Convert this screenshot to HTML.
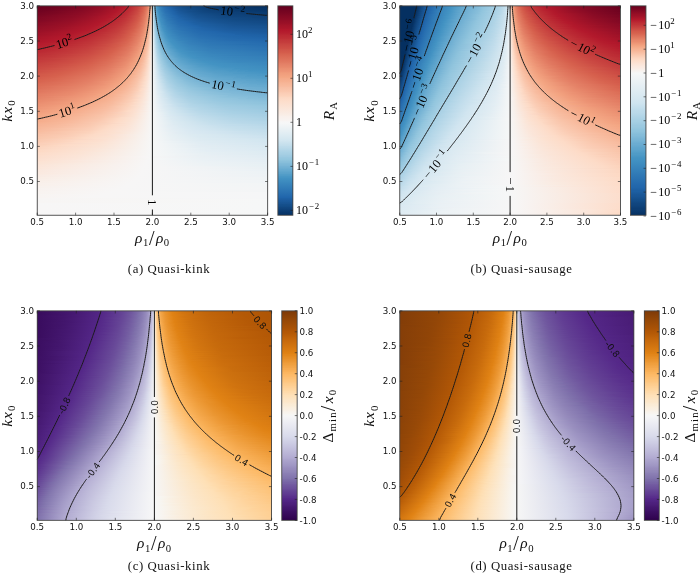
<!DOCTYPE html>
<html lang="en"><head><meta charset="utf-8"><title>Figure</title>
<style>
html,body{margin:0;padding:0;background:#fff}
body{width:700px;height:573px;position:relative;overflow:hidden}
.h{position:absolute}.h i{display:block;height:1px}
.cb{position:absolute}
svg{position:absolute;left:0;top:0;will-change:transform}
.s{font-family:"DejaVu Sans","Liberation Sans",sans-serif;fill:#111}
.m{font-family:"Liberation Serif","DejaVu Serif",serif;fill:#000}
.mi{font-family:"Liberation Serif","DejaVu Serif",serif;font-style:italic;fill:#111;letter-spacing:1.2px}
.c{font-family:"Liberation Serif","DejaVu Serif",serif;fill:#111}
</style></head><body>
<div class="h" style="left:37px;top:6px;width:231px;height:209px"><i style="background:linear-gradient(90deg,#67001f 0px,#700320 21.5px,#810823 47.5px,#930e26 65.5px,#a81529 80.5px,#b1182b 85.5px,#b61f2e 89.5px,#c94741 102.5px,#d55d4c 106.5px,#db6b55 108.5px,#e37e64 110.5px,#f09c7b 112.5px,#f6b191 113.5px,#fbceb7 114.5px,#f3f5f6 115.5px,#acd2e5 116.5px,#81bad8 117.5px,#62a7ce 118.5px,#4c99c6 119.5px,#408fc1 120.5px,#3681ba 122.5px,#246aae 128.5px,#175290 140.5px,#0f437b 156.5px,#08366a 187.5px,#053061 231px)"></i><i style="background:linear-gradient(90deg,#6a011f 0px,#700320 17.5px,#840924 48.5px,#960f27 66.5px,#a81529 79.5px,#b1182b 84.5px,#b61f2e 88.5px,#ba2832 92.5px,#c6413e 100.5px,#d6604d 106.5px,#df765e 109.5px,#e48066 110.5px,#f19e7d 112.5px,#f6b394 113.5px,#fbd0b9 114.5px,#f3f5f6 115.5px,#aed3e6 116.5px,#84bcd9 117.5px,#65a9cf 118.5px,#4f9bc7 119.5px,#4291c2 120.5px,#3783bb 122.5px,#2a71b2 126.5px,#2065ab 131.5px,#185493 140.5px,#144e8a 145.5px,#0f437b 159.5px,#09386d 185.5px,#073467 216.5px,#063264 217.5px,#063264 231px)"></i><i style="background:linear-gradient(90deg,#6a011f 0px,#760521 24.5px,#870a24 49.5px,#9c1127 69.5px,#ae172a 81.5px,#b3192c 83.5px,#b82531 90.5px,#c94741 101.5px,#d35a4a 105.5px,#e17860 109.5px,#e58368 110.5px,#f2a17f 112.5px,#f6b394 113.5px,#fbd0b9 114.5px,#f3f5f6 115.5px,#aed3e6 116.5px,#84bcd9 117.5px,#68abd0 118.5px,#529dc8 119.5px,#4393c3 120.5px,#3480b9 123.5px,#246aae 129.5px,#2065ab 132.5px,#1a5899 138.5px,#144e8a 147.5px,#0e4179 166.5px,#09386d 192.5px,#073467 229.5px,#063264 231px)"></i><i style="background:linear-gradient(90deg,#6d0220 0px,#730421 15.5px,#8a0b25 50.5px,#991027 65.5px,#ae172a 80.5px,#b3192c 82.5px,#b82531 89.5px,#c6413e 99.5px,#d7634f 106.5px,#dd7059 108.5px,#eb9172 111.5px,#f2a17f 112.5px,#f7b596 113.5px,#fcd3bc 114.5px,#f3f5f6 115.5px,#b1d5e7 116.5px,#87beda 117.5px,#6bacd1 118.5px,#569fc9 119.5px,#4695c4 120.5px,#3e8cbf 121.5px,#327cb7 124.5px,#2a71b2 127.5px,#2065ab 133.5px,#195696 141.5px,#124984 154.5px,#0f437b 165.5px,#0a3b70 190.5px,#073467 231px)"></i><i style="background:linear-gradient(90deg,#700320 0px,#730421 11.5px,#870a24 44.5px,#991027 63.5px,#b1182b 80.5px,#be3036 93.5px,#c94741 100.5px,#d6604d 105.5px,#db6b55 107.5px,#e27b62 109.5px,#ec9374 111.5px,#f3a481 112.5px,#f7b799 113.5px,#fcd5bf 114.5px,#f3f5f6 115.5px,#b3d6e8 116.5px,#8ac0db 117.5px,#6bacd1 118.5px,#4695c4 120.5px,#337eb8 124.5px,#2b73b3 127.5px,#1f63a8 135.5px,#1b5a9c 139.5px,#185493 144.5px,#0f437b 169.5px,#0c3d73 189.5px,#0c3d73 197.5px,#0a3b70 198.5px,#08366a 231px)"></i><i style="background:linear-gradient(90deg,#700320 0px,#8a0b25 45.5px,#9c1127 64.5px,#b1182b 79.5px,#bd2d35 91.5px,#cc4c44 101.5px,#d6604d 105.5px,#dc6e57 107.5px,#e37e64 109.5px,#ee9677 111.5px,#f4a683 112.5px,#f7b799 113.5px,#fcd5bf 114.5px,#f3f5f6 115.5px,#b6d7e8 116.5px,#8dc2dc 117.5px,#6eaed2 118.5px,#59a1ca 119.5px,#4997c5 120.5px,#408fc1 121.5px,#3480b9 124.5px,#2a71b2 128.5px,#1f63a8 136.5px,#1a5899 142.5px,#144e8a 153.5px,#10457e 168.5px,#0d3f76 187.5px,#0d3f76 195.5px,#0c3d73 196.5px,#0c3d73 205.5px,#0a3b70 206.5px,#09386d 231px)"></i><i style="background:linear-gradient(90deg,#730421 0px,#7c0722 20.5px,#8d0c25 46.5px,#9c1127 62.5px,#b1182b 78.5px,#bd2d35 90.5px,#c94741 99.5px,#da6853 106.5px,#e48066 109.5px,#ee9677 111.5px,#f4a683 112.5px,#f7b99c 113.5px,#fcd7c2 114.5px,#f3f5f6 115.5px,#b6d7e8 116.5px,#90c4dd 117.5px,#71b0d3 118.5px,#5ca3cb 119.5px,#4c99c6 120.5px,#4291c2 121.5px,#3c8abe 122.5px,#2b73b3 128.5px,#1f63a8 137.5px,#1c5c9f 140.5px,#175290 150.5px,#114781 167.5px,#0e4179 185.5px,#0d3f76 203.5px,#0c3d73 204.5px,#0a3b70 231px)"></i><i style="background:linear-gradient(90deg,#760521 0px,#7c0722 16.5px,#900d26 47.5px,#a51429 68.5px,#b1182b 76.5px,#bb2a34 88.5px,#cc4c44 100.5px,#d6604d 104.5px,#dd7059 107.5px,#e98b6e 110.5px,#ef9979 111.5px,#f5a886 112.5px,#f8bb9e 113.5px,#fcd7c2 114.5px,#f3f5f6 115.5px,#b8d8e9 116.5px,#93c6de 117.5px,#75b2d4 118.5px,#5fa5cd 119.5px,#4f9bc7 120.5px,#4393c3 121.5px,#3e8cbf 122.5px,#2c75b4 128.5px,#2267ac 135.5px,#1b5a9c 143.5px,#134c87 162.5px,#0e4179 192.5px,#0a3b70 231px)"></i><i style="background:linear-gradient(90deg,#760521 0px,#8d0c25 41.5px,#9f1228 61.5px,#b1182b 75.5px,#bb2a34 87.5px,#c53e3d 95.5px,#ce4f45 100.5px,#d55d4c 103.5px,#de735c 107.5px,#e58368 109.5px,#f09c7b 111.5px,#f5aa89 112.5px,#f8bb9e 113.5px,#fdd9c4 114.5px,#f3f5f6 115.5px,#bbdaea 116.5px,#93c6de 117.5px,#78b4d5 118.5px,#62a7ce 119.5px,#4695c4 121.5px,#3f8ec0 122.5px,#327cb7 126.5px,#2267ac 136.5px,#1d5fa2 141.5px,#15508d 158.5px,#0f437b 190.5px,#0c3d73 231px)"></i><i style="background:linear-gradient(90deg,#790622 0px,#900d26 42.5px,#9f1228 59.5px,#b1182b 73.5px,#b82531 83.5px,#bf3338 90.5px,#d05548 101.5px,#dc6e57 106.5px,#e6866a 109.5px,#f09c7b 111.5px,#f5aa89 112.5px,#f8bda1 113.5px,#fddbc7 114.5px,#f3f5f6 115.5px,#bddbea 116.5px,#96c7df 117.5px,#7bb6d6 118.5px,#65a9cf 119.5px,#569fc9 120.5px,#408fc1 122.5px,#3681ba 125.5px,#2c75b4 129.5px,#2065ab 139.5px,#1e61a5 141.5px,#175290 157.5px,#10457e 188.5px,#0d3f76 231px)"></i><i style="background:linear-gradient(90deg,#7c0722 0px,#8d0c25 35.5px,#960f27 47.5px,#b1182b 72.5px,#bf3338 89.5px,#d35a4a 102.5px,#e37e64 108.5px,#eb9172 110.5px,#f19e7d 111.5px,#f5ac8b 112.5px,#f8bfa4 113.5px,#fddbc7 114.5px,#f3f5f6 115.5px,#c0dceb 116.5px,#98c8e0 117.5px,#68abd0 119.5px,#4997c5 121.5px,#3a87bd 124.5px,#2e77b5 129.5px,#2065ab 140.5px,#1d5fa2 144.5px,#175290 160.5px,#10457e 195.5px,#0e4179 231px)"></i><i style="background:linear-gradient(90deg,#7f0823 0px,#8d0c25 32.5px,#991027 48.5px,#b3192c 73.5px,#bb2a34 84.5px,#c43b3c 92.5px,#d05548 100.5px,#d7634f 103.5px,#e17860 107.5px,#e8896c 109.5px,#f2a17f 111.5px,#f6af8e 112.5px,#f8bfa4 113.5px,#fddcc9 114.5px,#f5f6f7 115.5px,#c0dceb 116.5px,#9bc9e0 117.5px,#7eb8d7 118.5px,#59a1ca 120.5px,#4393c3 122.5px,#3b88be 124.5px,#2f79b5 129.5px,#266caf 135.5px,#2267ac 140.5px,#1f63a8 142.5px,#185493 159.5px,#124984 185.5px,#10457e 214.5px,#0f437b 215.5px,#0f437b 229.5px,#0e4179 231px)"></i><i style="background:linear-gradient(90deg,#7f0823 0px,#900d26 33.5px,#9c1127 49.5px,#b1182b 69.5px,#bf3338 87.5px,#c84440 94.5px,#d35a4a 101.5px,#da6853 104.5px,#e27b62 107.5px,#e98b6e 109.5px,#f3a481 111.5px,#f6b191 112.5px,#f9c2a7 113.5px,#fddcc9 114.5px,#f5f6f7 115.5px,#c2ddec 116.5px,#9dcbe1 117.5px,#81bad8 118.5px,#6bacd1 119.5px,#5ca3cb 120.5px,#4695c4 122.5px,#408fc1 123.5px,#327cb7 128.5px,#2267ac 140.5px,#195696 159.5px,#134c87 184.5px,#0f437b 231px)"></i><i style="background:linear-gradient(90deg,#810823 0px,#900d26 30.5px,#9f1228 50.5px,#b1182b 67.5px,#ba2832 80.5px,#c2383a 89.5px,#d05548 99.5px,#d86551 103.5px,#df765e 106.5px,#e58368 108.5px,#f3a481 111.5px,#f6b191 112.5px,#f9c4a9 113.5px,#fdddcb 114.5px,#f5f6f7 115.5px,#c5dfec 116.5px,#a0cce2 117.5px,#84bcd9 118.5px,#6eaed2 119.5px,#5fa5cd 120.5px,#4695c4 122.5px,#408fc1 123.5px,#2f79b5 130.5px,#266caf 137.5px,#2065ab 144.5px,#1e61a5 147.5px,#185493 166.5px,#124984 199.5px,#10457e 231px)"></i><i style="background:linear-gradient(90deg,#840924 0px,#840924 5.5px,#960f27 36.5px,#b3192c 68.5px,#c2383a 88.5px,#c84440 93.5px,#d35a4a 100.5px,#d7634f 102.5px,#e37e64 107.5px,#ea8e70 109.5px,#f4a683 111.5px,#f6b394 112.5px,#f9c4a9 113.5px,#fcdecd 114.5px,#f5f6f7 115.5px,#c5dfec 116.5px,#a0cce2 117.5px,#71b0d3 119.5px,#62a7ce 120.5px,#4997c5 122.5px,#4291c2 123.5px,#307ab6 130.5px,#2369ad 141.5px,#195696 165.5px,#134c87 197.5px,#114781 231px)"></i><i style="background:linear-gradient(90deg,#840924 0px,#960f27 33.5px,#b1182b 64.5px,#bd2d35 81.5px,#c2383a 87.5px,#ce4f45 96.5px,#d6604d 101.5px,#dc6e57 104.5px,#e48066 107.5px,#eb9172 109.5px,#f5a886 111.5px,#f7b596 112.5px,#f9c6ac 113.5px,#fcdecd 114.5px,#f5f6f7 115.5px,#c7e0ed 116.5px,#a2cde3 117.5px,#75b2d4 119.5px,#65a9cf 120.5px,#4393c3 123.5px,#337eb8 129.5px,#246aae 141.5px,#2267ac 146.5px,#1a5899 164.5px,#144e8a 195.5px,#124984 231px)"></i><i style="background:linear-gradient(90deg,#870a24 0px,#991027 34.5px,#b1182b 62.5px,#bf3338 83.5px,#c6413e 90.5px,#d35a4a 99.5px,#e27b62 106.5px,#ec9374 109.5px,#f5a886 111.5px,#f7b596 112.5px,#fac8af 113.5px,#fcdfcf 114.5px,#f5f6f7 115.5px,#cae1ee 116.5px,#a5cee3 117.5px,#78b4d5 119.5px,#59a1ca 121.5px,#408fc1 124.5px,#3480b9 129.5px,#276eb0 139.5px,#2065ab 150.5px,#1d5fa2 156.5px,#175290 185.5px,#124984 231px)"></i><i style="background:linear-gradient(90deg,#8a0b25 0px,#991027 31.5px,#b1182b 60.5px,#bf3338 82.5px,#c53e3d 88.5px,#d6604d 100.5px,#e58368 107.5px,#f19e7d 110.5px,#f7b799 112.5px,#fac8af 113.5px,#fcdfcf 114.5px,#f5f6f7 115.5px,#a7d0e4 117.5px,#8dc2dc 118.5px,#5ca3cb 121.5px,#4291c2 124.5px,#3681ba 129.5px,#2c75b4 135.5px,#266caf 142.5px,#2065ab 152.5px,#1d5fa2 159.5px,#175290 191.5px,#134c87 231px)"></i><i style="background:linear-gradient(90deg,#8a0b25 0px,#9c1127 32.5px,#b3192c 61.5px,#c2383a 84.5px,#d25849 97.5px,#db6b55 102.5px,#e6866a 107.5px,#f2a17f 110.5px,#f7b99c 112.5px,#facab1 113.5px,#fce0d0 114.5px,#f5f6f7 115.5px,#cce2ef 116.5px,#a9d1e5 117.5px,#90c4dd 118.5px,#6bacd1 120.5px,#4393c3 124.5px,#3885bc 128.5px,#2870b1 140.5px,#2065ab 154.5px,#1e61a5 158.5px,#175290 198.5px,#144e8a 231px)"></i><i style="background:linear-gradient(90deg,#8d0c25 0px,#9c1127 29.5px,#b3192c 59.5px,#c2383a 83.5px,#c94741 90.5px,#d55d4c 98.5px,#dd7059 103.5px,#e48066 106.5px,#f3a481 110.5px,#f5ac8b 111.5px,#f7b99c 112.5px,#facab1 113.5px,#fce0d0 114.5px,#f5f6f7 115.5px,#a9d1e5 117.5px,#7eb8d7 119.5px,#6eaed2 120.5px,#4695c4 124.5px,#3681ba 130.5px,#276eb0 143.5px,#2065ab 157.5px,#1d5fa2 165.5px,#185493 196.5px,#15508d 231px)"></i><i style="background:linear-gradient(90deg,#900d26 0px,#9c1127 26.5px,#b3192c 56.5px,#c13639 80.5px,#c94741 89.5px,#d6604d 98.5px,#dc6e57 102.5px,#e58368 106.5px,#eb9172 108.5px,#f3a481 110.5px,#f8bb9e 112.5px,#fbccb4 113.5px,#fce2d2 114.5px,#f5f6f7 115.5px,#acd2e5 117.5px,#81bad8 119.5px,#71b0d3 120.5px,#4f9bc7 123.5px,#4393c3 125.5px,#3783bb 130.5px,#2a71b2 141.5px,#2065ab 160.5px,#1e61a5 164.5px,#195696 195.5px,#175290 229.5px,#15508d 231px)"></i><i style="background:linear-gradient(90deg,#930e26 0px,#991027 17.5px,#b3192c 54.5px,#bf3338 77.5px,#c53e3d 84.5px,#d55d4c 97.5px,#dd7059 102.5px,#e98b6e 107.5px,#f4a683 110.5px,#f8bda1 112.5px,#fbceb7 113.5px,#fce2d2 114.5px,#f5f6f7 115.5px,#aed3e6 117.5px,#84bcd9 119.5px,#75b2d4 120.5px,#5ca3cb 122.5px,#4393c3 125.5px,#3885bc 130.5px,#2b73b3 141.5px,#2065ab 163.5px,#1e61a5 168.5px,#1a5899 193.5px,#175290 231px)"></i><i style="background:linear-gradient(90deg,#930e26 0px,#9f1228 24.5px,#b3192c 52.5px,#bb2a34 69.5px,#c43b3c 81.5px,#ce4f45 91.5px,#d6604d 97.5px,#dc6e57 101.5px,#e48066 105.5px,#f19e7d 109.5px,#f5a886 110.5px,#f6b191 111.5px,#f8bda1 112.5px,#fbceb7 113.5px,#fbe3d4 114.5px,#f5f6f7 115.5px,#b1d5e7 117.5px,#87beda 119.5px,#78b4d5 120.5px,#5fa5cd 122.5px,#4695c4 125.5px,#3b88be 129.5px,#2e77b5 139.5px,#2267ac 159.5px,#1b5a9c 191.5px,#185493 231px)"></i><i style="background:linear-gradient(90deg,#960f27 0px,#9c1127 15.5px,#b3192c 50.5px,#ba2832 65.5px,#c43b3c 80.5px,#cc4c44 89.5px,#d6604d 96.5px,#e17860 103.5px,#ee9677 108.5px,#f5a886 110.5px,#f8bfa4 112.5px,#fbd0b9 113.5px,#fbe3d4 114.5px,#f5f6f7 115.5px,#b3d6e8 117.5px,#9bc9e0 118.5px,#6bacd1 121.5px,#4f9bc7 124.5px,#4393c3 126.5px,#3c8abe 129.5px,#337eb8 135.5px,#2c75b4 142.5px,#2267ac 162.5px,#1c5c9f 189.5px,#195696 231px)"></i><i style="background:linear-gradient(90deg,#991027 0px,#9c1127 11.5px,#b1182b 44.5px,#b41c2d 51.5px,#bd2d35 68.5px,#c6413e 82.5px,#d6604d 96.5px,#df765e 102.5px,#eb9172 107.5px,#f2a17f 109.5px,#f5aa89 110.5px,#f9c2a7 112.5px,#fbe4d6 114.5px,#f5f6f7 115.5px,#b3d6e8 117.5px,#9dcbe1 118.5px,#7bb6d6 120.5px,#6eaed2 121.5px,#529dc8 124.5px,#4695c4 126.5px,#3a87bd 131.5px,#2b73b3 145.5px,#2267ac 165.5px,#1c5c9f 196.5px,#1a5899 231px)"></i><i style="background:linear-gradient(90deg,#991027 0px,#b1182b 41.5px,#b61f2e 52.5px,#be3036 69.5px,#c6413e 81.5px,#d6604d 95.5px,#da6853 98.5px,#e48066 104.5px,#f3a481 109.5px,#f7b596 111.5px,#f9c2a7 112.5px,#fbe4d6 114.5px,#f5f6f7 115.5px,#b6d7e8 117.5px,#a0cce2 118.5px,#7eb8d7 120.5px,#569fc9 124.5px,#4393c3 127.5px,#408fc1 128.5px,#337eb8 137.5px,#266caf 157.5px,#2065ab 179.5px,#1e61a5 186.5px,#1a5899 231px)"></i><i style="background:linear-gradient(90deg,#9c1127 0px,#b1182b 38.5px,#b72230 53.5px,#c53e3d 78.5px,#cc4c44 86.5px,#d6604d 94.5px,#dc6e57 99.5px,#e37e64 103.5px,#ea8e70 106.5px,#f4a683 109.5px,#f7b799 111.5px,#f9c4a9 112.5px,#fbe5d8 114.5px,#f5f6f7 115.5px,#b8d8e9 117.5px,#a2cde3 118.5px,#81bad8 120.5px,#68abd0 122.5px,#4695c4 127.5px,#3e8cbf 130.5px,#307ab6 141.5px,#266caf 160.5px,#2267ac 178.5px,#1e61a5 193.5px,#1b5a9c 231px)"></i><i style="background:linear-gradient(90deg,#9f1228 0px,#b1182b 35.5px,#b82531 54.5px,#bf3338 68.5px,#c94741 82.5px,#cf5246 88.5px,#d6604d 93.5px,#e27b62 102.5px,#ee9677 107.5px,#f4a683 109.5px,#f6af8e 110.5px,#f9c6ac 112.5px,#fbe5d8 114.5px,#f5f6f7 115.5px,#bbdaea 117.5px,#a5cee3 118.5px,#84bcd9 120.5px,#6bacd1 122.5px,#62a7ce 123.5px,#4393c3 128.5px,#3f8ec0 130.5px,#3480b9 138.5px,#2e77b5 146.5px,#266caf 163.5px,#2065ab 190.5px,#1e61a5 200.5px,#1c5c9f 231px)"></i><i style="background:linear-gradient(90deg,#9f1228 0px,#b1182b 32.5px,#ba2832 55.5px,#c84440 79.5px,#d6604d 93.5px,#e37e64 102.5px,#ef9979 107.5px,#f5a886 109.5px,#f7b99c 111.5px,#f9c6ac 112.5px,#fcd7c2 113.5px,#f5f6f7 115.5px,#bbdaea 117.5px,#a5cee3 118.5px,#87beda 120.5px,#6eaed2 122.5px,#569fc9 125.5px,#4291c2 129.5px,#327cb7 142.5px,#276eb0 162.5px,#2065ab 197.5px,#1f63a8 198.5px,#1d5fa2 231px)"></i><i style="background:linear-gradient(90deg,#a21328 0px,#b1182b 29.5px,#bb2a34 56.5px,#c13639 67.5px,#cc4c44 83.5px,#d6604d 92.5px,#dd7059 98.5px,#e58368 103.5px,#ec9374 106.5px,#f3a481 108.5px,#f8bb9e 111.5px,#fac8af 112.5px,#fbe6da 114.5px,#f5f6f7 115.5px,#bddbea 117.5px,#a7d0e4 118.5px,#7bb6d6 121.5px,#5fa5cd 124.5px,#4393c3 129.5px,#3a87bd 135.5px,#337eb8 142.5px,#2a71b2 158.5px,#2369ad 181.5px,#2065ab 204.5px,#1f63a8 205.5px,#1e61a5 231px)"></i><i style="background:linear-gradient(90deg,#a51429 0px,#b3192c 30.5px,#ba2832 50.5px,#c43b3c 70.5px,#cf5246 85.5px,#d6604d 91.5px,#e48066 102.5px,#f3a481 108.5px,#f6b394 110.5px,#facab1 112.5px,#fdd9c4 113.5px,#f5f6f7 115.5px,#c0dceb 117.5px,#a9d1e5 118.5px,#7eb8d7 121.5px,#62a7ce 124.5px,#4f9bc7 127.5px,#408fc1 131.5px,#327cb7 145.5px,#2a71b2 161.5px,#2369ad 186.5px,#1e61a5 231px)"></i><i style="background:linear-gradient(90deg,#a81529 0px,#b3192c 27.5px,#ba2832 48.5px,#c6413e 73.5px,#cf5246 84.5px,#d86551 93.5px,#e58368 102.5px,#f4a683 108.5px,#f8bda1 111.5px,#facab1 112.5px,#fddbc7 113.5px,#fae7dc 114.5px,#f5f6f7 115.5px,#dae9f2 116.5px,#acd2e5 118.5px,#9bc9e0 119.5px,#81bad8 121.5px,#65a9cf 124.5px,#4c99c6 128.5px,#4291c2 131.5px,#3480b9 143.5px,#2b73b3 160.5px,#2369ad 192.5px,#1f63a8 231px)"></i><i style="background:linear-gradient(90deg,#a81529 0px,#b3192c 23.5px,#bb2a34 49.5px,#c53e3d 69.5px,#ce4f45 81.5px,#d7634f 91.5px,#e48066 101.5px,#ec9374 105.5px,#f2a17f 107.5px,#f6af8e 109.5px,#f8bfa4 111.5px,#fddcc9 113.5px,#fae7dc 114.5px,#f6f7f7 115.5px,#c2ddec 117.5px,#aed3e6 118.5px,#9dcbe1 119.5px,#84bcd9 121.5px,#68abd0 124.5px,#4f9bc7 128.5px,#4393c3 131.5px,#3783bb 141.5px,#2b73b3 163.5px,#2369ad 199.5px,#2065ab 231px)"></i><i style="background:linear-gradient(90deg,#ab162a 0px,#b3192c 20.5px,#bd2d35 50.5px,#c84440 72.5px,#d6604d 89.5px,#e27b62 99.5px,#e98b6e 103.5px,#f5a886 108.5px,#f7b799 110.5px,#f9c2a7 111.5px,#fddcc9 113.5px,#f6f7f7 115.5px,#dbeaf2 116.5px,#aed3e6 118.5px,#7bb6d6 122.5px,#71b0d3 123.5px,#529dc8 128.5px,#4393c3 132.5px,#3681ba 144.5px,#2e77b5 159.5px,#266caf 189.5px,#2267ac 231px)"></i><i style="background:linear-gradient(90deg,#ae172a 0px,#b3192c 16.5px,#be3036 51.5px,#c6413e 68.5px,#d05548 82.5px,#d6604d 88.5px,#dc6e57 94.5px,#e8896c 102.5px,#f3a481 107.5px,#f6b191 109.5px,#f9c2a7 111.5px,#fdddcb 113.5px,#fae8de 114.5px,#f6f7f7 115.5px,#b1d5e7 118.5px,#7eb8d7 122.5px,#5fa5cd 126.5px,#4f9bc7 129.5px,#4393c3 133.5px,#3885bc 142.5px,#2e77b5 162.5px,#266caf 195.5px,#2267ac 231px)"></i><i style="background:linear-gradient(90deg,#ae172a 0px,#b41c2d 18.5px,#bf3338 52.5px,#c94741 71.5px,#d05548 81.5px,#da6853 91.5px,#e6866a 101.5px,#ec9374 104.5px,#f4a683 107.5px,#f6b394 109.5px,#f9c4a9 111.5px,#fdddcb 113.5px,#f6f7f7 115.5px,#ddebf2 116.5px,#b3d6e8 118.5px,#8ac0db 121.5px,#78b4d5 123.5px,#5ca3cb 127.5px,#4393c3 133.5px,#337eb8 152.5px,#2c75b4 169.5px,#2369ad 231px)"></i><i style="background:linear-gradient(90deg,#b1182b 0px,#b41c2d 14.5px,#c13639 53.5px,#cc4c44 74.5px,#da6853 90.5px,#e48066 99.5px,#f2a17f 106.5px,#f5ac8b 108.5px,#f8bb9e 110.5px,#fbd0b9 112.5px,#fae9df 114.5px,#f6f7f7 115.5px,#b6d7e8 118.5px,#a5cee3 119.5px,#8dc2dc 121.5px,#71b0d3 124.5px,#5fa5cd 127.5px,#4393c3 134.5px,#3681ba 149.5px,#2e77b5 168.5px,#246aae 231px)"></i><i style="background:linear-gradient(90deg,#b3192c 0px,#ba2832 31.5px,#c2383a 54.5px,#c94741 68.5px,#d86551 88.5px,#e6866a 100.5px,#f5a886 107.5px,#f7b596 109.5px,#f9c6ac 111.5px,#fcdecd 113.5px,#f6f7f7 115.5px,#b6d7e8 118.5px,#a7d0e4 119.5px,#75b2d4 124.5px,#5ca3cb 128.5px,#4393c3 135.5px,#3681ba 151.5px,#2e77b5 172.5px,#266caf 231px)"></i><i style="background:linear-gradient(90deg,#b41c2d 0px,#b61f2e 12.5px,#c43b3c 55.5px,#d25849 79.5px,#dd7059 92.5px,#e8896c 100.5px,#f19e7d 105.5px,#f5aa89 107.5px,#f7b799 109.5px,#fac8af 111.5px,#fcdfcf 113.5px,#f6f7f7 115.5px,#b8d8e9 118.5px,#a9d1e5 119.5px,#78b4d5 124.5px,#569fc9 130.5px,#4393c3 136.5px,#3681ba 153.5px,#2f79b5 171.5px,#2870b1 206.5px,#276eb0 231px)"></i><i style="background:linear-gradient(90deg,#b41c2d 0px,#bb2a34 29.5px,#c2383a 49.5px,#cb4942 67.5px,#d6604d 83.5px,#dc6e57 90.5px,#e58368 98.5px,#ee9677 103.5px,#f4a683 106.5px,#f6b191 108.5px,#f8bfa4 110.5px,#fcdfcf 113.5px,#f6f7f7 115.5px,#e0ecf3 116.5px,#acd2e5 119.5px,#81bad8 123.5px,#59a1ca 130.5px,#4393c3 137.5px,#3a87bd 148.5px,#307ab6 170.5px,#276eb0 231px)"></i><i style="background:linear-gradient(90deg,#b61f2e 0px,#b82531 15.5px,#c43b3c 50.5px,#ce4f45 70.5px,#d55d4c 80.5px,#dc6e57 89.5px,#ec9374 102.5px,#f5ac8b 107.5px,#f7b99c 109.5px,#facab1 111.5px,#faeae1 114.5px,#f6f7f7 115.5px,#bddbea 118.5px,#aed3e6 119.5px,#84bcd9 123.5px,#6eaed2 126.5px,#5ca3cb 130.5px,#4393c3 138.5px,#3a87bd 150.5px,#327cb7 169.5px,#2870b1 231px)"></i><i style="background:linear-gradient(90deg,#b72230 0px,#ba2832 17.5px,#c43b3c 48.5px,#d35a4a 77.5px,#e17860 93.5px,#ee9677 102.5px,#f6af8e 107.5px,#f8bb9e 109.5px,#fbccb4 111.5px,#fce2d2 113.5px,#f6f7f7 115.5px,#bddbea 118.5px,#aed3e6 119.5px,#98c8e0 121.5px,#78b4d5 125.5px,#62a7ce 129.5px,#529dc8 133.5px,#4393c3 139.5px,#3a87bd 152.5px,#327cb7 173.5px,#2a71b2 231px)"></i><i style="background:linear-gradient(90deg,#b72230 0px,#c53e3d 49.5px,#cc4c44 64.5px,#d6604d 79.5px,#df765e 91.5px,#ec9374 101.5px,#f5aa89 106.5px,#f9c4a9 110.5px,#fce2d2 113.5px,#f6f7f7 115.5px,#c0dceb 118.5px,#b1d5e7 119.5px,#9bc9e0 121.5px,#81bad8 124.5px,#6eaed2 127.5px,#59a1ca 132.5px,#4393c3 140.5px,#3a87bd 154.5px,#327cb7 177.5px,#2b73b3 231px)"></i><i style="background:linear-gradient(90deg,#b82531 0px,#bd2d35 20.5px,#c6413e 50.5px,#ce4f45 65.5px,#d6604d 78.5px,#de735c 89.5px,#ea8e70 99.5px,#f19e7d 103.5px,#f6b191 107.5px,#f8bda1 109.5px,#fbceb7 111.5px,#fddbc7 112.5px,#f9ebe3 114.5px,#f6f7f7 115.5px,#e3edf3 116.5px,#b3d6e8 119.5px,#9dcbe1 121.5px,#84bcd9 124.5px,#71b0d3 127.5px,#5fa5cd 131.5px,#4695c4 140.5px,#3c8abe 151.5px,#3480b9 171.5px,#2b73b3 231px)"></i><i style="background:linear-gradient(90deg,#ba2832 0px,#bd2d35 16.5px,#c84440 51.5px,#d6604d 76.5px,#de735c 88.5px,#e48066 94.5px,#ec9374 100.5px,#f2a17f 103.5px,#f6b394 107.5px,#f8bfa4 109.5px,#fbd0b9 111.5px,#fbe3d4 113.5px,#f6f7f7 115.5px,#e3edf3 116.5px,#a9d1e5 120.5px,#87beda 124.5px,#65a9cf 130.5px,#4695c4 141.5px,#3c8abe 153.5px,#3681ba 170.5px,#2c75b4 231px)"></i><i style="background:linear-gradient(90deg,#ba2832 0px,#c13639 28.5px,#c94741 52.5px,#d6604d 75.5px,#e27b62 91.5px,#ef9979 101.5px,#f6af8e 106.5px,#fac8af 110.5px,#fddcc9 112.5px,#f6f7f7 115.5px,#b6d7e8 119.5px,#90c4dd 123.5px,#71b0d3 128.5px,#4f9bc7 138.5px,#4393c3 144.5px,#3681ba 174.5px,#2e77b5 231px)"></i><i style="background:linear-gradient(90deg,#bb2a34 0px,#c43b3c 34.5px,#cb4942 53.5px,#d6604d 74.5px,#e27b62 90.5px,#ec9374 99.5px,#f3a481 103.5px,#f6b191 106.5px,#f9c2a7 109.5px,#fcd3bc 111.5px,#fbe4d6 113.5px,#f6f7f7 115.5px,#e4eef4 116.5px,#acd2e5 120.5px,#84bcd9 125.5px,#6bacd1 130.5px,#4997c5 142.5px,#3f8ec0 152.5px,#3783bb 173.5px,#2f79b5 231px)"></i><i style="background:linear-gradient(90deg,#bd2d35 0px,#c43b3c 31.5px,#cc4c44 54.5px,#d6604d 72.5px,#e17860 88.5px,#ef9979 100.5px,#f4a683 103.5px,#f7b799 107.5px,#f9c4a9 109.5px,#fcd5bf 111.5px,#fbe5d8 113.5px,#f6f7f7 115.5px,#d7e8f1 117.5px,#aed3e6 120.5px,#81bad8 126.5px,#62a7ce 133.5px,#4695c4 145.5px,#3f8ec0 154.5px,#3783bb 177.5px,#307ab6 231px)"></i><i style="background:linear-gradient(90deg,#be3036 0px,#bf3338 12.5px,#ce4f45 55.5px,#d6604d 71.5px,#de735c 84.5px,#e58368 92.5px,#f09c7b 100.5px,#f6af8e 105.5px,#fbccb4 110.5px,#fbe5d8 113.5px,#f6f7f7 115.5px,#e6eff4 116.5px,#b1d5e7 120.5px,#90c4dd 124.5px,#7eb8d7 127.5px,#62a7ce 134.5px,#4c99c6 143.5px,#4291c2 151.5px,#3a87bd 171.5px,#307ab6 231px)"></i><i style="background:linear-gradient(90deg,#be3036 0px,#c53e3d 29.5px,#cc4c44 49.5px,#d6604d 69.5px,#de735c 83.5px,#e48066 90.5px,#ef9979 99.5px,#f5a886 103.5px,#f7b596 106.5px,#f9c6ac 109.5px,#fbe5d8 113.5px,#f6f7f7 115.5px,#bddbea 119.5px,#a9d1e5 121.5px,#93c6de 124.5px,#6eaed2 131.5px,#529dc8 141.5px,#4393c3 151.5px,#3c8abe 166.5px,#3681ba 194.5px,#327cb7 231px)"></i><i style="background:linear-gradient(90deg,#bf3338 0px,#c2383a 15.5px,#ce4f45 50.5px,#d7634f 70.5px,#e48066 89.5px,#f19e7d 100.5px,#f4a683 102.5px,#f8bb9e 107.5px,#fac8af 109.5px,#fcdfcf 112.5px,#f6f7f7 115.5px,#c0dceb 119.5px,#a2cde3 122.5px,#7eb8d7 128.5px,#5ca3cb 138.5px,#4f9bc7 144.5px,#4393c3 153.5px,#3b88be 174.5px,#337eb8 231px)"></i><i style="background:linear-gradient(90deg,#c13639 0px,#c43b3c 17.5px,#cf5246 51.5px,#da6853 73.5px,#e8896c 92.5px,#f2a17f 100.5px,#f6b394 105.5px,#fbd0b9 110.5px,#fbe6da 113.5px,#f6f7f7 115.5px,#dae9f2 117.5px,#d1e5f0 118.5px,#b6d7e8 120.5px,#9dcbe1 123.5px,#78b4d5 130.5px,#5fa5cd 138.5px,#529dc8 144.5px,#4393c3 155.5px,#408fc1 161.5px,#3885bc 191.5px,#3480b9 231px)"></i><i style="background:linear-gradient(90deg,#c13639 0px,#cf5246 49.5px,#d86551 69.5px,#df765e 81.5px,#e8896c 91.5px,#f4a683 101.5px,#f7b99c 106.5px,#facab1 109.5px,#fddbc7 111.5px,#fae7dc 113.5px,#f6f7f7 115.5px,#e7f0f4 116.5px,#aed3e6 121.5px,#8dc2dc 126.5px,#7bb6d6 130.5px,#59a1ca 142.5px,#4393c3 157.5px,#3b88be 183.5px,#3480b9 231px)"></i><i style="background:linear-gradient(90deg,#c2383a 0px,#c6413e 20.5px,#d05548 50.5px,#db6b55 72.5px,#e6866a 89.5px,#f2a17f 99.5px,#f5aa89 102.5px,#f8bfa4 107.5px,#fce0d0 112.5px,#f6f7f7 115.5px,#c5dfec 119.5px,#b1d5e7 121.5px,#9bc9e0 124.5px,#8ac0db 127.5px,#6bacd1 135.5px,#569fc9 145.5px,#4291c2 163.5px,#3b88be 188.5px,#3681ba 231px)"></i><i style="background:linear-gradient(90deg,#c43b3c 0px,#c6413e 16.5px,#d25849 51.5px,#da6853 68.5px,#e6866a 88.5px,#eb9172 93.5px,#f4a683 100.5px,#f7b799 105.5px,#fcd5bf 110.5px,#fce2d2 112.5px,#f6f7f7 115.5px,#c7e0ed 119.5px,#b3d6e8 121.5px,#9dcbe1 124.5px,#78b4d5 132.5px,#5ca3cb 143.5px,#4997c5 156.5px,#4291c2 166.5px,#3a87bd 202.5px,#3783bb 231px)"></i><i style="background:linear-gradient(90deg,#c43b3c 0px,#cb4942 28.5px,#d35a4a 52.5px,#dc6e57 71.5px,#e27b62 81.5px,#ea8e70 91.5px,#f2a17f 98.5px,#f6b191 103.5px,#f8bda1 106.5px,#fbceb7 109.5px,#fce2d2 112.5px,#f6f7f7 115.5px,#bddbea 120.5px,#a0cce2 124.5px,#7eb8d7 131.5px,#62a7ce 141.5px,#4f9bc7 153.5px,#4393c3 166.5px,#3b88be 201.5px,#3885bc 231px)"></i><i style="background:linear-gradient(90deg,#c53e3d 0px,#ce4f45 34.5px,#d55d4c 53.5px,#de735c 74.5px,#ea8e70 90.5px,#f4a683 99.5px,#f6b394 103.5px,#f9c4a9 107.5px,#fcd7c2 110.5px,#fae8de 113.5px,#f6f7f7 115.5px,#c0dceb 120.5px,#a7d0e4 123.5px,#84bcd9 130.5px,#6bacd1 138.5px,#5fa5cd 144.5px,#4f9bc7 155.5px,#4393c3 169.5px,#3c8abe 199.5px,#3a87bd 231px)"></i><i style="background:linear-gradient(90deg,#c6413e 0px,#ce4f45 31.5px,#d6604d 54.5px,#dd7059 70.5px,#e98b6e 88.5px,#f4a683 98.5px,#f6b191 102.5px,#fbd0b9 109.5px,#fbe3d4 112.5px,#f6f7f7 115.5px,#b8d8e9 121.5px,#a9d1e5 123.5px,#87beda 130.5px,#65a9cf 142.5px,#569fc9 152.5px,#4393c3 173.5px,#3a87bd 231px)"></i><i style="background:linear-gradient(90deg,#c84440 0px,#c94741 12.5px,#d55d4c 48.5px,#de735c 71.5px,#e98b6e 87.5px,#f4a683 98.5px,#f7b99c 104.5px,#f9c2a7 106.5px,#fdd9c4 110.5px,#fae9df 113.5px,#f6f7f7 115.5px,#e0ecf3 117.5px,#bbdaea 121.5px,#9bc9e0 126.5px,#8dc2dc 129.5px,#6eaed2 139.5px,#5fa5cd 147.5px,#4f9bc7 160.5px,#4393c3 176.5px,#3b88be 231px)"></i><i style="background:linear-gradient(90deg,#c84440 0px,#cf5246 29.5px,#d6604d 49.5px,#dd7059 67.5px,#e6866a 83.5px,#ec9374 90.5px,#f5aa89 99.5px,#f7b799 103.5px,#fac8af 107.5px,#fbe4d6 112.5px,#f6f7f7 115.5px,#e0ecf3 117.5px,#d1e5f0 119.5px,#c5dfec 120.5px,#a7d0e4 124.5px,#84bcd9 132.5px,#68abd0 143.5px,#4f9bc7 163.5px,#4393c3 181.5px,#3c8abe 231px)"></i><i style="background:linear-gradient(90deg,#c94741 0px,#cc4c44 15.5px,#d7634f 50.5px,#df765e 70.5px,#ec9374 89.5px,#f4a683 96.5px,#f7b596 102.5px,#fbceb7 108.5px,#fcdfcf 111.5px,#f6f7f7 115.5px,#bddbea 121.5px,#a9d1e5 124.5px,#8ac0db 131.5px,#7bb6d6 136.5px,#6bacd1 143.5px,#529dc8 162.5px,#4393c3 185.5px,#3e8cbf 231px)"></i><i style="background:linear-gradient(90deg,#cb4942 0px,#ce4f45 17.5px,#d86551 51.5px,#e27b62 73.5px,#e98b6e 84.5px,#f09c7b 92.5px,#f5a886 97.5px,#f8bda1 104.5px,#fbd0b9 108.5px,#fbe5d8 112.5px,#f6f7f7 115.5px,#e1edf3 117.5px,#b1d5e7 123.5px,#98c8e0 128.5px,#7bb6d6 137.5px,#68abd0 146.5px,#59a1ca 158.5px,#4695c4 184.5px,#3e8cbf 231px)"></i><i style="background:linear-gradient(90deg,#cb4942 0px,#d86551 49.5px,#e17860 69.5px,#ef9979 90.5px,#f6af8e 99.5px,#f8bb9e 103.5px,#fbccb4 107.5px,#fbe6da 112.5px,#f6f7f7 115.5px,#dae9f2 118.5px,#b3d6e8 123.5px,#9bc9e0 128.5px,#7bb6d6 138.5px,#6eaed2 144.5px,#62a7ce 152.5px,#4c99c6 177.5px,#4695c4 196.5px,#4393c3 197.5px,#3f8ec0 231px)"></i><i style="background:linear-gradient(90deg,#cc4c44 0px,#d05548 20.5px,#da6853 50.5px,#e37e64 72.5px,#ef9979 89.5px,#f4a683 94.5px,#f7b99c 102.5px,#fcd3bc 108.5px,#fbe6da 112.5px,#f6f7f7 115.5px,#cce2ef 120.5px,#aed3e6 124.5px,#a5cee3 126.5px,#96c7df 130.5px,#75b2d4 142.5px,#5fa5cd 157.5px,#4f9bc7 176.5px,#4997c5 194.5px,#4695c4 195.5px,#4695c4 202.5px,#4393c3 203.5px,#408fc1 231px)"></i><i style="background:linear-gradient(90deg,#ce4f45 0px,#d55d4c 31.5px,#db6b55 51.5px,#e27b62 68.5px,#ef9979 88.5px,#f5ac8b 97.5px,#f9c2a7 104.5px,#fbceb7 107.5px,#fcdecd 110.5px,#f9ebe3 113.5px,#f6f7f7 115.5px,#bddbea 122.5px,#a2cde3 127.5px,#8ac0db 134.5px,#71b0d3 145.5px,#62a7ce 157.5px,#529dc8 175.5px,#4f9bc7 186.5px,#4997c5 193.5px,#4997c5 200.5px,#4695c4 201.5px,#4695c4 210.5px,#4393c3 211.5px,#4291c2 231px)"></i><i style="background:linear-gradient(90deg,#ce4f45 0px,#d6604d 32.5px,#dc6e57 52.5px,#e48066 71.5px,#ef9979 87.5px,#f4a683 93.5px,#f6b191 98.5px,#f8bfa4 103.5px,#fbd0b9 107.5px,#fbe3d4 111.5px,#f6f7f7 115.5px,#b8d8e9 123.5px,#a5cee3 127.5px,#87beda 136.5px,#78b4d5 143.5px,#65a9cf 156.5px,#569fc9 174.5px,#4f9bc7 191.5px,#4c99c6 192.5px,#4c99c6 199.5px,#4997c5 200.5px,#4997c5 207.5px,#4695c4 208.5px,#4393c3 231px)"></i><i style="background:linear-gradient(90deg,#cf5246 0px,#d6604d 29.5px,#dd7059 53.5px,#e6866a 74.5px,#f19e7d 89.5px,#f8bda1 102.5px,#fcdfcf 110.5px,#f6f7f7 115.5px,#ddebf2 118.5px,#bbdaea 123.5px,#a2cde3 128.5px,#7eb8d7 141.5px,#6bacd1 153.5px,#569fc9 178.5px,#4393c3 231px)"></i><i style="background:linear-gradient(90deg,#d05548 0px,#d6604d 26.5px,#de735c 54.5px,#e58368 70.5px,#f19e7d 88.5px,#f6af8e 96.5px,#f9c6ac 104.5px,#fbe4d6 111.5px,#f6f7f7 115.5px,#c2ddec 122.5px,#a5cee3 128.5px,#87beda 138.5px,#71b0d3 150.5px,#62a7ce 164.5px,#5fa5cd 172.5px,#59a1ca 177.5px,#529dc8 195.5px,#4f9bc7 196.5px,#4695c4 231px)"></i><i style="background:linear-gradient(90deg,#d25849 0px,#d6604d 22.5px,#dd7059 48.5px,#e6866a 71.5px,#f19e7d 87.5px,#f4a683 91.5px,#f7b596 98.5px,#f9c4a9 103.5px,#fce0d0 110.5px,#f6f7f7 115.5px,#deebf2 118.5px,#b8d8e9 124.5px,#a0cce2 130.5px,#87beda 139.5px,#71b0d3 152.5px,#62a7ce 168.5px,#569fc9 188.5px,#4997c5 231px)"></i><i style="background:linear-gradient(90deg,#d25849 0px,#d6604d 19.5px,#de735c 49.5px,#e58368 67.5px,#f19e7d 86.5px,#f4a683 90.5px,#f9c2a7 102.5px,#fbd0b9 106.5px,#fbe5d8 111.5px,#f6f7f7 115.5px,#c0dceb 123.5px,#acd2e5 127.5px,#8ac0db 139.5px,#78b4d5 149.5px,#68abd0 163.5px,#59a1ca 186.5px,#529dc8 209.5px,#4f9bc7 210.5px,#4f9bc7 219.5px,#4c99c6 220.5px,#4c99c6 231px)"></i><i style="background:linear-gradient(90deg,#d35a4a 0px,#d6604d 15.5px,#df765e 50.5px,#e8896c 70.5px,#f19e7d 85.5px,#f4a683 89.5px,#f8bda1 100.5px,#facab1 104.5px,#fddcc9 108.5px,#fbe5d8 111.5px,#f6f7f7 115.5px,#e0ecf3 118.5px,#c2ddec 123.5px,#a7d0e4 129.5px,#8ac0db 140.5px,#78b4d5 151.5px,#6bacd1 162.5px,#5fa5cd 179.5px,#59a1ca 198.5px,#569fc9 199.5px,#569fc9 207.5px,#529dc8 208.5px,#4f9bc7 229.5px,#4c99c6 231px)"></i><i style="background:linear-gradient(90deg,#d55d4c 0px,#d7634f 17.5px,#e17860 51.5px,#ea8e70 73.5px,#f3a481 87.5px,#f7b99c 98.5px,#fac8af 103.5px,#fddcc9 108.5px,#fae9df 112.5px,#f6f7f7 115.5px,#cae1ee 122.5px,#acd2e5 128.5px,#93c6de 137.5px,#78b4d5 153.5px,#62a7ce 178.5px,#5ca3cb 196.5px,#59a1ca 197.5px,#4f9bc7 231px)"></i><i style="background:linear-gradient(90deg,#d55d4c 0px,#dc6e57 33.5px,#e27b62 52.5px,#e98b6e 69.5px,#f3a481 86.5px,#f5aa89 90.5px,#f9c6ac 102.5px,#fdd9c4 107.5px,#fbe6da 111.5px,#f6f7f7 115.5px,#e1edf3 118.5px,#c0dceb 124.5px,#a7d0e4 130.5px,#93c6de 138.5px,#7eb8d7 150.5px,#65a9cf 177.5px,#5fa5cd 195.5px,#5ca3cb 196.5px,#5ca3cb 203.5px,#59a1ca 204.5px,#529dc8 231px)"></i><i style="background:linear-gradient(90deg,#d6604d 0px,#da6853 20.5px,#e27b62 50.5px,#eb9172 72.5px,#f2a17f 83.5px,#f5aa89 89.5px,#f9c2a7 100.5px,#fdddcb 108.5px,#faeae1 112.5px,#f6f7f7 115.5px,#c7e0ed 123.5px,#a9d1e5 130.5px,#96c7df 138.5px,#7eb8d7 152.5px,#71b0d3 164.5px,#62a7ce 187.5px,#569fc9 231px)"></i><i style="background:linear-gradient(90deg,#d7634f 0px,#da6853 16.5px,#e37e64 51.5px,#ea8e70 68.5px,#f2a17f 82.5px,#f6b191 92.5px,#f9c6ac 101.5px,#fce0d0 109.5px,#f6f7f7 115.5px,#ddebf2 119.5px,#aed3e6 129.5px,#96c7df 139.5px,#8dc2dc 145.5px,#87beda 147.5px,#75b2d4 163.5px,#68abd0 180.5px,#62a7ce 199.5px,#5fa5cd 200.5px,#5fa5cd 208.5px,#5ca3cb 209.5px,#5ca3cb 218.5px,#59a1ca 219.5px,#59a1ca 231px)"></i><i style="background:linear-gradient(90deg,#d7634f 0px,#dd7059 28.5px,#e48066 52.5px,#f2a17f 81.5px,#f6b191 91.5px,#f9c2a7 99.5px,#fce2d2 109.5px,#f6f7f7 115.5px,#c5dfec 124.5px,#a7d0e4 132.5px,#96c7df 140.5px,#84bcd9 151.5px,#78b4d5 162.5px,#6bacd1 179.5px,#59a1ca 231px)"></i><i style="background:linear-gradient(90deg,#d86551 0px,#df765e 34.5px,#e58368 53.5px,#ef9979 74.5px,#f4a683 83.5px,#f6af8e 89.5px,#f9c6ac 100.5px,#fddbc7 106.5px,#fbe5d8 110.5px,#f6f7f7 115.5px,#deebf2 119.5px,#bddbea 126.5px,#acd2e5 131.5px,#98c8e0 140.5px,#84bcd9 153.5px,#6eaed2 178.5px,#68abd0 196.5px,#65a9cf 197.5px,#65a9cf 204.5px,#62a7ce 205.5px,#5ca3cb 231px)"></i><i style="background:linear-gradient(90deg,#da6853 0px,#dd7059 21.5px,#e48066 47.5px,#e98b6e 60.5px,#f4a683 82.5px,#f7b799 93.5px,#f9c2a7 98.5px,#fbe3d4 109.5px,#f6f7f7 115.5px,#e4eef4 118.5px,#b1d5e7 130.5px,#a0cce2 137.5px,#8ac0db 150.5px,#78b4d5 168.5px,#78b4d5 172.5px,#6eaed2 182.5px,#68abd0 202.5px,#65a9cf 203.5px,#65a9cf 211.5px,#62a7ce 212.5px,#5fa5cd 231px)"></i><i style="background:linear-gradient(90deg,#db6b55 0px,#dd7059 17.5px,#e58368 48.5px,#ec9374 66.5px,#f3a481 79.5px,#f7b596 91.5px,#f9c6ac 99.5px,#fce0d0 108.5px,#f6f7f7 115.5px,#e0ecf3 119.5px,#b6d7e8 129.5px,#a0cce2 138.5px,#8ac0db 152.5px,#7eb8d7 164.5px,#6eaed2 187.5px,#68abd0 209.5px,#65a9cf 210.5px,#65a9cf 219.5px,#62a7ce 220.5px,#62a7ce 231px)"></i><i style="background:linear-gradient(90deg,#db6b55 0px,#e17860 29.5px,#e6866a 49.5px,#ee9677 67.5px,#f5aa89 83.5px,#f6b394 89.5px,#facab1 100.5px,#fddbc7 105.5px,#fbe4d6 109.5px,#f6f7f7 115.5px,#d8e9f1 121.5px,#b8d8e9 129.5px,#a0cce2 139.5px,#8ac0db 154.5px,#75b2d4 180.5px,#6bacd1 207.5px,#68abd0 208.5px,#65a9cf 229.5px,#62a7ce 231px)"></i><i style="background:linear-gradient(90deg,#dc6e57 0px,#e58368 43.5px,#f09c7b 70.5px,#f5aa89 82.5px,#f8bb9e 93.5px,#f9c6ac 98.5px,#fce2d2 108.5px,#f6f7f7 115.5px,#ddebf2 120.5px,#b3d6e8 131.5px,#a0cce2 140.5px,#90c4dd 151.5px,#84bcd9 162.5px,#78b4d5 179.5px,#71b0d3 197.5px,#6eaed2 198.5px,#6eaed2 205.5px,#6bacd1 206.5px,#65a9cf 231px)"></i><i style="background:linear-gradient(90deg,#dd7059 0px,#de735c 11.5px,#e6866a 44.5px,#ef9979 66.5px,#f5a886 79.5px,#f7b99c 91.5px,#facab1 99.5px,#fae7dc 110.5px,#f6f7f7 115.5px,#dae9f2 121.5px,#b8d8e9 130.5px,#a7d0e4 137.5px,#90c4dd 153.5px,#78b4d5 183.5px,#68abd0 231px)"></i><i style="background:linear-gradient(90deg,#dd7059 0px,#e48066 33.5px,#ea8e70 52.5px,#f19e7d 69.5px,#f6af8e 83.5px,#f7b99c 90.5px,#fbd0b9 101.5px,#fddbc7 104.5px,#fbe5d8 109.5px,#f6f7f7 115.5px,#deebf2 120.5px,#bddbea 129.5px,#a7d0e4 138.5px,#96c7df 150.5px,#7bb6d6 182.5px,#71b0d3 210.5px,#6eaed2 211.5px,#6bacd1 231px)"></i><i style="background:linear-gradient(90deg,#de735c 0px,#e27b62 20.5px,#ea8e70 50.5px,#f4a683 74.5px,#f7b799 88.5px,#facab1 98.5px,#fddbc7 104.5px,#fae8de 110.5px,#f6f7f7 115.5px,#dbeaf2 121.5px,#c0dceb 129.5px,#a9d1e5 138.5px,#96c7df 152.5px,#84bcd9 171.5px,#7bb6d6 192.5px,#78b4d5 193.5px,#71b0d3 218.5px,#6eaed2 219.5px,#6eaed2 231px)"></i><i style="background:linear-gradient(90deg,#df765e 0px,#e58368 31.5px,#eb9172 51.5px,#f4a683 72.5px,#f6b394 84.5px,#f8bda1 91.5px,#fbd0b9 100.5px,#fddbc7 103.5px,#fcdfcf 106.5px,#f6f7f7 115.5px,#e0ecf3 120.5px,#b8d8e9 132.5px,#a5cee3 142.5px,#96c7df 154.5px,#84bcd9 175.5px,#7eb8d7 191.5px,#7bb6d6 192.5px,#6eaed2 231px)"></i><i style="background:linear-gradient(90deg,#df765e 0px,#e98b6e 41.5px,#f4a683 71.5px,#f8bda1 90.5px,#fcd5bf 101.5px,#f9ebe3 111.5px,#f6f7f7 115.5px,#ddebf2 121.5px,#d2e6f0 125.5px,#c0dceb 130.5px,#a9d1e5 140.5px,#9bc9e0 151.5px,#81bad8 184.5px,#71b0d3 231px)"></i><i style="background:linear-gradient(90deg,#e17860 0px,#e8896c 34.5px,#ee9677 53.5px,#f5a886 72.5px,#f7b799 85.5px,#f9c6ac 94.5px,#fbe3d4 107.5px,#f6f7f7 115.5px,#e1edf3 120.5px,#d1e5f0 126.5px,#c5dfec 129.5px,#b1d5e7 137.5px,#9bc9e0 153.5px,#81bad8 189.5px,#75b2d4 231px)"></i><i style="background:linear-gradient(90deg,#e27b62 0px,#e98b6e 35.5px,#f4a683 68.5px,#f7b596 82.5px,#f9c4a9 92.5px,#fcdfcf 105.5px,#f6f7f7 115.5px,#deebf2 121.5px,#cae1ee 128.5px,#b1d5e7 138.5px,#a0cce2 150.5px,#8dc2dc 172.5px,#84bcd9 193.5px,#81bad8 194.5px,#7bb6d6 219.5px,#78b4d5 220.5px,#78b4d5 231px)"></i><i style="background:linear-gradient(90deg,#e37e64 0px,#e98b6e 32.5px,#f19e7d 58.5px,#f3a481 61.5px,#f5aa89 71.5px,#f9c2a7 90.5px,#fbe4d6 107.5px,#f6f7f7 115.5px,#e3edf3 120.5px,#bbdaea 134.5px,#acd2e5 142.5px,#a0cce2 152.5px,#87beda 186.5px,#78b4d5 231px)"></i><i style="background:linear-gradient(90deg,#e37e64 0px,#e98b6e 29.5px,#ef9979 49.5px,#f4a683 64.5px,#f6b191 76.5px,#facab1 94.5px,#fddbc7 101.5px,#fce0d0 105.5px,#f6f7f7 115.5px,#dae9f2 123.5px,#b8d8e9 136.5px,#a5cee3 149.5px,#96c7df 166.5px,#8ac0db 190.5px,#87beda 191.5px,#7bb6d6 231px)"></i><i style="background:linear-gradient(90deg,#e48066 0px,#ee9677 43.5px,#f5ac8b 70.5px,#f7b99c 82.5px,#fac8af 92.5px,#fddbc7 101.5px,#fbe5d8 107.5px,#f6f7f7 115.5px,#d8e9f1 124.5px,#b8d8e9 137.5px,#a5cee3 151.5px,#8ac0db 190.5px,#7eb8d7 231px)"></i><i style="background:linear-gradient(90deg,#e58368 0px,#e6866a 11.5px,#ef9979 44.5px,#f4a683 60.5px,#f6b191 73.5px,#f9c6ac 90.5px,#fbe4d6 106.5px,#f6f7f7 115.5px,#deebf2 122.5px,#b8d8e9 138.5px,#a5cee3 153.5px,#8dc2dc 188.5px,#87beda 210.5px,#84bcd9 211.5px,#84bcd9 220.5px,#81bad8 221.5px,#81bad8 231px)"></i><i style="background:linear-gradient(90deg,#e58368 0px,#f09c7b 45.5px,#f6af8e 69.5px,#f8bda1 83.5px,#fbccb4 93.5px,#fbe6da 107.5px,#f6f7f7 115.5px,#dae9f2 124.5px,#d1e5f0 129.5px,#c2ddec 134.5px,#a9d1e5 150.5px,#96c7df 176.5px,#8dc2dc 200.5px,#8ac0db 201.5px,#8ac0db 208.5px,#87beda 209.5px,#84bcd9 229.5px,#81bad8 231px)"></i><i style="background:linear-gradient(90deg,#e6866a 0px,#ea8e70 20.5px,#f2a17f 50.5px,#f6b191 70.5px,#f8bda1 82.5px,#fbccb4 92.5px,#fddbc7 99.5px,#fae8de 108.5px,#f6f7f7 115.5px,#e0ecf3 122.5px,#c0dceb 136.5px,#a7d0e4 154.5px,#96c7df 180.5px,#84bcd9 231px)"></i><i style="background:linear-gradient(90deg,#e8896c 0px,#ea8e70 16.5px,#f3a481 51.5px,#f7b596 73.5px,#f9c2a7 84.5px,#fcd5bf 96.5px,#faeae1 109.5px,#f6f7f7 115.5px,#deebf2 123.5px,#c0dceb 137.5px,#acd2e5 151.5px,#98c8e0 179.5px,#87beda 231px)"></i><i style="background:linear-gradient(90deg,#e8896c 0px,#f19e7d 41.5px,#f6b394 69.5px,#f9c2a7 83.5px,#fbd0b9 93.5px,#fbe3d4 104.5px,#f6f7f7 115.5px,#e1edf3 122.5px,#c0dceb 138.5px,#acd2e5 153.5px,#98c8e0 183.5px,#8ac0db 231px)"></i><i style="background:linear-gradient(90deg,#e98b6e 0px,#f3a481 46.5px,#f7b799 72.5px,#fbceb7 91.5px,#fddbc7 97.5px,#fce2d2 103.5px,#f6f7f7 115.5px,#e4eef4 121.5px,#c7e0ed 135.5px,#b8d8e9 144.5px,#acd2e5 155.5px,#a0cce2 172.5px,#96c7df 194.5px,#8dc2dc 231px)"></i><i style="background:linear-gradient(90deg,#ea8e70 0px,#ee9677 21.5px,#f4a683 47.5px,#f8bb9e 75.5px,#fcd7c2 95.5px,#fae8de 107.5px,#f6f7f7 115.5px,#e3edf3 122.5px,#c7e0ed 136.5px,#acd2e5 157.5px,#9bc9e0 186.5px,#8dc2dc 231px)"></i><i style="background:linear-gradient(90deg,#eb9172 0px,#ee9677 17.5px,#f3a481 40.5px,#f7b99c 71.5px,#f9c6ac 83.5px,#fcd5bf 93.5px,#fae7dc 106.5px,#f6f7f7 115.5px,#ddebf2 125.5px,#d1e5f0 133.5px,#c7e0ed 137.5px,#b1d5e7 154.5px,#9dcbe1 185.5px,#90c4dd 231px)"></i><i style="background:linear-gradient(90deg,#eb9172 0px,#f4a683 41.5px,#f8bb9e 72.5px,#fcd3bc 91.5px,#fddbc7 95.5px,#fbe5d8 104.5px,#f6f7f7 115.5px,#dae9f2 127.5px,#c2ddec 141.5px,#b3d6e8 153.5px,#a0cce2 184.5px,#93c6de 231px)"></i><i style="background:linear-gradient(90deg,#ec9374 0px,#f4a683 39.5px,#f7b99c 68.5px,#fcd3bc 90.5px,#fbe3d4 102.5px,#f6f7f7 115.5px,#deebf2 125.5px,#c2ddec 142.5px,#b3d6e8 155.5px,#a0cce2 188.5px,#96c7df 231px)"></i><i style="background:linear-gradient(90deg,#ee9677 0px,#f4a683 36.5px,#f8bda1 71.5px,#fcd7c2 92.5px,#fae7dc 105.5px,#f6f7f7 115.5px,#dbeaf2 127.5px,#b8d8e9 152.5px,#a5cee3 181.5px,#96c7df 231px)"></i><i style="background:linear-gradient(90deg,#ee9677 0px,#f4a683 33.5px,#f8bb9e 67.5px,#fac8af 80.5px,#fdddcb 96.5px,#fbe5d8 103.5px,#f6f7f7 115.5px,#e0ecf3 125.5px,#c5dfec 143.5px,#b1d5e7 163.5px,#a2cde3 192.5px,#98c8e0 231px)"></i><i style="background:linear-gradient(90deg,#ef9979 0px,#f5a886 34.5px,#f8bfa4 70.5px,#fbceb7 84.5px,#fddcc9 94.5px,#fae8de 105.5px,#f6f7f7 115.5px,#d8e9f1 130.5px,#bddbea 151.5px,#b3d6e8 162.5px,#a5cee3 190.5px,#9bc9e0 231px)"></i><i style="background:linear-gradient(90deg,#f09c7b 0px,#f5a886 31.5px,#f8bda1 66.5px,#fbceb7 83.5px,#fddbc7 91.5px,#fcdfcf 97.5px,#f6f7f7 115.5px,#e3edf3 124.5px,#d5e7f1 133.5px,#b8d8e9 158.5px,#a5cee3 195.5px,#9dcbe1 231px)"></i><i style="background:linear-gradient(90deg,#f09c7b 0px,#f5a886 28.5px,#f8bda1 64.5px,#fbccb4 80.5px,#fddbc7 90.5px,#fcdecd 95.5px,#f9ebe3 107.5px,#f6f7f7 115.5px,#e7f0f4 122.5px,#d5e7f1 134.5px,#c0dceb 152.5px,#b6d7e8 164.5px,#a9d1e5 187.5px,#9dcbe1 231px)"></i><i style="background:linear-gradient(90deg,#f19e7d 0px,#f5ac8b 34.5px,#f8bfa4 65.5px,#fce2d2 98.5px,#f6f7f7 115.5px,#d8e9f1 132.5px,#c2ddec 151.5px,#b8d8e9 163.5px,#a9d1e5 192.5px,#a0cce2 231px)"></i><i style="background:linear-gradient(90deg,#f2a17f 0px,#f5aa89 26.5px,#f8bfa4 63.5px,#fac8af 73.5px,#fcdfcf 95.5px,#f6f7f7 115.5px,#d8e9f1 133.5px,#bbdaea 162.5px,#a9d1e5 197.5px,#a2cde3 231px)"></i><i style="background:linear-gradient(90deg,#f3a481 0px,#f6af8e 32.5px,#f9c2a7 64.5px,#fcd3bc 82.5px,#fbe4d6 99.5px,#f6f7f7 115.5px,#dbeaf2 131.5px,#bddbea 161.5px,#aed3e6 189.5px,#a5cee3 231px)"></i><i style="background:linear-gradient(90deg,#f3a481 0px,#f7b596 42.5px,#fac8af 70.5px,#fce2d2 96.5px,#f6f7f7 115.5px,#dae9f2 133.5px,#c2ddec 157.5px,#b1d5e7 187.5px,#a5cee3 231px)"></i><i style="background:linear-gradient(90deg,#f4a683 0px,#f6b191 30.5px,#f9c4a9 63.5px,#fce0d0 94.5px,#f6f7f7 115.5px,#deebf2 130.5px,#c0dceb 163.5px,#b1d5e7 192.5px,#a7d0e4 231px)"></i><i style="background:linear-gradient(90deg,#f5a886 0px,#f6b191 27.5px,#f9c6ac 64.5px,#fcd5bf 80.5px,#fddbc7 84.5px,#fbe4d6 97.5px,#f6f7f7 115.5px,#ddebf2 132.5px,#c2ddec 162.5px,#b1d5e7 197.5px,#a9d1e5 231px)"></i><i style="background:linear-gradient(90deg,#f5a886 0px,#f7b596 33.5px,#f9c6ac 62.5px,#fddbc7 83.5px,#fbe6da 99.5px,#f6f7f7 115.5px,#dbeaf2 134.5px,#c5dfec 161.5px,#b6d7e8 189.5px,#acd2e5 231px)"></i><i style="background:linear-gradient(90deg,#f5aa89 0px,#f7b596 30.5px,#fac8af 63.5px,#fddbc7 82.5px,#fce2d2 93.5px,#f6f7f7 115.5px,#deebf2 132.5px,#c7e0ed 160.5px,#b8d8e9 187.5px,#acd2e5 231px)"></i><i style="background:linear-gradient(90deg,#f5ac8b 0px,#f7b799 31.5px,#fac8af 61.5px,#fddbc7 81.5px,#fbe4d6 95.5px,#f6f7f7 115.5px,#dbeaf2 136.5px,#c5dfec 166.5px,#b6d7e8 199.5px,#aed3e6 231px)"></i><i style="background:linear-gradient(90deg,#f5ac8b 0px,#f7b799 28.5px,#fac8af 59.5px,#fddbc7 80.5px,#fbe3d4 93.5px,#f6f7f7 115.5px,#ddebf2 135.5px,#c5dfec 169.5px,#b8d8e9 197.5px,#b1d5e7 231px)"></i><i style="background:linear-gradient(90deg,#f6af8e 0px,#f8bb9e 34.5px,#fbd0b9 68.5px,#fddbc7 78.5px,#fbe5d8 95.5px,#f6f7f7 115.5px,#ddebf2 136.5px,#c5dfec 172.5px,#b8d8e9 203.5px,#b3d6e8 231px)"></i><i style="background:linear-gradient(90deg,#f6b191 0px,#f7b799 21.5px,#f9c6ac 51.5px,#fce0d0 88.5px,#f6f7f7 115.5px,#ddebf2 137.5px,#c7e0ed 171.5px,#bddbea 193.5px,#b3d6e8 231px)"></i><i style="background:linear-gradient(90deg,#f6b394 0px,#f7b799 17.5px,#fac8af 52.5px,#fcd5bf 70.5px,#fddbc7 75.5px,#fbe4d6 92.5px,#f6f7f7 115.5px,#deebf2 136.5px,#c7e0ed 174.5px,#b6d7e8 231px)"></i><i style="background:linear-gradient(90deg,#f6b394 0px,#f8bda1 29.5px,#facab1 53.5px,#fddbc7 74.5px,#fce0d0 86.5px,#f6f7f7 115.5px,#e3edf3 132.5px,#d7e8f1 148.5px,#c2ddec 190.5px,#b8d8e9 231px)"></i><i style="background:linear-gradient(90deg,#f7b596 0px,#f7b99c 15.5px,#facab1 51.5px,#fddbc7 72.5px,#fbe5d8 92.5px,#f6f7f7 115.5px,#e4eef4 131.5px,#d8e9f1 147.5px,#c5dfec 188.5px,#bbdaea 231px)"></i><i style="background:linear-gradient(90deg,#f7b799 0px,#f8bda1 22.5px,#fbccb4 52.5px,#fddbc7 71.5px,#fbe5d8 91.5px,#f6f7f7 115.5px,#e6eff4 130.5px,#dae9f2 146.5px,#c7e0ed 186.5px,#bbdaea 231px)"></i><i style="background:linear-gradient(90deg,#f7b799 0px,#fbceb7 53.5px,#fddbc7 69.5px,#fbe6da 92.5px,#f6f7f7 115.5px,#e1edf3 136.5px,#d5e7f1 157.5px,#c5dfec 198.5px,#bddbea 231px)"></i><i style="background:linear-gradient(90deg,#f7b99c 0px,#f9c4a9 30.5px,#fbd0b9 54.5px,#fddbc7 67.5px,#fbe6da 91.5px,#f6f7f7 115.5px,#e3edf3 135.5px,#d5e7f1 159.5px,#c5dfec 203.5px,#c0dceb 231px)"></i><i style="background:linear-gradient(90deg,#f8bb9e 0px,#f8bfa4 16.5px,#fbd0b9 52.5px,#fddbc7 65.5px,#fae7dc 92.5px,#f6f7f7 115.5px,#e6eff4 132.5px,#dae9f2 151.5px,#c7e0ed 201.5px,#c2ddec 231px)"></i><i style="background:linear-gradient(90deg,#f8bb9e 0px,#fcd3bc 53.5px,#fdd9c4 60.5px,#fae8de 93.5px,#f6f7f7 115.5px,#e7f0f4 131.5px,#dae9f2 153.5px,#c2ddec 231px)"></i><i style="background:linear-gradient(90deg,#f8bda1 0px,#fbd0b9 47.5px,#fddbc7 62.5px,#fbe3d4 82.5px,#f6f7f7 115.5px,#e3edf3 138.5px,#dae9f2 155.5px,#cae1ee 204.5px,#c5dfec 231px)"></i><i style="background:linear-gradient(90deg,#f8bfa4 0px,#f9c6ac 21.5px,#fcd5bf 52.5px,#fddbc7 59.5px,#fbe4d6 83.5px,#f6f7f7 115.5px,#e3edf3 139.5px,#dae9f2 157.5px,#cae1ee 211.5px,#c7e0ed 231px)"></i><i style="background:linear-gradient(90deg,#f9c2a7 0px,#facab1 28.5px,#fddbc7 57.5px,#fcdecd 69.5px,#f6f7f7 115.5px,#e7f0f4 133.5px,#ddebf2 152.5px,#c7e0ed 231px)"></i><i style="background:linear-gradient(90deg,#f9c2a7 0px,#fbceb7 34.5px,#fddbc7 55.5px,#fcdfcf 70.5px,#f6f7f7 115.5px,#e7f0f4 134.5px,#ddebf2 154.5px,#cae1ee 231px)"></i><i style="background:linear-gradient(90deg,#f9c4a9 0px,#fbceb7 31.5px,#fddbc7 53.5px,#fce2d2 74.5px,#f6f7f7 115.5px,#e7f0f4 135.5px,#dbeaf2 160.5px,#cce2ef 231px)"></i><i style="background:linear-gradient(90deg,#f9c6ac 0px,#facab1 17.5px,#fddbc7 50.5px,#fbe3d4 75.5px,#f6f7f7 115.5px,#e7f0f4 136.5px,#dbeaf2 163.5px,#cce2ef 231px)"></i><i style="background:linear-gradient(90deg,#f9c6ac 0px,#fcd3bc 34.5px,#fddbc7 48.5px,#fbe4d6 76.5px,#f6f7f7 115.5px,#e7f0f4 137.5px,#ddebf2 161.5px,#cfe4ef 231px)"></i><i style="background:linear-gradient(90deg,#fac8af 0px,#fce0d0 66.5px,#f6f7f7 115.5px,#e9f0f4 135.5px,#dbeaf2 168.5px,#d1e5f0 231px)"></i><i style="background:linear-gradient(90deg,#facab1 0px,#fbccb4 11.5px,#fddbc7 42.5px,#fce0d0 64.5px,#f6f7f7 115.5px,#e9f0f4 136.5px,#deebf2 161.5px,#d2e6f0 231px)"></i><i style="background:linear-gradient(90deg,#facab1 0px,#fcd7c2 34.5px,#fddbc7 39.5px,#fce0d0 62.5px,#f6f7f7 115.5px,#e0ecf3 159.5px,#d2e6f0 231px)"></i><i style="background:linear-gradient(90deg,#fbccb4 0px,#fcd3bc 20.5px,#fddbc7 36.5px,#fce2d2 63.5px,#f6f7f7 115.5px,#e6eff4 145.5px,#ddebf2 172.5px,#d4e6f1 231px)"></i><i style="background:linear-gradient(90deg,#fbceb7 0px,#fbe4d6 68.5px,#f6f7f7 115.5px,#e0ecf3 164.5px,#d5e7f1 231px)"></i><i style="background:linear-gradient(90deg,#fbd0b9 0px,#fbd0b9 6.5px,#fddbc7 30.5px,#fce2d2 59.5px,#f6f7f7 115.5px,#e0ecf3 167.5px,#d5e7f1 231px)"></i><i style="background:linear-gradient(90deg,#fbd0b9 0px,#fddbc7 26.5px,#fbe4d6 64.5px,#f6f7f7 115.5px,#e3edf3 159.5px,#d7e8f1 231px)"></i><i style="background:linear-gradient(90deg,#fcd3bc 0px,#fbe4d6 62.5px,#f6f7f7 115.5px,#e3edf3 162.5px,#d7e8f1 231px)"></i><i style="background:linear-gradient(90deg,#fcd5bf 0px,#fbe4d6 60.5px,#f6f7f7 115.5px,#e4eef4 159.5px,#d8e9f1 231px)"></i><i style="background:linear-gradient(90deg,#fcd5bf 0px,#fae7dc 69.5px,#f6f7f7 115.5px,#e1edf3 174.5px,#dae9f2 231px)"></i><i style="background:linear-gradient(90deg,#fcd7c2 0px,#fbe3d4 51.5px,#f6f7f7 115.5px,#e4eef4 164.5px,#dae9f2 231px)"></i><i style="background:linear-gradient(90deg,#fdd9c4 0px,#fbe4d6 53.5px,#f6f7f7 115.5px,#e4eef4 167.5px,#dbeaf2 231px)"></i><i style="background:linear-gradient(90deg,#fdd9c4 0px,#fbe6da 59.5px,#f6f7f7 115.5px,#e4eef4 170.5px,#ddebf2 231px)"></i><i style="background:linear-gradient(90deg,#fddbc7 0px,#fbe3d4 43.5px,#f6f7f7 115.5px,#e7f0f4 160.5px,#ddebf2 231px)"></i><i style="background:linear-gradient(90deg,#fddcc9 0px,#fbe4d6 45.5px,#f6f7f7 115.5px,#e6eff4 170.5px,#deebf2 231px)"></i><i style="background:linear-gradient(90deg,#fddcc9 0px,#fbe5d8 47.5px,#f6f7f7 115.5px,#e6eff4 173.5px,#deebf2 231px)"></i><i style="background:linear-gradient(90deg,#fdddcb 0px,#fbe6da 49.5px,#f6f7f7 115.5px,#e9f0f4 161.5px,#e0ecf3 231px)"></i><i style="background:linear-gradient(90deg,#fcdecd 0px,#fbe5d8 41.5px,#f7f6f6 110.5px,#e9f0f4 164.5px,#e0ecf3 231px)"></i><i style="background:linear-gradient(90deg,#fcdecd 0px,#fbe5d8 38.5px,#f7f6f6 110.5px,#e9f0f4 167.5px,#e1edf3 231px)"></i><i style="background:linear-gradient(90deg,#fcdfcf 0px,#fbe6da 40.5px,#f6f7f7 115.5px,#eaf1f5 162.5px,#e3edf3 231px)"></i><i style="background:linear-gradient(90deg,#fce0d0 0px,#fbe6da 37.5px,#f6f7f7 115.5px,#eaf1f5 165.5px,#e3edf3 231px)"></i><i style="background:linear-gradient(90deg,#fce0d0 0px,#f7f6f6 109.5px,#eaf1f5 168.5px,#e4eef4 231px)"></i><i style="background:linear-gradient(90deg,#fce2d2 0px,#fae8de 42.5px,#f7f6f6 109.5px,#ecf2f5 162.5px,#e4eef4 231px)"></i><i style="background:linear-gradient(90deg,#fbe3d4 0px,#fbe5d8 20.5px,#f7f6f6 109.5px,#ecf2f5 165.5px,#e6eff4 231px)"></i><i style="background:linear-gradient(90deg,#fbe3d4 0px,#f7f6f6 108.5px,#ecf2f5 169.5px,#e6eff4 231px)"></i><i style="background:linear-gradient(90deg,#fbe4d6 0px,#f7f6f6 108.5px,#ecf2f5 172.5px,#e7f0f4 231px)"></i><i style="background:linear-gradient(90deg,#fbe5d8 0px,#f7f6f6 108.5px,#ecf2f5 176.5px,#e7f0f4 231px)"></i><i style="background:linear-gradient(90deg,#fbe5d8 0px,#f7f6f6 107.5px,#e7f0f4 231px)"></i><i style="background:linear-gradient(90deg,#fbe6da 0px,#f7f6f6 107.5px,#e9f0f4 231px)"></i><i style="background:linear-gradient(90deg,#fbe6da 0px,#f7f6f6 106.5px,#e9f0f4 231px)"></i><i style="background:linear-gradient(90deg,#fae7dc 0px,#f7f6f6 106.5px,#eaf1f5 231px)"></i><i style="background:linear-gradient(90deg,#fae8de 0px,#f7f6f6 105.5px,#eaf1f5 231px)"></i><i style="background:linear-gradient(90deg,#fae8de 0px,#f7f6f6 105.5px,#ecf2f5 231px)"></i><i style="background:linear-gradient(90deg,#fae9df 0px,#f7f6f6 104.5px,#ecf2f5 231px)"></i><i style="background:linear-gradient(90deg,#fae9df 0px,#f7f6f6 103.5px,#ecf2f5 231px)"></i><i style="background:linear-gradient(90deg,#faeae1 0px,#f7f6f6 103.5px,#edf2f5 231px)"></i><i style="background:linear-gradient(90deg,#f9ebe3 0px,#f7f6f6 102.5px,#edf2f5 231px)"></i><i style="background:linear-gradient(90deg,#f9ebe3 0px,#f7f6f6 101.5px,#edf2f5 231px)"></i><i style="background:linear-gradient(90deg,#f9ede5 0px,#f7f6f6 100.5px,#eff3f5 231px)"></i><i style="background:linear-gradient(90deg,#f9ede5 0px,#f7f6f6 99.5px,#eff3f5 231px)"></i><i style="background:linear-gradient(90deg,#f9eee7 0px,#f7f6f6 98.5px,#eff3f5 231px)"></i><i style="background:linear-gradient(90deg,#f9eee7 0px,#f7f6f6 97.5px,#f0f4f6 231px)"></i><i style="background:linear-gradient(90deg,#f9efe9 0px,#f7f6f6 96.5px,#f0f4f6 231px)"></i><i style="background:linear-gradient(90deg,#f9efe9 0px,#f7f6f6 94.5px,#f0f4f6 231px)"></i><i style="background:linear-gradient(90deg,#f9f0eb 0px,#f7f6f6 93.5px,#f2f5f6 231px)"></i><i style="background:linear-gradient(90deg,#f9f0eb 0px,#f7f6f6 91.5px,#f2f5f6 231px)"></i><i style="background:linear-gradient(90deg,#f9f0eb 0px,#f7f6f6 90.5px,#f2f5f6 231px)"></i><i style="background:linear-gradient(90deg,#f8f1ed 0px,#f7f6f6 88.5px,#f2f5f6 231px)"></i><i style="background:linear-gradient(90deg,#f8f1ed 0px,#f7f6f6 86.5px,#f3f5f6 231px)"></i><i style="background:linear-gradient(90deg,#f8f2ef 0px,#f7f6f6 84.5px,#f3f5f6 231px)"></i><i style="background:linear-gradient(90deg,#f8f2ef 0px,#f7f6f6 81.5px,#f3f5f6 231px)"></i><i style="background:linear-gradient(90deg,#f8f2ef 0px,#f7f6f6 78.5px,#f3f5f6 231px)"></i><i style="background:linear-gradient(90deg,#f8f3f0 0px,#f7f6f6 75.5px,#f3f5f6 231px)"></i><i style="background:linear-gradient(90deg,#f8f3f0 0px,#f7f6f6 72.5px,#f5f6f7 231px)"></i><i style="background:linear-gradient(90deg,#f8f3f0 0px,#f7f6f6 68.5px,#f5f6f7 231px)"></i><i style="background:linear-gradient(90deg,#f8f4f2 0px,#f7f6f6 64.5px,#f5f6f7 231px)"></i><i style="background:linear-gradient(90deg,#f8f4f2 0px,#f7f6f6 60.5px,#f5f6f7 231px)"></i><i style="background:linear-gradient(90deg,#f8f4f2 0px,#f7f6f6 55.5px,#f5f6f7 231px)"></i><i style="background:linear-gradient(90deg,#f8f4f2 0px,#f7f6f6 49.5px,#f5f6f7 231px)"></i><i style="background:linear-gradient(90deg,#f7f5f4 0px,#f5f6f7 231px)"></i><i style="background:linear-gradient(90deg,#f7f5f4 0px,#f6f7f7 231px)"></i><i style="background:linear-gradient(90deg,#f7f5f4 0px,#f6f7f7 231px)"></i><i style="background:linear-gradient(90deg,#f7f5f4 0px,#f6f7f7 231px)"></i><i style="background:linear-gradient(90deg,#f7f5f4 0px,#f6f7f7 231px)"></i><i style="background:linear-gradient(90deg,#f7f6f6 0px,#f6f7f7 231px)"></i><i style="background:linear-gradient(90deg,#f7f6f6 0px,#f6f7f7 231px)"></i><i style="background:linear-gradient(90deg,#f7f6f6 0px,#f6f7f7 231px)"></i><i style="background:linear-gradient(90deg,#f7f6f6 0px,#f6f7f7 231px)"></i><i style="background:linear-gradient(90deg,#f7f6f6 0px,#f6f7f7 231px)"></i><i style="background:linear-gradient(90deg,#f7f6f6 0px,#f6f7f7 231px)"></i><i style="background:linear-gradient(90deg,#f7f6f6 0px,#f6f7f7 231px)"></i><i style="background:linear-gradient(90deg,#f7f6f6 0px,#f6f7f7 231px)"></i><i style="background:linear-gradient(90deg,#f7f6f6 0px,#f6f7f7 231px)"></i><i style="background:linear-gradient(90deg,#f7f6f6 0px,#f6f7f7 231px)"></i><i style="background:linear-gradient(90deg,#f7f6f6 0px,#f6f7f7 231px)"></i><i style="background:linear-gradient(90deg,#f7f6f6 0px,#f6f7f7 231px)"></i></div>
<div class="cb" style="left:277.9px;top:5.8px;width:15.0px;height:209.4px;background:linear-gradient(180deg,#67001f 0px,#67001f 1.5px,#6d0220 3.5px,#730421 4.5px,#7c0722 8px,#810823 9px,#8d0c25 13.5px,#930e26 14.5px,#9c1127 17.9px,#a21328 18.9px,#ab162a 22.4px,#b1182b 23.4px,#b3192c 24.9px,#b72230 27.9px,#ba2832 28.9px,#be3036 32.4px,#c13639 33.4px,#c53e3d 36.9px,#c84440 37.9px,#ce4f45 42.4px,#d05548 43.4px,#d55d4c 46.9px,#d7634f 47.9px,#e27b62 56.8px,#e48066 57.8px,#e8896c 61.3px,#ea8e70 62.3px,#ee9677 65.8px,#f09c7b 66.8px,#f4a683 71.3px,#f5aa89 72.3px,#f6b191 75.8px,#f7b596 76.8px,#f8bb9e 80.3px,#f8bfa4 81.3px,#fac8af 85.8px,#fbccb4 86.8px,#fcd3bc 90.2px,#fcd7c2 91.2px,#fddbc7 93.2px,#f9eee7 109.2px,#f9f0eb 110.2px,#f8f4f2 114.7px,#f7f6f6 115.7px,#f6f7f7 117.2px,#d2e6f0 134.6px,#c5dfec 138.6px,#c5dfec 139.1px,#bddbea 140.6px,#bddbea 141.1px,#a9d1e5 146.6px,#a9d1e5 147.1px,#a5cee3 148.1px,#a5cee3 148.6px,#a0cce2 149.6px,#a0cce2 150.1px,#98c8e0 151.6px,#93c6de 153.6px,#87beda 156.1px,#87beda 156.6px,#81bad8 157.5px,#81bad8 158px,#7bb6d6 159px,#7bb6d6 159.5px,#71b0d3 161px,#71b0d3 161.5px,#65a9cf 164px,#65a9cf 164.5px,#59a1ca 167px,#59a1ca 167.5px,#529dc8 168.5px,#529dc8 169px,#4997c5 170.5px,#4997c5 171px,#4393c3 172px,#246aae 189.5px,#2065ab 191.5px,#1e61a5 192.4px,#1e61a5 192.9px,#1c5c9f 193.9px,#1a5899 195.9px,#185493 196.9px,#185493 197.4px,#15508d 198.4px,#134c87 200.4px,#10457e 201.9px,#10457e 202.4px,#09386d 206.4px,#073467 208.4px,#053061 209.4px)"></div>
<div class="h" style="left:400px;top:6px;width:220px;height:209px"><i style="background:linear-gradient(90deg,#053061 0px,#053061 16.5px,#2065ab 29.5px,#327cb7 38.5px,#4393c3 51.5px,#569fc9 57.5px,#75b2d4 70.5px,#87beda 80.5px,#90c4dd 83.5px,#a0cce2 92.5px,#b6d7e8 101.5px,#c7e0ed 105.5px,#dbeaf2 108.5px,#e7f0f4 109.5px,#fbe5d8 110.5px,#f9c4a9 111.5px,#f5ac8b 112.5px,#f09c7b 113.5px,#e58368 115.5px,#d86551 119.5px,#cb4942 125.5px,#bb2a34 136.5px,#b1182b 147.5px,#8d0c25 173.5px,#730421 202.5px,#67001f 220px)"></i><i style="background:linear-gradient(90deg,#053061 0px,#053061 16.5px,#1a5899 25.5px,#2065ab 29.5px,#3783bb 41.5px,#4393c3 50.5px,#68abd0 64.5px,#84bcd9 78.5px,#8dc2dc 81.5px,#a2cde3 93.5px,#b3d6e8 100.5px,#c7e0ed 105.5px,#dbeaf2 108.5px,#e7f0f4 109.5px,#fbe6da 110.5px,#f9c4a9 111.5px,#f6af8e 112.5px,#f19e7d 113.5px,#e6866a 115.5px,#dc6e57 118.5px,#d55d4c 121.5px,#ce4f45 124.5px,#c13639 132.5px,#b72230 141.5px,#b1182b 148.5px,#900d26 172.5px,#730421 204.5px,#6a011f 220px)"></i><i style="background:linear-gradient(90deg,#053061 0px,#053061 16.5px,#08366a 17.5px,#1e61a5 27.5px,#2267ac 29.5px,#3480b9 39.5px,#4393c3 50.5px,#569fc9 56.5px,#75b2d4 69.5px,#87beda 79.5px,#90c4dd 82.5px,#acd2e5 97.5px,#bbdaea 102.5px,#cfe4ef 106.5px,#dbeaf2 108.5px,#e7f0f4 109.5px,#fbe6da 110.5px,#f9c6ac 111.5px,#f6b191 112.5px,#f2a17f 113.5px,#e8896c 115.5px,#df765e 117.5px,#d6604d 121.5px,#cf5246 124.5px,#bf3338 134.5px,#b1182b 149.5px,#930e26 171.5px,#6a011f 220px)"></i><i style="background:linear-gradient(90deg,#053061 0px,#053061 15.5px,#063264 16.5px,#124984 21.5px,#2065ab 28.5px,#327cb7 37.5px,#4393c3 49.5px,#68abd0 63.5px,#8ac0db 80.5px,#93c6de 83.5px,#a0cce2 91.5px,#b8d8e9 101.5px,#cae1ee 105.5px,#dbeaf2 108.5px,#e9f0f4 109.5px,#fae7dc 110.5px,#f9c6ac 111.5px,#f6b191 112.5px,#f2a17f 113.5px,#e8896c 115.5px,#e17860 117.5px,#d6604d 121.5px,#ce4f45 125.5px,#be3036 136.5px,#b1182b 150.5px,#9c1127 165.5px,#810823 191.5px,#6d0220 220px)"></i><i style="background:linear-gradient(90deg,#053061 0px,#053061 15.5px,#063264 16.5px,#114781 20.5px,#185493 23.5px,#2065ab 28.5px,#3681ba 39.5px,#4393c3 49.5px,#569fc9 55.5px,#75b2d4 68.5px,#87beda 78.5px,#90c4dd 81.5px,#a5cee3 93.5px,#b6d7e8 100.5px,#cae1ee 105.5px,#ddebf2 108.5px,#e9f0f4 109.5px,#fae7dc 110.5px,#fac8af 111.5px,#f6b394 112.5px,#f3a481 113.5px,#e98b6e 115.5px,#de735c 118.5px,#d55d4c 122.5px,#d05548 124.5px,#c84440 129.5px,#be3036 137.5px,#b72230 144.5px,#b1182b 152.5px,#960f27 172.5px,#840924 190.5px,#700320 220px)"></i><i style="background:linear-gradient(90deg,#053061 0px,#053061 15.5px,#1c5c9f 25.5px,#2267ac 28.5px,#337eb8 37.5px,#4695c4 50.5px,#5ca3cb 57.5px,#78b4d5 69.5px,#8ac0db 79.5px,#93c6de 82.5px,#b1d5e7 98.5px,#bddbea 102.5px,#d5e7f1 107.5px,#e9f0f4 109.5px,#fae7dc 110.5px,#facab1 111.5px,#f6b394 112.5px,#f4a683 113.5px,#ef9979 114.5px,#e27b62 117.5px,#d6604d 122.5px,#ce4f45 126.5px,#bd2d35 139.5px,#b1182b 153.5px,#991027 171.5px,#840924 192.5px,#700320 220px)"></i><i style="background:linear-gradient(90deg,#053061 0px,#053061 15.5px,#10457e 19.5px,#2065ab 27.5px,#3885bc 40.5px,#4393c3 48.5px,#75b2d4 67.5px,#87beda 77.5px,#90c4dd 80.5px,#a2cde3 91.5px,#bbdaea 101.5px,#d7e8f1 107.5px,#ddebf2 108.5px,#e9f0f4 109.5px,#fae8de 110.5px,#facab1 111.5px,#f7b596 112.5px,#f4a683 113.5px,#ea8e70 115.5px,#e37e64 117.5px,#d86551 121.5px,#d05548 125.5px,#bd2d35 140.5px,#b1182b 154.5px,#9c1127 170.5px,#870a24 191.5px,#730421 220px)"></i><i style="background:linear-gradient(90deg,#053061 0px,#053061 14.5px,#063264 15.5px,#124984 20.5px,#2065ab 27.5px,#3681ba 38.5px,#4393c3 48.5px,#5ca3cb 56.5px,#78b4d5 68.5px,#8ac0db 78.5px,#93c6de 81.5px,#a7d0e4 93.5px,#b8d8e9 100.5px,#c7e0ed 104.5px,#d7e8f1 107.5px,#eaf1f5 109.5px,#fae8de 110.5px,#fbccb4 111.5px,#f7b799 112.5px,#f5a886 113.5px,#eb9172 115.5px,#e17860 118.5px,#d35a4a 124.5px,#c84440 131.5px,#bf3338 138.5px,#b1182b 155.5px,#870a24 193.5px,#730421 220px)"></i><i style="background:linear-gradient(90deg,#053061 0px,#053061 14.5px,#063264 15.5px,#114781 19.5px,#1a5899 23.5px,#2267ac 27.5px,#2e77b5 33.5px,#4393c3 47.5px,#75b2d4 66.5px,#96c7df 82.5px,#a2cde3 90.5px,#b6d7e8 99.5px,#c0dceb 102.5px,#d7e8f1 107.5px,#eaf1f5 109.5px,#fae9df 110.5px,#fbccb4 111.5px,#f7b799 112.5px,#f5aa89 113.5px,#f19e7d 114.5px,#e48066 117.5px,#d6604d 123.5px,#c43b3c 135.5px,#ba2832 145.5px,#b3192c 155.5px,#8a0b25 192.5px,#760521 220px)"></i><i style="background:linear-gradient(90deg,#053061 0px,#053061 14.5px,#2065ab 26.5px,#2c75b4 32.5px,#4393c3 47.5px,#65a9cf 59.5px,#93c6de 80.5px,#a5cee3 91.5px,#c5dfec 103.5px,#deebf2 108.5px,#eaf1f5 109.5px,#fae9df 110.5px,#fbceb7 111.5px,#f7b99c 112.5px,#f5aa89 113.5px,#f19e7d 114.5px,#e27b62 118.5px,#d35a4a 125.5px,#bf3338 140.5px,#b1182b 158.5px,#8a0b25 194.5px,#790622 220px)"></i><i style="background:linear-gradient(90deg,#053061 0px,#053061 14.5px,#10457e 18.5px,#1d5fa2 24.5px,#2369ad 27.5px,#2f79b5 33.5px,#4393c3 46.5px,#6bacd1 61.5px,#96c7df 81.5px,#a9d1e5 93.5px,#c5dfec 103.5px,#deebf2 108.5px,#eaf1f5 109.5px,#fae9df 110.5px,#fbd0b9 111.5px,#f8bb9e 112.5px,#f5ac8b 113.5px,#f2a17f 114.5px,#e98b6e 116.5px,#e37e64 118.5px,#d6604d 124.5px,#d05548 127.5px,#c2383a 138.5px,#b3192c 157.5px,#8d0c25 193.5px,#790622 220px)"></i><i style="background:linear-gradient(90deg,#053061 0px,#053061 13.5px,#063264 14.5px,#0c3d73 16.5px,#2267ac 26.5px,#2e77b5 32.5px,#4393c3 46.5px,#65a9cf 58.5px,#93c6de 79.5px,#aed3e6 95.5px,#c2ddec 102.5px,#d8e9f1 107.5px,#ecf2f5 109.5px,#faeae1 110.5px,#fbd0b9 111.5px,#f8bb9e 112.5px,#f6af8e 113.5px,#ee9677 115.5px,#e6866a 117.5px,#d86551 123.5px,#d35a4a 126.5px,#c2383a 139.5px,#b1182b 161.5px,#8d0c25 195.5px,#7c0722 220px)"></i><i style="background:linear-gradient(90deg,#053061 0px,#053061 13.5px,#063264 14.5px,#0f437b 17.5px,#1e61a5 24.5px,#2267ac 26.5px,#307ab6 33.5px,#4695c4 47.5px,#6bacd1 60.5px,#87beda 74.5px,#90c4dd 77.5px,#a7d0e4 91.5px,#c7e0ed 103.5px,#e0ecf3 108.5px,#ecf2f5 109.5px,#faeae1 110.5px,#fcd3bc 111.5px,#f8bda1 112.5px,#f6af8e 113.5px,#f3a481 114.5px,#e48066 118.5px,#d6604d 125.5px,#c53e3d 137.5px,#bd2d35 146.5px,#b3192c 160.5px,#900d26 194.5px,#7f0823 220px)"></i><i style="background:linear-gradient(90deg,#053061 0px,#053061 13.5px,#144e8a 19.5px,#2065ab 25.5px,#2f79b5 32.5px,#4393c3 45.5px,#569fc9 51.5px,#78b4d5 65.5px,#8ac0db 75.5px,#93c6de 78.5px,#acd2e5 93.5px,#c7e0ed 103.5px,#e0ecf3 108.5px,#ecf2f5 109.5px,#faeae1 110.5px,#fcd3bc 111.5px,#f8bda1 112.5px,#f4a683 114.5px,#eb9172 116.5px,#e58368 118.5px,#dc6e57 122.5px,#d35a4a 127.5px,#cb4942 133.5px,#bf3338 144.5px,#b1182b 164.5px,#9c1127 183.5px,#7f0823 220px)"></i><i style="background:linear-gradient(90deg,#053061 0px,#053061 13.5px,#0e4179 16.5px,#1f63a8 24.5px,#327cb7 33.5px,#4393c3 45.5px,#5fa5cd 54.5px,#75b2d4 63.5px,#81bad8 70.5px,#90c4dd 76.5px,#b1d5e7 95.5px,#cce2ef 104.5px,#dae9f2 107.5px,#ecf2f5 109.5px,#f9ebe3 110.5px,#fcd5bf 111.5px,#f8bfa4 112.5px,#f6b191 113.5px,#f4a683 114.5px,#e98b6e 117.5px,#e37e64 119.5px,#d6604d 126.5px,#c53e3d 139.5px,#ba2832 152.5px,#b3192c 163.5px,#930e26 195.5px,#810823 220px)"></i><i style="background:linear-gradient(90deg,#053061 0px,#053061 12.5px,#08366a 14.5px,#134c87 18.5px,#1c5c9f 22.5px,#2267ac 25.5px,#307ab6 32.5px,#4393c3 44.5px,#78b4d5 64.5px,#93c6de 77.5px,#a9d1e5 91.5px,#c5dfec 102.5px,#dae9f2 107.5px,#ecf2f5 109.5px,#f9ebe3 110.5px,#fcd7c2 111.5px,#f9c2a7 112.5px,#f6b394 113.5px,#f5a886 114.5px,#e6866a 118.5px,#df765e 121.5px,#d6604d 127.5px,#d05548 130.5px,#c84440 137.5px,#bf3338 146.5px,#b1182b 167.5px,#9c1127 187.5px,#840924 216.5px,#840924 220px)"></i><i style="background:linear-gradient(90deg,#053061 0px,#053061 12.5px,#063264 13.5px,#0f437b 16.5px,#2065ab 24.5px,#276eb0 27.5px,#4393c3 44.5px,#6bacd1 58.5px,#90c4dd 75.5px,#acd2e5 92.5px,#cae1ee 103.5px,#dbeaf2 107.5px,#e1edf3 108.5px,#edf2f5 109.5px,#f9ebe3 110.5px,#fcd7c2 111.5px,#f9c2a7 112.5px,#f5aa89 114.5px,#f2a17f 115.5px,#ea8e70 117.5px,#de735c 122.5px,#d6604d 127.5px,#cc4c44 134.5px,#bf3338 147.5px,#b3192c 166.5px,#b1182b 171.5px,#ab162a 174.5px,#960f27 196.5px,#840924 220px)"></i><i style="background:linear-gradient(90deg,#053061 0px,#053061 12.5px,#124984 17.5px,#1f63a8 23.5px,#266caf 26.5px,#4393c3 43.5px,#65a9cf 55.5px,#93c6de 76.5px,#b1d5e7 94.5px,#c0dceb 100.5px,#d2e6f0 105.5px,#e1edf3 108.5px,#edf2f5 109.5px,#f9ede5 110.5px,#fdd9c4 111.5px,#f9c4a9 112.5px,#f7b596 113.5px,#f2a17f 115.5px,#e37e64 120.5px,#da6853 125.5px,#d6604d 128.5px,#cb4942 136.5px,#c2383a 145.5px,#b3192c 168.5px,#9f1228 188.5px,#870a24 220px)"></i><i style="background:linear-gradient(90deg,#053061 0px,#053061 12.5px,#0e4179 15.5px,#1f63a8 23.5px,#2267ac 24.5px,#2870b1 27.5px,#4393c3 43.5px,#5ca3cb 51.5px,#75b2d4 61.5px,#90c4dd 74.5px,#acd2e5 91.5px,#c7e0ed 102.5px,#dbeaf2 107.5px,#edf2f5 109.5px,#f9ede5 110.5px,#fdd9c4 111.5px,#f9c6ac 112.5px,#f7b799 113.5px,#f3a481 115.5px,#e98b6e 118.5px,#e27b62 121.5px,#d55d4c 129.5px,#c2383a 146.5px,#b1182b 172.5px,#991027 197.5px,#8a0b25 220px)"></i><i style="background:linear-gradient(90deg,#053061 0px,#053061 11.5px,#063264 12.5px,#114781 16.5px,#2065ab 23.5px,#276eb0 26.5px,#3a87bd 36.5px,#4393c3 43.5px,#6eaed2 58.5px,#93c6de 75.5px,#aed3e6 92.5px,#c5dfec 101.5px,#d7e8f1 106.5px,#e3edf3 108.5px,#edf2f5 109.5px,#f9ede5 110.5px,#fddbc7 111.5px,#f9c6ac 112.5px,#f6af8e 114.5px,#f09c7b 116.5px,#e17860 122.5px,#d6604d 129.5px,#cf5246 134.5px,#c2383a 147.5px,#b1182b 174.5px,#8a0b25 220px)"></i><i style="background:linear-gradient(90deg,#053061 0px,#053061 11.5px,#063264 12.5px,#0f437b 15.5px,#1b5a9c 20.5px,#2065ab 23.5px,#266caf 25.5px,#4393c3 42.5px,#75b2d4 60.5px,#90c4dd 73.5px,#b3d6e8 94.5px,#c2ddec 100.5px,#d4e6f1 105.5px,#e3edf3 108.5px,#edf2f5 109.5px,#f9ede5 110.5px,#fddbc7 111.5px,#fac8af 112.5px,#f7b99c 113.5px,#f4a683 115.5px,#e8896c 119.5px,#e37e64 121.5px,#dc6e57 125.5px,#d6604d 130.5px,#ce4f45 136.5px,#c6413e 143.5px,#bb2a34 158.5px,#b3192c 173.5px,#9c1127 198.5px,#8d0c25 220px)"></i><i style="background:linear-gradient(90deg,#053061 0px,#053061 11.5px,#124984 16.5px,#1f63a8 22.5px,#2267ac 23.5px,#2870b1 26.5px,#3b88be 36.5px,#4393c3 42.5px,#6eaed2 57.5px,#93c6de 74.5px,#a7d0e4 87.5px,#bbdaea 97.5px,#d8e9f1 106.5px,#edf2f5 109.5px,#f9eee7 110.5px,#fddcc9 111.5px,#fac8af 112.5px,#f8bb9e 113.5px,#f5a886 115.5px,#eb9172 118.5px,#e27b62 122.5px,#d6604d 130.5px,#c53e3d 146.5px,#b3192c 175.5px,#991027 204.5px,#900d26 220px)"></i><i style="background:linear-gradient(90deg,#053061 0px,#053061 11.5px,#15508d 17.5px,#1e61a5 21.5px,#276eb0 25.5px,#4393c3 41.5px,#75b2d4 59.5px,#90c4dd 72.5px,#b1d5e7 92.5px,#c7e0ed 101.5px,#d8e9f1 106.5px,#ddebf2 107.5px,#eff3f5 109.5px,#f9eee7 110.5px,#fddcc9 111.5px,#f8bb9e 113.5px,#f2a17f 116.5px,#e37e64 122.5px,#dc6e57 126.5px,#d6604d 131.5px,#cc4c44 139.5px,#c53e3d 147.5px,#bb2a34 161.5px,#b3192c 177.5px,#900d26 220px)"></i><i style="background:linear-gradient(90deg,#053061 0px,#053061 10.5px,#063264 11.5px,#114781 15.5px,#2065ab 22.5px,#2a71b2 26.5px,#4393c3 41.5px,#6eaed2 56.5px,#93c6de 73.5px,#b6d7e8 94.5px,#d5e7f1 105.5px,#e4eef4 108.5px,#eff3f5 109.5px,#f9eee7 110.5px,#fdddcb 111.5px,#f8bda1 113.5px,#f5aa89 115.5px,#f3a481 116.5px,#ec9374 118.5px,#e58368 121.5px,#de735c 125.5px,#d6604d 132.5px,#d05548 136.5px,#c53e3d 148.5px,#b3192c 179.5px,#930e26 220px)"></i><i style="background:linear-gradient(90deg,#053061 0px,#053061 10.5px,#063264 11.5px,#144e8a 16.5px,#1f63a8 21.5px,#2870b1 25.5px,#4291c2 40.5px,#529dc8 45.5px,#529dc8 46.5px,#75b2d4 58.5px,#90c4dd 71.5px,#bbdaea 96.5px,#dae9f2 106.5px,#e4eef4 108.5px,#eff3f5 109.5px,#f9efe9 110.5px,#fcdecd 111.5px,#fbccb4 112.5px,#f7b596 114.5px,#f3a481 116.5px,#e48066 122.5px,#d6604d 132.5px,#cf5246 138.5px,#c43b3c 151.5px,#b3192c 181.5px,#9f1228 204.5px,#960f27 220px)"></i><i style="background:linear-gradient(90deg,#053061 0px,#053061 10.5px,#10457e 14.5px,#1f63a8 21.5px,#276eb0 24.5px,#4393c3 40.5px,#6eaed2 55.5px,#93c6de 72.5px,#b3d6e8 92.5px,#cae1ee 101.5px,#dae9f2 106.5px,#eff3f5 109.5px,#f9efe9 110.5px,#fcdecd 111.5px,#f8bfa4 113.5px,#f7b596 114.5px,#f4a683 116.5px,#e37e64 123.5px,#d6604d 133.5px,#cf5246 139.5px,#c53e3d 151.5px,#be3036 161.5px,#b3192c 183.5px,#960f27 220px)"></i><i style="background:linear-gradient(90deg,#053061 0px,#053061 10.5px,#15508d 16.5px,#2065ab 21.5px,#2a71b2 25.5px,#4393c3 40.5px,#75b2d4 57.5px,#90c4dd 70.5px,#b8d8e9 94.5px,#d7e8f1 105.5px,#e0ecf3 107.5px,#eff3f5 109.5px,#f9efe9 110.5px,#fcdfcf 111.5px,#fbceb7 112.5px,#f9c2a7 113.5px,#f6af8e 115.5px,#f2a17f 117.5px,#e8896c 121.5px,#e17860 125.5px,#d6604d 134.5px,#cc4c44 143.5px,#bf3338 160.5px,#b3192c 185.5px,#991027 220px)"></i><i style="background:linear-gradient(90deg,#053061 0px,#053061 9.5px,#063264 10.5px,#1d5fa2 19.5px,#2065ab 21.5px,#2870b1 24.5px,#4393c3 39.5px,#6eaed2 54.5px,#93c6de 71.5px,#bddbea 96.5px,#d7e8f1 105.5px,#e0ecf3 107.5px,#eff3f5 109.5px,#f9efe9 110.5px,#fcdfcf 111.5px,#f9c4a9 113.5px,#f5a886 116.5px,#e6866a 122.5px,#de735c 127.5px,#d7634f 133.5px,#c6413e 151.5px,#bb2a34 169.5px,#b1182b 190.5px,#991027 220px)"></i><i style="background:linear-gradient(90deg,#053061 0px,#053061 9.5px,#063264 10.5px,#144e8a 15.5px,#1f63a8 20.5px,#2267ac 21.5px,#2b73b3 25.5px,#4393c3 39.5px,#75b2d4 56.5px,#90c4dd 69.5px,#b6d7e8 92.5px,#dbeaf2 106.5px,#e6eff4 108.5px,#f0f4f6 109.5px,#f9efe9 110.5px,#fce0d0 111.5px,#f9c4a9 113.5px,#f6b191 115.5px,#f3a481 117.5px,#ee9677 119.5px,#e58368 123.5px,#d6604d 135.5px,#cc4c44 145.5px,#bf3338 163.5px,#b3192c 189.5px,#9c1127 220px)"></i><i style="background:linear-gradient(90deg,#053061 0px,#053061 9.5px,#185493 16.5px,#2065ab 20.5px,#2a71b2 24.5px,#3b88be 33.5px,#4291c2 38.5px,#6eaed2 53.5px,#93c6de 70.5px,#b8d8e9 93.5px,#dbeaf2 106.5px,#f0f4f6 109.5px,#f9f0eb 110.5px,#fce0d0 111.5px,#fcd3bc 112.5px,#f8bb9e 114.5px,#f19e7d 118.5px,#e37e64 125.5px,#d6604d 136.5px,#cc4c44 146.5px,#c2383a 160.5px,#b72230 181.5px,#b1182b 194.5px,#9f1228 220px)"></i><i style="background:linear-gradient(90deg,#053061 0px,#053061 9.5px,#134c87 14.5px,#2065ab 20.5px,#2c75b4 25.5px,#4393c3 38.5px,#65a9cf 49.5px,#7eb8d7 59.5px,#90c4dd 68.5px,#bddbea 95.5px,#d8e9f1 105.5px,#e1edf3 107.5px,#f0f4f6 109.5px,#f9f0eb 110.5px,#fce2d2 111.5px,#f9c6ac 113.5px,#f4a683 117.5px,#e58368 124.5px,#da6853 133.5px,#cb4942 149.5px,#ba2832 177.5px,#b3192c 193.5px,#9f1228 220px)"></i><i style="background:linear-gradient(90deg,#053061 0px,#053061 9.5px,#175290 15.5px,#1f63a8 19.5px,#2267ac 20.5px,#2b73b3 24.5px,#3c8abe 33.5px,#4393c3 38.5px,#4f9bc7 41.5px,#6eaed2 52.5px,#93c6de 69.5px,#b8d8e9 92.5px,#ddebf2 106.5px,#f0f4f6 109.5px,#f9f0eb 110.5px,#fce2d2 111.5px,#fac8af 113.5px,#f7b596 115.5px,#f5a886 117.5px,#f09c7b 119.5px,#e8896c 123.5px,#d86551 135.5px,#cf5246 145.5px,#bb2a34 176.5px,#b3192c 195.5px,#a21328 220px)"></i><i style="background:linear-gradient(90deg,#053061 0px,#053061 8.5px,#063264 9.5px,#124984 13.5px,#1f63a8 19.5px,#2a71b2 23.5px,#4393c3 37.5px,#75b2d4 54.5px,#90c4dd 67.5px,#bbdaea 93.5px,#ddebf2 106.5px,#f0f4f6 109.5px,#f9f0eb 110.5px,#fbe3d4 111.5px,#facab1 113.5px,#f8bfa4 114.5px,#f3a481 118.5px,#ec9374 121.5px,#de735c 130.5px,#d7634f 137.5px,#cf5246 146.5px,#c13639 167.5px,#b3192c 198.5px,#a51429 220px)"></i><i style="background:linear-gradient(90deg,#053061 0px,#053061 8.5px,#15508d 14.5px,#2065ab 19.5px,#2c75b4 24.5px,#4393c3 37.5px,#6eaed2 51.5px,#90c4dd 66.5px,#c0dceb 95.5px,#dae9f2 105.5px,#f0f4f6 109.5px,#f9f0eb 110.5px,#fbe3d4 111.5px,#facab1 113.5px,#f8bfa4 114.5px,#f5aa89 117.5px,#e8896c 124.5px,#db6b55 134.5px,#ce4f45 149.5px,#be3036 174.5px,#b3192c 200.5px,#a51429 220px)"></i><i style="background:linear-gradient(90deg,#053061 0px,#053061 8.5px,#134c87 13.5px,#1f63a8 18.5px,#2267ac 19.5px,#2b73b3 23.5px,#4291c2 36.5px,#75b2d4 53.5px,#93c6de 67.5px,#b8d8e9 91.5px,#deebf2 106.5px,#f0f4f6 109.5px,#f8f1ed 110.5px,#fbe4d6 111.5px,#f9c2a7 114.5px,#f5ac8b 117.5px,#f2a17f 119.5px,#e6866a 125.5px,#da6853 136.5px,#ce4f45 150.5px,#bf3338 173.5px,#b3192c 202.5px,#a81529 220px)"></i><i style="background:linear-gradient(90deg,#053061 0px,#053061 8.5px,#0f437b 11.5px,#1f63a8 18.5px,#2267ac 19.5px,#2e77b5 24.5px,#4393c3 36.5px,#78b4d5 54.5px,#90c4dd 65.5px,#bddbea 93.5px,#deebf2 106.5px,#f2f5f6 109.5px,#f8f1ed 110.5px,#fbe4d6 111.5px,#fddbc7 112.5px,#fbccb4 113.5px,#f8bb9e 115.5px,#f5a886 118.5px,#e98b6e 124.5px,#df765e 131.5px,#d55d4c 143.5px,#c43b3c 167.5px,#b61f2e 197.5px,#b1182b 208.5px,#ab162a 220px)"></i><i style="background:linear-gradient(90deg,#053061 0px,#053061 7.5px,#063264 8.5px,#124984 12.5px,#2065ab 18.5px,#2c75b4 23.5px,#4393c3 36.5px,#4997c5 37.5px,#62a7ce 45.5px,#62a7ce 46.5px,#7eb8d7 56.5px,#93c6de 66.5px,#c2ddec 95.5px,#dbeaf2 105.5px,#e3edf3 107.5px,#f2f5f6 109.5px,#f8f1ed 110.5px,#fbe4d6 111.5px,#fddbc7 112.5px,#f9c4a9 114.5px,#f6af8e 117.5px,#f2a17f 120.5px,#ea8e70 124.5px,#dd7059 134.5px,#d6604d 142.5px,#c53e3d 166.5px,#b41c2d 203.5px,#b1182b 214.5px,#ab162a 220px)"></i><i style="background:linear-gradient(90deg,#053061 0px,#053061 7.5px,#15508d 13.5px,#2065ab 18.5px,#2b73b3 22.5px,#4393c3 35.5px,#78b4d5 53.5px,#90c4dd 64.5px,#bbdaea 91.5px,#dbeaf2 105.5px,#f2f5f6 109.5px,#f8f1ed 110.5px,#fbe5d8 111.5px,#fddcc9 112.5px,#f9c6ac 114.5px,#f5aa89 118.5px,#f09c7b 121.5px,#e98b6e 125.5px,#dc6e57 136.5px,#d6604d 143.5px,#cc4c44 156.5px,#c2383a 173.5px,#b3192c 209.5px,#ae172a 220px)"></i><i style="background:linear-gradient(90deg,#053061 0px,#053061 7.5px,#114781 11.5px,#1f63a8 17.5px,#2267ac 18.5px,#2e77b5 23.5px,#4393c3 35.5px,#5fa5cd 43.5px,#5fa5cd 44.5px,#87beda 59.5px,#c0dceb 93.5px,#e0ecf3 106.5px,#f2f5f6 109.5px,#f8f1ed 110.5px,#fbe5d8 111.5px,#fbd0b9 113.5px,#f7b799 116.5px,#f5ac8b 118.5px,#ef9979 122.5px,#e17860 132.5px,#d55d4c 146.5px,#c43b3c 172.5px,#b61f2e 204.5px,#b1182b 220px)"></i><i style="background:linear-gradient(90deg,#053061 0px,#053061 7.5px,#0f437b 10.5px,#2065ab 17.5px,#2c75b4 22.5px,#4291c2 34.5px,#6bacd1 47.5px,#8ac0db 60.5px,#c2ddec 94.5px,#e0ecf3 106.5px,#f2f5f6 109.5px,#f8f2ef 110.5px,#fbe6da 111.5px,#fac8af 114.5px,#f6b394 117.5px,#f09c7b 122.5px,#e98b6e 126.5px,#df765e 134.5px,#d55d4c 147.5px,#c53e3d 171.5px,#b72230 203.5px,#b1182b 220px)"></i><i style="background:linear-gradient(90deg,#053061 0px,#053061 6.5px,#063264 7.5px,#185493 13.5px,#2065ab 17.5px,#2b73b3 21.5px,#4393c3 34.5px,#71b0d3 49.5px,#87beda 58.5px,#cae1ee 97.5px,#d1e5f0 99.5px,#ddebf2 105.5px,#f2f5f6 109.5px,#f8f2ef 110.5px,#fbe6da 111.5px,#fcd3bc 113.5px,#f9c2a7 115.5px,#f6af8e 118.5px,#f2a17f 121.5px,#eb9172 125.5px,#de735c 136.5px,#d55d4c 148.5px,#c6413e 170.5px,#b72230 205.5px,#b3192c 220px)"></i><i style="background:linear-gradient(90deg,#053061 0px,#053061 6.5px,#1d5fa2 15.5px,#2267ac 17.5px,#3480b9 25.5px,#4393c3 34.5px,#4997c5 35.5px,#68abd0 45.5px,#8ac0db 59.5px,#c2ddec 93.5px,#d8e9f1 103.5px,#e1edf3 106.5px,#f2f5f6 109.5px,#f8f2ef 110.5px,#fae7dc 111.5px,#facab1 114.5px,#f7b596 117.5px,#f19e7d 122.5px,#e27b62 133.5px,#d6604d 148.5px,#c6413e 172.5px,#b82531 204.5px,#b41c2d 220px)"></i><i style="background:linear-gradient(90deg,#053061 0px,#053061 6.5px,#175290 12.5px,#2267ac 17.5px,#337eb8 24.5px,#408fc1 32.5px,#71b0d3 48.5px,#87beda 57.5px,#c5dfec 94.5px,#e1edf3 106.5px,#f2f5f6 109.5px,#f8f2ef 110.5px,#fcdecd 112.5px,#f9c4a9 115.5px,#f5ac8b 119.5px,#eb9172 126.5px,#e17860 135.5px,#d6604d 149.5px,#c84440 171.5px,#be3036 192.5px,#b41c2d 220px)"></i><i style="background:linear-gradient(90deg,#053061 0px,#053061 6.5px,#0f437b 9.5px,#1a5899 13.5px,#2065ab 16.5px,#3681ba 25.5px,#4393c3 33.5px,#68abd0 44.5px,#68abd0 45.5px,#84bcd9 55.5px,#96c7df 64.5px,#c0dceb 91.5px,#dbeaf2 104.5px,#e6eff4 107.5px,#f2f5f6 109.5px,#f8f2ef 110.5px,#fae7dc 111.5px,#fcdfcf 112.5px,#f9c6ac 115.5px,#f6b394 118.5px,#f4a683 121.5px,#ee9677 125.5px,#e17860 136.5px,#d6604d 150.5px,#c94741 170.5px,#ba2832 205.5px,#b61f2e 220px)"></i><i style="background:linear-gradient(90deg,#053061 0px,#063264 6.5px,#185493 12.5px,#2267ac 16.5px,#3480b9 24.5px,#4291c2 32.5px,#71b0d3 47.5px,#87beda 56.5px,#c2ddec 92.5px,#d7e8f1 102.5px,#e3edf3 106.5px,#f2f5f6 109.5px,#f8f2ef 110.5px,#fcdfcf 112.5px,#f9c6ac 115.5px,#f7b99c 117.5px,#f3a481 122.5px,#eb9172 127.5px,#e48066 133.5px,#d6604d 151.5px,#cb4942 169.5px,#b61f2e 220px)"></i><i style="background:linear-gradient(90deg,#053061 0px,#053061 5.5px,#195696 12.5px,#2267ac 16.5px,#337eb8 23.5px,#4393c3 32.5px,#65a9cf 42.5px,#65a9cf 43.5px,#84bcd9 54.5px,#93c6de 61.5px,#c7e0ed 94.5px,#dae9f2 103.5px,#e3edf3 106.5px,#f3f5f6 109.5px,#f8f2ef 110.5px,#fce0d0 112.5px,#fac8af 115.5px,#f6b191 119.5px,#f2a17f 123.5px,#e37e64 135.5px,#d6604d 153.5px,#cb4942 171.5px,#c13639 192.5px,#b72230 220px)"></i><i style="background:linear-gradient(90deg,#053061 0px,#053061 5.5px,#114781 9.5px,#2065ab 15.5px,#3681ba 24.5px,#4393c3 32.5px,#4997c5 33.5px,#71b0d3 46.5px,#90c4dd 59.5px,#c2ddec 91.5px,#ddebf2 104.5px,#e3edf3 106.5px,#f3f5f6 109.5px,#f8f3f0 110.5px,#fce0d0 112.5px,#fddbc7 113.5px,#fbd0b9 114.5px,#f9c2a7 116.5px,#f5aa89 121.5px,#f09c7b 125.5px,#e27b62 137.5px,#d6604d 154.5px,#cc4c44 170.5px,#be3036 201.5px,#b82531 220px)"></i><i style="background:linear-gradient(90deg,#053061 0px,#053061 5.5px,#0f437b 8.5px,#1a5899 12.5px,#2065ab 15.5px,#3480b9 23.5px,#408fc1 30.5px,#62a7ce 40.5px,#62a7ce 41.5px,#78b4d5 48.5px,#8dc2dc 57.5px,#c5dfec 92.5px,#ddebf2 104.5px,#e7f0f4 107.5px,#f3f5f6 109.5px,#f8f3f0 110.5px,#fae9df 111.5px,#fddbc7 113.5px,#facab1 115.5px,#f8bda1 117.5px,#f5a886 122.5px,#f2a17f 124.5px,#e6866a 133.5px,#dd7059 144.5px,#d55d4c 157.5px,#c6413e 183.5px,#b82531 220px)"></i><i style="background:linear-gradient(90deg,#053061 0px,#063264 5.5px,#15508d 10.5px,#1f63a8 14.5px,#2267ac 15.5px,#337eb8 22.5px,#4393c3 31.5px,#4c99c6 33.5px,#71b0d3 45.5px,#90c4dd 58.5px,#bbdaea 86.5px,#d7e8f1 101.5px,#e4eef4 106.5px,#f3f5f6 109.5px,#f8f3f0 110.5px,#fce2d2 112.5px,#fcd3bc 114.5px,#f7b99c 118.5px,#f5ac8b 121.5px,#f19e7d 125.5px,#e58368 135.5px,#dd7059 145.5px,#d6604d 157.5px,#cf5246 168.5px,#c2383a 195.5px,#ba2832 220px)"></i><i style="background:linear-gradient(90deg,#053061 0px,#053061 4.5px,#195696 11.5px,#2369ad 15.5px,#327cb7 21.5px,#4291c2 30.5px,#78b4d5 47.5px,#8dc2dc 56.5px,#b8d8e9 84.5px,#d5e7f1 100.5px,#e4eef4 106.5px,#f3f5f6 109.5px,#f8f3f0 110.5px,#fddcc9 113.5px,#f8bfa4 117.5px,#f3a481 124.5px,#ea8e70 131.5px,#dd7059 146.5px,#d6604d 158.5px,#c84440 184.5px,#bd2d35 212.5px,#bb2a34 220px)"></i><i style="background:linear-gradient(90deg,#053061 0px,#053061 4.5px,#144e8a 9.5px,#2065ab 14.5px,#3480b9 22.5px,#4393c3 30.5px,#6eaed2 43.5px,#90c4dd 57.5px,#bbdaea 85.5px,#dae9f2 102.5px,#e4eef4 106.5px,#f3f5f6 109.5px,#f8f3f0 110.5px,#fbe3d4 112.5px,#fdddcb 113.5px,#f9c2a7 117.5px,#f4a683 124.5px,#e8896c 134.5px,#dc6e57 149.5px,#d6604d 159.5px,#c84440 186.5px,#bb2a34 220px)"></i><i style="background:linear-gradient(90deg,#053061 0px,#053061 4.5px,#124984 8.5px,#1f63a8 13.5px,#2267ac 14.5px,#337eb8 21.5px,#4393c3 30.5px,#4997c5 31.5px,#78b4d5 46.5px,#8dc2dc 55.5px,#b8d8e9 83.5px,#d8e9f1 101.5px,#e9f0f4 107.5px,#f3f5f6 109.5px,#f8f3f0 110.5px,#faeae1 111.5px,#fcdecd 113.5px,#fac8af 116.5px,#f6b191 121.5px,#f3a481 125.5px,#e6866a 136.5px,#dc6e57 150.5px,#d55d4c 163.5px,#c94741 185.5px,#bd2d35 220px)"></i><i style="background:linear-gradient(90deg,#053061 0px,#063264 4.5px,#10457e 7.5px,#1f63a8 13.5px,#2267ac 14.5px,#327cb7 20.5px,#4393c3 29.5px,#6eaed2 42.5px,#6eaed2 43.5px,#8ac0db 53.5px,#d7e8f1 100.5px,#e9f0f4 107.5px,#f3f5f6 109.5px,#f8f3f0 110.5px,#fbe4d6 112.5px,#fcdecd 113.5px,#f9c4a9 117.5px,#f5a886 124.5px,#eb9172 132.5px,#e37e64 141.5px,#d6604d 162.5px,#c53e3d 197.5px,#be3036 220px)"></i><i style="background:linear-gradient(90deg,#053061 0px,#063264 4.5px,#0a3b70 5.5px,#175290 9.5px,#2065ab 13.5px,#3480b9 21.5px,#4393c3 29.5px,#4c99c6 31.5px,#78b4d5 45.5px,#8dc2dc 54.5px,#bddbea 85.5px,#dbeaf2 102.5px,#e6eff4 106.5px,#f3f5f6 109.5px,#f8f3f0 110.5px,#fdd9c4 114.5px,#f9c6ac 117.5px,#f7b799 120.5px,#f3a481 126.5px,#ea8e70 134.5px,#df765e 147.5px,#d6604d 164.5px,#c94741 189.5px,#be3036 220px)"></i><i style="background:linear-gradient(90deg,#053061 0px,#053061 3.5px,#144e8a 8.5px,#2065ab 13.5px,#337eb8 20.5px,#4291c2 28.5px,#6bacd1 40.5px,#6bacd1 41.5px,#8ac0db 52.5px,#9dcbe1 62.5px,#bbdaea 83.5px,#dbeaf2 102.5px,#e6eff4 106.5px,#f3f5f6 109.5px,#f8f3f0 110.5px,#fcdfcf 113.5px,#fbccb4 116.5px,#f7b596 121.5px,#f4a683 126.5px,#e98b6e 136.5px,#de735c 150.5px,#d55d4c 168.5px,#cb4942 188.5px,#bf3338 220px)"></i><i style="background:linear-gradient(90deg,#053061 0px,#053061 3.5px,#124984 7.5px,#1d5fa2 11.5px,#2267ac 13.5px,#327cb7 19.5px,#4393c3 28.5px,#4f9bc7 31.5px,#78b4d5 44.5px,#8dc2dc 53.5px,#dae9f2 101.5px,#eaf1f5 107.5px,#f3f5f6 109.5px,#f8f4f2 110.5px,#fbe6da 112.5px,#fddbc7 114.5px,#fac8af 117.5px,#f5ac8b 124.5px,#ee9677 132.5px,#e27b62 146.5px,#d6604d 167.5px,#c84440 197.5px,#c13639 220px)"></i><i style="background:linear-gradient(90deg,#053061 0px,#063264 3.5px,#10457e 6.5px,#2065ab 12.5px,#3480b9 20.5px,#4393c3 28.5px,#68abd0 38.5px,#68abd0 39.5px,#81bad8 47.5px,#93c6de 55.5px,#d7e8f1 99.5px,#deebf2 103.5px,#f3f5f6 109.5px,#f8f4f2 110.5px,#fbe6da 112.5px,#fbceb7 116.5px,#f8bb9e 120.5px,#f5a886 126.5px,#eb9172 135.5px,#e27b62 147.5px,#d6604d 169.5px,#cc4c44 189.5px,#c13639 220px)"></i><i style="background:linear-gradient(90deg,#053061 0px,#063264 3.5px,#0e4179 5.5px,#1c5c9f 10.5px,#2065ab 12.5px,#3a87bd 22.5px,#4393c3 27.5px,#78b4d5 43.5px,#8dc2dc 52.5px,#ddebf2 102.5px,#e7f0f4 106.5px,#f5f6f7 109.5px,#f8f4f2 110.5px,#fbe6da 112.5px,#fddcc9 114.5px,#facab1 117.5px,#f7b99c 121.5px,#f5ac8b 125.5px,#eb9172 136.5px,#e27b62 148.5px,#d6604d 171.5px,#cc4c44 191.5px,#c2383a 220px)"></i><i style="background:linear-gradient(90deg,#053061 0px,#053061 2.5px,#073467 3.5px,#144e8a 7.5px,#2267ac 12.5px,#3885bc 21.5px,#4393c3 27.5px,#4c99c6 29.5px,#81bad8 46.5px,#93c6de 54.5px,#dbeaf2 101.5px,#e7f0f4 106.5px,#f5f6f7 109.5px,#f8f4f2 110.5px,#f9ede5 111.5px,#fdddcb 114.5px,#f9c2a7 119.5px,#f5a886 127.5px,#ef9979 133.5px,#e17860 151.5px,#d6604d 172.5px,#c84440 204.5px,#c43b3c 220px)"></i><i style="background:linear-gradient(90deg,#053061 0px,#053061 2.5px,#15508d 7.5px,#2369ad 12.5px,#3b88be 22.5px,#4291c2 26.5px,#59a1ca 32.5px,#78b4d5 42.5px,#90c4dd 52.5px,#d8e9f1 99.5px,#e0ecf3 103.5px,#f5f6f7 109.5px,#f8f4f2 110.5px,#fae7dc 112.5px,#fcd3bc 116.5px,#f8bb9e 121.5px,#f5ac8b 126.5px,#ee9677 135.5px,#e58368 145.5px,#d7634f 171.5px,#ce4f45 192.5px,#c43b3c 220px)"></i><i style="background:linear-gradient(90deg,#053061 0px,#053061 2.5px,#134c87 6.5px,#2065ab 11.5px,#3a87bd 21.5px,#4393c3 26.5px,#4f9bc7 29.5px,#81bad8 45.5px,#93c6de 53.5px,#deebf2 102.5px,#ecf2f5 107.5px,#f5f6f7 109.5px,#f8f4f2 110.5px,#fcdecd 114.5px,#fbceb7 117.5px,#f7b99c 122.5px,#f4a683 130.5px,#ec9374 137.5px,#dd7059 160.5px,#d6604d 176.5px,#c94741 205.5px,#c53e3d 220px)"></i><i style="background:linear-gradient(90deg,#053061 0px,#063264 2.5px,#114781 5.5px,#2267ac 11.5px,#3885bc 20.5px,#4393c3 26.5px,#5ca3cb 32.5px,#78b4d5 41.5px,#90c4dd 51.5px,#ddebf2 101.5px,#e3edf3 104.5px,#f5f6f7 109.5px,#f8f4f2 110.5px,#fbe3d4 113.5px,#fddbc7 115.5px,#f9c2a7 120.5px,#f5ac8b 127.5px,#f19e7d 133.5px,#e48066 149.5px,#da6853 169.5px,#c53e3d 220px)"></i><i style="background:linear-gradient(90deg,#053061 0px,#053061 1.5px,#073467 2.5px,#185493 7.5px,#2267ac 11.5px,#3783bb 19.5px,#4291c2 25.5px,#529dc8 29.5px,#8dc2dc 49.5px,#acd2e5 67.5px,#dbeaf2 100.5px,#e6eff4 105.5px,#f5f6f7 109.5px,#f8f4f2 110.5px,#fae8de 112.5px,#fddcc9 115.5px,#fbd0b9 117.5px,#f8bfa4 121.5px,#f6b394 125.5px,#f09c7b 135.5px,#e8896c 145.5px,#db6b55 168.5px,#d6604d 180.5px,#c6413e 220px)"></i><i style="background:linear-gradient(90deg,#053061 0px,#053061 1.5px,#15508d 6.5px,#2065ab 10.5px,#3a87bd 20.5px,#4695c4 26.5px,#5fa5cd 32.5px,#90c4dd 50.5px,#e1edf3 103.5px,#f5f6f7 109.5px,#f8f4f2 110.5px,#fbe4d6 113.5px,#fcd7c2 116.5px,#f8bda1 122.5px,#f4a683 131.5px,#ef9979 137.5px,#df765e 160.5px,#d6604d 182.5px,#ce4f45 201.5px,#c84440 220px)"></i><i style="background:linear-gradient(90deg,#053061 0px,#053061 1.5px,#175290 6.5px,#2065ab 10.5px,#327cb7 16.5px,#4695c4 25.5px,#81bad8 43.5px,#96c7df 52.5px,#e0ecf3 102.5px,#f5f6f7 109.5px,#f8f4f2 110.5px,#fae9df 112.5px,#fdddcb 115.5px,#fcd3bc 117.5px,#f9c2a7 121.5px,#f6b394 126.5px,#f2a17f 134.5px,#e6866a 149.5px,#d7634f 180.5px,#c84440 220px)"></i><i style="background:linear-gradient(90deg,#053061 0px,#063264 1.5px,#144e8a 5.5px,#2267ac 10.5px,#3783bb 18.5px,#4393c3 24.5px,#4f9bc7 27.5px,#75b2d4 38.5px,#75b2d4 39.5px,#90c4dd 49.5px,#d1e5f0 90.5px,#deebf2 101.5px,#f5f6f7 109.5px,#f8f4f2 110.5px,#fbe5d8 113.5px,#fddbc7 116.5px,#f8bfa4 122.5px,#f19e7d 136.5px,#e48066 154.5px,#da6853 176.5px,#c94741 220px)"></i><i style="background:linear-gradient(90deg,#053061 0px,#073467 1.5px,#1b5a9c 7.5px,#2369ad 10.5px,#3681ba 17.5px,#4393c3 24.5px,#4997c5 25.5px,#81bad8 42.5px,#96c7df 51.5px,#e3edf3 103.5px,#f5f6f7 109.5px,#f8f4f2 110.5px,#fce2d2 114.5px,#fddbc7 116.5px,#fac8af 120.5px,#f6b394 127.5px,#f19e7d 137.5px,#ea8e70 146.5px,#db6b55 175.5px,#d35a4a 194.5px,#cb4942 220px)"></i><i style="background:linear-gradient(90deg,#053061 0px,#053061 0.5px,#195696 6.5px,#2065ab 9.5px,#327cb7 15.5px,#4291c2 23.5px,#529dc8 27.5px,#71b0d3 36.5px,#71b0d3 37.5px,#93c6de 49.5px,#d1e5f0 89.5px,#e1edf3 102.5px,#f5f6f7 109.5px,#f8f4f2 110.5px,#fcdecd 115.5px,#fddcc9 116.5px,#f9c6ac 121.5px,#f7b799 126.5px,#f4a683 134.5px,#f19e7d 138.5px,#ea8e70 147.5px,#dc6e57 174.5px,#d6604d 190.5px,#cb4942 220px)"></i><i style="background:linear-gradient(90deg,#053061 0px,#053061 0.5px,#175290 5.5px,#2267ac 9.5px,#3e8cbf 20.5px,#4695c4 24.5px,#5ca3cb 29.5px,#81bad8 41.5px,#96c7df 50.5px,#cfe4ef 87.5px,#e0ecf3 101.5px,#f5f6f7 109.5px,#f7f5f4 110.5px,#faeae1 112.5px,#fddcc9 116.5px,#f9c4a9 122.5px,#f3a481 136.5px,#e98b6e 150.5px,#df765e 168.5px,#d6604d 192.5px,#cc4c44 220px)"></i><i style="background:linear-gradient(90deg,#063264 0px,#063264 0.5px,#185493 5.5px,#2369ad 9.5px,#3681ba 16.5px,#4393c3 23.5px,#569fc9 27.5px,#87beda 43.5px,#93c6de 48.5px,#d1e5f0 88.5px,#deebf2 100.5px,#f5f6f7 109.5px,#f7f5f4 110.5px,#fbe3d4 114.5px,#f9c2a7 123.5px,#f5aa89 133.5px,#f3a481 137.5px,#ec9374 146.5px,#e17860 167.5px,#d6604d 194.5px,#ce4f45 220px)"></i><i style="background:linear-gradient(90deg,#073467 0px,#073467 0.5px,#124984 3.5px,#2065ab 8.5px,#327cb7 14.5px,#4393c3 22.5px,#5fa5cd 29.5px,#81bad8 40.5px,#96c7df 49.5px,#b6d7e8 69.5px,#e4eef4 103.5px,#f5f6f7 109.5px,#f7f5f4 110.5px,#fae7dc 113.5px,#fddbc7 117.5px,#facab1 121.5px,#f8bda1 125.5px,#f5a886 135.5px,#f2a17f 139.5px,#e27b62 166.5px,#d6604d 196.5px,#ce4f45 220px)"></i><i style="background:linear-gradient(90deg,#08366a 0px,#08366a 0.5px,#1c5c9f 6.5px,#2267ac 8.5px,#3783bb 16.5px,#4393c3 22.5px,#4997c5 23.5px,#8ac0db 43.5px,#a9d1e5 60.5px,#c7e0ed 82.5px,#d1e5f0 87.5px,#e3edf3 102.5px,#f5f6f7 109.5px,#f7f5f4 110.5px,#f9ebe3 112.5px,#fce0d0 115.5px,#f9c2a7 124.5px,#f6b394 130.5px,#f2a17f 140.5px,#e6866a 158.5px,#df765e 173.5px,#d6604d 198.5px,#cf5246 220px)"></i><i style="background:linear-gradient(90deg,#09386d 0px,#09386d 0.5px,#1a5899 5.5px,#2267ac 8.5px,#3681ba 15.5px,#4695c4 22.5px,#62a7ce 29.5px,#81bad8 39.5px,#98c8e0 49.5px,#cfe4ef 85.5px,#e1edf3 101.5px,#f5f6f7 109.5px,#f7f5f4 110.5px,#fae8de 113.5px,#fddcc9 117.5px,#f9c6ac 123.5px,#f8bda1 126.5px,#f4a683 138.5px,#ea8e70 153.5px,#e17860 172.5px,#d6604d 201.5px,#d05548 220px)"></i><i style="background:linear-gradient(90deg,#09386d 0px,#09386d 0.5px,#1b5a9c 5.5px,#2065ab 7.5px,#2369ad 8.5px,#327cb7 13.5px,#4393c3 21.5px,#4c99c6 23.5px,#8ac0db 42.5px,#a9d1e5 59.5px,#e6eff4 103.5px,#f5f6f7 109.5px,#f7f5f4 110.5px,#fae8de 113.5px,#fddcc9 117.5px,#facab1 122.5px,#f8bfa4 126.5px,#f4a683 139.5px,#e6866a 161.5px,#e27b62 171.5px,#d6604d 203.5px,#d05548 220px)"></i><i style="background:linear-gradient(90deg,#0a3b70 0px,#0a3b70 0.5px,#195696 4.5px,#1e61a5 6.5px,#246aae 8.5px,#3a87bd 16.5px,#4393c3 21.5px,#65a9cf 29.5px,#81bad8 38.5px,#81bad8 39.5px,#90c4dd 44.5px,#acd2e5 60.5px,#d2e6f0 87.5px,#dae9f2 95.5px,#e6eff4 103.5px,#f5f6f7 109.5px,#f7f5f4 110.5px,#f9ede5 112.5px,#fcdfcf 116.5px,#fddbc7 118.5px,#fac8af 123.5px,#f6b394 132.5px,#f4a683 140.5px,#e98b6e 158.5px,#e37e64 170.5px,#d86551 198.5px,#d25849 220px)"></i><i style="background:linear-gradient(90deg,#0c3d73 0px,#0c3d73 0.5px,#175290 3.5px,#2267ac 7.5px,#3681ba 14.5px,#4291c2 20.5px,#4f9bc7 23.5px,#5ca3cb 26.5px,#8ac0db 41.5px,#a2cde3 53.5px,#b6d7e8 66.5px,#d1e5f0 85.5px,#e4eef4 102.5px,#f5f6f7 109.5px,#f7f5f4 110.5px,#f9ede5 112.5px,#fddbc7 118.5px,#f9c4a9 125.5px,#f6b191 134.5px,#f4a683 141.5px,#eb9172 155.5px,#e48066 169.5px,#d7634f 204.5px,#d35a4a 220px)"></i><i style="background:linear-gradient(90deg,#0d3f76 0px,#0d3f76 0.5px,#1d5fa2 5.5px,#2369ad 7.5px,#327cb7 12.5px,#4695c4 21.5px,#569fc9 24.5px,#68abd0 29.5px,#81bad8 37.5px,#81bad8 38.5px,#90c4dd 43.5px,#a9d1e5 57.5px,#cce2ef 81.5px,#e0ecf3 99.5px,#f5f6f7 109.5px,#f7f5f4 110.5px,#fae9df 113.5px,#fddcc9 118.5px,#fac8af 124.5px,#f6af8e 136.5px,#f4a683 142.5px,#e48066 171.5px,#da6853 199.5px,#d35a4a 220px)"></i><i style="background:linear-gradient(90deg,#0e4179 0px,#0e4179 0.5px,#1e61a5 5.5px,#276eb0 8.5px,#4291c2 19.5px,#5fa5cd 26.5px,#8ac0db 40.5px,#acd2e5 58.5px,#d1e5f0 84.5px,#dae9f2 94.5px,#e9f0f4 104.5px,#f5f6f7 109.5px,#f7f5f4 110.5px,#fbe4d6 115.5px,#fddcc9 118.5px,#f9c4a9 126.5px,#f7b596 133.5px,#f4a683 143.5px,#e58368 170.5px,#d86551 205.5px,#d55d4c 220px)"></i><i style="background:linear-gradient(90deg,#0f437b 0px,#0f437b 0.5px,#1c5c9f 4.5px,#2267ac 6.5px,#3885bc 14.5px,#4393c3 19.5px,#59a1ca 24.5px,#7eb8d7 35.5px,#90c4dd 42.5px,#aed3e6 59.5px,#d2e6f0 85.5px,#ddebf2 96.5px,#f5f6f7 109.5px,#f7f5f4 110.5px,#fae7dc 114.5px,#fddbc7 119.5px,#fac8af 125.5px,#f6b394 135.5px,#f5a886 142.5px,#e6866a 169.5px,#d55d4c 220px)"></i><i style="background:linear-gradient(90deg,#10457e 0px,#10457e 0.5px,#1a5899 3.5px,#2369ad 6.5px,#327cb7 11.5px,#4393c3 19.5px,#529dc8 22.5px,#8ac0db 39.5px,#acd2e5 57.5px,#cfe4ef 81.5px,#deebf2 97.5px,#f6f7f7 109.5px,#fbe5d8 115.5px,#fddcc9 119.5px,#fbceb7 123.5px,#f9c2a7 128.5px,#f4a683 145.5px,#ea8e70 163.5px,#e37e64 179.5px,#d6604d 220px)"></i><i style="background:linear-gradient(90deg,#10457e 0px,#10457e 0.5px,#144e8a 1.5px,#2065ab 5.5px,#276eb0 7.5px,#3c8abe 15.5px,#4291c2 18.5px,#5ca3cb 24.5px,#7bb6d6 33.5px,#90c4dd 41.5px,#aed3e6 58.5px,#d2e6f0 84.5px,#dbeaf2 94.5px,#ecf2f5 105.5px,#f6f7f7 109.5px,#fbe3d4 116.5px,#fddbc7 120.5px,#facab1 125.5px,#f7b99c 133.5px,#f4a683 146.5px,#e48066 178.5px,#d7634f 220px)"></i><i style="background:linear-gradient(90deg,#114781 0px,#114781 0.5px,#2267ac 5.5px,#3885bc 13.5px,#4393c3 18.5px,#569fc9 22.5px,#8dc2dc 39.5px,#a9d1e5 54.5px,#cfe4ef 80.5px,#ddebf2 95.5px,#eaf1f5 104.5px,#f6f7f7 109.5px,#fae8de 114.5px,#fbceb7 124.5px,#f7b799 135.5px,#f4a683 147.5px,#e58368 177.5px,#d7634f 220px)"></i><i style="background:linear-gradient(90deg,#124984 0px,#124984 0.5px,#1f63a8 4.5px,#266caf 6.5px,#3480b9 11.5px,#4291c2 17.5px,#5fa5cd 24.5px,#81bad8 34.5px,#81bad8 35.5px,#93c6de 41.5px,#acd2e5 55.5px,#d1e5f0 81.5px,#e0ecf3 97.5px,#f6f7f7 109.5px,#fbe6da 115.5px,#fddcc9 120.5px,#facab1 126.5px,#f7b596 137.5px,#f4a683 148.5px,#e6866a 176.5px,#d86551 220px)"></i><i style="background:linear-gradient(90deg,#134c87 0px,#134c87 0.5px,#1d5fa2 3.5px,#2369ad 5.5px,#2a71b2 7.5px,#4695c4 18.5px,#59a1ca 22.5px,#8dc2dc 38.5px,#b6d7e8 61.5px,#d1e5f0 81.5px,#e3edf3 99.5px,#f6f7f7 109.5px,#fce2d2 117.5px,#fddbc7 121.5px,#fbd0b9 124.5px,#f8bb9e 134.5px,#f5ac8b 144.5px,#ee9677 162.5px,#e8896c 175.5px,#db6b55 212.5px,#da6853 220px)"></i><i style="background:linear-gradient(90deg,#144e8a 0px,#144e8a 0.5px,#2065ab 4.5px,#2e77b5 8.5px,#4393c3 17.5px,#5fa5cd 23.5px,#81bad8 33.5px,#81bad8 34.5px,#93c6de 40.5px,#b8d8e9 62.5px,#d1e5f0 80.5px,#deebf2 95.5px,#f6f7f7 109.5px,#fae9df 114.5px,#fddbc7 121.5px,#fac8af 128.5px,#f5ac8b 145.5px,#ef9979 161.5px,#e98b6e 174.5px,#da6853 220px)"></i><i style="background:linear-gradient(90deg,#15508d 0px,#15508d 0.5px,#2267ac 4.5px,#266caf 5.5px,#3480b9 10.5px,#4291c2 16.5px,#4f9bc7 19.5px,#6bacd1 26.5px,#8dc2dc 37.5px,#b3d6e8 58.5px,#d2e6f0 81.5px,#e0ecf3 96.5px,#f6f7f7 109.5px,#fbe5d8 116.5px,#fddcc9 121.5px,#fbd0b9 125.5px,#f8bfa4 133.5px,#f5ac8b 146.5px,#f19e7d 158.5px,#ea8e70 173.5px,#db6b55 220px)"></i><i style="background:linear-gradient(90deg,#15508d 0px,#15508d 0.5px,#1a5899 1.5px,#2369ad 4.5px,#2a71b2 6.5px,#4695c4 17.5px,#62a7ce 23.5px,#78b4d5 30.5px,#7eb8d7 31.5px,#7eb8d7 32.5px,#93c6de 39.5px,#c0dceb 66.5px,#d1e5f0 79.5px,#e1edf3 97.5px,#f6f7f7 109.5px,#f9ede5 113.5px,#fcd7c2 123.5px,#f8bda1 135.5px,#f5aa89 149.5px,#f09c7b 162.5px,#e48066 190.5px,#dc6e57 220px)"></i><i style="background:linear-gradient(90deg,#175290 0px,#175290 0.5px,#2065ab 3.5px,#2e77b5 7.5px,#4393c3 16.5px,#6bacd1 25.5px,#90c4dd 37.5px,#bbdaea 62.5px,#d2e6f0 80.5px,#e4eef4 99.5px,#f6f7f7 109.5px,#fce2d2 118.5px,#fbd0b9 126.5px,#f8bda1 136.5px,#f6b191 145.5px,#f3a481 157.5px,#ec9374 171.5px,#dc6e57 220px)"></i><i style="background:linear-gradient(90deg,#185493 0px,#185493 0.5px,#2267ac 3.5px,#327cb7 8.5px,#4291c2 15.5px,#65a9cf 23.5px,#93c6de 38.5px,#bddbea 63.5px,#d1e5f0 78.5px,#e0ecf3 95.5px,#f6f7f7 109.5px,#fce0d0 119.5px,#fcd7c2 124.5px,#f9c2a7 134.5px,#f6b191 146.5px,#f3a481 158.5px,#ee9677 170.5px,#e37e64 198.5px,#dd7059 220px)"></i><i style="background:linear-gradient(90deg,#195696 0px,#195696 0.5px,#1f63a8 2.5px,#2267ac 3.5px,#2c75b4 6.5px,#4393c3 15.5px,#529dc8 18.5px,#6eaed2 25.5px,#90c4dd 36.5px,#a2cde3 45.5px,#c2ddec 66.5px,#d1e5f0 77.5px,#e3edf3 97.5px,#f6f7f7 109.5px,#fbe3d4 118.5px,#fddbc7 123.5px,#facab1 130.5px,#f6b191 147.5px,#f4a683 157.5px,#ef9979 169.5px,#e27b62 204.5px,#de735c 220px)"></i><i style="background:linear-gradient(90deg,#1a5899 0px,#1a5899 0.5px,#2065ab 2.5px,#2e77b5 6.5px,#4291c2 14.5px,#65a9cf 22.5px,#93c6de 37.5px,#bbdaea 60.5px,#d1e5f0 77.5px,#e4eef4 98.5px,#f6f7f7 109.5px,#f7f6f6 110.5px,#f9eee7 113.5px,#fce2d2 119.5px,#f9c6ac 133.5px,#f6af8e 150.5px,#f09c7b 168.5px,#e6866a 192.5px,#de735c 220px)"></i><i style="background:linear-gradient(90deg,#1b5a9c 0px,#1b5a9c 0.5px,#1e61a5 1.5px,#246aae 3.5px,#327cb7 7.5px,#4695c4 15.5px,#71b0d3 25.5px,#90c4dd 35.5px,#a9d1e5 48.5px,#bddbea 61.5px,#d1e5f0 76.5px,#e1edf3 95.5px,#f6f7f7 109.5px,#f7f6f6 110.5px,#fbe4d6 118.5px,#fdddcb 122.5px,#f9c4a9 135.5px,#f7b799 144.5px,#f19e7d 167.5px,#e58368 198.5px,#df765e 220px)"></i><i style="background:linear-gradient(90deg,#1c5c9f 0px,#266caf 3.5px,#4393c3 14.5px,#5ca3cb 19.5px,#68abd0 22.5px,#93c6de 36.5px,#a7d0e4 46.5px,#c2ddec 64.5px,#d1e5f0 75.5px,#e3edf3 96.5px,#f6f7f7 109.5px,#f7f6f6 110.5px,#fbe6da 117.5px,#fddbc7 124.5px,#facab1 132.5px,#f7b799 145.5px,#f19e7d 169.5px,#df765e 220px)"></i><i style="background:linear-gradient(90deg,#1c5c9f 0px,#1c5c9f 0.5px,#2369ad 2.5px,#408fc1 12.5px,#4997c5 15.5px,#71b0d3 24.5px,#93c6de 35.5px,#b3d6e8 53.5px,#c7e0ed 67.5px,#e4eef4 97.5px,#f6f7f7 109.5px,#f7f6f6 110.5px,#fae8de 116.5px,#fcdecd 122.5px,#fac8af 134.5px,#f7b799 146.5px,#f2a17f 168.5px,#e98b6e 192.5px,#e17860 220px)"></i><i style="background:linear-gradient(90deg,#1d5fa2 0px,#1d5fa2 0.5px,#2065ab 1.5px,#246aae 2.5px,#3480b9 7.5px,#4393c3 13.5px,#529dc8 16.5px,#6bacd1 22.5px,#93c6de 35.5px,#b6d7e8 54.5px,#cce2ef 70.5px,#e1edf3 94.5px,#f6f7f7 109.5px,#f7f6f6 110.5px,#fae7dc 117.5px,#fbceb7 131.5px,#f8bda1 142.5px,#f6af8e 155.5px,#f3a481 167.5px,#ec9374 184.5px,#e27b62 220px)"></i><i style="background:linear-gradient(90deg,#1e61a5 0px,#266caf 2.5px,#4291c2 12.5px,#59a1ca 17.5px,#75b2d4 24.5px,#93c6de 34.5px,#c2ddec 62.5px,#d2e6f0 75.5px,#e3edf3 95.5px,#f6f7f7 109.5px,#fbe4d6 119.5px,#fddbc7 126.5px,#fbccb4 133.5px,#f8bda1 143.5px,#f5aa89 161.5px,#f3a481 171.5px,#ec9374 186.5px,#e27b62 220px)"></i><i style="background:linear-gradient(90deg,#1f63a8 0px,#307ab6 5.5px,#4291c2 12.5px,#5fa5cd 18.5px,#6bacd1 21.5px,#93c6de 34.5px,#a9d1e5 45.5px,#c7e0ed 65.5px,#e4eef4 96.5px,#f6f7f7 109.5px,#fbe3d4 120.5px,#facab1 135.5px,#f6af8e 158.5px,#ec9374 188.5px,#e37e64 220px)"></i><i style="background:linear-gradient(90deg,#2065ab 0px,#3480b9 6.5px,#4393c3 12.5px,#65a9cf 19.5px,#93c6de 33.5px,#b1d5e7 49.5px,#cce2ef 68.5px,#e6eff4 97.5px,#f6f7f7 109.5px,#fbe5d8 119.5px,#fddbc7 127.5px,#fbd0b9 132.5px,#f9c2a7 142.5px,#f6b191 157.5px,#f3a481 172.5px,#ee9677 187.5px,#e48066 220px)"></i><i style="background:linear-gradient(90deg,#2267ac 0px,#4291c2 11.5px,#569fc9 15.5px,#6eaed2 21.5px,#93c6de 33.5px,#a5cee3 41.5px,#c2ddec 60.5px,#d4e6f1 75.5px,#e7f0f4 98.5px,#f6f7f7 109.5px,#fbe4d6 120.5px,#fdd9c4 129.5px,#fbceb7 134.5px,#f7b596 154.5px,#f3a481 174.5px,#e48066 220px)"></i><i style="background:linear-gradient(90deg,#2267ac 0px,#307ab6 4.5px,#4695c4 12.5px,#5ca3cb 16.5px,#78b4d5 23.5px,#93c6de 32.5px,#a7d0e4 42.5px,#c7e0ed 63.5px,#d1e5f0 71.5px,#e4eef4 95.5px,#f6f7f7 109.5px,#fae7dc 118.5px,#fddbc7 128.5px,#fbccb4 136.5px,#f6b191 160.5px,#ee9677 191.5px,#e58368 220px)"></i><i style="background:linear-gradient(90deg,#2369ad 0px,#3480b9 5.5px,#4393c3 11.5px,#62a7ce 17.5px,#6eaed2 20.5px,#9dcbe1 36.5px,#b1d5e7 47.5px,#d1e5f0 70.5px,#e3edf3 93.5px,#f6f7f7 109.5px,#fbe6da 119.5px,#fddbc7 129.5px,#fbd0b9 134.5px,#f9c4a9 143.5px,#f6b394 159.5px,#ef9979 190.5px,#e6866a 220px)"></i><i style="background:linear-gradient(90deg,#246aae 0px,#4291c2 10.5px,#68abd0 18.5px,#90c4dd 30.5px,#a2cde3 38.5px,#c2ddec 58.5px,#d1e5f0 70.5px,#e1edf3 91.5px,#f6f7f7 109.5px,#fbe4d6 121.5px,#fbd0b9 135.5px,#f7b596 158.5px,#f3a481 180.5px,#e6866a 220px)"></i><i style="background:linear-gradient(90deg,#266caf 0px,#4393c3 10.5px,#71b0d3 20.5px,#93c6de 31.5px,#a7d0e4 40.5px,#d1e5f0 69.5px,#e3edf3 92.5px,#f6f7f7 109.5px,#fce0d0 124.5px,#fddbc7 130.5px,#facab1 140.5px,#f7b99c 155.5px,#f3a481 181.5px,#e8896c 220px)"></i><i style="background:linear-gradient(90deg,#276eb0 0px,#4291c2 9.5px,#6bacd1 18.5px,#90c4dd 29.5px,#a2cde3 37.5px,#b8d8e9 50.5px,#d1e5f0 68.5px,#e1edf3 90.5px,#f6f7f7 109.5px,#fbe6da 120.5px,#fdd9c4 132.5px,#facab1 141.5px,#f8bda1 152.5px,#f3a481 183.5px,#e98b6e 220px)"></i><i style="background:linear-gradient(90deg,#2870b1 0px,#4695c4 10.5px,#529dc8 12.5px,#71b0d3 19.5px,#a0cce2 35.5px,#b3d6e8 46.5px,#d1e5f0 68.5px,#e4eef4 93.5px,#f6f7f7 109.5px,#fbe4d6 122.5px,#fcd7c2 133.5px,#facab1 142.5px,#f7b799 160.5px,#f3a481 185.5px,#e98b6e 220px)"></i><i style="background:linear-gradient(90deg,#2a71b2 0px,#4393c3 9.5px,#6bacd1 17.5px,#90c4dd 28.5px,#a5cee3 37.5px,#d1e5f0 67.5px,#e1edf3 89.5px,#f6f7f7 109.5px,#fae8de 119.5px,#fddbc7 132.5px,#fbd0b9 138.5px,#f7b99c 159.5px,#f3a481 187.5px,#ea8e70 220px)"></i><i style="background:linear-gradient(90deg,#2a71b2 0px,#4291c2 8.5px,#75b2d4 19.5px,#93c6de 29.5px,#a9d1e5 39.5px,#d1e5f0 66.5px,#e4eef4 92.5px,#f6f7f7 109.5px,#fcdfcf 127.5px,#fddbc7 133.5px,#fbd0b9 139.5px,#f8bda1 156.5px,#f3a481 189.5px,#ea8e70 220px)"></i><i style="background:linear-gradient(90deg,#2b73b3 0px,#4393c3 8.5px,#6eaed2 17.5px,#90c4dd 27.5px,#a7d0e4 37.5px,#c2ddec 54.5px,#d1e5f0 66.5px,#e3edf3 90.5px,#f6f7f7 109.5px,#f9ebe3 117.5px,#fdddcb 130.5px,#f8bfa4 155.5px,#f4a683 188.5px,#eb9172 220px)"></i><i style="background:linear-gradient(90deg,#2c75b4 0px,#4997c5 9.5px,#569fc9 11.5px,#75b2d4 18.5px,#90c4dd 26.5px,#b1d5e7 42.5px,#d1e5f0 65.5px,#deebf2 84.5px,#f6f7f7 109.5px,#fcdfcf 128.5px,#f9c2a7 154.5px,#f4a683 190.5px,#ec9374 220px)"></i><i style="background:linear-gradient(90deg,#2e77b5 0px,#4291c2 7.5px,#6eaed2 16.5px,#7eb8d7 20.5px,#9dcbe1 31.5px,#aed3e6 40.5px,#d1e5f0 64.5px,#e3edf3 89.5px,#f6f7f7 109.5px,#fbe5d8 123.5px,#fddbc7 135.5px,#fcd3bc 140.5px,#f8bda1 160.5px,#f4a683 192.5px,#ec9374 220px)"></i><i style="background:linear-gradient(90deg,#2f79b5 0px,#4393c3 7.5px,#5fa5cd 12.5px,#75b2d4 17.5px,#93c6de 26.5px,#acd2e5 38.5px,#d2e6f0 65.5px,#e6eff4 92.5px,#f6f7f7 109.5px,#fce0d0 128.5px,#fddbc7 136.5px,#fcd3bc 141.5px,#f8bfa4 159.5px,#f5a886 191.5px,#ee9677 220px)"></i><i style="background:linear-gradient(90deg,#307ab6 0px,#4291c2 6.5px,#65a9cf 13.5px,#7eb8d7 19.5px,#93c6de 26.5px,#a9d1e5 36.5px,#d1e5f0 63.5px,#f6f7f7 109.5px,#fbe4d6 125.5px,#fddbc7 136.5px,#f8bda1 163.5px,#f3a481 200.5px,#ef9979 220px)"></i><i style="background:linear-gradient(90deg,#307ab6 0px,#4393c3 6.5px,#6bacd1 14.5px,#8ac0db 22.5px,#98c8e0 27.5px,#b3d6e8 41.5px,#d1e5f0 62.5px,#e7f0f4 93.5px,#f6f7f7 108.5px,#f7f6f6 110.5px,#fce2d2 128.5px,#fddcc9 136.5px,#fcd5bf 141.5px,#f8bfa4 162.5px,#f5a886 195.5px,#ef9979 220px)"></i><i style="background:linear-gradient(90deg,#327cb7 0px,#4393c3 6.5px,#569fc9 9.5px,#7eb8d7 18.5px,#a2cde3 31.5px,#b1d5e7 39.5px,#d1e5f0 61.5px,#e3edf3 87.5px,#f6f7f7 108.5px,#f7f6f6 110.5px,#fbe4d6 126.5px,#fddbc7 138.5px,#f9c2a7 161.5px,#f4a683 201.5px,#f09c7b 220px)"></i><i style="background:linear-gradient(90deg,#337eb8 0px,#4291c2 5.5px,#6bacd1 13.5px,#8ac0db 21.5px,#9bc9e0 27.5px,#aed3e6 37.5px,#d1e5f0 61.5px,#f6f7f7 108.5px,#f7f6f6 110.5px,#fce2d2 129.5px,#fddbc7 139.5px,#f9c4a9 160.5px,#f6af8e 189.5px,#f09c7b 220px)"></i><i style="background:linear-gradient(90deg,#3480b9 0px,#4393c3 5.5px,#71b0d3 14.5px,#93c6de 24.5px,#b3d6e8 39.5px,#d1e5f0 60.5px,#f6f7f7 109.5px,#fbe4d6 127.5px,#fddbc7 140.5px,#f9c6ac 159.5px,#f6af8e 191.5px,#f19e7d 220px)"></i><i style="background:linear-gradient(90deg,#3681ba 0px,#4291c2 4.5px,#78b4d5 15.5px,#93c6de 23.5px,#b1d5e7 37.5px,#d1e5f0 59.5px,#f6f7f7 109.5px,#fbe6da 125.5px,#fddbc7 141.5px,#fcd7c2 143.5px,#fac8af 158.5px,#f7b596 183.5px,#f4a683 208.5px,#f2a17f 220px)"></i><i style="background:linear-gradient(90deg,#3783bb 0px,#4695c4 5.5px,#68abd0 11.5px,#81bad8 17.5px,#93c6de 23.5px,#aed3e6 35.5px,#d1e5f0 59.5px,#f6f7f7 109.5px,#fbe4d6 128.5px,#fddbc7 142.5px,#fcd7c2 144.5px,#facab1 157.5px,#f7b596 185.5px,#f2a17f 220px)"></i><i style="background:linear-gradient(90deg,#3885bc 0px,#4393c3 4.5px,#5ca3cb 8.5px,#6eaed2 12.5px,#93c6de 22.5px,#acd2e5 33.5px,#d1e5f0 58.5px,#f6f7f7 109.5px,#fbe3d4 130.5px,#fddbc7 143.5px,#fcd5bf 147.5px,#f9c4a9 166.5px,#f6b191 194.5px,#f3a481 220px)"></i><i style="background:linear-gradient(90deg,#3885bc 0px,#4695c4 4.5px,#59a1ca 7.5px,#75b2d4 13.5px,#93c6de 22.5px,#b6d7e8 38.5px,#d1e5f0 57.5px,#f6f7f7 109.5px,#fae7dc 125.5px,#fddbc7 144.5px,#fac8af 162.5px,#f6b191 196.5px,#f4a683 220px)"></i><i style="background:linear-gradient(90deg,#3a87bd 0px,#4393c3 3.5px,#6eaed2 11.5px,#93c6de 21.5px,#b3d6e8 36.5px,#d1e5f0 56.5px,#f6f7f7 109.5px,#fbe6da 127.5px,#fddbc7 145.5px,#facab1 161.5px,#f7b596 191.5px,#f4a683 220px)"></i><i style="background:linear-gradient(90deg,#3b88be 0px,#4695c4 3.5px,#75b2d4 12.5px,#93c6de 21.5px,#b1d5e7 34.5px,#d1e5f0 56.5px,#f6f7f7 109.5px,#fae7dc 126.5px,#fddbc7 146.5px,#fac8af 165.5px,#f6b394 197.5px,#f5a886 220px)"></i><i style="background:linear-gradient(90deg,#3c8abe 0px,#4291c2 2.5px,#5fa5cd 7.5px,#7bb6d6 13.5px,#93c6de 20.5px,#b6d7e8 36.5px,#d1e5f0 55.5px,#f6f7f7 109.5px,#fae8de 125.5px,#fddbc7 147.5px,#facab1 164.5px,#f8bb9e 185.5px,#f5a886 220px)"></i><i style="background:linear-gradient(90deg,#3e8cbf 0px,#4393c3 2.5px,#5ca3cb 6.5px,#75b2d4 11.5px,#98c8e0 21.5px,#b3d6e8 34.5px,#d1e5f0 54.5px,#f6f7f7 109.5px,#fae7dc 127.5px,#fddbc7 148.5px,#fbceb7 160.5px,#f8bb9e 187.5px,#f5aa89 220px)"></i><i style="background:linear-gradient(90deg,#3f8ec0 0px,#4695c4 2.5px,#59a1ca 5.5px,#7bb6d6 12.5px,#93c6de 19.5px,#b1d5e7 32.5px,#d2e6f0 55.5px,#f6f7f7 109.5px,#fbe6da 129.5px,#fddbc7 149.5px,#facab1 167.5px,#f7b799 196.5px,#f5ac8b 220px)"></i><i style="background:linear-gradient(90deg,#3f8ec0 0px,#4393c3 1.5px,#65a9cf 7.5px,#81bad8 13.5px,#96c7df 19.5px,#b6d7e8 34.5px,#d1e5f0 53.5px,#f6f7f7 109.5px,#fae7dc 128.5px,#fddbc7 150.5px,#fbceb7 163.5px,#f8bb9e 191.5px,#f5ac8b 220px)"></i><i style="background:linear-gradient(90deg,#408fc1 0px,#408fc1 0.5px,#529dc8 3.5px,#7bb6d6 11.5px,#93c6de 18.5px,#b3d6e8 32.5px,#d1e5f0 52.5px,#f6f7f7 109.5px,#fbe6da 130.5px,#fddbc7 151.5px,#facab1 170.5px,#f6b394 208.5px,#f6af8e 220px)"></i><i style="background:linear-gradient(90deg,#4291c2 0px,#4695c4 1.5px,#65a9cf 6.5px,#81bad8 12.5px,#93c6de 17.5px,#b1d5e7 30.5px,#d1e5f0 51.5px,#f6f7f7 109.5px,#fae7dc 129.5px,#fddbc7 152.5px,#fbceb7 166.5px,#f6af8e 220px)"></i><i style="background:linear-gradient(90deg,#4393c3 0px,#4393c3 0.5px,#71b0d3 8.5px,#93c6de 17.5px,#acd2e5 27.5px,#bbdaea 35.5px,#d4e6f1 54.5px,#f6f7f7 109.5px,#fbe5d8 133.5px,#fddbc7 153.5px,#fcd3bc 162.5px,#f8bfa4 190.5px,#f6b191 220px)"></i><i style="background:linear-gradient(90deg,#4695c4 0px,#4695c4 0.5px,#6eaed2 7.5px,#93c6de 16.5px,#b8d8e9 33.5px,#d1e5f0 50.5px,#f6f7f7 109.5px,#fbe6da 132.5px,#fddbc7 155.5px,#facab1 175.5px,#f6b394 215.5px,#f6b394 220px)"></i><i style="background:linear-gradient(90deg,#4997c5 0px,#4997c5 0.5px,#5ca3cb 3.5px,#7eb8d7 10.5px,#93c6de 16.5px,#aed3e6 27.5px,#d1e5f0 49.5px,#f6f7f7 109.5px,#fae8de 129.5px,#fddbc7 156.5px,#fac8af 180.5px,#f6b394 220px)"></i><i style="background:linear-gradient(90deg,#4c99c6 0px,#4c99c6 0.5px,#78b4d5 8.5px,#93c6de 15.5px,#b3d6e8 29.5px,#d1e5f0 48.5px,#f6f7f7 109.5px,#fbe3d4 139.5px,#fddbc7 157.5px,#f8bfa4 196.5px,#f7b596 220px)"></i><i style="background:linear-gradient(90deg,#4c99c6 0px,#4c99c6 0.5px,#6bacd1 5.5px,#7eb8d7 9.5px,#9bc9e0 17.5px,#b8d8e9 31.5px,#d4e6f1 51.5px,#f6f7f7 109.5px,#fce2d2 142.5px,#fddbc7 159.5px,#fbccb4 177.5px,#f7b596 220px)"></i><i style="background:linear-gradient(90deg,#4f9bc7 0px,#4f9bc7 0.5px,#78b4d5 7.5px,#93c6de 14.5px,#aed3e6 25.5px,#d1e5f0 47.5px,#f7f6f6 111.5px,#faeae1 127.5px,#fce2d2 143.5px,#fddbc7 160.5px,#f9c4a9 193.5px,#f7b799 220px)"></i><i style="background:linear-gradient(90deg,#529dc8 0px,#529dc8 0.5px,#6bacd1 4.5px,#7eb8d7 8.5px,#98c8e0 15.5px,#bbdaea 31.5px,#d1e5f0 46.5px,#edf2f5 90.5px,#f7f6f6 111.5px,#f9ede5 124.5px,#fce2d2 144.5px,#fddbc7 161.5px,#facab1 184.5px,#f7b799 220px)"></i><i style="background:linear-gradient(90deg,#569fc9 0px,#90c4dd 12.5px,#b1d5e7 25.5px,#cfe4ef 43.5px,#d8e9f1 55.5px,#f7f6f6 111.5px,#fbe5d8 138.5px,#fddbc7 163.5px,#f9c6ac 193.5px,#f7b99c 220px)"></i><i style="background:linear-gradient(90deg,#59a1ca 0px,#87beda 9.5px,#96c7df 13.5px,#bddbea 31.5px,#d5e7f1 50.5px,#f7f6f6 111.5px,#f9efe9 121.5px,#fbe4d6 141.5px,#fddbc7 164.5px,#f9c6ac 195.5px,#f8bb9e 220px)"></i><i style="background:linear-gradient(90deg,#5ca3cb 0px,#65a9cf 2.5px,#8dc2dc 10.5px,#b3d6e8 25.5px,#d1e5f0 44.5px,#dbeaf2 58.5px,#f7f6f6 111.5px,#fbe4d6 142.5px,#fddbc7 165.5px,#fbccb4 186.5px,#f8bb9e 220px)"></i><i style="background:linear-gradient(90deg,#5ca3cb 0px,#5ca3cb 0.5px,#75b2d4 4.5px,#87beda 8.5px,#96c7df 12.5px,#b1d5e7 23.5px,#cce2ef 39.5px,#dae9f2 55.5px,#f7f6f6 111.5px,#fbe6da 138.5px,#fddbc7 167.5px,#fbccb4 188.5px,#f8bda1 220px)"></i><i style="background:linear-gradient(90deg,#5fa5cd 0px,#8dc2dc 9.5px,#a9d1e5 19.5px,#cfe4ef 40.5px,#d8e9f1 52.5px,#f7f6f6 111.5px,#f9efe9 122.5px,#fbe3d4 146.5px,#fddbc7 168.5px,#fbceb7 186.5px,#f8bda1 220px)"></i><i style="background:linear-gradient(90deg,#62a7ce 0px,#93c6de 10.5px,#b3d6e8 23.5px,#cae1ee 36.5px,#d7e8f1 49.5px,#f7f6f6 111.5px,#fbe5d8 142.5px,#fddbc7 170.5px,#fbceb7 188.5px,#f8bfa4 220px)"></i><i style="background:linear-gradient(90deg,#65a9cf 0px,#8dc2dc 8.5px,#aed3e6 20.5px,#cce2ef 37.5px,#dbeaf2 55.5px,#f7f6f6 111.5px,#fae7dc 138.5px,#fddbc7 171.5px,#fbd0b9 186.5px,#f8bfa4 220px)"></i><i style="background:linear-gradient(90deg,#68abd0 0px,#93c6de 9.5px,#b6d7e8 23.5px,#d1e5f0 40.5px,#dbeaf2 54.5px,#f7f6f6 111.5px,#f9eee7 125.5px,#fbe3d4 149.5px,#fddbc7 173.5px,#fbd0b9 188.5px,#f9c2a7 220px)"></i><i style="background:linear-gradient(90deg,#6bacd1 0px,#98c8e0 10.5px,#b3d6e8 21.5px,#cfe4ef 37.5px,#dae9f2 51.5px,#f7f6f6 111.5px,#fbe6da 142.5px,#fddbc7 174.5px,#f9c2a7 220px)"></i><i style="background:linear-gradient(90deg,#6eaed2 0px,#71b0d3 1.5px,#7eb8d7 3.5px,#93c6de 8.5px,#b8d8e9 23.5px,#d1e5f0 38.5px,#ddebf2 55.5px,#f7f6f6 111.5px,#fbe6da 143.5px,#fddbc7 176.5px,#fcd5bf 184.5px,#f9c4a9 220px)"></i><i style="background:linear-gradient(90deg,#6eaed2 0px,#98c8e0 9.5px,#b6d7e8 21.5px,#d1e5f0 38.5px,#ddebf2 54.5px,#f7f6f6 111.5px,#fae7dc 141.5px,#fddbc7 178.5px,#fcd7c2 182.5px,#f9c4a9 220px)"></i><i style="background:linear-gradient(90deg,#71b0d3 0px,#90c4dd 6.5px,#b3d6e8 19.5px,#cce2ef 33.5px,#dbeaf2 51.5px,#ecf2f5 81.5px,#f7f6f6 111.5px,#fae8de 139.5px,#fddbc7 179.5px,#f9c6ac 220px)"></i><i style="background:linear-gradient(90deg,#75b2d4 0px,#96c7df 7.5px,#bbdaea 22.5px,#d1e5f0 36.5px,#dbeaf2 50.5px,#eff3f5 87.5px,#f7f6f6 111.5px,#fae9df 137.5px,#fddbc7 181.5px,#f9c6ac 220px)"></i><i style="background:linear-gradient(90deg,#78b4d5 0px,#9bc9e0 8.5px,#c0dceb 24.5px,#d1e5f0 35.5px,#deebf2 54.5px,#f7f6f6 111.5px,#fbe5d8 149.5px,#fddbc7 183.5px,#fbd0b9 199.5px,#fac8af 220px)"></i><i style="background:linear-gradient(90deg,#7bb6d6 0px,#7eb8d7 1.5px,#8ac0db 3.5px,#96c7df 6.5px,#a2cde3 10.5px,#bddbea 22.5px,#d2e6f0 36.5px,#e0ecf3 56.5px,#f7f6f6 111.5px,#fae7dc 144.5px,#fddbc7 184.5px,#fac8af 220px)"></i><i style="background:linear-gradient(90deg,#7eb8d7 0px,#81bad8 1.5px,#90c4dd 4.5px,#9bc9e0 7.5px,#c2ddec 24.5px,#d1e5f0 34.5px,#e0ecf3 55.5px,#f6f7f7 109.5px,#fae8de 142.5px,#fddbc7 186.5px,#fbd0b9 203.5px,#facab1 220px)"></i><i style="background:linear-gradient(90deg,#81bad8 0px,#a0cce2 8.5px,#c0dceb 22.5px,#d1e5f0 33.5px,#e1edf3 57.5px,#f7f6f6 111.5px,#faeae1 137.5px,#fddbc7 187.5px,#facab1 220px)"></i><i style="background:linear-gradient(90deg,#81bad8 0px,#98c8e0 5.5px,#a7d0e4 10.5px,#c5dfec 24.5px,#d1e5f0 32.5px,#e1edf3 56.5px,#f6f7f7 109.5px,#fbe5d8 153.5px,#fddbc7 189.5px,#fbccb4 220px)"></i><i style="background:linear-gradient(90deg,#84bcd9 0px,#9dcbe1 6.5px,#bbdaea 18.5px,#d1e5f0 31.5px,#e3edf3 58.5px,#f6f7f7 109.5px,#fbe5d8 154.5px,#fddbc7 191.5px,#fbccb4 220px)"></i><i style="background:linear-gradient(90deg,#87beda 0px,#a2cde3 7.5px,#b8d8e9 16.5px,#cce2ef 27.5px,#dae9f2 42.5px,#e4eef4 60.5px,#f6f7f7 109.5px,#fae8de 145.5px,#fddbc7 193.5px,#fbceb7 215.5px,#fbceb7 220px)"></i><i style="background:linear-gradient(90deg,#8ac0db 0px,#a9d1e5 9.5px,#c0dceb 19.5px,#d1e5f0 30.5px,#e0ecf3 51.5px,#f7f6f6 112.5px,#fae8de 146.5px,#fddbc7 194.5px,#fbceb7 220px)"></i><i style="background:linear-gradient(90deg,#8dc2dc 0px,#a0cce2 5.5px,#bddbea 17.5px,#cfe4ef 27.5px,#e1edf3 53.5px,#f7f6f6 112.5px,#f9ebe3 137.5px,#fddbc7 196.5px,#fbceb7 220px)"></i><i style="background:linear-gradient(90deg,#90c4dd 0px,#bbdaea 15.5px,#d1e5f0 28.5px,#e7f0f4 64.5px,#f7f6f6 112.5px,#fae7dc 151.5px,#fddbc7 198.5px,#fbd0b9 220px)"></i><i style="background:linear-gradient(90deg,#90c4dd 0px,#b3d6e8 11.5px,#cce2ef 24.5px,#dbeaf2 41.5px,#e6eff4 60.5px,#f7f6f6 112.5px,#fae9df 145.5px,#fddbc7 199.5px,#fbd0b9 220px)"></i><i style="background:linear-gradient(90deg,#93c6de 0px,#a2cde3 4.5px,#c0dceb 16.5px,#cce2ef 23.5px,#dae9f2 38.5px,#e9f0f4 66.5px,#f7f6f6 112.5px,#f9ebe3 139.5px,#fddbc7 201.5px,#fcd3bc 220px)"></i><i style="background:linear-gradient(90deg,#96c7df 0px,#bbdaea 13.5px,#cfe4ef 24.5px,#dae9f2 37.5px,#e7f0f4 62.5px,#f7f6f6 112.5px,#faeae1 143.5px,#fddbc7 203.5px,#fcd3bc 220px)"></i><i style="background:linear-gradient(90deg,#98c8e0 0px,#b6d7e8 10.5px,#cfe4ef 23.5px,#d8e9f1 34.5px,#e7f0f4 61.5px,#f7f6f6 112.5px,#f9ede5 137.5px,#fddbc7 204.5px,#fcd3bc 220px)"></i><i style="background:linear-gradient(90deg,#9bc9e0 0px,#c0dceb 14.5px,#d1e5f0 24.5px,#e6eff4 57.5px,#f7f6f6 112.5px,#fae9df 148.5px,#fcd5bf 220px)"></i><i style="background:linear-gradient(90deg,#9dcbe1 0px,#bddbea 12.5px,#d1e5f0 23.5px,#e9f0f4 63.5px,#f7f6f6 112.5px,#faeae1 145.5px,#fddbc7 208.5px,#fcd5bf 220px)"></i><i style="background:linear-gradient(90deg,#9dcbe1 0px,#bbdaea 10.5px,#d2e6f0 24.5px,#e7f0f4 59.5px,#f7f6f6 112.5px,#f9ebe3 142.5px,#fcd7c2 220px)"></i><i style="background:linear-gradient(90deg,#a0cce2 0px,#c2ddec 13.5px,#d2e6f0 23.5px,#e7f0f4 58.5px,#f7f6f6 112.5px,#fae8de 154.5px,#fcd7c2 220px)"></i><i style="background:linear-gradient(90deg,#a2cde3 0px,#c2ddec 12.5px,#d1e5f0 21.5px,#deebf2 39.5px,#e9f0f4 61.5px,#f7f6f6 112.5px,#faeae1 147.5px,#fcd7c2 220px)"></i><i style="background:linear-gradient(90deg,#a5cee3 0px,#bddbea 9.5px,#d1e5f0 20.5px,#e9f0f4 60.5px,#f7f6f6 112.5px,#fbe6da 164.5px,#fdd9c4 220px)"></i><i style="background:linear-gradient(90deg,#a7d0e4 0px,#b8d8e9 6.5px,#d1e5f0 19.5px,#e7f0f4 56.5px,#f7f6f6 112.5px,#fbe6da 165.5px,#fdd9c4 220px)"></i><i style="background:linear-gradient(90deg,#a9d1e5 0px,#c5dfec 11.5px,#d1e5f0 18.5px,#e7f0f4 55.5px,#f7f6f6 112.5px,#faeae1 149.5px,#fdd9c4 220px)"></i><i style="background:linear-gradient(90deg,#acd2e5 0px,#c2ddec 9.5px,#d2e6f0 19.5px,#e1edf3 41.5px,#ecf2f5 66.5px,#f7f6f6 112.5px,#fae9df 154.5px,#fdd9c4 220px)"></i><i style="background:linear-gradient(90deg,#acd2e5 0px,#c0dceb 7.5px,#d2e6f0 18.5px,#deebf2 35.5px,#edf2f5 70.5px,#f7f6f6 112.5px,#fae8de 159.5px,#fddbc7 220px)"></i><i style="background:linear-gradient(90deg,#aed3e6 0px,#c7e0ed 10.5px,#d4e6f1 19.5px,#deebf2 34.5px,#ecf2f5 65.5px,#f7f6f6 112.5px,#faeae1 151.5px,#fddbc7 220px)"></i><i style="background:linear-gradient(90deg,#b1d5e7 0px,#c7e0ed 9.5px,#d4e6f1 18.5px,#deebf2 33.5px,#ecf2f5 64.5px,#f7f6f6 112.5px,#fae9df 156.5px,#fddbc7 220px)"></i><i style="background:linear-gradient(90deg,#b3d6e8 0px,#d1e5f0 14.5px,#deebf2 32.5px,#eaf1f5 59.5px,#f7f6f6 113.5px,#f9ebe3 148.5px,#fddbc7 220px)"></i><i style="background:linear-gradient(90deg,#b6d7e8 0px,#cce2ef 10.5px,#d5e7f1 18.5px,#ecf2f5 63.5px,#f7f6f6 113.5px,#faeae1 153.5px,#fddcc9 220px)"></i><i style="background:linear-gradient(90deg,#b6d7e8 0px,#cae1ee 8.5px,#d7e8f1 19.5px,#ecf2f5 62.5px,#f7f6f6 113.5px,#f9ede5 145.5px,#fddcc9 220px)"></i><i style="background:linear-gradient(90deg,#b8d8e9 0px,#cae1ee 7.5px,#d7e8f1 18.5px,#eaf1f5 57.5px,#f7f6f6 113.5px,#f9eee7 141.5px,#fddcc9 220px)"></i><i style="background:linear-gradient(90deg,#bbdaea 0px,#d2e6f0 12.5px,#e1edf3 34.5px,#eaf1f5 56.5px,#f7f6f6 113.5px,#f9ede5 146.5px,#fddcc9 220px)"></i><i style="background:linear-gradient(90deg,#bddbea 0px,#d2e6f0 11.5px,#ddebf2 25.5px,#ecf2f5 60.5px,#f6f7f7 109.5px,#fddcc9 220px)"></i><i style="background:linear-gradient(90deg,#c0dceb 0px,#d1e5f0 9.5px,#ddebf2 24.5px,#eaf1f5 55.5px,#f6f7f7 109.5px,#faeae1 156.5px,#fdddcb 220px)"></i><i style="background:linear-gradient(90deg,#c2ddec 0px,#d4e6f1 11.5px,#e4eef4 38.5px,#f0f4f6 75.5px,#f6f7f7 109.5px,#fdddcb 220px)"></i><i style="background:linear-gradient(90deg,#c2ddec 0px,#d4e6f1 10.5px,#e4eef4 37.5px,#f6f7f7 109.5px,#fdddcb 220px)"></i><i style="background:linear-gradient(90deg,#c5dfec 0px,#d4e6f1 9.5px,#e4eef4 36.5px,#f0f4f6 74.5px,#f6f7f7 109.5px,#fdddcb 220px)"></i><i style="background:linear-gradient(90deg,#c7e0ed 0px,#d4e6f1 8.5px,#e3edf3 32.5px,#edf2f5 62.5px,#f6f7f7 109.5px,#fdddcb 220px)"></i><i style="background:linear-gradient(90deg,#cae1ee 0px,#d1e5f0 4.5px,#dbeaf2 17.5px,#e6eff4 38.5px,#f6f7f7 109.5px,#fdddcb 220px)"></i><i style="background:linear-gradient(90deg,#cae1ee 0px,#d1e5f0 3.5px,#d5e7f1 8.5px,#e3edf3 30.5px,#f0f4f6 73.5px,#f6f7f7 109.5px,#fdddcb 220px)"></i><i style="background:linear-gradient(90deg,#cce2ef 0px,#d5e7f1 7.5px,#e3edf3 29.5px,#eff3f5 66.5px,#f6f7f7 109.5px,#fcdecd 220px)"></i><i style="background:linear-gradient(90deg,#cfe4ef 0px,#deebf2 19.5px,#e9f0f4 44.5px,#f6f7f7 109.5px,#fcdecd 220px)"></i><i style="background:linear-gradient(90deg,#cfe4ef 0px,#dbeaf2 13.5px,#e7f0f4 39.5px,#f6f7f7 109.5px,#fcdecd 220px)"></i><i style="background:linear-gradient(90deg,#d1e5f0 0px,#deebf2 17.5px,#e7f0f4 38.5px,#f6f7f7 109.5px,#fcdecd 220px)"></i><i style="background:linear-gradient(90deg,#d2e6f0 0px,#deebf2 16.5px,#e7f0f4 37.5px,#f6f7f7 109.5px,#fcdecd 220px)"></i><i style="background:linear-gradient(90deg,#d2e6f0 0px,#deebf2 15.5px,#e9f0f4 41.5px,#f6f7f7 109.5px,#fcdecd 220px)"></i><i style="background:linear-gradient(90deg,#d4e6f1 0px,#deebf2 14.5px,#e9f0f4 40.5px,#f6f7f7 109.5px,#fcdecd 220px)"></i><i style="background:linear-gradient(90deg,#d5e7f1 0px,#e1edf3 19.5px,#ecf2f5 50.5px,#f7f6f6 114.5px,#fcdecd 220px)"></i><i style="background:linear-gradient(90deg,#d5e7f1 0px,#e1edf3 18.5px,#eaf1f5 44.5px,#f7f6f6 114.5px,#fcdecd 220px)"></i><i style="background:linear-gradient(90deg,#d7e8f1 0px,#e1edf3 17.5px,#eaf1f5 43.5px,#f7f6f6 114.5px,#fcdecd 220px)"></i><i style="background:linear-gradient(90deg,#d7e8f1 0px,#e1edf3 16.5px,#e9f0f4 37.5px,#f7f6f6 114.5px,#fdddcb 220px)"></i><i style="background:linear-gradient(90deg,#d8e9f1 0px,#eaf1f5 42.5px,#f7f6f6 114.5px,#fdddcb 220px)"></i><i style="background:linear-gradient(90deg,#dae9f2 0px,#eaf1f5 41.5px,#f7f6f6 114.5px,#fdddcb 220px)"></i><i style="background:linear-gradient(90deg,#dae9f2 0px,#eaf1f5 40.5px,#f7f6f6 114.5px,#fdddcb 220px)"></i><i style="background:linear-gradient(90deg,#dae9f2 0px,#e9f0f4 34.5px,#f7f6f6 114.5px,#fdddcb 220px)"></i><i style="background:linear-gradient(90deg,#dbeaf2 0px,#edf2f5 51.5px,#f7f6f6 114.5px,#fdddcb 220px)"></i><i style="background:linear-gradient(90deg,#dbeaf2 0px,#ecf2f5 44.5px,#f7f6f6 114.5px,#fbe5d8 191.5px,#fddcc9 220px)"></i><i style="background:linear-gradient(90deg,#ddebf2 0px,#edf2f5 50.5px,#f7f6f6 114.5px,#fbe5d8 191.5px,#fddcc9 220px)"></i><i style="background:linear-gradient(90deg,#ddebf2 0px,#ecf2f5 43.5px,#f7f6f6 114.5px,#fae7dc 182.5px,#fddcc9 220px)"></i><i style="background:linear-gradient(90deg,#deebf2 0px,#ecf2f5 42.5px,#f7f6f6 114.5px,#fbe6da 186.5px,#fddbc7 220px)"></i><i style="background:linear-gradient(90deg,#deebf2 0px,#eaf1f5 35.5px,#f7f6f6 114.5px,#fae8de 177.5px,#fddbc7 220px)"></i><i style="background:linear-gradient(90deg,#deebf2 0px,#eaf1f5 34.5px,#f7f6f6 114.5px,#fae7dc 181.5px,#fddbc7 220px)"></i></div>
<div class="cb" style="left:630.5px;top:5.8px;width:15.5px;height:209.4px;background:linear-gradient(180deg,#6a011f 0px,#6a011f 0.5px,#9c1127 9px,#9c1127 9.5px,#b3192c 13.5px,#be3036 17.5px,#be3036 17.9px,#d55d4c 25.9px,#d6604d 26.9px,#e98b6e 34.9px,#e98b6e 35.4px,#f3a481 39.9px,#f6b394 43.4px,#f6b394 43.9px,#fcd7c2 52.4px,#fcd7c2 52.8px,#fddbc7 53.8px,#faeae1 60.8px,#faeae1 61.3px,#f6f7f7 67.3px,#cfe4ef 97.2px,#bbdaea 105.2px,#bbdaea 106.2px,#a7d0e4 114.2px,#a7d0e4 115.2px,#9bc9e0 119.7px,#9bc9e0 120.7px,#90c4dd 124.1px,#90c4dd 125.1px,#84bcd9 128.6px,#84bcd9 129.6px,#78b4d5 133.1px,#78b4d5 134.1px,#6bacd1 137.6px,#6bacd1 138.6px,#5fa5cd 142.1px,#5fa5cd 143.1px,#4f9bc7 147.6px,#4f9bc7 148.6px,#4393c3 152.1px,#4393c3 153.1px,#2267ac 180px,#2267ac 181px,#1d5fa2 184.5px,#1d5fa2 185.5px,#195696 189px,#195696 190px,#144e8a 193.4px,#144e8a 194.4px,#10457e 197.9px,#10457e 198.9px,#0c3d73 202.4px,#0c3d73 203.4px,#053061 209.4px)"></div>
<div class="h" style="left:37px;top:311px;width:235px;height:209px"><i style="background:linear-gradient(90deg,#380b5c 0px,#451871 37.5px,#532687 64.5px,#634094 83.5px,#6d529c 92.5px,#7e70ab 102.5px,#968bbc 109.5px,#afa8d0 113.5px,#c3c0dd 115.5px,#d7d8ea 116.5px,#f8f4ee 117.5px,#fedaa9 118.5px,#fdc885 119.5px,#fcb761 121.5px,#f1a242 124.5px,#ea9530 127.5px,#e08214 134.5px,#cb6e0d 153.5px,#be630a 174.5px,#b45906 204.5px,#ac5406 235px)"></i><i style="background:linear-gradient(90deg,#380b5c 0px,#44176f 33.5px,#532687 64.5px,#664697 86.5px,#6f559e 93.5px,#7d6da9 101.5px,#9287b9 108.5px,#a79fca 112.5px,#b9b3d6 114.5px,#c5c2de 115.5px,#d8daeb 116.5px,#f8f4ee 117.5px,#fedbac 118.5px,#fdca88 119.5px,#fdbf72 120.5px,#f8ae55 122.5px,#f1a242 124.5px,#ea9530 127.5px,#e08214 135.5px,#d0730f 147.5px,#c0640a 171.5px,#b45906 205.5px,#ae5506 235px)"></i><i style="background:linear-gradient(90deg,#380b5c 0px,#44176f 33.5px,#522584 61.5px,#5a318d 73.5px,#644395 84.5px,#70589f 94.5px,#7b6aa8 100.5px,#887cb2 105.5px,#9b92c1 110.5px,#b1aad1 113.5px,#c5c2de 115.5px,#d8daeb 116.5px,#f8f4ee 117.5px,#fedbac 118.5px,#fdca88 119.5px,#fdbf72 120.5px,#fcb761 121.5px,#f4a84c 123.5px,#e9932d 128.5px,#e08214 135.5px,#d47610 144.5px,#c2660b 168.5px,#b65a07 199.5px,#ae5506 235px)"></i><i style="background:linear-gradient(90deg,#380b5c 0px,#42156c 29.5px,#532687 63.5px,#644395 84.5px,#7967a6 99.5px,#7d6da9 100.5px,#887cb2 105.5px,#988dbe 109.5px,#b1aad1 113.5px,#c6c4df 115.5px,#d9dbeb 116.5px,#f8f4ee 117.5px,#feddaf 118.5px,#fdcc8c 119.5px,#fdc175 120.5px,#f9b158 122.5px,#f2a446 124.5px,#e9932d 128.5px,#e08214 135.5px,#cd700e 152.5px,#c0640a 172.5px,#b45906 206.5px,#ae5506 235px)"></i><i style="background:linear-gradient(90deg,#390c5e 0px,#41146a 25.5px,#532687 63.5px,#634094 82.5px,#6d529c 91.5px,#8073ac 102.5px,#988dbe 109.5px,#a9a1cb 112.5px,#bab5d7 114.5px,#c6c4df 115.5px,#d9dbeb 116.5px,#f8f4ee 117.5px,#feddaf 118.5px,#fdcc8c 119.5px,#fdc175 120.5px,#f9b158 122.5px,#f2a446 124.5px,#eb9733 127.5px,#e08214 135.5px,#ce720f 151.5px,#c2660b 169.5px,#b45906 207.5px,#ae5506 235px)"></i><i style="background:linear-gradient(90deg,#390c5e 0px,#44176f 32.5px,#522584 60.5px,#5a318d 72.5px,#664697 85.5px,#6f559e 92.5px,#7e70ab 101.5px,#9489bb 108.5px,#a39bc7 111.5px,#b3acd2 113.5px,#c6c4df 115.5px,#d9dbeb 116.5px,#f8f4ee 117.5px,#fedeb3 118.5px,#fdcc8c 119.5px,#fdba68 121.5px,#f6aa4f 123.5px,#f0a03f 125.5px,#e8912a 129.5px,#e08214 136.5px,#d47610 145.5px,#c2660b 170.5px,#b45906 208.5px,#ae5506 235px)"></i><i style="background:linear-gradient(90deg,#390c5e 0px,#42156c 28.5px,#532687 62.5px,#644395 83.5px,#70589f 93.5px,#7d6da9 100.5px,#8073ac 101.5px,#8a7eb3 105.5px,#9990bf 109.5px,#aba3cd 112.5px,#bcb7d8 114.5px,#c8c6e0 115.5px,#dadcec 116.5px,#f8f4ee 117.5px,#fedeb3 118.5px,#fecd8f 119.5px,#fdc278 120.5px,#fab35b 122.5px,#f3a649 124.5px,#ea9530 128.5px,#e08214 136.5px,#d27510 147.5px,#c4680b 167.5px,#b45906 209.5px,#ae5506 235px)"></i><i style="background:linear-gradient(90deg,#390c5e 0px,#41146a 24.5px,#532687 62.5px,#684998 86.5px,#7b6aa8 99.5px,#7e70ab 100.5px,#8a7eb3 105.5px,#9990bf 109.5px,#a59dc8 111.5px,#bcb7d8 114.5px,#c8c6e0 115.5px,#dadcec 116.5px,#f8f4ee 117.5px,#fedeb3 118.5px,#fecd8f 119.5px,#fdc278 120.5px,#fab35b 122.5px,#f3a649 124.5px,#ed9936 127.5px,#e68d23 131.5px,#e08214 136.5px,#cb6e0d 156.5px,#c2660b 171.5px,#b65a07 203.5px,#ae5506 235px)"></i><i style="background:linear-gradient(90deg,#390c5e 0px,#3f1268 20.5px,#522584 59.5px,#5a318d 71.5px,#664697 84.5px,#6f559e 91.5px,#8275ad 102.5px,#968bbc 108.5px,#a59dc8 111.5px,#bdb9d9 114.5px,#c9c8e1 115.5px,#dcddec 116.5px,#f8f4ee 117.5px,#fee0b6 118.5px,#fecf92 119.5px,#fdc47b 120.5px,#fdbc6b 121.5px,#f7ac52 123.5px,#ef9e3c 126.5px,#e9932d 129.5px,#e08214 136.5px,#d0730f 150.5px,#c4680b 168.5px,#b75c07 198.5px,#ae5506 235px)"></i><i style="background:linear-gradient(90deg,#390c5e 0px,#44176f 31.5px,#532687 61.5px,#644395 82.5px,#6f559e 91.5px,#8073ac 101.5px,#887cb2 104.5px,#9b92c1 109.5px,#ada6ce 112.5px,#bdb9d9 114.5px,#c9c8e1 115.5px,#dcddec 116.5px,#f8f4ee 117.5px,#fee0b6 118.5px,#fecf92 119.5px,#fdc47b 120.5px,#fbb55e 122.5px,#f4a84c 124.5px,#eb9733 128.5px,#e08214 137.5px,#cb6e0d 157.5px,#c2660b 172.5px,#b45906 211.5px,#ae5506 235px)"></i><i style="background:linear-gradient(90deg,#390c5e 0px,#42156c 27.5px,#532687 61.5px,#684998 85.5px,#70589f 92.5px,#7e70ab 100.5px,#8c80b5 105.5px,#9b92c1 109.5px,#a79fca 111.5px,#bfbbda 114.5px,#cbc9e2 115.5px,#dddfed 116.5px,#f8f5f1 117.5px,#fee1b9 118.5px,#fed095 119.5px,#fdc47b 120.5px,#fbb55e 122.5px,#f4a84c 124.5px,#eb9733 128.5px,#e08214 137.5px,#d0730f 151.5px,#c4680b 169.5px,#b45906 212.5px,#b05606 235px)"></i><i style="background:linear-gradient(90deg,#390c5e 0px,#451871 34.5px,#522584 58.5px,#582e8c 68.5px,#664697 83.5px,#745ea2 94.5px,#7d6da9 99.5px,#8073ac 100.5px,#867ab0 103.5px,#988dbe 108.5px,#a79fca 111.5px,#bfbbda 114.5px,#cbc9e2 115.5px,#dddfed 116.5px,#f8f5f1 117.5px,#fee1b9 118.5px,#fed095 119.5px,#fdc57f 120.5px,#fcb761 122.5px,#f2a446 125.5px,#ee9b39 127.5px,#e68d23 132.5px,#e08214 137.5px,#d0730f 151.5px,#c0640a 177.5px,#b45906 213.5px,#b05606 235px)"></i><i style="background:linear-gradient(90deg,#390c5e 0px,#44176f 30.5px,#532687 60.5px,#664697 83.5px,#6f559e 90.5px,#8477af 102.5px,#9d94c2 109.5px,#afa8d0 112.5px,#cbc9e2 115.5px,#dddfed 116.5px,#f8f5f1 117.5px,#fde2bb 118.5px,#fed095 119.5px,#fdc57f 120.5px,#fcb761 122.5px,#f6aa4f 124.5px,#ed9936 128.5px,#e58a20 133.5px,#e08214 138.5px,#cd700e 156.5px,#c2660b 174.5px,#b45906 214.5px,#b05606 235px)"></i><i style="background:linear-gradient(90deg,#390c5e 0px,#42156c 26.5px,#532687 60.5px,#644395 81.5px,#70589f 91.5px,#8275ad 101.5px,#9d94c2 109.5px,#a9a1cb 111.5px,#c0bddb 114.5px,#cccbe3 115.5px,#dee0ed 116.5px,#f8f5f1 117.5px,#fde2bb 118.5px,#fed299 119.5px,#fdc782 120.5px,#fdbf72 121.5px,#f9b158 123.5px,#ed9936 128.5px,#e9932d 130.5px,#e08214 138.5px,#d0730f 152.5px,#c4680b 171.5px,#b65a07 208.5px,#b05606 235px)"></i><i style="background:linear-gradient(90deg,#390c5e 0px,#42156c 26.5px,#522584 57.5px,#582e8c 67.5px,#634094 79.5px,#725ba1 92.5px,#8073ac 100.5px,#9287b9 106.5px,#a9a1cb 111.5px,#c0bddb 114.5px,#cccbe3 115.5px,#dee0ed 116.5px,#f8f5f1 117.5px,#fde2bb 118.5px,#fed299 119.5px,#fdc782 120.5px,#fdb965 122.5px,#f3a649 125.5px,#ef9e3c 127.5px,#e8912a 131.5px,#e08214 138.5px,#cd700e 157.5px,#c2660b 175.5px,#b65a07 209.5px,#b05606 235px)"></i><i style="background:linear-gradient(90deg,#390c5e 0px,#41146a 22.5px,#532687 59.5px,#5c348e 71.5px,#664697 82.5px,#745ea2 93.5px,#7e70ab 99.5px,#968bbc 107.5px,#aba3cd 111.5px,#c2bedc 114.5px,#cecde4 115.5px,#dfe1ee 116.5px,#f8f5f1 117.5px,#fde3be 118.5px,#fed39c 119.5px,#fdbf72 121.5px,#fdb965 122.5px,#f7ac52 124.5px,#eb9733 129.5px,#e18417 137.5px,#d0730f 153.5px,#c2660b 176.5px,#b05606 235px)"></i><i style="background:linear-gradient(90deg,#390c5e 0px,#44176f 29.5px,#532687 59.5px,#644395 80.5px,#7967a6 96.5px,#7d6da9 97.5px,#8c80b5 104.5px,#9f96c4 109.5px,#b9b3d6 113.5px,#c2bedc 114.5px,#cecde4 115.5px,#dfe1ee 116.5px,#f8f5f1 117.5px,#fde3be 118.5px,#fed39c 119.5px,#fdc885 120.5px,#fdc175 121.5px,#fab35b 123.5px,#f4a84c 125.5px,#ea9530 130.5px,#e08214 139.5px,#cd700e 158.5px,#c4680b 173.5px,#b95e08 199.5px,#b05606 235px)"></i><i style="background:linear-gradient(90deg,#390c5e 0px,#42156c 25.5px,#522584 56.5px,#582e8c 66.5px,#684998 83.5px,#70589f 90.5px,#8477af 101.5px,#9b92c1 108.5px,#b3acd2 112.5px,#c3c0dd 114.5px,#dfe1ee 116.5px,#f8f5f1 117.5px,#fde4c0 118.5px,#fed59f 119.5px,#fdc885 120.5px,#fdba68 122.5px,#f4a84c 125.5px,#f0a03f 127.5px,#e9932d 131.5px,#e08214 139.5px,#d0730f 154.5px,#c2660b 177.5px,#b05606 235px)"></i><i style="background:linear-gradient(90deg,#390c5e 0px,#471a74 35.5px,#532687 58.5px,#5c348e 70.5px,#664697 81.5px,#725ba1 91.5px,#8073ac 99.5px,#988dbe 107.5px,#ada6ce 111.5px,#c3c0dd 114.5px,#cfcfe5 115.5px,#e1e2ee 116.5px,#f8f5f1 117.5px,#fde4c0 118.5px,#fed59f 119.5px,#fdca88 120.5px,#fdba68 122.5px,#f8ae55 124.5px,#ed9936 129.5px,#e18417 138.5px,#cd700e 159.5px,#c4680b 174.5px,#b65a07 213.5px,#b25706 235px)"></i><i style="background:linear-gradient(90deg,#390c5e 0px,#44176f 28.5px,#532687 58.5px,#644395 79.5px,#7661a4 93.5px,#8073ac 99.5px,#8e82b6 104.5px,#a198c5 109.5px,#bcb7d8 113.5px,#d1d1e6 115.5px,#e1e2ee 116.5px,#f8f5f1 117.5px,#fde4c0 118.5px,#fed59f 119.5px,#fdca88 120.5px,#fdc278 121.5px,#fcb761 123.5px,#f6aa4f 125.5px,#eb9733 130.5px,#e3881d 136.5px,#e08214 140.5px,#d0730f 155.5px,#c4680b 175.5px,#b45906 220.5px,#b25706 235px)"></i><i style="background:linear-gradient(90deg,#390c5e 0px,#451871 31.5px,#522584 55.5px,#5a318d 67.5px,#684998 82.5px,#7b6aa8 96.5px,#7e70ab 97.5px,#867ab0 101.5px,#9d94c2 108.5px,#bcb7d8 113.5px,#c5c2de 114.5px,#d1d1e6 115.5px,#e2e3ef 116.5px,#f8f5f1 117.5px,#fde5c3 118.5px,#fed7a2 119.5px,#fdc278 121.5px,#fcb761 123.5px,#f3a649 126.5px,#ea9530 131.5px,#e08214 140.5px,#d47610 151.5px,#c2660b 179.5px,#b25706 235px)"></i><i style="background:linear-gradient(90deg,#390c5e 0px,#451871 31.5px,#532687 57.5px,#664697 80.5px,#725ba1 90.5px,#8073ac 98.5px,#8c80b5 103.5px,#9990bf 107.5px,#afa8d0 111.5px,#c5c2de 114.5px,#d1d1e6 115.5px,#e2e3ef 116.5px,#f8f5f1 117.5px,#fde5c3 118.5px,#fed7a2 119.5px,#fdcc8c 120.5px,#fdc47b 121.5px,#fcb761 123.5px,#f9b158 124.5px,#ee9b39 129.5px,#e18417 139.5px,#d0730f 156.5px,#c4680b 176.5px,#b25706 235px)"></i><i style="background:linear-gradient(90deg,#390c5e 0px,#471a74 34.5px,#532687 57.5px,#6a4c9a 83.5px,#745ea2 91.5px,#8275ad 99.5px,#9085b8 104.5px,#9f96c4 108.5px,#b6b0d4 112.5px,#c6c4df 114.5px,#e2e3ef 116.5px,#f8f5f1 117.5px,#fce5c5 118.5px,#fed8a6 119.5px,#fecd8f 120.5px,#fdc47b 121.5px,#fdbd6e 122.5px,#f7ac52 125.5px,#f0a03f 128.5px,#e8912a 133.5px,#e08214 141.5px,#d47610 152.5px,#c4680b 177.5px,#b25706 235px)"></i><i style="background:linear-gradient(90deg,#390c5e 0px,#44176f 27.5px,#522584 54.5px,#5a318d 66.5px,#684998 81.5px,#7661a4 92.5px,#8073ac 98.5px,#9489bb 105.5px,#9f96c4 108.5px,#bdb9d9 113.5px,#c6c4df 114.5px,#d2d3e7 115.5px,#e3e4ef 116.5px,#f8f5f1 117.5px,#fce5c5 118.5px,#fed8a6 119.5px,#fecd8f 120.5px,#fdb965 123.5px,#fab35b 124.5px,#f2a446 127.5px,#eb9733 131.5px,#e08214 141.5px,#d0730f 157.5px,#c6690c 174.5px,#b25706 235px)"></i><i style="background:linear-gradient(90deg,#390c5e 0px,#451871 30.5px,#532687 56.5px,#664697 79.5px,#70589f 88.5px,#8073ac 97.5px,#887cb2 101.5px,#988dbe 106.5px,#a59dc8 109.5px,#bfbbda 113.5px,#d4d4e8 115.5px,#e3e4ef 116.5px,#f8f5f1 117.5px,#fce5c5 118.5px,#fecd8f 120.5px,#fdb965 123.5px,#ef9e3c 129.5px,#e18417 140.5px,#d47610 153.5px,#c4680b 178.5px,#b25706 235px)"></i><i style="background:linear-gradient(90deg,#390c5e 0px,#471a74 33.5px,#532687 56.5px,#6a4c9a 82.5px,#725ba1 89.5px,#867ab0 100.5px,#a198c5 108.5px,#aba3cd 110.5px,#c8c6e0 114.5px,#e3e4ef 116.5px,#f7f6f3 117.5px,#fce6c8 118.5px,#fedaa9 119.5px,#fecf92 120.5px,#fdbf72 122.5px,#f8ae55 125.5px,#f1a242 128.5px,#e9932d 133.5px,#e08214 142.5px,#d0730f 158.5px,#c4680b 179.5px,#b25706 235px)"></i><i style="background:linear-gradient(90deg,#390c5e 0px,#44176f 26.5px,#552889 58.5px,#684998 80.5px,#7661a4 91.5px,#8477af 99.5px,#a198c5 108.5px,#b9b3d6 112.5px,#c9c8e1 114.5px,#e4e5f0 116.5px,#f7f6f3 117.5px,#fce6c8 118.5px,#fecf92 120.5px,#fdba68 123.5px,#fbb55e 124.5px,#ed9936 131.5px,#e78f27 135.5px,#e08214 142.5px,#d47610 154.5px,#c6690c 176.5px,#bb5f08 202.5px,#b45906 235px)"></i><i style="background:linear-gradient(90deg,#3b0e61 0px,#451871 29.5px,#532687 55.5px,#664697 78.5px,#7764a5 92.5px,#9085b8 103.5px,#a79fca 109.5px,#b9b3d6 112.5px,#c9c8e1 114.5px,#d5d6e9 115.5px,#f7f6f3 117.5px,#fce7ca 118.5px,#fedbac 119.5px,#fdc782 121.5px,#fdc175 122.5px,#f9b158 125.5px,#f0a03f 129.5px,#eb9733 132.5px,#e18417 141.5px,#d0730f 159.5px,#c6690c 177.5px,#bb5f08 203.5px,#b45906 235px)"></i><i style="background:linear-gradient(90deg,#3b0e61 0px,#42156c 22.5px,#532687 55.5px,#6a4c9a 81.5px,#725ba1 88.5px,#887cb2 100.5px,#a39bc7 108.5px,#bab5d7 112.5px,#cbc9e2 114.5px,#e4e5f0 116.5px,#f7f6f3 117.5px,#fce7ca 118.5px,#fed095 120.5px,#fdbc6b 123.5px,#fcb761 124.5px,#f2a446 128.5px,#ea9530 133.5px,#e08214 143.5px,#ce720f 162.5px,#c4680b 181.5px,#b45906 235px)"></i><i style="background:linear-gradient(90deg,#3b0e61 0px,#3e1165 11.5px,#522584 52.5px,#5a318d 64.5px,#684998 79.5px,#745ea2 89.5px,#8073ac 96.5px,#988dbe 105.5px,#a9a1cb 109.5px,#c2bedc 113.5px,#d7d8ea 115.5px,#f7f6f3 117.5px,#fce7ca 118.5px,#feddaf 119.5px,#fdc885 121.5px,#fdc278 122.5px,#fab35b 125.5px,#ee9b39 131.5px,#e8912a 135.5px,#e18417 142.5px,#d27510 158.5px,#c6690c 178.5px,#b45906 235px)"></i><i style="background:linear-gradient(90deg,#3b0e61 0px,#41146a 18.5px,#532687 54.5px,#664697 77.5px,#7661a4 90.5px,#8477af 98.5px,#9287b9 103.5px,#a59dc8 108.5px,#bcb7d8 112.5px,#cccbe3 114.5px,#d8daeb 115.5px,#f7f6f3 117.5px,#fce8cd 118.5px,#feddaf 119.5px,#fed299 120.5px,#fdbd6e 123.5px,#fab35b 125.5px,#f3a649 128.5px,#ed9936 132.5px,#e08214 144.5px,#d47610 156.5px,#c6690c 179.5px,#b45906 235px)"></i><i style="background:linear-gradient(90deg,#3b0e61 0px,#42156c 21.5px,#552889 56.5px,#6a4c9a 80.5px,#8073ac 96.5px,#968bbc 104.5px,#a59dc8 108.5px,#c3c0dd 113.5px,#d8daeb 115.5px,#f7f6f3 117.5px,#fce8cd 118.5px,#fed39c 120.5px,#fdca88 121.5px,#fdb965 124.5px,#f6aa4f 127.5px,#eb9733 133.5px,#e08214 144.5px,#d27510 159.5px,#c76b0c 176.5px,#b45906 235px)"></i><i style="background:linear-gradient(90deg,#3b0e61 0px,#44176f 24.5px,#552889 56.5px,#684998 78.5px,#745ea2 88.5px,#8073ac 95.5px,#887cb2 99.5px,#9990bf 105.5px,#aba3cd 109.5px,#c3c0dd 113.5px,#d8daeb 115.5px,#f7f6f3 117.5px,#fbe9cf 118.5px,#fedeb3 119.5px,#fed39c 120.5px,#fdc47b 122.5px,#fbb55e 125.5px,#f2a446 129.5px,#ea9530 134.5px,#e18417 143.5px,#d0730f 162.5px,#c4680b 184.5px,#b45906 235px)"></i><i style="background:linear-gradient(90deg,#3b0e61 0px,#44176f 24.5px,#532687 53.5px,#664697 76.5px,#7661a4 89.5px,#867ab0 98.5px,#9489bb 103.5px,#a79fca 108.5px,#bdb9d9 112.5px,#cecde4 114.5px,#e7e8f1 116.5px,#f7f6f3 117.5px,#fbe9cf 118.5px,#fed59f 120.5px,#fdcc8c 121.5px,#fdba68 124.5px,#f4a84c 128.5px,#ee9b39 132.5px,#e08214 145.5px,#d27510 160.5px,#c6690c 181.5px,#b65a07 235px)"></i><i style="background:linear-gradient(90deg,#3b0e61 0px,#451871 27.5px,#552889 55.5px,#6a4c9a 79.5px,#8073ac 95.5px,#988dbe 104.5px,#ada6ce 109.5px,#c5c2de 113.5px,#d9dbeb 115.5px,#f7f6f3 117.5px,#fbe9cf 118.5px,#fed59f 120.5px,#fdc57f 122.5px,#fcb761 125.5px,#f1a242 130.5px,#ed9936 133.5px,#e18417 144.5px,#d57811 156.5px,#c76b0c 178.5px,#b65a07 235px)"></i><i style="background:linear-gradient(90deg,#3b0e61 0px,#42156c 20.5px,#532687 52.5px,#684998 77.5px,#745ea2 87.5px,#8073ac 94.5px,#8a7eb3 99.5px,#9b92c1 105.5px,#b9b3d6 111.5px,#c6c4df 113.5px,#dadcec 115.5px,#f7f6f3 117.5px,#fbead2 118.5px,#fee1b9 119.5px,#fecd8f 121.5px,#fdc175 123.5px,#fcb761 125.5px,#f3a649 129.5px,#ea9530 135.5px,#e08214 146.5px,#d47610 159.5px,#c76b0c 179.5px,#b65a07 235px)"></i><i style="background:linear-gradient(90deg,#3b0e61 0px,#44176f 23.5px,#532687 52.5px,#664697 75.5px,#7661a4 88.5px,#887cb2 98.5px,#968bbc 103.5px,#a9a1cb 108.5px,#bfbbda 112.5px,#cfcfe5 114.5px,#e8e9f1 116.5px,#f7f6f3 117.5px,#fbead2 118.5px,#fed7a2 120.5px,#fdc782 122.5px,#fdb965 125.5px,#f6aa4f 128.5px,#ef9e3c 132.5px,#e18417 145.5px,#d77a11 155.5px,#c76b0c 180.5px,#b65a07 235px)"></i><i style="background:linear-gradient(90deg,#3b0e61 0px,#451871 26.5px,#552889 54.5px,#6a4c9a 78.5px,#7764a5 89.5px,#8073ac 94.5px,#9990bf 104.5px,#afa8d0 109.5px,#c0bddb 112.5px,#d1d1e6 114.5px,#e8e9f1 116.5px,#f7f6f3 117.5px,#fbead2 118.5px,#fed7a2 120.5px,#fdc278 123.5px,#fdb965 125.5px,#f4a84c 129.5px,#ee9b39 133.5px,#e58a20 141.5px,#e08214 147.5px,#d47610 160.5px,#c6690c 184.5px,#b65a07 235px)"></i><i style="background:linear-gradient(90deg,#3b0e61 0px,#491c76 32.5px,#532687 51.5px,#684998 76.5px,#7d6da9 92.5px,#9489bb 102.5px,#aba3cd 108.5px,#c0bddb 112.5px,#d1d1e6 114.5px,#e9eaf2 116.5px,#f7f6f3 117.5px,#fbebd5 118.5px,#fed8a6 120.5px,#fdc885 122.5px,#fdbd6e 124.5px,#fbb55e 126.5px,#f1a242 131.5px,#eb9733 135.5px,#e08214 147.5px,#d27510 163.5px,#c6690c 185.5px,#b65a07 235px)"></i><i style="background:linear-gradient(90deg,#3b0e61 0px,#44176f 22.5px,#552889 53.5px,#6a4c9a 77.5px,#7661a4 87.5px,#8073ac 93.5px,#988dbe 103.5px,#a79fca 107.5px,#c2bedc 112.5px,#d2d3e7 114.5px,#f7f6f3 117.5px,#fbebd5 118.5px,#fed8a6 120.5px,#fdc47b 123.5px,#fdba68 125.5px,#f0a03f 132.5px,#e18417 146.5px,#d57811 159.5px,#c76b0c 182.5px,#b75c07 235px)"></i><i style="background:linear-gradient(90deg,#3b0e61 0px,#552889 53.5px,#6d529c 80.5px,#887cb2 97.5px,#9f96c4 105.5px,#c2bedc 112.5px,#d2d3e7 114.5px,#f7f6f3 117.5px,#fbebd5 118.5px,#fed095 121.5px,#fdc47b 123.5px,#fcb761 126.5px,#f6aa4f 129.5px,#ee9b39 134.5px,#e68d23 141.5px,#e08214 148.5px,#c76b0c 183.5px,#b75c07 235px)"></i><i style="background:linear-gradient(90deg,#3b0e61 0px,#532687 50.5px,#6b4f9b 78.5px,#8073ac 93.5px,#9990bf 103.5px,#ada6ce 108.5px,#c3c0dd 112.5px,#dddfed 115.5px,#f7f6f3 117.5px,#fde3be 119.5px,#fed299 121.5px,#fdc57f 123.5px,#fab35b 127.5px,#eb9733 136.5px,#e18417 147.5px,#d57811 160.5px,#c96d0d 180.5px,#b75c07 235px)"></i><i style="background:linear-gradient(90deg,#3b0e61 0px,#552889 52.5px,#6a4c9a 76.5px,#7661a4 86.5px,#8073ac 92.5px,#8c80b5 98.5px,#9d94c2 104.5px,#a9a1cb 107.5px,#c3c0dd 112.5px,#d4d4e8 114.5px,#eaebf2 116.5px,#f7f6f3 117.5px,#faecd7 118.5px,#fde4c0 119.5px,#fed299 121.5px,#fdc57f 123.5px,#fdbc6b 125.5px,#f7ac52 129.5px,#f0a03f 133.5px,#e68d23 142.5px,#e08214 149.5px,#c96d0d 181.5px,#b75c07 235px)"></i><i style="background:linear-gradient(90deg,#3b0e61 0px,#532687 49.5px,#684998 74.5px,#7764a5 87.5px,#8a7eb3 97.5px,#988dbe 102.5px,#afa8d0 108.5px,#c5c2de 112.5px,#dee0ed 115.5px,#f7f6f3 117.5px,#faecd7 118.5px,#fde4c0 119.5px,#fed39c 121.5px,#fdc782 123.5px,#fbb55e 127.5px,#ef9e3c 134.5px,#e78f27 141.5px,#e18417 148.5px,#dc7f13 153.5px,#cb6e0d 178.5px,#b75c07 235px)"></i><i style="background:linear-gradient(90deg,#3b0e61 0px,#532687 49.5px,#6b4f9b 77.5px,#8073ac 92.5px,#9b92c1 103.5px,#aba3cd 107.5px,#c5c2de 112.5px,#d5d6e9 114.5px,#f7f6f3 117.5px,#faecd7 118.5px,#fed39c 121.5px,#fdc782 123.5px,#fdbd6e 125.5px,#f6aa4f 130.5px,#eb9733 137.5px,#e08214 150.5px,#c76b0c 186.5px,#b75c07 235px)"></i><i style="background:linear-gradient(90deg,#3c0f63 0px,#42156c 17.5px,#552889 51.5px,#6a4c9a 75.5px,#7661a4 85.5px,#8073ac 91.5px,#8e82b6 98.5px,#9f96c4 104.5px,#bab5d7 110.5px,#c6c4df 112.5px,#dfe1ee 115.5px,#f7f6f3 117.5px,#fde5c3 119.5px,#fecd8f 122.5px,#fdba68 126.5px,#f8ae55 129.5px,#f1a242 133.5px,#e78f27 142.5px,#e18417 149.5px,#d47610 165.5px,#c76b0c 187.5px,#b95e08 235px)"></i><i style="background:linear-gradient(90deg,#3c0f63 0px,#44176f 20.5px,#532687 48.5px,#684998 73.5px,#7764a5 86.5px,#8c80b5 97.5px,#9990bf 102.5px,#b6b0d4 109.5px,#c6c4df 112.5px,#ebecf3 116.5px,#f7f6f3 117.5px,#fde5c3 119.5px,#fed59f 121.5px,#fdc885 123.5px,#fdbf72 125.5px,#f7ac52 130.5px,#ef9e3c 135.5px,#e8912a 141.5px,#e08214 151.5px,#c96d0d 184.5px,#b95e08 235px)"></i><i style="background:linear-gradient(90deg,#3c0f63 0px,#41146a 13.5px,#552889 50.5px,#6a4c9a 74.5px,#745ea2 83.5px,#8073ac 91.5px,#9287b9 99.5px,#a198c5 104.5px,#bcb7d8 110.5px,#c8c6e0 112.5px,#e1e2ee 115.5px,#f7f6f3 117.5px,#faedda 118.5px,#fce5c5 119.5px,#fecf92 122.5px,#fdbc6b 126.5px,#f9b158 129.5px,#f2a446 133.5px,#e68d23 144.5px,#e18417 150.5px,#d57811 164.5px,#c96d0d 185.5px,#b95e08 235px)"></i><i style="background:linear-gradient(90deg,#3c0f63 0px,#42156c 16.5px,#532687 47.5px,#5d3790 61.5px,#6d529c 77.5px,#725ba1 80.5px,#7661a4 84.5px,#8073ac 90.5px,#9085b8 98.5px,#9b92c1 102.5px,#b7b1d5 109.5px,#c8c6e0 112.5px,#e1e2ee 115.5px,#f7f6f3 117.5px,#fce5c5 119.5px,#fed7a2 121.5px,#fdca88 123.5px,#fdc175 125.5px,#fcb761 128.5px,#f6aa4f 131.5px,#f1a242 134.5px,#e8912a 142.5px,#e2861a 149.5px,#de8013 154.5px,#cd700e 179.5px,#b95e08 235px)"></i><i style="background:linear-gradient(90deg,#3c0f63 0px,#44176f 19.5px,#532687 47.5px,#6b4f9b 75.5px,#8073ac 90.5px,#8e82b6 97.5px,#9f96c4 103.5px,#b4aed3 108.5px,#c9c8e1 112.5px,#ededf3 116.5px,#f7f6f3 117.5px,#fce6c8 119.5px,#fed095 122.5px,#fdbd6e 126.5px,#fdba68 127.5px,#f8ae55 130.5px,#ef9e3c 136.5px,#e18417 151.5px,#cb6e0d 183.5px,#b95e08 235px)"></i><i style="background:linear-gradient(90deg,#3c0f63 0px,#552889 49.5px,#6a4c9a 73.5px,#7d6da9 88.5px,#9990bf 101.5px,#bdb9d9 110.5px,#d1d1e6 113.5px,#f7f7f6 117.5px,#faeedc 118.5px,#fce6c8 119.5px,#fed8a6 121.5px,#fdcc8c 123.5px,#fdba68 127.5px,#f3a649 133.5px,#e78f27 144.5px,#e2861a 150.5px,#de8013 155.5px,#cb6e0d 184.5px,#b95e08 235px)"></i><i style="background:linear-gradient(90deg,#3c0f63 0px,#532687 46.5px,#684998 71.5px,#7764a5 84.5px,#8073ac 89.5px,#9287b9 98.5px,#9d94c2 102.5px,#b1aad1 107.5px,#cbc9e2 112.5px,#d9dbeb 114.5px,#f7f7f6 117.5px,#faeedc 118.5px,#fed299 122.5px,#fdbf72 126.5px,#fdb965 128.5px,#f9b158 130.5px,#f1a242 135.5px,#e9932d 142.5px,#e18417 152.5px,#e08214 154.5px,#cb6e0d 185.5px,#bb5f08 235px)"></i><i style="background:linear-gradient(90deg,#3c0f63 0px,#42156c 15.5px,#552889 48.5px,#6a4c9a 72.5px,#7967a6 85.5px,#8e82b6 96.5px,#9b92c1 101.5px,#a9a1cb 105.5px,#bfbbda 110.5px,#d2d3e7 113.5px,#f7f7f6 117.5px,#fce7ca 119.5px,#fedaa9 121.5px,#fecd8f 123.5px,#fdc47b 125.5px,#fdb965 128.5px,#f4a84c 133.5px,#ee9b39 138.5px,#e2861a 151.5px,#e08214 155.5px,#cd700e 182.5px,#bb5f08 235px)"></i><i style="background:linear-gradient(90deg,#3c0f63 0px,#532687 45.5px,#6d529c 75.5px,#8073ac 89.5px,#8a7eb3 94.5px,#9f96c4 102.5px,#c0bddb 110.5px,#dadcec 114.5px,#f7f7f6 117.5px,#fce7ca 119.5px,#fed39c 122.5px,#fdc885 124.5px,#fdc175 126.5px,#fab35b 130.5px,#f3a649 134.5px,#e9932d 143.5px,#e3881d 150.5px,#e08214 155.5px,#cd700e 183.5px,#bb5f08 235px)"></i><i style="background:linear-gradient(90deg,#3c0f63 0px,#532687 45.5px,#6b4f9b 73.5px,#7764a5 83.5px,#9990bf 100.5px,#afa8d0 106.5px,#c0bddb 110.5px,#d4d4e8 113.5px,#f7f7f6 117.5px,#faeedf 118.5px,#fde2bb 120.5px,#fecf92 123.5px,#fdbd6e 127.5px,#fcb761 129.5px,#f0a03f 137.5px,#e2861a 152.5px,#e08214 156.5px,#cd700e 184.5px,#bb5f08 235px)"></i><i style="background:linear-gradient(90deg,#3c0f63 0px,#552889 47.5px,#6a4c9a 71.5px,#745ea2 80.5px,#8073ac 88.5px,#9085b8 96.5px,#9d94c2 101.5px,#c2bedc 110.5px,#dcddec 114.5px,#f7f7f6 117.5px,#faeedf 118.5px,#fce8cd 119.5px,#fed59f 122.5px,#fdca88 124.5px,#fdb965 129.5px,#f9b158 131.5px,#f4a84c 134.5px,#e9932d 144.5px,#e3881d 151.5px,#e08214 157.5px,#d77a11 167.5px,#c96d0d 192.5px,#bb5f08 235px)"></i><i style="background:linear-gradient(90deg,#3c0f63 0px,#532687 44.5px,#6b4f9b 72.5px,#7e70ab 87.5px,#9b92c1 100.5px,#b1aad1 106.5px,#c2bedc 110.5px,#e4e5f0 115.5px,#f7f7f6 117.5px,#fce8cd 119.5px,#fed095 123.5px,#fdc782 125.5px,#fdb965 129.5px,#f3a649 135.5px,#ea9530 143.5px,#e58a20 150.5px,#e08214 157.5px,#c96d0d 193.5px,#bd6109 235px)"></i><i style="background:linear-gradient(90deg,#3c0f63 0px,#552889 46.5px,#6a4c9a 70.5px,#7967a6 83.5px,#8073ac 87.5px,#9489bb 97.5px,#9f96c4 101.5px,#b6b0d4 107.5px,#c3c0dd 110.5px,#dddfed 114.5px,#f7f7f6 117.5px,#fbe9cf 119.5px,#fed7a2 122.5px,#fdcc8c 124.5px,#fdc47b 126.5px,#fcb761 130.5px,#f7ac52 133.5px,#ef9e3c 139.5px,#e68d23 149.5px,#e08214 158.5px,#c96d0d 194.5px,#bd6109 235px)"></i><i style="background:linear-gradient(90deg,#3c0f63 0px,#532687 43.5px,#6d529c 73.5px,#8073ac 87.5px,#9085b8 95.5px,#a39bc7 102.5px,#bab5d7 108.5px,#c9c8e1 111.5px,#f7f7f6 117.5px,#fbe9cf 119.5px,#fed299 123.5px,#fdc175 127.5px,#fcb761 130.5px,#f2a446 137.5px,#ea9530 144.5px,#e58a20 151.5px,#e08214 159.5px,#c96d0d 195.5px,#bd6109 235px)"></i><i style="background:linear-gradient(90deg,#3c0f63 0px,#532687 43.5px,#6b4f9b 71.5px,#8073ac 87.5px,#8c80b5 93.5px,#a198c5 101.5px,#b7b1d5 107.5px,#c5c2de 110.5px,#dee0ed 114.5px,#f7f7f6 117.5px,#f9efe1 118.5px,#fed8a6 122.5px,#fdc57f 126.5px,#fdb965 130.5px,#f2a446 137.5px,#e68d23 150.5px,#e08214 159.5px,#c96d0d 196.5px,#bd6109 235px)"></i><i style="background:linear-gradient(90deg,#3e1165 0px,#3e1165 3.5px,#552889 45.5px,#6d529c 72.5px,#7967a6 82.5px,#8073ac 86.5px,#9489bb 96.5px,#a59dc8 102.5px,#bcb7d8 108.5px,#cbc9e2 111.5px,#dee0ed 114.5px,#f7f7f6 117.5px,#f9efe1 118.5px,#fde5c3 120.5px,#fed39c 123.5px,#fdc278 127.5px,#fdb965 130.5px,#f7ac52 134.5px,#ea9530 145.5px,#e3881d 154.5px,#e08214 160.5px,#db7d12 166.5px,#c96d0d 197.5px,#bd6109 235px)"></i><i style="background:linear-gradient(90deg,#3e1165 0px,#3f1268 6.5px,#532687 42.5px,#6b4f9b 70.5px,#8073ac 86.5px,#9085b8 94.5px,#9f96c4 100.5px,#b9b3d6 107.5px,#c6c4df 110.5px,#d8daeb 113.5px,#f7f7f6 117.5px,#fbead2 119.5px,#fedaa9 122.5px,#fdc782 126.5px,#fcb761 131.5px,#f4a84c 136.5px,#ed9936 143.5px,#e58a20 153.5px,#e08214 161.5px,#ce720f 187.5px,#be630a 235px)"></i><i style="background:linear-gradient(90deg,#3e1165 0px,#42156c 12.5px,#552889 44.5px,#6a4c9a 68.5px,#8275ad 87.5px,#9d94c2 99.5px,#c2bedc 109.5px,#dfe1ee 114.5px,#f7f7f6 117.5px,#fce5c5 120.5px,#fed59f 123.5px,#fdc47b 127.5px,#fdba68 130.5px,#f8ae55 134.5px,#ea9530 146.5px,#e68d23 152.5px,#e08214 161.5px,#ce720f 188.5px,#be630a 235px)"></i><i style="background:linear-gradient(90deg,#3e1165 0px,#532687 41.5px,#6b4f9b 69.5px,#7b6aa8 82.5px,#9b92c1 98.5px,#afa8d0 104.5px,#c8c6e0 110.5px,#d9dbeb 113.5px,#f7f7f6 117.5px,#fce5c5 120.5px,#fedbac 122.5px,#fdc885 126.5px,#fdb965 131.5px,#f6aa4f 136.5px,#ed9936 144.5px,#e58a20 154.5px,#e08214 162.5px,#ce720f 189.5px,#be630a 235px)"></i><i style="background:linear-gradient(90deg,#3e1165 0px,#532687 41.5px,#634094 60.5px,#6f559e 72.5px,#8073ac 85.5px,#9085b8 93.5px,#a59dc8 101.5px,#c3c0dd 109.5px,#e1e2ee 114.5px,#f7f7f6 117.5px,#fbebd5 119.5px,#fed7a2 123.5px,#fdc57f 127.5px,#fdbc6b 130.5px,#f2a446 139.5px,#e68d23 153.5px,#e08214 163.5px,#ce720f 190.5px,#be630a 235px)"></i><i style="background:linear-gradient(90deg,#3e1165 0px,#532687 40.5px,#6d529c 70.5px,#867ab0 88.5px,#988dbe 96.5px,#ada6ce 103.5px,#c9c8e1 110.5px,#f7f7f6 117.5px,#f9f0e4 118.5px,#feddaf 122.5px,#fdca88 126.5px,#fdba68 131.5px,#f8ae55 135.5px,#ed9936 145.5px,#e78f27 152.5px,#e08214 163.5px,#ce720f 191.5px,#be630a 235px)"></i><i style="background:linear-gradient(90deg,#3e1165 0px,#532687 40.5px,#644395 61.5px,#6f559e 71.5px,#8073ac 84.5px,#9489bb 94.5px,#a79fca 101.5px,#c5c2de 109.5px,#d5d6e9 112.5px,#f7f7f6 117.5px,#faecd7 119.5px,#fed8a6 123.5px,#fdc782 127.5px,#fdbd6e 130.5px,#fcb761 133.5px,#f4a84c 138.5px,#e8912a 151.5px,#e08214 164.5px,#ce720f 192.5px,#c0640a 235px)"></i><i style="background:linear-gradient(90deg,#3e1165 0px,#552889 42.5px,#6d529c 69.5px,#8073ac 84.5px,#9990bf 96.5px,#bdb9d9 107.5px,#dcddec 113.5px,#f7f7f6 117.5px,#faecd7 119.5px,#fedeb3 122.5px,#fdcc8c 126.5px,#fdbc6b 131.5px,#f9b158 135.5px,#ed9936 146.5px,#e68d23 155.5px,#e08214 165.5px,#ce720f 193.5px,#c0640a 235px)"></i><i style="background:linear-gradient(90deg,#3e1165 0px,#532687 39.5px,#6b4f9b 67.5px,#7b6aa8 80.5px,#988dbe 95.5px,#bab5d7 106.5px,#d1d1e6 111.5px,#f7f7f6 117.5px,#faecd7 119.5px,#fedaa9 123.5px,#fdc885 127.5px,#fdbf72 130.5px,#fdb965 133.5px,#f7ac52 137.5px,#f0a03f 143.5px,#e78f27 154.5px,#e08214 166.5px,#ce720f 194.5px,#c0640a 235px)"></i><i style="background:linear-gradient(90deg,#3e1165 0px,#552889 41.5px,#6d529c 68.5px,#7e70ab 82.5px,#9b92c1 96.5px,#bfbbda 107.5px,#dddfed 113.5px,#f7f7f6 117.5px,#fde4c0 121.5px,#fecd8f 126.5px,#fdbd6e 131.5px,#fab35b 135.5px,#ee9b39 146.5px,#e8912a 153.5px,#e08214 166.5px,#ce720f 195.5px,#c0640a 235px)"></i><i style="background:linear-gradient(90deg,#3e1165 0px,#532687 38.5px,#6b4f9b 66.5px,#8477af 85.5px,#9990bf 95.5px,#bcb7d8 106.5px,#d2d3e7 111.5px,#f7f7f6 117.5px,#fce8cd 120.5px,#fedbac 123.5px,#fdca88 127.5px,#fdc175 130.5px,#f8ae55 137.5px,#f0a03f 144.5px,#e9932d 152.5px,#e08214 167.5px,#ce720f 196.5px,#c2660b 235px)"></i><i style="background:linear-gradient(90deg,#3e1165 0px,#532687 38.5px,#6a4c9a 64.5px,#7e70ab 81.5px,#9d94c2 96.5px,#c0bddb 107.5px,#cecde4 110.5px,#f7f7f6 117.5px,#faedda 119.5px,#fde5c3 121.5px,#fecf92 126.5px,#fdbf72 131.5px,#fbb55e 135.5px,#ea9530 151.5px,#e08214 168.5px,#ce720f 197.5px,#c2660b 235px)"></i><i style="background:linear-gradient(90deg,#3e1165 0px,#532687 37.5px,#6b4f9b 65.5px,#8275ad 83.5px,#a39bc7 98.5px,#c2bedc 107.5px,#d4d4e8 111.5px,#f7f7f6 117.5px,#fbe9cf 120.5px,#fed39c 125.5px,#fdc885 128.5px,#fdbd6e 132.5px,#f9b158 137.5px,#f0a03f 145.5px,#e8912a 155.5px,#e08214 169.5px,#cd700e 202.5px,#c2660b 235px)"></i><i style="background:linear-gradient(90deg,#3f1268 0px,#471a74 17.5px,#532687 37.5px,#6a4c9a 63.5px,#7d6da9 79.5px,#a198c5 97.5px,#c6c4df 108.5px,#dadcec 112.5px,#f7f7f6 117.5px,#fbe9cf 120.5px,#fed095 126.5px,#fdc175 131.5px,#fcb761 135.5px,#ef9e3c 147.5px,#e9932d 154.5px,#e08214 170.5px,#d27510 192.5px,#c2660b 235px)"></i><i style="background:linear-gradient(90deg,#3f1268 0px,#552889 39.5px,#6b4f9b 64.5px,#8073ac 81.5px,#968bbc 92.5px,#a59dc8 98.5px,#c3c0dd 107.5px,#dfe1ee 113.5px,#f7f7f6 117.5px,#fce5c5 121.5px,#fed59f 125.5px,#fdc782 129.5px,#fab35b 137.5px,#f1a242 145.5px,#ea9530 153.5px,#e08214 170.5px,#d27510 193.5px,#c2660b 235px)"></i><i style="background:linear-gradient(90deg,#3f1268 0px,#532687 36.5px,#634094 55.5px,#725ba1 70.5px,#7d6da9 77.5px,#887cb2 85.5px,#a39bc7 97.5px,#c8c6e0 108.5px,#dcddec 112.5px,#f7f7f6 117.5px,#faeedc 119.5px,#fed299 126.5px,#fdc278 131.5px,#fdb965 135.5px,#ef9e3c 148.5px,#e8912a 157.5px,#e08214 171.5px,#d0730f 198.5px,#c4680b 235px)"></i><i style="background:linear-gradient(90deg,#3f1268 0px,#552889 38.5px,#70589f 68.5px,#8073ac 80.5px,#988dbe 92.5px,#a79fca 98.5px,#c5c2de 107.5px,#f7f7f6 117.5px,#fbead2 120.5px,#fedbac 124.5px,#fdc175 132.5px,#fbb55e 137.5px,#f1a242 146.5px,#e9932d 156.5px,#e08214 172.5px,#d0730f 199.5px,#c4680b 235px)"></i><i style="background:linear-gradient(90deg,#3f1268 0px,#532687 35.5px,#634094 54.5px,#6f559e 66.5px,#8477af 82.5px,#a59dc8 97.5px,#c9c8e1 108.5px,#d8daeb 111.5px,#f7f7f6 117.5px,#fde4c0 122.5px,#fed8a6 125.5px,#fdc47b 131.5px,#fcb761 137.5px,#f7ac52 141.5px,#ea9530 155.5px,#e08214 173.5px,#ce720f 204.5px,#c4680b 235px)"></i><i style="background:linear-gradient(90deg,#3f1268 0px,#552889 37.5px,#70589f 67.5px,#8073ac 79.5px,#a39bc7 96.5px,#c6c4df 107.5px,#d8daeb 111.5px,#f7f7f6 117.5px,#fce7ca 121.5px,#fed59f 126.5px,#fdbd6e 134.5px,#fcb761 137.5px,#f2a446 146.5px,#e8912a 159.5px,#e08214 174.5px,#cb6e0d 214.5px,#c6690c 235px)"></i><i style="background:linear-gradient(90deg,#3f1268 0px,#532687 34.5px,#634094 53.5px,#6f559e 65.5px,#8477af 81.5px,#a79fca 97.5px,#c3c0dd 106.5px,#cfcfe5 109.5px,#f7f7f6 117.5px,#fce7ca 121.5px,#fed299 127.5px,#fdc175 133.5px,#fcb761 138.5px,#f7ac52 142.5px,#e9932d 158.5px,#e08214 175.5px,#d27510 199.5px,#c6690c 235px)"></i><i style="background:linear-gradient(90deg,#3f1268 0px,#532687 34.5px,#70589f 66.5px,#7e70ab 77.5px,#9d94c2 93.5px,#c8c6e0 107.5px,#d9dbeb 111.5px,#f7f7f6 117.5px,#fde5c3 122.5px,#fed7a2 126.5px,#fdc47b 132.5px,#fcb761 138.5px,#f3a649 146.5px,#ed9936 154.5px,#e08214 176.5px,#d27510 200.5px,#c6690c 235px)"></i><i style="background:linear-gradient(90deg,#3f1268 0px,#532687 33.5px,#634094 52.5px,#6f559e 64.5px,#8275ad 79.5px,#9990bf 91.5px,#a9a1cb 97.5px,#c5c2de 106.5px,#d7d8ea 110.5px,#f7f7f6 117.5px,#fce8cd 121.5px,#fed39c 127.5px,#fdc278 133.5px,#fcb761 139.5px,#f1a242 149.5px,#ea9530 158.5px,#e08214 177.5px,#d0730f 205.5px,#c6690c 235px)"></i><i style="background:linear-gradient(90deg,#3f1268 0px,#532687 33.5px,#70589f 65.5px,#7e70ab 75.5px,#8a7eb3 83.5px,#9f96c4 93.5px,#b9b3d6 102.5px,#c6c4df 106.5px,#d7d8ea 110.5px,#f7f7f6 117.5px,#fce5c5 122.5px,#fed8a6 126.5px,#fdc885 131.5px,#fdbf72 135.5px,#fdb965 138.5px,#f3a649 147.5px,#eb9733 157.5px,#e08214 178.5px,#cd700e 215.5px,#c76b0c 235px)"></i><i style="background:linear-gradient(90deg,#41146a 0px,#44176f 8.5px,#532687 32.5px,#634094 51.5px,#6f559e 63.5px,#8275ad 78.5px,#9b92c1 91.5px,#c3c0dd 105.5px,#d8daeb 110.5px,#f7f7f6 117.5px,#faecd7 120.5px,#fed59f 127.5px,#fdcc8c 130.5px,#fdbd6e 136.5px,#fcb761 140.5px,#f2a446 149.5px,#ed9936 156.5px,#e08214 179.5px,#d47610 200.5px,#c76b0c 235px)"></i><i style="background:linear-gradient(90deg,#41146a 0px,#532687 32.5px,#70589f 64.5px,#7e70ab 74.5px,#887cb2 81.5px,#a198c5 93.5px,#c8c6e0 106.5px,#d8daeb 110.5px,#f7f7f6 117.5px,#fbe9cf 121.5px,#fedaa9 126.5px,#fdca88 131.5px,#fdc175 135.5px,#fcb761 140.5px,#f4a84c 147.5px,#ed9936 157.5px,#e08214 180.5px,#d27510 205.5px,#c76b0c 235px)"></i><i style="background:linear-gradient(90deg,#41146a 0px,#532687 31.5px,#634094 50.5px,#6f559e 62.5px,#8275ad 77.5px,#9d94c2 91.5px,#c5c2de 105.5px,#d9dbeb 110.5px,#f7f7f6 117.5px,#fce6c8 122.5px,#fed39c 128.5px,#fdbf72 136.5px,#fcb761 141.5px,#f3a649 149.5px,#ee9b39 156.5px,#e3881d 173.5px,#e08214 181.5px,#c76b0c 235px)"></i><i style="background:linear-gradient(90deg,#41146a 0px,#532687 31.5px,#70589f 63.5px,#7e70ab 73.5px,#887cb2 80.5px,#a39bc7 93.5px,#c9c8e1 106.5px,#d9dbeb 110.5px,#f7f7f6 117.5px,#faedda 120.5px,#fedbac 126.5px,#fdcc8c 131.5px,#fdc278 135.5px,#fcb761 141.5px,#f7ac52 146.5px,#eb9733 160.5px,#e08214 182.5px,#ce720f 216.5px,#c96d0d 235px)"></i><i style="background:linear-gradient(90deg,#41146a 0px,#552889 33.5px,#6a4c9a 56.5px,#8275ad 76.5px,#9f96c4 91.5px,#bab5d7 101.5px,#dadcec 110.5px,#f7f7f6 117.5px,#fde5c3 123.5px,#fdca88 132.5px,#fdc57f 134.5px,#fcb761 142.5px,#f4a84c 149.5px,#ef9e3c 156.5px,#e3881d 175.5px,#e08214 183.5px,#d47610 205.5px,#c96d0d 235px)"></i><i style="background:linear-gradient(90deg,#41146a 0px,#552889 32.5px,#664697 52.5px,#7e70ab 73.5px,#9990bf 88.5px,#aba3cd 95.5px,#cbc9e2 106.5px,#dadcec 110.5px,#f7f7f6 117.5px,#feddaf 126.5px,#fed095 130.5px,#fdc47b 135.5px,#fdb965 141.5px,#f8ae55 146.5px,#ed9936 160.5px,#e08214 184.5px,#c96d0d 235px)"></i><i style="background:linear-gradient(90deg,#41146a 0px,#552889 32.5px,#6a4c9a 55.5px,#8275ad 75.5px,#a198c5 91.5px,#bfbbda 102.5px,#d8daeb 109.5px,#f7f7f6 117.5px,#fce5c5 123.5px,#fdc782 134.5px,#fdb965 142.5px,#f6aa4f 149.5px,#ee9b39 159.5px,#e08214 185.5px,#d0730f 216.5px,#cb6e0d 235px)"></i><i style="background:linear-gradient(90deg,#41146a 0px,#552889 31.5px,#664697 51.5px,#7e70ab 72.5px,#9b92c1 88.5px,#bab5d7 100.5px,#d8daeb 109.5px,#f7f7f6 117.5px,#fce8cd 122.5px,#fdca88 133.5px,#fdbc6b 140.5px,#f9b158 146.5px,#ee9b39 160.5px,#e8912a 169.5px,#e8912a 171.5px,#e08214 186.5px,#cb6e0d 235px)"></i><i style="background:linear-gradient(90deg,#41146a 0px,#552889 31.5px,#684998 52.5px,#8275ad 74.5px,#a198c5 90.5px,#b1aad1 96.5px,#cecde4 106.5px,#d9dbeb 109.5px,#f7f7f6 117.5px,#fce6c8 123.5px,#fed095 131.5px,#fdc782 135.5px,#fdb965 143.5px,#f7ac52 149.5px,#ef9e3c 159.5px,#e8912a 170.5px,#e8912a 172.5px,#e08214 187.5px,#cb6e0d 235px)"></i><i style="background:linear-gradient(90deg,#42156c 0px,#44176f 5.5px,#552889 30.5px,#664697 50.5px,#7e70ab 71.5px,#a79fca 92.5px,#cbc9e2 105.5px,#d7d8ea 108.5px,#f7f7f6 117.5px,#fce6c8 123.5px,#fed39c 130.5px,#fdc57f 136.5px,#fbb55e 145.5px,#ef9e3c 160.5px,#e8912a 171.5px,#e08214 189.5px,#d27510 216.5px,#cd700e 235px)"></i><i style="background:linear-gradient(90deg,#42156c 0px,#552889 30.5px,#684998 51.5px,#8275ad 73.5px,#a39bc7 90.5px,#bab5d7 99.5px,#dadcec 109.5px,#f7f7f6 117.5px,#fde5c3 124.5px,#fed299 131.5px,#fdc885 135.5px,#fdb965 144.5px,#f9b158 148.5px,#f0a03f 159.5px,#e8912a 172.5px,#e08214 190.5px,#cd700e 235px)"></i><i style="background:linear-gradient(90deg,#42156c 0px,#552889 29.5px,#644395 47.5px,#8073ac 71.5px,#a79fca 91.5px,#c9c8e1 104.5px,#d8daeb 108.5px,#f7f7f6 117.5px,#faecd7 121.5px,#fed8a6 129.5px,#fdc57f 137.5px,#fdb965 145.5px,#f7ac52 151.5px,#f0a03f 160.5px,#e8912a 173.5px,#e08214 191.5px,#cd700e 235px)"></i><i style="background:linear-gradient(90deg,#42156c 0px,#552889 29.5px,#6d529c 55.5px,#8477af 73.5px,#a59dc8 90.5px,#bfbbda 100.5px,#d8daeb 108.5px,#f7f7f6 117.5px,#fce5c5 124.5px,#fed39c 131.5px,#fdca88 135.5px,#fab35b 148.5px,#f1a242 159.5px,#e8912a 174.5px,#e08214 192.5px,#ce720f 235px)"></i><i style="background:linear-gradient(90deg,#42156c 0px,#552889 28.5px,#644395 46.5px,#8073ac 70.5px,#9f96c4 87.5px,#bab5d7 98.5px,#d9dbeb 108.5px,#f7f7f6 117.5px,#fbead2 122.5px,#fedaa9 129.5px,#fdc782 137.5px,#fdb965 146.5px,#f9b158 150.5px,#f1a242 160.5px,#e8912a 175.5px,#e2861a 190.5px,#e08214 193.5px,#ce720f 235px)"></i><i style="background:linear-gradient(90deg,#42156c 0px,#552889 28.5px,#70589f 57.5px,#8477af 72.5px,#a59dc8 89.5px,#c0bddb 100.5px,#d7d8ea 107.5px,#f7f7f6 117.5px,#fce8cd 123.5px,#fed095 133.5px,#fdca88 136.5px,#fcb761 147.5px,#f2a446 159.5px,#e8912a 176.5px,#e08214 195.5px,#ce720f 235px)"></i><i style="background:linear-gradient(90deg,#42156c 0px,#552889 27.5px,#6a4c9a 50.5px,#8073ac 69.5px,#aba3cd 91.5px,#bfbbda 99.5px,#dadcec 108.5px,#f7f7f6 117.5px,#fce6c8 124.5px,#fdc782 138.5px,#fab35b 150.5px,#f2a446 160.5px,#e9932d 175.5px,#e08214 196.5px,#d0730f 235px)"></i><i style="background:linear-gradient(90deg,#42156c 0px,#552889 27.5px,#6b4f9b 51.5px,#7e70ab 66.5px,#867ab0 72.5px,#a59dc8 88.5px,#c5c2de 101.5px,#d8daeb 107.5px,#f7f7f6 117.5px,#fbebd5 122.5px,#fee0b6 128.5px,#fdcc8c 136.5px,#fdbc6b 145.5px,#fdbc6b 146.5px,#f9b158 152.5px,#f2a446 161.5px,#e9932d 176.5px,#e08214 197.5px,#d0730f 235px)"></i><i style="background:linear-gradient(90deg,#44176f 0px,#471a74 7.5px,#552889 26.5px,#634094 42.5px,#8275ad 69.5px,#9f96c4 85.5px,#bcb7d8 97.5px,#d8daeb 107.5px,#f7f7f6 117.5px,#fbe9cf 123.5px,#fdc885 138.5px,#fcb761 149.5px,#f3a649 160.5px,#e9932d 177.5px,#e08214 199.5px,#d0730f 235px)"></i><i style="background:linear-gradient(90deg,#44176f 0px,#552889 26.5px,#6b4f9b 50.5px,#7e70ab 65.5px,#867ab0 71.5px,#a79fca 88.5px,#bab5d7 96.5px,#d9dbeb 107.5px,#f7f7f6 117.5px,#faeedc 121.5px,#fedbac 130.5px,#fdcc8c 137.5px,#fbb55e 151.5px,#f3a649 161.5px,#ea9530 176.5px,#e08214 200.5px,#d27510 235px)"></i><i style="background:linear-gradient(90deg,#44176f 0px,#552889 25.5px,#684998 46.5px,#8275ad 68.5px,#9f96c4 84.5px,#bdb9d9 97.5px,#d9dbeb 107.5px,#f7f7f6 117.5px,#faecd7 122.5px,#fee0b6 129.5px,#fedaa9 131.5px,#fdc885 139.5px,#fdba68 148.5px,#f3a649 162.5px,#ea9530 177.5px,#e08214 201.5px,#d27510 235px)"></i><i style="background:linear-gradient(90deg,#44176f 0px,#552889 25.5px,#6f559e 52.5px,#8073ac 66.5px,#a79fca 87.5px,#c3c0dd 99.5px,#d8daeb 106.5px,#f7f7f6 117.5px,#fbead2 123.5px,#fecd8f 137.5px,#fdb965 150.5px,#f4a84c 161.5px,#eb9733 176.5px,#e08214 203.5px,#d27510 235px)"></i><i style="background:linear-gradient(90deg,#44176f 0px,#552889 24.5px,#684998 45.5px,#7e70ab 63.5px,#8477af 68.5px,#9f96c4 83.5px,#c2bedc 98.5px,#d8daeb 106.5px,#f7f7f6 117.5px,#fed7a2 133.5px,#fdc782 141.5px,#fdbf72 146.5px,#fcb761 153.5px,#f4a84c 162.5px,#eb9733 177.5px,#e08214 204.5px,#d47610 235px)"></i><i style="background:linear-gradient(90deg,#44176f 0px,#552889 24.5px,#6a4c9a 46.5px,#8073ac 65.5px,#a79fca 86.5px,#c0bddb 97.5px,#d9dbeb 106.5px,#f7f7f6 117.5px,#fde4c0 127.5px,#fecd8f 138.5px,#fdbc6b 149.5px,#f4a84c 163.5px,#e9932d 183.5px,#e08214 206.5px,#d47610 235px)"></i><i style="background:linear-gradient(90deg,#44176f 0px,#552889 23.5px,#6b4f9b 47.5px,#7e70ab 62.5px,#867ab0 68.5px,#9f96c4 82.5px,#bfbbda 96.5px,#d9dbeb 106.5px,#f7f7f6 117.5px,#fbe9cf 124.5px,#fee0b6 130.5px,#fed299 136.5px,#fdba68 151.5px,#f8ae55 159.5px,#e9932d 184.5px,#e08214 207.5px,#d57811 235px)"></i><i style="background:linear-gradient(90deg,#451871 0px,#552889 23.5px,#6d529c 48.5px,#8275ad 65.5px,#a79fca 85.5px,#c9c8e1 100.5px,#d8daeb 105.5px,#f7f7f6 117.5px,#fde5c3 127.5px,#fecd8f 139.5px,#fdbf72 148.5px,#fdb965 154.5px,#f6aa4f 163.5px,#ea9530 183.5px,#e18417 205.5px,#d57811 235px)"></i><i style="background:linear-gradient(90deg,#451871 0px,#552889 22.5px,#664697 41.5px,#8073ac 63.5px,#9990bf 78.5px,#ada6ce 87.5px,#c8c6e0 99.5px,#d8daeb 105.5px,#f5f5f6 116.5px,#f7f7f6 117.5px,#fce6c8 126.5px,#fed299 137.5px,#fdbc6b 151.5px,#f6aa4f 164.5px,#ea9530 184.5px,#e08214 210.5px,#d57811 235px)"></i><i style="background:linear-gradient(90deg,#451871 0px,#552889 22.5px,#684998 42.5px,#7e70ab 60.5px,#8477af 65.5px,#a79fca 84.5px,#c6c4df 98.5px,#d9dbeb 105.5px,#f5f5f6 116.5px,#f7f7f6 117.5px,#fbead2 124.5px,#fee0b6 131.5px,#fecd8f 140.5px,#fdbc6b 152.5px,#f6aa4f 165.5px,#eb9733 183.5px,#e18417 208.5px,#d77a11 235px)"></i><i style="background:linear-gradient(90deg,#451871 0px,#552889 21.5px,#6a4c9a 43.5px,#8275ad 63.5px,#bcb7d8 93.5px,#d5d6e9 103.5px,#f5f5f6 116.5px,#f7f7f6 117.5px,#faeedc 122.5px,#fed39c 137.5px,#fdc175 149.5px,#f9b158 161.5px,#ed9936 182.5px,#e18417 210.5px,#d77a11 235px)"></i><i style="background:linear-gradient(90deg,#451871 0px,#552889 21.5px,#6b4f9b 44.5px,#7e70ab 60.5px,#a59dc8 82.5px,#cbc9e2 99.5px,#d8daeb 104.5px,#f5f5f6 116.5px,#f7f7f6 117.5px,#fde2bb 130.5px,#fed8a6 135.5px,#fecd8f 142.5px,#fdca88 143.5px,#fdc885 145.5px,#fdbd6e 152.5px,#f9b158 162.5px,#ed9936 183.5px,#e2861a 208.5px,#e2861a 211.5px,#e08214 215.5px,#d97b12 235px)"></i><i style="background:linear-gradient(90deg,#451871 0px,#532687 18.5px,#5d3790 30.5px,#8477af 63.5px,#bcb7d8 92.5px,#d7d8ea 103.5px,#f5f5f6 116.5px,#f7f7f6 117.5px,#fbebd5 124.5px,#fedeb3 133.5px,#fed39c 138.5px,#fdc47b 148.5px,#fdb965 158.5px,#f9b158 163.5px,#ee9b39 182.5px,#e58a20 203.5px,#e58a20 206.5px,#e08214 217.5px,#d97b12 235px)"></i><i style="background:linear-gradient(90deg,#451871 0px,#532687 18.5px,#582e8c 24.5px,#5c348e 26.5px,#664697 38.5px,#8073ac 60.5px,#a198c5 79.5px,#bfbbda 93.5px,#d9dbeb 104.5px,#f5f5f6 116.5px,#f8f4ee 119.5px,#faedda 123.5px,#fedbac 135.5px,#fed8a6 136.5px,#fdc175 151.5px,#f9b158 164.5px,#eb9733 188.5px,#e2861a 211.5px,#e08214 219.5px,#d97b12 235px)"></i><i style="background:linear-gradient(90deg,#471a74 0px,#552889 19.5px,#684998 39.5px,#7e70ab 58.5px,#9085b8 69.5px,#c2bedc 94.5px,#d8daeb 103.5px,#f5f5f6 116.5px,#f7f7f6 117.5px,#fbead2 125.5px,#fee0b6 133.5px,#fed39c 139.5px,#fdc782 147.5px,#fcb761 160.5px,#f0a03f 180.5px,#e8912a 200.5px,#e68d23 203.5px,#e68d23 206.5px,#e08214 220.5px,#db7d12 235px)"></i><i style="background:linear-gradient(90deg,#471a74 0px,#572b8a 21.5px,#5a318d 23.5px,#6a4c9a 40.5px,#8275ad 60.5px,#b1aad1 85.5px,#d8daeb 103.5px,#f5f5f6 116.5px,#f7f6f3 118.5px,#faecd7 124.5px,#feddaf 135.5px,#fedaa9 136.5px,#fdc57f 149.5px,#fcb761 161.5px,#f1a242 179.5px,#f1a242 181.5px,#e9932d 196.5px,#e08214 222.5px,#db7d12 235px)"></i><i style="background:linear-gradient(90deg,#471a74 0px,#502382 13.5px,#552889 17.5px,#5c348e 26.5px,#6b4f9b 41.5px,#8073ac 58.5px,#a9a1cb 81.5px,#d9dbeb 103.5px,#f5f5f6 116.5px,#f7f6f3 118.5px,#faecd7 124.5px,#fee1b9 133.5px,#fecd8f 144.5px,#fecd8f 145.5px,#fdc47b 151.5px,#fcb761 162.5px,#eb9733 192.5px,#e08214 224.5px,#dc7f13 235px)"></i><i style="background:linear-gradient(90deg,#471a74 0px,#572b8a 20.5px,#8477af 60.5px,#b1aad1 84.5px,#c5c2de 94.5px,#d8daeb 102.5px,#f5f5f6 116.5px,#f7f6f3 118.5px,#fce8cd 127.5px,#fee0b6 134.5px,#fedbac 136.5px,#fdc885 148.5px,#fcb761 163.5px,#ef9e3c 186.5px,#eb9733 196.5px,#e9932d 199.5px,#e08214 226.5px,#dc7f13 235px)"></i><i style="background:linear-gradient(90deg,#471a74 0px,#532687 14.5px,#5a318d 23.5px,#8275ad 58.5px,#a59dc8 78.5px,#d8daeb 102.5px,#f5f5f6 116.5px,#f7f6f3 118.5px,#fbebd5 125.5px,#fee0b6 134.5px,#fdc782 150.5px,#fcb761 164.5px,#f0a03f 185.5px,#eb9733 195.5px,#e08214 227.5px,#de8013 235px)"></i><i style="background:linear-gradient(90deg,#491c76 0px,#552889 17.5px,#6b4f9b 39.5px,#8073ac 56.5px,#9287b9 67.5px,#afa8d0 82.5px,#d9dbeb 102.5px,#f5f5f6 116.5px,#f7f6f3 118.5px,#fbead2 126.5px,#fee0b6 135.5px,#feddaf 136.5px,#fdcc8c 147.5px,#fcb761 165.5px,#f1a242 184.5px,#eb9733 199.5px,#e9932d 202.5px,#e18417 225.5px,#de8013 235px)"></i><i style="background:linear-gradient(90deg,#491c76 0px,#502382 11.5px,#532687 13.5px,#5a318d 22.5px,#8477af 58.5px,#b4aed3 84.5px,#d5d6e9 100.5px,#f5f5f6 116.5px,#f7f6f3 118.5px,#f9efe1 122.5px,#fee0b6 135.5px,#fdca88 149.5px,#fcb761 166.5px,#f3a649 181.5px,#f3a649 183.5px,#eb9733 198.5px,#e18417 227.5px,#e08214 235px)"></i><i style="background:linear-gradient(90deg,#491c76 0px,#552889 16.5px,#664697 33.5px,#8275ad 56.5px,#aba3cd 79.5px,#d8daeb 101.5px,#f5f5f6 116.5px,#f7f6f3 118.5px,#faecd7 125.5px,#fee1b9 135.5px,#fed095 145.5px,#fed095 146.5px,#fdc885 151.5px,#fdbf72 159.5px,#fcb761 167.5px,#ee9b39 194.5px,#e58a20 218.5px,#e08214 235px)"></i><i style="background:linear-gradient(90deg,#491c76 0px,#532687 12.5px,#582e8c 19.5px,#684998 34.5px,#8073ac 54.5px,#9287b9 65.5px,#b3acd2 82.5px,#d5d6e9 99.5px,#f5f5f6 116.5px,#f7f6f3 118.5px,#fce7ca 129.5px,#fee0b6 136.5px,#fecd8f 148.5px,#fcb761 168.5px,#f2a446 186.5px,#eb9733 201.5px,#e2861a 227.5px,#e18417 235px)"></i><i style="background:linear-gradient(90deg,#491c76 0px,#552889 15.5px,#6a4c9a 35.5px,#7e70ab 52.5px,#b7b1d5 84.5px,#d8daeb 100.5px,#f5f5f6 116.5px,#f7f6f3 118.5px,#fce6c8 130.5px,#fde2bb 135.5px,#fed39c 144.5px,#fed39c 145.5px,#fdc57f 155.5px,#fcb761 169.5px,#ee9b39 197.5px,#e68d23 218.5px,#e18417 235px)"></i><i style="background:linear-gradient(90deg,#4a1d78 0px,#522584 11.5px,#582e8c 18.5px,#8275ad 54.5px,#988dbe 67.5px,#bcb7d8 86.5px,#d7d8ea 99.5px,#f5f5f6 116.5px,#f7f6f3 118.5px,#faeedc 124.5px,#fee0b6 137.5px,#fed095 147.5px,#fcb761 170.5px,#f4a84c 184.5px,#ed9936 204.5px,#ea9530 207.5px,#e3881d 227.5px,#e2861a 235px)"></i><i style="background:linear-gradient(90deg,#4a1d78 0px,#552889 14.5px,#644395 29.5px,#8073ac 52.5px,#b6b0d4 82.5px,#d9dbeb 100.5px,#f5f5f6 116.5px,#f8f5f1 119.5px,#faedda 125.5px,#fee0b6 137.5px,#fecf92 149.5px,#fdbc6b 166.5px,#f6aa4f 183.5px,#f6aa4f 185.5px,#f0a03f 195.5px,#e8912a 215.5px,#e2861a 235px)"></i><i style="background:linear-gradient(90deg,#4a1d78 0px,#572b8a 15.5px,#664697 30.5px,#7e70ab 50.5px,#bab5d7 84.5px,#d8daeb 99.5px,#f5f5f6 116.5px,#f8f5f1 119.5px,#faecd7 126.5px,#fee0b6 138.5px,#fed39c 146.5px,#fdbc6b 167.5px,#fbb55e 176.5px,#f9b158 178.5px,#f9b158 180.5px,#ef9e3c 199.5px,#e3881d 231.5px,#e3881d 235px)"></i><i style="background:linear-gradient(90deg,#4a1d78 0px,#532687 11.5px,#5a318d 18.5px,#7d6da9 48.5px,#8477af 52.5px,#9990bf 66.5px,#d7d8ea 98.5px,#f5f5f6 116.5px,#f8f5f1 119.5px,#fbebd5 127.5px,#fee0b6 138.5px,#fed095 149.5px,#fdbc6b 168.5px,#f0a03f 198.5px,#e3881d 235px)"></i><i style="background:linear-gradient(90deg,#4a1d78 0px,#572b8a 14.5px,#8275ad 51.5px,#b9b3d6 82.5px,#d9dbeb 99.5px,#f5f5f6 116.5px,#f8f5f1 119.5px,#fbead2 128.5px,#fee0b6 139.5px,#fecf92 151.5px,#fdba68 171.5px,#f7ac52 185.5px,#ee9b39 205.5px,#e78f27 224.5px,#e58a20 235px)"></i><i style="background:linear-gradient(90deg,#4c1f7b 0px,#532687 10.5px,#582e8c 15.5px,#6d529c 34.5px,#8073ac 49.5px,#a59dc8 71.5px,#b1aad1 76.5px,#bdb9d9 84.5px,#d8daeb 98.5px,#f5f5f6 116.5px,#f8f5f1 119.5px,#fce7ca 131.5px,#feddaf 142.5px,#fed39c 148.5px,#fdba68 172.5px,#f0a03f 201.5px,#e58a20 235px)"></i><i style="background:linear-gradient(90deg,#4c1f7b 0px,#572b8a 13.5px,#745ea2 39.5px,#7e70ab 46.5px,#8477af 51.5px,#9b92c1 65.5px,#d5d6e9 96.5px,#f5f5f6 116.5px,#fee0b6 140.5px,#fed299 150.5px,#fdb965 175.5px,#f1a242 200.5px,#e9932d 221.5px,#e68d23 235px)"></i><i style="background:linear-gradient(90deg,#4c1f7b 0px,#532687 9.5px,#582e8c 14.5px,#8275ad 49.5px,#968bbc 61.5px,#b1aad1 75.5px,#d9dbeb 98.5px,#f5f5f6 116.5px,#f8f4ee 120.5px,#faecd7 127.5px,#fedeb3 141.5px,#fedeb3 142.5px,#fed59f 148.5px,#fdbf72 169.5px,#fcb761 180.5px,#f2a446 199.5px,#e68d23 235px)"></i><i style="background:linear-gradient(90deg,#4c1f7b 0px,#552889 10.5px,#6d529c 32.5px,#8073ac 47.5px,#aba3cd 72.5px,#d7d8ea 96.5px,#f5f5f6 116.5px,#f8f3ec 121.5px,#fbe9cf 130.5px,#fee0b6 141.5px,#fed39c 150.5px,#fdbf72 170.5px,#fcb761 181.5px,#f3a649 198.5px,#eb9733 218.5px,#e78f27 235px)"></i><i style="background:linear-gradient(90deg,#4d207d 0px,#532687 8.5px,#582e8c 13.5px,#7e70ab 45.5px,#9d94c2 64.5px,#d2d3e7 93.5px,#f5f5f6 116.5px,#fedeb3 142.5px,#fedeb3 143.5px,#fecf92 155.5px,#fdbf72 171.5px,#fcb761 182.5px,#f2a446 202.5px,#e78f27 235px)"></i><i style="background:linear-gradient(90deg,#4d207d 0px,#552889 9.5px,#7d6da9 43.5px,#bfbbda 82.5px,#d7d8ea 95.5px,#f5f5f6 116.5px,#fee0b6 142.5px,#fed299 153.5px,#fdbd6e 174.5px,#fcb761 182.5px,#fcb761 184.5px,#f3a649 201.5px,#e8912a 235px)"></i><i style="background:linear-gradient(90deg,#4d207d 0px,#532687 7.5px,#5c348e 15.5px,#8275ad 46.5px,#b1aad1 72.5px,#d4d4e8 93.5px,#f5f5f6 116.5px,#fee0b6 142.5px,#fee0b6 143.5px,#fed59f 151.5px,#fdc47b 168.5px,#fdb965 183.5px,#f4a84c 200.5px,#eb9733 224.5px,#e9932d 235px)"></i><i style="background:linear-gradient(90deg,#4d207d 0px,#552889 8.5px,#8073ac 44.5px,#a198c5 64.5px,#d8daeb 95.5px,#f5f5f6 116.5px,#fee0b6 143.5px,#fed39c 153.5px,#fdc47b 169.5px,#fdb965 184.5px,#f6aa4f 199.5px,#e9932d 235px)"></i><i style="background:linear-gradient(90deg,#4f2280 0px,#572b8a 9.5px,#7e70ab 42.5px,#b3acd2 72.5px,#d8daeb 95.5px,#f5f5f6 116.5px,#fee1b9 142.5px,#fdc47b 170.5px,#fcb761 186.5px,#fcb761 188.5px,#f7ac52 198.5px,#ee9b39 221.5px,#ea9530 235px)"></i><i style="background:linear-gradient(90deg,#4f2280 0px,#552889 7.5px,#7d6da9 40.5px,#8477af 44.5px,#988dbe 57.5px,#b3acd2 71.5px,#d9dbeb 95.5px,#f6f6f7 116.5px,#fce8cd 133.5px,#fedeb3 146.5px,#fedaa9 149.5px,#fdc278 173.5px,#fdb965 187.5px,#f8ae55 197.5px,#ea9530 235px)"></i><i style="background:linear-gradient(90deg,#4f2280 0px,#572b8a 8.5px,#8275ad 43.5px,#b3acd2 71.5px,#d8daeb 94.5px,#f6f6f7 116.5px,#fbebd5 130.5px,#fee0b6 145.5px,#fed8a6 151.5px,#fed095 160.5px,#fdca88 165.5px,#fdb965 188.5px,#f9b158 196.5px,#ee9b39 225.5px,#eb9733 235px)"></i><i style="background:linear-gradient(90deg,#502382 0px,#552889 6.5px,#8073ac 41.5px,#b3acd2 70.5px,#d8daeb 94.5px,#f6f6f7 116.5px,#fce6c8 136.5px,#fee0b6 146.5px,#fedbac 149.5px,#fdca88 166.5px,#fbb55e 193.5px,#eb9733 235px)"></i><i style="background:linear-gradient(90deg,#502382 0px,#572b8a 7.5px,#7e70ab 39.5px,#b3acd2 69.5px,#d8daeb 93.5px,#f6f6f7 116.5px,#fbe9cf 133.5px,#fedeb3 148.5px,#fed39c 157.5px,#fdbc6b 185.5px,#fdbc6b 187.5px,#f8ae55 202.5px,#f6aa4f 210.5px,#f3a649 213.5px,#ed9936 235px)"></i><i style="background:linear-gradient(90deg,#502382 0px,#552889 5.5px,#7d6da9 37.5px,#ada6ce 65.5px,#d8daeb 93.5px,#f6f6f7 116.5px,#fce6c8 137.5px,#fee0b6 147.5px,#fed39c 158.5px,#fdbd6e 184.5px,#fcb761 195.5px,#f6aa4f 209.5px,#ee9b39 235px)"></i><i style="background:linear-gradient(90deg,#522584 0px,#572b8a 6.5px,#8275ad 40.5px,#b3acd2 68.5px,#d8daeb 92.5px,#f6f6f7 116.5px,#fed8a6 154.5px,#fdc175 181.5px,#fcb761 197.5px,#f7ac52 208.5px,#ee9b39 235px)"></i><i style="background:linear-gradient(90deg,#522584 0px,#532687 2.5px,#613d93 14.5px,#8073ac 38.5px,#b3acd2 67.5px,#d8daeb 92.5px,#f6f6f7 116.5px,#f7f6f3 119.5px,#fce5c5 139.5px,#fee0b6 148.5px,#fed59f 158.5px,#fdc885 174.5px,#fdc57f 176.5px,#fdc57f 178.5px,#fdbc6b 189.5px,#fdb965 196.5px,#f9b158 204.5px,#ef9e3c 235px)"></i><i style="background:linear-gradient(90deg,#522584 0px,#5f3a91 12.5px,#7e70ab 36.5px,#b3acd2 66.5px,#d8daeb 91.5px,#f6f6f7 116.5px,#f7f6f3 119.5px,#fbead2 133.5px,#fee0b6 149.5px,#fed095 164.5px,#fdbf72 186.5px,#fdbf72 188.5px,#fab35b 203.5px,#ef9e3c 235px)"></i><i style="background:linear-gradient(90deg,#532687 0px,#5d3790 10.5px,#7d6da9 34.5px,#aba3cd 61.5px,#d8daeb 91.5px,#f6f6f7 116.5px,#f7f6f3 119.5px,#fce8cd 136.5px,#feddaf 153.5px,#fed7a2 158.5px,#fdc175 185.5px,#fdc175 187.5px,#fbb55e 202.5px,#f0a03f 235px)"></i><i style="background:linear-gradient(90deg,#532687 0px,#5c348e 8.5px,#8275ad 37.5px,#b3acd2 65.5px,#c9c8e1 80.5px,#d8daeb 91.5px,#f6f6f7 116.5px,#f7f7f6 118.5px,#f9f0e4 125.5px,#fce6c8 139.5px,#fee1b9 149.5px,#fed299 164.5px,#fdc278 184.5px,#fdb965 200.5px,#f8ae55 212.5px,#f1a242 235px)"></i><i style="background:linear-gradient(90deg,#532687 0px,#634094 13.5px,#8073ac 35.5px,#b7b1d5 67.5px,#d8daeb 90.5px,#f6f6f7 116.5px,#f7f7f6 118.5px,#fbead2 134.5px,#fee0b6 151.5px,#fed299 165.5px,#fdc57f 181.5px,#fdb965 202.5px,#f9b158 211.5px,#f1a242 235px)"></i><i style="background:linear-gradient(90deg,#552889 0px,#552889 1.5px,#613d93 11.5px,#7e70ab 33.5px,#b1aad1 62.5px,#d5d6e9 87.5px,#f6f6f7 116.5px,#f7f7f6 118.5px,#fce6c8 140.5px,#fee0b6 152.5px,#fedaa9 157.5px,#fdc782 180.5px,#fdc782 182.5px,#fdc175 189.5px,#fdb965 204.5px,#fbb55e 207.5px,#f2a446 235px)"></i><i style="background:linear-gradient(90deg,#552889 0px,#5f3a91 9.5px,#7d6da9 30.5px,#8477af 36.5px,#aba3cd 58.5px,#c3c0dd 74.5px,#d8daeb 89.5px,#f6f6f7 116.5px,#f7f7f6 118.5px,#fce7ca 139.5px,#fee1b9 151.5px,#fed39c 165.5px,#fdc885 179.5px,#fdc885 181.5px,#fdbc6b 198.5px,#fcb761 208.5px,#f2a446 235px)"></i><i style="background:linear-gradient(90deg,#552889 0px,#6d529c 19.5px,#8275ad 33.5px,#bab5d7 67.5px,#d5d6e9 86.5px,#f6f6f7 116.5px,#f7f7f6 118.5px,#faedda 131.5px,#fee0b6 152.5px,#fed7a2 164.5px,#fed39c 166.5px,#fdc47b 187.5px,#fdc47b 189.5px,#fdba68 202.5px,#fcb761 210.5px,#f3a649 235px)"></i><i style="background:linear-gradient(90deg,#572b8a 0px,#572b8a 1.5px,#8073ac 32.5px,#b6b0d4 63.5px,#d8daeb 88.5px,#f6f6f7 116.5px,#f7f7f6 118.5px,#fbebd5 134.5px,#fee0b6 154.5px,#fed59f 165.5px,#fdc57f 186.5px,#fcb761 210.5px,#f6aa4f 228.5px,#f4a84c 235px)"></i><i style="background:linear-gradient(90deg,#572b8a 0px,#7e70ab 30.5px,#b1aad1 59.5px,#d5d6e9 85.5px,#f6f6f7 116.5px,#f7f7f6 118.5px,#f9f0e4 126.5px,#fde5c3 145.5px,#fee1b9 153.5px,#fed7a2 164.5px,#fdc782 185.5px,#fdb965 210.5px,#f4a84c 235px)"></i><i style="background:linear-gradient(90deg,#572b8a 0px,#7d6da9 27.5px,#bdb9d9 67.5px,#d8daeb 87.5px,#f6f6f7 116.5px,#fce5c5 144.5px,#fee0b6 155.5px,#fed8a6 163.5px,#fdc885 184.5px,#fdc885 186.5px,#fdb965 210.5px,#f6aa4f 235px)"></i><i style="background:linear-gradient(90deg,#582e8c 0px,#5f3a91 6.5px,#8477af 31.5px,#b9b3d6 63.5px,#d5d6e9 84.5px,#f6f6f7 116.5px,#fde5c3 146.5px,#fee0b6 156.5px,#fed39c 170.5px,#fdc57f 190.5px,#fdb965 214.5px,#f9b158 224.5px,#f7ac52 235px)"></i><i style="background:linear-gradient(90deg,#582e8c 0px,#7764a5 23.5px,#8073ac 28.5px,#b4aed3 59.5px,#d8daeb 86.5px,#f6f6f7 116.5px,#fce8cd 140.5px,#fee0b6 157.5px,#feddaf 159.5px,#fdc782 189.5px,#fdb965 216.5px,#f7ac52 235px)"></i><i style="background:linear-gradient(90deg,#5a318d 0px,#5a318d 1.5px,#7e70ab 27.5px,#b1aad1 56.5px,#d7d8ea 84.5px,#f6f6f7 116.5px,#fbe9cf 139.5px,#fee0b6 157.5px,#fdcc8c 183.5px,#fdb965 215.5px,#f8ae55 235px)"></i><i style="background:linear-gradient(90deg,#5a318d 0px,#6b4f9b 13.5px,#7d6da9 24.5px,#bab5d7 62.5px,#d8daeb 85.5px,#f6f6f7 116.5px,#fbebd5 136.5px,#fee0b6 158.5px,#fecd8f 182.5px,#fdc278 202.5px,#fdbf72 205.5px,#f8ae55 235px)"></i><i style="background:linear-gradient(90deg,#5c348e 0px,#5c348e 1.5px,#8477af 28.5px,#b7b1d5 59.5px,#d7d8ea 83.5px,#f6f6f7 116.5px,#fce7ca 143.5px,#fee0b6 159.5px,#fdca88 188.5px,#fcb761 222.5px,#f9b158 235px)"></i><i style="background:linear-gradient(90deg,#5c348e 0px,#664697 8.5px,#8073ac 25.5px,#b4aed3 56.5px,#d8daeb 84.5px,#f6f6f7 116.5px,#fce5c5 147.5px,#fee0b6 160.5px,#fecf92 182.5px,#fecf92 184.5px,#fdc57f 197.5px,#fdb965 223.5px,#f9b158 235px)"></i><i style="background:linear-gradient(90deg,#5c348e 0px,#745ea2 17.5px,#7e70ab 23.5px,#b1aad1 53.5px,#d7d8ea 82.5px,#f6f6f7 116.5px,#fce7ca 144.5px,#fee0b6 160.5px,#fecf92 183.5px,#fdbc6b 216.5px,#fdbc6b 219.5px,#fbb55e 229.5px,#fab35b 235px)"></i><i style="background:linear-gradient(90deg,#5d3790 0px,#5f3a91 2.5px,#867ab0 27.5px,#b9b3d6 58.5px,#d8daeb 83.5px,#f6f6f7 116.5px,#fbe9cf 141.5px,#fee0b6 161.5px,#fed39c 177.5px,#fed095 184.5px,#fdca88 192.5px,#fdba68 221.5px,#fbb55e 235px)"></i><i style="background:linear-gradient(90deg,#5d3790 0px,#8477af 25.5px,#b6b0d4 55.5px,#d7d8ea 81.5px,#f6f6f7 116.5px,#fce7ca 145.5px,#fee0b6 162.5px,#fedaa9 169.5px,#fedaa9 171.5px,#fecd8f 188.5px,#fbb55e 235px)"></i><i style="background:linear-gradient(90deg,#5f3a91 0px,#613d93 2.5px,#8073ac 22.5px,#b3acd2 52.5px,#d8daeb 82.5px,#f6f6f7 116.5px,#fbead2 140.5px,#fee0b6 163.5px,#fedaa9 170.5px,#fedaa9 172.5px,#fdcc8c 192.5px,#fdbd6e 218.5px,#fcb761 235px)"></i><i style="background:linear-gradient(90deg,#5f3a91 0px,#7d6da9 19.5px,#b1aad1 50.5px,#d7d8ea 80.5px,#f6f6f7 116.5px,#fce8cd 144.5px,#fee0b6 164.5px,#fedaa9 171.5px,#fedaa9 173.5px,#fecf92 188.5px,#fcb761 235px)"></i><i style="background:linear-gradient(90deg,#613d93 0px,#634094 2.5px,#867ab0 24.5px,#b7b1d5 54.5px,#d9dbeb 82.5px,#f6f6f7 116.5px,#faecd7 137.5px,#fedeb3 167.5px,#fed8a6 174.5px,#fed8a6 176.5px,#fecf92 189.5px,#fdcc8c 197.5px,#fdc885 200.5px,#fdc175 215.5px,#fdc175 218.5px,#fdbc6b 225.5px,#fdb965 235px)"></i><i style="background:linear-gradient(90deg,#613d93 0px,#8275ad 21.5px,#b4aed3 51.5px,#d7d8ea 79.5px,#f6f6f7 116.5px,#fbe9cf 143.5px,#fee0b6 165.5px,#fed299 185.5px,#fdb965 235px)"></i><i style="background:linear-gradient(90deg,#634094 0px,#644395 2.5px,#7e70ab 18.5px,#b3acd2 49.5px,#d9dbeb 81.5px,#f6f6f7 116.5px,#faeedc 134.5px,#fee0b6 166.5px,#fed8a6 176.5px,#fecf92 194.5px,#fdcc8c 197.5px,#fdba68 235px)"></i><i style="background:linear-gradient(90deg,#634094 0px,#887cb2 23.5px,#b7b1d5 52.5px,#d7d8ea 78.5px,#f6f6f7 116.5px,#fde5c3 154.5px,#fee0b6 167.5px,#fedbac 172.5px,#fed39c 187.5px,#fed095 190.5px,#fdbd6e 227.5px,#fdbc6b 235px)"></i><i style="background:linear-gradient(90deg,#644395 0px,#664697 2.5px,#8477af 20.5px,#b6b0d4 50.5px,#d8daeb 79.5px,#f6f6f7 116.5px,#fde3be 159.5px,#fee0b6 168.5px,#fedbac 173.5px,#fed299 191.5px,#fecf92 194.5px,#fdbc6b 235px)"></i><i style="background:linear-gradient(90deg,#644395 0px,#7e70ab 16.5px,#b3acd2 47.5px,#d7d8ea 77.5px,#f6f6f7 116.5px,#fce5c5 153.5px,#fee0b6 168.5px,#fed39c 187.5px,#fecf92 198.5px,#fdcc8c 201.5px,#fdcc8c 204.5px,#fdbf72 227.5px,#fdbd6e 235px)"></i><i style="background:linear-gradient(90deg,#664697 0px,#684998 2.5px,#7967a6 12.5px,#887cb2 21.5px,#b9b3d6 51.5px,#d8daeb 78.5px,#f6f6f7 116.5px,#fbead2 143.5px,#fee0b6 169.5px,#fed39c 188.5px,#fdc57f 215.5px,#fdc57f 218.5px,#fdc278 222.5px,#fdbd6e 235px)"></i><i style="background:linear-gradient(90deg,#664697 0px,#8477af 18.5px,#ada6ce 42.5px,#bdb9d9 54.5px,#d7d8ea 76.5px,#f6f6f7 116.5px,#fce6c8 152.5px,#fee0b6 170.5px,#fed39c 189.5px,#fdc47b 220.5px,#fdbf72 235px)"></i><i style="background:linear-gradient(90deg,#684998 0px,#6a4c9a 2.5px,#7d6da9 13.5px,#8e82b6 23.5px,#bab5d7 51.5px,#d8daeb 77.5px,#f6f6f7 116.5px,#fbe9cf 146.5px,#fee0b6 171.5px,#feddaf 174.5px,#fed59f 190.5px,#fed299 193.5px,#fdbf72 235px)"></i><i style="background:linear-gradient(90deg,#684998 0px,#8a7eb3 20.5px,#b1aad1 43.5px,#bfbbda 54.5px,#d9dbeb 78.5px,#f6f6f7 116.5px,#fce6c8 153.5px,#fee0b6 172.5px,#fed8a6 183.5px,#fdc885 213.5px,#fdc885 216.5px,#fdc175 231.5px,#fdc175 235px)"></i><i style="background:linear-gradient(90deg,#6a4c9a 0px,#6d529c 3.5px,#8275ad 15.5px,#ada6ce 40.5px,#c2bedc 56.5px,#d8daeb 76.5px,#f6f6f7 116.5px,#fce8cd 149.5px,#feddaf 178.5px,#fedaa9 181.5px,#fdc782 218.5px,#fdc175 235px)"></i><i style="background:linear-gradient(90deg,#6a4c9a 0px,#7b6aa8 10.5px,#8e82b6 21.5px,#b3acd2 43.5px,#c5c2de 58.5px,#d9dbeb 77.5px,#f6f6f7 116.5px,#fce6c8 154.5px,#feddaf 179.5px,#fedaa9 182.5px,#fdc175 235px)"></i><i style="background:linear-gradient(90deg,#6b4f9b 0px,#6f559e 3.5px,#887cb2 17.5px,#afa8d0 40.5px,#c3c0dd 56.5px,#d8daeb 75.5px,#f6f6f7 116.5px,#fce8cd 150.5px,#fee0b6 174.5px,#fecf92 204.5px,#fecf92 207.5px,#fdca88 214.5px,#fdc278 235px)"></i><i style="background:linear-gradient(90deg,#6b4f9b 0px,#7e70ab 11.5px,#9287b9 22.5px,#b3acd2 42.5px,#c0bddb 53.5px,#d9dbeb 76.5px,#f6f6f7 116.5px,#fbe9cf 148.5px,#fee0b6 175.5px,#fedbac 181.5px,#fed095 202.5px,#fed095 205.5px,#fdcc8c 212.5px,#fdcc8c 215.5px,#fdc885 219.5px,#fdc782 226.5px,#fdc278 235px)"></i><i style="background:linear-gradient(90deg,#6d529c 0px,#70589f 3.5px,#8073ac 12.5px,#8c80b5 18.5px,#b1aad1 40.5px,#bfbbda 51.5px,#dadcec 77.5px,#f6f6f7 116.5px,#fce5c5 158.5px,#fee0b6 176.5px,#feddaf 179.5px,#fed299 200.5px,#fed299 203.5px,#fdca88 217.5px,#fdc47b 235px)"></i><i style="background:linear-gradient(90deg,#6d529c 0px,#8275ad 12.5px,#ada6ce 37.5px,#c2bedc 53.5px,#d8daeb 74.5px,#f6f6f7 115.5px,#fce6c8 156.5px,#fee1b9 174.5px,#fed39c 198.5px,#fed39c 201.5px,#fecf92 208.5px,#fecf92 211.5px,#fdcc8c 215.5px,#fdcc8c 218.5px,#fdc885 222.5px,#fdc47b 235px)"></i><i style="background:linear-gradient(90deg,#6f559e 0px,#725ba1 3.5px,#8073ac 11.5px,#9085b8 19.5px,#b3acd2 40.5px,#bfbbda 50.5px,#d9dbeb 75.5px,#f6f6f7 115.5px,#fce7ca 154.5px,#fee0b6 177.5px,#fed59f 196.5px,#fed59f 199.5px,#fecf92 209.5px,#fdc885 227.5px,#fdc57f 231.5px,#fdc57f 235px)"></i><i style="background:linear-gradient(90deg,#6f559e 0px,#867ab0 13.5px,#afa8d0 37.5px,#c2bedc 52.5px,#d8daeb 73.5px,#f6f6f7 115.5px,#fce8cd 152.5px,#fee0b6 178.5px,#fed59f 197.5px,#fed59f 200.5px,#fed095 207.5px,#fdc57f 235px)"></i><i style="background:linear-gradient(90deg,#70589f 0px,#725ba1 2.5px,#8073ac 10.5px,#a198c5 28.5px,#b4aed3 40.5px,#cccbe3 61.5px,#d9dbeb 74.5px,#f6f6f7 115.5px,#fce7ca 155.5px,#fee0b6 179.5px,#fed59f 198.5px,#fed59f 201.5px,#fed299 205.5px,#fed299 208.5px,#fecf92 212.5px,#fecf92 215.5px,#fdc782 231.5px,#fdc782 235px)"></i><i style="background:linear-gradient(90deg,#70589f 0px,#8073ac 9.5px,#9b92c1 24.5px,#b1aad1 37.5px,#cbc9e2 59.5px,#d8daeb 72.5px,#f6f6f7 115.5px,#f8f5f1 123.5px,#fce6c8 158.5px,#fee0b6 180.5px,#fed59f 199.5px,#fdc782 235px)"></i><i style="background:linear-gradient(90deg,#70589f 0px,#8073ac 9.5px,#a198c5 27.5px,#b4aed3 39.5px,#cccbe3 60.5px,#d8daeb 72.5px,#f6f6f7 115.5px,#f7f6f3 121.5px,#fce7ca 156.5px,#fde2bb 175.5px,#fedeb3 181.5px,#fedeb3 184.5px,#fed299 207.5px,#fed095 214.5px,#fecd8f 218.5px,#fdc782 235px)"></i><i style="background:linear-gradient(90deg,#725ba1 0px,#8073ac 8.5px,#9b92c1 23.5px,#b1aad1 36.5px,#c6c4df 54.5px,#d9dbeb 73.5px,#f6f6f7 115.5px,#f7f6f3 121.5px,#f9f0e4 132.5px,#fce6c8 159.5px,#fee0b6 181.5px,#fed7a2 198.5px,#fed7a2 201.5px,#fed39c 205.5px,#fed39c 208.5px,#fed095 212.5px,#fed095 215.5px,#fdc885 231.5px,#fdc885 235px)"></i><i style="background:linear-gradient(90deg,#725ba1 0px,#8073ac 8.5px,#a39bc7 27.5px,#b4aed3 38.5px,#cccbe3 59.5px,#d8daeb 71.5px,#f6f6f7 115.5px,#f7f6f3 121.5px,#f9f1e6 130.5px,#fde5c3 165.5px,#fee0b6 182.5px,#fed095 213.5px,#fdc885 235px)"></i><i style="background:linear-gradient(90deg,#745ea2 0px,#8073ac 7.5px,#a9a1cb 30.5px,#c6c4df 53.5px,#d9dbeb 72.5px,#f6f6f7 115.5px,#f7f7f6 119.5px,#faeedf 137.5px,#fce6c8 160.5px,#fee0b6 183.5px,#fedaa9 193.5px,#fedaa9 196.5px,#fed39c 207.5px,#fdc885 235px)"></i><i style="background:linear-gradient(90deg,#745ea2 0px,#8073ac 7.5px,#a39bc7 26.5px,#b4aed3 37.5px,#c8c6e0 54.5px,#d9dbeb 72.5px,#f6f6f7 115.5px,#f7f7f6 119.5px,#f9f2e9 128.5px,#fce8cd 155.5px,#fee0b6 184.5px,#fed39c 208.5px,#fed299 215.5px,#fdca88 231.5px,#fdca88 235px)"></i><i style="background:linear-gradient(90deg,#7661a4 0px,#867ab0 9.5px,#a9a1cb 29.5px,#c9c8e1 55.5px,#d8daeb 70.5px,#f6f6f7 115.5px,#f7f7f6 119.5px,#f9efe1 135.5px,#fce6c8 161.5px,#fee0b6 184.5px,#fed39c 209.5px,#fdca88 235px)"></i><i style="background:linear-gradient(90deg,#7661a4 0px,#8073ac 6.5px,#a39bc7 25.5px,#b4aed3 36.5px,#cbc9e2 56.5px,#d9dbeb 71.5px,#f6f6f7 115.5px,#f7f7f6 119.5px,#fce8cd 156.5px,#fee0b6 185.5px,#fed39c 210.5px,#fdca88 235px)"></i><i style="background:linear-gradient(90deg,#7661a4 0px,#8073ac 6.5px,#a79fca 27.5px,#c9c8e1 54.5px,#d8daeb 69.5px,#f6f6f7 115.5px,#f7f7f6 119.5px,#f9f0e4 133.5px,#fce7ca 159.5px,#fee0b6 186.5px,#fed39c 211.5px,#fdcc8c 235px)"></i><i style="background:linear-gradient(90deg,#7764a5 0px,#9085b8 13.5px,#ada6ce 30.5px,#cecde4 58.5px,#dadcec 72.5px,#f6f6f7 115.5px,#f7f7f6 119.5px,#f8f3ec 126.5px,#fbe9cf 154.5px,#fee0b6 187.5px,#fed8a6 201.5px,#fdcc8c 235px)"></i><i style="background:linear-gradient(90deg,#7764a5 0px,#8073ac 5.5px,#a79fca 26.5px,#c5c2de 49.5px,#d9dbeb 70.5px,#f6f6f7 115.5px,#f7f7f6 119.5px,#fce8cd 157.5px,#fee0b6 187.5px,#fed8a6 202.5px,#fdcc8c 235px)"></i><i style="background:linear-gradient(90deg,#7967a6 0px,#8a7eb3 9.5px,#aba3cd 28.5px,#c6c4df 50.5px,#d8daeb 68.5px,#f6f6f7 115.5px,#f7f7f6 119.5px,#fbebd5 149.5px,#fee0b6 188.5px,#fedaa9 199.5px,#fed7a2 210.5px,#fecf92 226.5px,#fecd8f 235px)"></i><i style="background:linear-gradient(90deg,#7967a6 0px,#968bbc 15.5px,#afa8d0 30.5px,#cbc9e2 54.5px,#dadcec 71.5px,#f6f6f7 115.5px,#f7f7f6 119.5px,#fbead2 152.5px,#fee0b6 189.5px,#feddaf 193.5px,#fed7a2 211.5px,#fed39c 215.5px,#fecd8f 235px)"></i><i style="background:linear-gradient(90deg,#7967a6 0px,#a9a1cb 26.5px,#cccbe3 55.5px,#d9dbeb 69.5px,#f6f6f7 115.5px,#f7f7f6 119.5px,#fce8cd 158.5px,#fee0b6 189.5px,#fedbac 197.5px,#fed8a6 208.5px,#fed59f 212.5px,#fecd8f 235px)"></i><i style="background:linear-gradient(90deg,#7b6aa8 0px,#9085b8 11.5px,#ada6ce 28.5px,#d5d6e9 64.5px,#f6f6f7 115.5px,#f7f7f6 119.5px,#faecd7 147.5px,#fee0b6 190.5px,#fed7a2 209.5px,#fecd8f 235px)"></i><i style="background:linear-gradient(90deg,#7b6aa8 0px,#9990bf 16.5px,#b1aad1 30.5px,#d4d4e8 62.5px,#dfe1ee 77.5px,#f6f6f7 115.5px,#f7f7f6 119.5px,#f9f0e4 134.5px,#fde5c3 171.5px,#fee0b6 191.5px,#feddaf 195.5px,#fedbac 202.5px,#fed8a6 206.5px,#fed299 222.5px,#fecf92 235px)"></i><i style="background:linear-gradient(90deg,#7b6aa8 0px,#aba3cd 26.5px,#cfcfe5 57.5px,#dee0ed 75.5px,#f6f6f7 115.5px,#f7f7f6 119.5px,#faeedc 142.5px,#fde3be 178.5px,#fee1b9 188.5px,#fedaa9 203.5px,#fecf92 235px)"></i><i style="background:linear-gradient(90deg,#7d6da9 0px,#9287b9 11.5px,#b6b0d4 33.5px,#d5d6e9 63.5px,#f6f6f7 115.5px,#f7f7f6 119.5px,#f9efe1 137.5px,#fde5c3 172.5px,#fee0b6 192.5px,#fedbac 200.5px,#fecf92 235px)"></i><i style="background:linear-gradient(90deg,#7d6da9 0px,#9990bf 15.5px,#b1aad1 29.5px,#d1d1e6 58.5px,#dcddec 71.5px,#f6f6f7 115.5px,#f7f7f6 119.5px,#f9efe1 137.5px,#fce6c8 166.5px,#fee0b6 193.5px,#feddaf 197.5px,#fecf92 235px)"></i><i style="background:linear-gradient(90deg,#7d6da9 0px,#9f96c4 18.5px,#b3acd2 30.5px,#d7d8ea 64.5px,#f6f6f7 115.5px,#f7f7f6 119.5px,#fbe9cf 157.5px,#fee0b6 193.5px,#fed095 230.5px,#fed095 235px)"></i><i style="background:linear-gradient(90deg,#7e70ab 0px,#afa8d0 27.5px,#d2d3e7 59.5px,#dee0ed 74.5px,#f6f6f7 115.5px,#f7f7f6 119.5px,#faeedf 140.5px,#fce5c5 170.5px,#fee0b6 194.5px,#feddaf 198.5px,#fed59f 218.5px,#fed59f 222.5px,#fed095 231.5px,#fed095 235px)"></i><i style="background:linear-gradient(90deg,#7e70ab 0px,#b1aad1 28.5px,#cecde4 54.5px,#dddfed 72.5px,#f6f6f7 115.5px,#f7f7f6 119.5px,#f9f1e6 132.5px,#fce6c8 167.5px,#fee1b9 191.5px,#fed39c 223.5px,#fed095 235px)"></i><i style="background:linear-gradient(90deg,#7e70ab 0px,#9f96c4 17.5px,#b3acd2 29.5px,#d4d4e8 60.5px,#e2e3ef 79.5px,#f6f6f7 115.5px,#f7f7f6 119.5px,#fce8cd 161.5px,#fee0b6 195.5px,#fed095 235px)"></i><i style="background:linear-gradient(90deg,#7e70ab 0px,#ada6ce 25.5px,#cfcfe5 55.5px,#dcddec 70.5px,#f6f6f7 115.5px,#f7f7f6 119.5px,#fbead2 155.5px,#fee0b6 195.5px,#fed095 235px)"></i></div>
<div class="cb" style="left:281.8px;top:310.9px;width:15.4px;height:209.5px;background:linear-gradient(180deg,#7f3b08 0px,#813c08 1.5px,#954807 9px,#aa5306 18px,#b25706 20.5px,#b45906 22px,#c6690c 29.4px,#e08214 42.4px,#e2861a 43.4px,#e3881d 44.9px,#e68d23 45.9px,#e78f27 47.4px,#e9932d 48.4px,#ea9530 49.9px,#ef9e3c 52.4px,#f0a03f 53.9px,#f2a446 54.9px,#f3a649 56.4px,#f6aa4f 57.4px,#f7ac52 58.9px,#f9b158 59.9px,#f9b158 60.4px,#fbb55e 61.4px,#fcb761 62.9px,#fdb965 63.4px,#fdba68 63.9px,#fdbc6b 65.4px,#fdbf72 66.4px,#fdc175 67.9px,#fdc47b 68.9px,#fdc57f 70.3px,#fdc885 71.3px,#fdc885 71.8px,#fdcc8c 72.8px,#fecd8f 74.3px,#fed095 75.3px,#fed299 76.8px,#fed59f 77.8px,#fed7a2 79.3px,#fedaa9 80.3px,#fedbac 81.8px,#fedeb3 82.8px,#fedeb3 83.3px,#fee1b9 84.3px,#fde2bb 85.8px,#fce6c8 89.3px,#fce7ca 90.8px,#fbebd5 93.3px,#faecd7 94.8px,#faeedc 95.8px,#f9f1e6 99.8px,#f8f3ec 100.8px,#f8f4ee 102.3px,#f7f6f3 103.3px,#f6f6f7 105.3px,#d8daeb 125.7px,#b1aad1 147.2px,#ada6ce 148.2px,#9f96c4 154.7px,#988dbe 157.2px,#968bbc 158.7px,#9287b9 159.7px,#9085b8 161.2px,#8c80b5 162.2px,#8073ac 167.6px,#7d6da9 168.6px,#7b6aa8 170.1px,#7764a5 171.1px,#7661a4 172.6px,#725ba1 173.6px,#6b4f9b 177.6px,#644395 180.1px,#5d3790 184.1px,#5a318d 185.1px,#582e8c 186.6px,#552889 187.6px,#502382 190.6px,#4d207d 191.6px,#4c1f7b 193.1px,#44176f 196.6px,#42156c 198.1px,#3c0f63 200.6px,#320552 207.1px,#2f024d 208.1px,#2d004b 209.5px)"></div>
<div class="h" style="left:400px;top:311px;width:234px;height:209px"><i style="background:linear-gradient(90deg,#833d08 0px,#974907 44.5px,#b25706 74.5px,#c4680b 89.5px,#d77a11 100.5px,#e08214 103.5px,#ea9530 108.5px,#f0a03f 110.5px,#f9b158 112.5px,#fdba68 113.5px,#fdc57f 114.5px,#fed59f 115.5px,#faedda 116.5px,#dcddec 117.5px,#c8c6e0 118.5px,#bab5d7 119.5px,#a9a1cb 121.5px,#9489bb 125.5px,#8073ac 132.5px,#745ea2 139.5px,#6d529c 145.5px,#613d93 159.5px,#552889 182.5px,#471a74 234px)"></i><i style="background:linear-gradient(90deg,#833d08 0px,#914507 34.5px,#b05606 72.5px,#c6690c 90.5px,#e08214 103.5px,#ea9530 108.5px,#f9b158 112.5px,#fdba68 113.5px,#fdc57f 114.5px,#fed59f 115.5px,#faedda 116.5px,#dddfed 117.5px,#c8c6e0 118.5px,#b3acd2 120.5px,#9d94c2 123.5px,#8a7eb3 128.5px,#8275ad 131.5px,#7661a4 138.5px,#6d529c 145.5px,#5f3a91 162.5px,#552889 182.5px,#471a74 234px)"></i><i style="background:linear-gradient(90deg,#833d08 0px,#914507 34.5px,#a44f07 59.5px,#b25706 73.5px,#c76b0c 91.5px,#e08214 103.5px,#e8912a 107.5px,#f4a84c 111.5px,#fab35b 112.5px,#fdc57f 114.5px,#fed7a2 115.5px,#faeedc 116.5px,#dddfed 117.5px,#c9c8e1 118.5px,#bcb7d8 119.5px,#aba3cd 121.5px,#9990bf 124.5px,#8073ac 132.5px,#7764a5 137.5px,#6b4f9b 147.5px,#613d93 160.5px,#552889 183.5px,#471a74 234px)"></i><i style="background:linear-gradient(90deg,#833d08 0px,#934607 37.5px,#b25706 73.5px,#cb6e0d 93.5px,#e08214 103.5px,#f1a242 110.5px,#fab35b 112.5px,#fdbc6b 113.5px,#fdc782 114.5px,#fed7a2 115.5px,#faeedc 116.5px,#dee0ed 117.5px,#c9c8e1 118.5px,#b4aed3 120.5px,#9f96c4 123.5px,#9287b9 126.5px,#7e70ab 133.5px,#6f559e 144.5px,#5f3a91 163.5px,#552889 183.5px,#471a74 234px)"></i><i style="background:linear-gradient(90deg,#833d08 0px,#934607 37.5px,#b25706 73.5px,#c4680b 88.5px,#de8013 102.5px,#e2861a 104.5px,#eb9733 108.5px,#fab35b 112.5px,#fdbc6b 113.5px,#fdc782 114.5px,#fed8a6 115.5px,#faeedc 116.5px,#dee0ed 117.5px,#c9c8e1 118.5px,#b4aed3 120.5px,#9f96c4 123.5px,#867ab0 130.5px,#745ea2 140.5px,#6d529c 146.5px,#613d93 161.5px,#552889 184.5px,#4a1d78 220.5px,#491c76 234px)"></i><i style="background:linear-gradient(90deg,#833d08 0px,#954807 40.5px,#b05606 71.5px,#c4680b 88.5px,#de8013 102.5px,#e9932d 107.5px,#f6aa4f 111.5px,#fdbd6e 113.5px,#fdc885 114.5px,#fed8a6 115.5px,#faeedf 116.5px,#dee0ed 117.5px,#cbc9e2 118.5px,#bdb9d9 119.5px,#ada6ce 121.5px,#9b92c1 124.5px,#8c80b5 128.5px,#8477af 131.5px,#7661a4 139.5px,#6f559e 145.5px,#5f3a91 164.5px,#552889 184.5px,#4c1f7b 214.5px,#491c76 234px)"></i><i style="background:linear-gradient(90deg,#833d08 0px,#914507 33.5px,#ac5406 67.5px,#c6690c 89.5px,#e08214 102.5px,#e78f27 106.5px,#ef9e3c 109.5px,#fbb55e 112.5px,#fdbd6e 113.5px,#fdc885 114.5px,#fed8a6 115.5px,#faeedf 116.5px,#dfe1ee 117.5px,#cbc9e2 118.5px,#bfbbda 119.5px,#a79fca 122.5px,#9b92c1 124.5px,#8275ad 132.5px,#6f559e 145.5px,#634094 159.5px,#552889 185.5px,#491c76 234px)"></i><i style="background:linear-gradient(90deg,#833d08 0px,#914507 33.5px,#a44f07 58.5px,#b25706 72.5px,#c96d0d 91.5px,#e08214 102.5px,#e18417 103.5px,#ed9936 108.5px,#fbb55e 112.5px,#fdbd6e 113.5px,#fdc885 114.5px,#fedaa9 115.5px,#faeedf 116.5px,#dfe1ee 117.5px,#cccbe3 118.5px,#bfbbda 119.5px,#a79fca 122.5px,#9489bb 126.5px,#8073ac 133.5px,#6d529c 147.5px,#613d93 162.5px,#552889 186.5px,#491c76 234px)"></i><i style="background:linear-gradient(90deg,#833d08 0px,#934607 36.5px,#b25706 72.5px,#cd700e 93.5px,#e08214 102.5px,#ed9936 108.5px,#f3a649 110.5px,#fcb761 112.5px,#fdbf72 113.5px,#fdca88 114.5px,#fedaa9 115.5px,#faeedf 116.5px,#e1e2ee 117.5px,#cccbe3 118.5px,#c0bddb 119.5px,#afa8d0 121.5px,#9d94c2 124.5px,#887cb2 130.5px,#7661a4 140.5px,#6f559e 146.5px,#634094 160.5px,#552889 186.5px,#491c76 234px)"></i><i style="background:linear-gradient(90deg,#833d08 0px,#934607 36.5px,#b25706 72.5px,#c4680b 87.5px,#e08214 102.5px,#ea9530 107.5px,#f3a649 110.5px,#fcb761 112.5px,#fdbf72 113.5px,#fdca88 114.5px,#fedbac 115.5px,#f9efe1 116.5px,#e1e2ee 117.5px,#cccbe3 118.5px,#c0bddb 119.5px,#a9a1cb 122.5px,#9d94c2 124.5px,#867ab0 131.5px,#725ba1 143.5px,#613d93 163.5px,#552889 187.5px,#491c76 234px)"></i><i style="background:linear-gradient(90deg,#833d08 0px,#954807 39.5px,#ae5506 68.5px,#c6690c 88.5px,#de8013 101.5px,#e2861a 103.5px,#ee9b39 108.5px,#fcb761 112.5px,#fdcc8c 114.5px,#fedbac 115.5px,#f9efe1 116.5px,#e1e2ee 117.5px,#cecde4 118.5px,#c0bddb 119.5px,#a9a1cb 122.5px,#9990bf 125.5px,#8477af 132.5px,#70589f 145.5px,#634094 161.5px,#552889 187.5px,#491c76 234px)"></i><i style="background:linear-gradient(90deg,#833d08 0px,#914507 32.5px,#a24e07 55.5px,#b25706 71.5px,#c76b0c 89.5px,#de8013 101.5px,#e2861a 103.5px,#ee9b39 108.5px,#f4a84c 110.5px,#fdb965 112.5px,#fdc175 113.5px,#fdcc8c 114.5px,#feddaf 115.5px,#f9efe1 116.5px,#e2e3ef 117.5px,#cecde4 118.5px,#c2bedc 119.5px,#b1aad1 121.5px,#9f96c4 124.5px,#9085b8 128.5px,#8073ac 134.5px,#6f559e 147.5px,#613d93 164.5px,#552889 188.5px,#491c76 234px)"></i><i style="background:linear-gradient(90deg,#833d08 0px,#914507 32.5px,#a44f07 57.5px,#b25706 71.5px,#c96d0d 90.5px,#e08214 101.5px,#e58a20 104.5px,#eb9733 107.5px,#f4a84c 110.5px,#fdb965 112.5px,#fdc175 113.5px,#fecd8f 114.5px,#feddaf 115.5px,#f9efe1 116.5px,#e2e3ef 117.5px,#cfcfe5 118.5px,#c2bedc 119.5px,#b9b3d6 120.5px,#9f96c4 124.5px,#887cb2 131.5px,#725ba1 144.5px,#634094 162.5px,#552889 188.5px,#491c76 234px)"></i><i style="background:linear-gradient(90deg,#853e08 0px,#914507 32.5px,#b25706 71.5px,#ce720f 93.5px,#e08214 101.5px,#e18417 102.5px,#ef9e3c 108.5px,#f9b158 111.5px,#fdc278 113.5px,#fecd8f 114.5px,#feddaf 115.5px,#f9efe1 116.5px,#e3e4ef 117.5px,#cfcfe5 118.5px,#c3c0dd 119.5px,#b3acd2 121.5px,#9b92c1 125.5px,#867ab0 132.5px,#70589f 146.5px,#613d93 165.5px,#552889 189.5px,#491c76 234px)"></i><i style="background:linear-gradient(90deg,#853e08 0px,#853e08 6.5px,#934607 35.5px,#b05606 69.5px,#c6690c 87.5px,#e08214 101.5px,#ef9e3c 108.5px,#f6aa4f 110.5px,#fdba68 112.5px,#fdc278 113.5px,#fecd8f 114.5px,#fedeb3 115.5px,#f9f0e4 116.5px,#e3e4ef 117.5px,#c3c0dd 119.5px,#bab5d7 120.5px,#a198c5 124.5px,#9287b9 128.5px,#8477af 133.5px,#6f559e 148.5px,#634094 163.5px,#552889 190.5px,#4c1f7b 220.5px,#4a1d78 234px)"></i><i style="background:linear-gradient(90deg,#853e08 0px,#894108 16.5px,#954807 38.5px,#b25706 70.5px,#c76b0c 88.5px,#e08214 101.5px,#ed9936 107.5px,#f2a446 109.5px,#fdba68 112.5px,#fecf92 114.5px,#fedeb3 115.5px,#f9f0e4 116.5px,#e3e4ef 117.5px,#d1d1e6 118.5px,#c5c2de 119.5px,#b4aed3 121.5px,#a198c5 124.5px,#8c80b5 130.5px,#725ba1 145.5px,#613d93 166.5px,#552889 190.5px,#4a1d78 234px)"></i><i style="background:linear-gradient(90deg,#853e08 0px,#8f4407 28.5px,#a44f07 56.5px,#b25706 70.5px,#c96d0d 89.5px,#de8013 100.5px,#e2861a 102.5px,#ea9530 106.5px,#fab35b 111.5px,#fdc47b 113.5px,#fecf92 114.5px,#fee0b6 115.5px,#f9f0e4 116.5px,#e4e5f0 117.5px,#c5c2de 119.5px,#b4aed3 121.5px,#9d94c2 125.5px,#8a7eb3 131.5px,#70589f 147.5px,#634094 164.5px,#552889 191.5px,#4a1d78 234px)"></i><i style="background:linear-gradient(90deg,#853e08 0px,#914507 31.5px,#b25706 70.5px,#cd700e 91.5px,#e08214 100.5px,#e58a20 103.5px,#f0a03f 108.5px,#f7ac52 110.5px,#fdbc6b 112.5px,#fed095 114.5px,#fee0b6 115.5px,#f9f0e4 116.5px,#e4e5f0 117.5px,#c5c2de 119.5px,#bcb7d8 120.5px,#a39bc7 124.5px,#9085b8 129.5px,#887cb2 132.5px,#7b6aa8 139.5px,#6f559e 149.5px,#613d93 167.5px,#552889 191.5px,#4a1d78 234px)"></i><i style="background:linear-gradient(90deg,#853e08 0px,#914507 31.5px,#b05606 68.5px,#c4680b 85.5px,#e08214 100.5px,#e58a20 103.5px,#ee9b39 107.5px,#f3a649 109.5px,#fbb55e 111.5px,#fdc57f 113.5px,#fed095 114.5px,#fee1b9 115.5px,#f9f0e4 116.5px,#e4e5f0 117.5px,#d2d3e7 118.5px,#c6c4df 119.5px,#afa8d0 122.5px,#9f96c4 125.5px,#9489bb 128.5px,#8477af 134.5px,#70589f 148.5px,#644395 162.5px,#552889 192.5px,#4a1d78 234px)"></i><i style="background:linear-gradient(90deg,#853e08 0px,#934607 34.5px,#b25706 69.5px,#c6690c 86.5px,#e08214 100.5px,#eb9733 106.5px,#f8ae55 110.5px,#fdbd6e 112.5px,#fdc57f 113.5px,#fed299 114.5px,#fee1b9 115.5px,#f9f1e6 116.5px,#e5e7f0 117.5px,#c6c4df 119.5px,#b1aad1 122.5px,#9b92c1 126.5px,#8c80b5 131.5px,#745ea2 145.5px,#613d93 168.5px,#552889 193.5px,#4a1d78 234px)"></i><i style="background:linear-gradient(90deg,#853e08 0px,#934607 34.5px,#b25706 69.5px,#c96d0d 88.5px,#e08214 100.5px,#f1a242 108.5px,#f8ae55 110.5px,#fdbd6e 112.5px,#fed299 114.5px,#fde2bb 115.5px,#f9f1e6 116.5px,#e5e7f0 117.5px,#d4d4e8 118.5px,#c8c6e0 119.5px,#b7b1d5 121.5px,#a59dc8 124.5px,#9287b9 129.5px,#8a7eb3 132.5px,#725ba1 147.5px,#644395 163.5px,#552889 193.5px,#4a1d78 234px)"></i><i style="background:linear-gradient(90deg,#853e08 0px,#8f4407 27.5px,#a44f07 55.5px,#b25706 69.5px,#cb6e0d 89.5px,#de8013 99.5px,#e68d23 103.5px,#ef9e3c 107.5px,#fcb761 111.5px,#fdc782 113.5px,#fed299 114.5px,#fde2bb 115.5px,#f9f1e6 116.5px,#e5e7f0 117.5px,#c8c6e0 119.5px,#b7b1d5 121.5px,#a198c5 125.5px,#887cb2 133.5px,#7d6da9 139.5px,#70589f 149.5px,#613d93 169.5px,#552889 194.5px,#4a1d78 234px)"></i><i style="background:linear-gradient(90deg,#853e08 0px,#914507 30.5px,#b05606 67.5px,#c4680b 84.5px,#e08214 99.5px,#e8912a 104.5px,#ed9936 106.5px,#f9b158 110.5px,#fdbf72 112.5px,#fed39c 114.5px,#fde2bb 115.5px,#f9f1e6 116.5px,#e7e8f1 117.5px,#d5d6e9 118.5px,#c9c8e1 119.5px,#b9b3d6 121.5px,#9d94c2 126.5px,#8477af 135.5px,#745ea2 146.5px,#644395 164.5px,#572b8a 190.5px,#4a1d78 234px)"></i><i style="background:linear-gradient(90deg,#853e08 0px,#914507 30.5px,#a24e07 52.5px,#b25706 68.5px,#c6690c 85.5px,#e08214 99.5px,#e58a20 102.5px,#f2a446 108.5px,#fdb965 111.5px,#fdc885 113.5px,#fed39c 114.5px,#fde3be 115.5px,#f9f1e6 116.5px,#e7e8f1 117.5px,#c9c8e1 119.5px,#b9b3d6 121.5px,#a79fca 124.5px,#9489bb 129.5px,#8c80b5 132.5px,#7b6aa8 141.5px,#725ba1 148.5px,#613d93 170.5px,#552889 195.5px,#4a1d78 234px)"></i><i style="background:linear-gradient(90deg,#853e08 0px,#934607 33.5px,#b25706 68.5px,#c76b0c 86.5px,#e08214 99.5px,#e78f27 103.5px,#f0a03f 107.5px,#fab35b 110.5px,#fdc175 112.5px,#fed59f 114.5px,#fde3be 115.5px,#f9f1e6 116.5px,#e7e8f1 117.5px,#d7d8ea 118.5px,#c0bddb 120.5px,#a39bc7 125.5px,#8a7eb3 133.5px,#745ea2 147.5px,#644395 165.5px,#552889 196.5px,#4c1f7b 234px)"></i><i style="background:linear-gradient(90deg,#853e08 0px,#934607 33.5px,#b25706 68.5px,#cb6e0d 88.5px,#e08214 99.5px,#ee9b39 106.5px,#fab35b 110.5px,#fdca88 113.5px,#fed59f 114.5px,#fde4c0 115.5px,#f9f2e9 116.5px,#e8e9f1 117.5px,#cbc9e2 119.5px,#bab5d7 121.5px,#a9a1cb 124.5px,#968bbc 129.5px,#887cb2 134.5px,#725ba1 149.5px,#613d93 171.5px,#572b8a 192.5px,#4c1f7b 234px)"></i><i style="background:linear-gradient(90deg,#853e08 0px,#8f4407 26.5px,#b05606 66.5px,#c4680b 83.5px,#de8013 98.5px,#e68d23 102.5px,#f1a242 107.5px,#f7ac52 109.5px,#fdba68 111.5px,#fdca88 113.5px,#fde4c0 115.5px,#f9f2e9 116.5px,#e8e9f1 117.5px,#cbc9e2 119.5px,#c2bedc 120.5px,#afa8d0 123.5px,#a59dc8 125.5px,#9085b8 131.5px,#7661a4 146.5px,#644395 166.5px,#5a318d 185.5px,#532687 202.5px,#4c1f7b 234px)"></i><i style="background:linear-gradient(90deg,#853e08 0px,#8f4407 26.5px,#a04d07 49.5px,#b25706 67.5px,#c6690c 84.5px,#e08214 98.5px,#e68d23 102.5px,#ef9e3c 106.5px,#fbb55e 110.5px,#fdc278 112.5px,#fed7a2 114.5px,#fde4c0 115.5px,#f9f2e9 116.5px,#e8e9f1 117.5px,#cccbe3 119.5px,#bcb7d8 121.5px,#a59dc8 125.5px,#8e82b6 132.5px,#7d6da9 141.5px,#745ea2 148.5px,#664697 164.5px,#552889 198.5px,#4c1f7b 234px)"></i><i style="background:linear-gradient(90deg,#853e08 0px,#914507 29.5px,#a24e07 51.5px,#b25706 67.5px,#c76b0c 85.5px,#e08214 98.5px,#e58a20 101.5px,#ef9e3c 106.5px,#f8ae55 109.5px,#fdbc6b 111.5px,#fdcc8c 113.5px,#fde5c3 115.5px,#f9f2e9 116.5px,#e8e9f1 117.5px,#cccbe3 119.5px,#bcb7d8 121.5px,#aba3cd 124.5px,#988dbe 129.5px,#8a7eb3 134.5px,#7e70ab 140.5px,#725ba1 150.5px,#634094 170.5px,#572b8a 194.5px,#4c1f7b 234px)"></i><i style="background:linear-gradient(90deg,#853e08 0px,#914507 29.5px,#b25706 67.5px,#cb6e0d 87.5px,#e08214 98.5px,#e78f27 102.5px,#f2a446 107.5px,#fcb761 110.5px,#fdc47b 112.5px,#fecd8f 113.5px,#fed8a6 114.5px,#fde5c3 115.5px,#f9f2e9 116.5px,#e9eaf2 117.5px,#cecde4 119.5px,#bdb9d9 121.5px,#a79fca 125.5px,#9287b9 131.5px,#7b6aa8 143.5px,#745ea2 149.5px,#684998 163.5px,#5c348e 183.5px,#532687 204.5px,#4c1f7b 234px)"></i><i style="background:linear-gradient(90deg,#853e08 0px,#934607 32.5px,#b05606 65.5px,#c4680b 82.5px,#e08214 98.5px,#e78f27 102.5px,#f0a03f 106.5px,#fcb761 110.5px,#fecd8f 113.5px,#fce5c5 115.5px,#f9f2e9 116.5px,#e9eaf2 117.5px,#cecde4 119.5px,#c5c2de 120.5px,#b7b1d5 122.5px,#a39bc7 126.5px,#9085b8 132.5px,#7764a5 146.5px,#6a4c9a 161.5px,#5c348e 184.5px,#532687 205.5px,#4c1f7b 234px)"></i><i style="background:linear-gradient(90deg,#853e08 0px,#8f4407 25.5px,#a04d07 48.5px,#b25706 66.5px,#c6690c 83.5px,#de8013 97.5px,#e9932d 103.5px,#f9b158 109.5px,#fdb965 110.5px,#fdc57f 112.5px,#fecf92 113.5px,#fedaa9 114.5px,#fce5c5 115.5px,#f9f2e9 116.5px,#e9eaf2 117.5px,#dadcec 118.5px,#c6c4df 120.5px,#b3acd2 123.5px,#a9a1cb 125.5px,#9990bf 129.5px,#8c80b5 134.5px,#7661a4 148.5px,#684998 164.5px,#5a318d 188.5px,#532687 205.5px,#4c1f7b 234px)"></i><i style="background:linear-gradient(90deg,#853e08 0px,#8f4407 25.5px,#a24e07 50.5px,#b25706 66.5px,#c96d0d 85.5px,#e08214 97.5px,#e68d23 101.5px,#f3a649 107.5px,#fdb965 110.5px,#fecf92 113.5px,#fedaa9 114.5px,#f8f3ec 116.5px,#eaebf2 117.5px,#cfcfe5 119.5px,#c6c4df 120.5px,#b9b3d6 122.5px,#a9a1cb 125.5px,#9d94c2 128.5px,#8477af 138.5px,#745ea2 150.5px,#664697 167.5px,#572b8a 197.5px,#4d207d 234px)"></i><i style="background:linear-gradient(90deg,#853e08 0px,#914507 28.5px,#b25706 66.5px,#cb6e0d 86.5px,#e08214 97.5px,#e8912a 102.5px,#f1a242 106.5px,#fab35b 109.5px,#fdbf72 111.5px,#fdc782 112.5px,#fedbac 114.5px,#fce6c8 115.5px,#f8f3ec 116.5px,#eaebf2 117.5px,#d1d1e6 119.5px,#c0bddb 121.5px,#afa8d0 124.5px,#9287b9 132.5px,#7d6da9 143.5px,#7661a4 149.5px,#684998 165.5px,#5c348e 186.5px,#532687 207.5px,#4d207d 234px)"></i><i style="background:linear-gradient(90deg,#853e08 0px,#914507 28.5px,#ae5506 62.5px,#c6690c 82.5px,#e08214 97.5px,#ef9e3c 105.5px,#fdba68 110.5px,#fed095 113.5px,#fce6c8 115.5px,#f8f3ec 116.5px,#eaebf2 117.5px,#d1d1e6 119.5px,#c0bddb 121.5px,#aba3cd 125.5px,#9b92c1 129.5px,#8e82b6 134.5px,#8073ac 141.5px,#745ea2 151.5px,#664697 168.5px,#5a318d 190.5px,#532687 208.5px,#4d207d 234px)"></i><i style="background:linear-gradient(90deg,#853e08 0px,#954807 34.5px,#b25706 65.5px,#c76b0c 83.5px,#de8013 96.5px,#e78f27 101.5px,#f4a84c 107.5px,#fdba68 110.5px,#fdc175 111.5px,#fed299 113.5px,#fce7ca 115.5px,#f8f3ec 116.5px,#eaebf2 117.5px,#c8c6e0 120.5px,#b6b0d4 123.5px,#9f96c4 128.5px,#8477af 139.5px,#7661a4 150.5px,#684998 166.5px,#5c348e 187.5px,#532687 208.5px,#4d207d 234px)"></i><i style="background:linear-gradient(90deg,#853e08 0px,#9a4a07 39.5px,#b25706 65.5px,#c96d0d 84.5px,#e08214 96.5px,#e9932d 102.5px,#f2a446 106.5px,#fbb55e 109.5px,#fdc885 112.5px,#fed299 113.5px,#fce7ca 115.5px,#f8f3ec 116.5px,#ebecf3 117.5px,#dddfed 118.5px,#c9c8e1 120.5px,#bcb7d8 122.5px,#ada6ce 125.5px,#9990bf 130.5px,#9287b9 133.5px,#7967a6 147.5px,#6a4c9a 164.5px,#5c348e 188.5px,#532687 209.5px,#4d207d 234px)"></i><i style="background:linear-gradient(90deg,#853e08 0px,#8f4407 24.5px,#b05606 63.5px,#cb6e0d 85.5px,#e08214 96.5px,#ee9b39 104.5px,#f6aa4f 107.5px,#fdbc6b 110.5px,#fdc278 111.5px,#fed39c 113.5px,#fce7ca 115.5px,#f8f3ec 116.5px,#ebecf3 117.5px,#c9c8e1 120.5px,#bcb7d8 122.5px,#9d94c2 129.5px,#9085b8 134.5px,#8073ac 142.5px,#7764a5 149.5px,#684998 167.5px,#5d3790 185.5px,#552889 205.5px,#4d207d 234px)"></i><i style="background:linear-gradient(90deg,#853e08 0px,#914507 27.5px,#ae5506 61.5px,#c6690c 81.5px,#e08214 96.5px,#e8912a 101.5px,#f3a649 106.5px,#fcb761 109.5px,#fdca88 112.5px,#fed39c 113.5px,#fce8cd 115.5px,#f8f3ec 116.5px,#ebecf3 117.5px,#cbc9e2 120.5px,#bdb9d9 122.5px,#a59dc8 127.5px,#8c80b5 136.5px,#7661a4 151.5px,#6a4c9a 165.5px,#5c348e 189.5px,#552889 206.5px,#4d207d 234px)"></i><i style="background:linear-gradient(90deg,#853e08 0px,#954807 33.5px,#b25706 64.5px,#c76b0c 82.5px,#de8013 95.5px,#ea9530 102.5px,#f7ac52 107.5px,#fdbd6e 110.5px,#fdc47b 111.5px,#fed59f 113.5px,#fce8cd 115.5px,#f8f3ec 116.5px,#ebecf3 117.5px,#cbc9e2 120.5px,#c3c0dd 121.5px,#afa8d0 125.5px,#9f96c4 129.5px,#9489bb 133.5px,#8073ac 143.5px,#725ba1 155.5px,#664697 171.5px,#572b8a 202.5px,#4f2280 234px)"></i><i style="background:linear-gradient(90deg,#853e08 0px,#8b4208 16.5px,#9c4b07 41.5px,#b25706 64.5px,#c96d0d 83.5px,#e08214 95.5px,#e9932d 101.5px,#f7ac52 107.5px,#fdb965 109.5px,#fdcc8c 112.5px,#fed59f 113.5px,#fbe9cf 115.5px,#f8f4ee 116.5px,#ededf3 117.5px,#d5d6e9 119.5px,#c5c2de 121.5px,#b9b3d6 123.5px,#a39bc7 128.5px,#9287b9 134.5px,#8275ad 142.5px,#7661a4 152.5px,#684998 169.5px,#5d3790 187.5px,#532687 212.5px,#4f2280 234px)"></i><i style="background:linear-gradient(90deg,#853e08 0px,#9a4a07 38.5px,#b05606 62.5px,#c4680b 79.5px,#e08214 95.5px,#e9932d 101.5px,#f4a84c 106.5px,#fdbf72 110.5px,#fed59f 113.5px,#fbe9cf 115.5px,#f8f4ee 116.5px,#ededf3 117.5px,#d5d6e9 119.5px,#c5c2de 121.5px,#b1aad1 125.5px,#9d94c2 130.5px,#867ab0 140.5px,#7764a5 151.5px,#664697 172.5px,#5a318d 195.5px,#532687 213.5px,#4f2280 234px)"></i><i style="background:linear-gradient(90deg,#853e08 0px,#974907 35.5px,#b45906 65.5px,#c6690c 80.5px,#e08214 95.5px,#ee9b39 103.5px,#f8ae55 107.5px,#fdba68 109.5px,#fecd8f 112.5px,#fbe9cf 115.5px,#f8f4ee 116.5px,#ededf3 117.5px,#d7d8ea 119.5px,#c6c4df 121.5px,#b6b0d4 124.5px,#a198c5 129.5px,#968bbc 133.5px,#8073ac 144.5px,#7661a4 153.5px,#684998 170.5px,#5c348e 192.5px,#552889 209.5px,#4f2280 234px)"></i><i style="background:linear-gradient(90deg,#853e08 0px,#974907 35.5px,#b45906 65.5px,#c96d0d 82.5px,#e08214 95.5px,#ea9530 101.5px,#fbb55e 108.5px,#fdc782 111.5px,#fed7a2 113.5px,#fbead2 115.5px,#f8f4ee 116.5px,#ededf3 117.5px,#d7d8ea 119.5px,#c6c4df 121.5px,#b3acd2 125.5px,#9f96c4 130.5px,#9489bb 134.5px,#8477af 142.5px,#7967a6 150.5px,#6a4c9a 168.5px,#5d3790 189.5px,#552889 210.5px,#4f2280 234px)"></i><i style="background:linear-gradient(90deg,#853e08 0px,#954807 32.5px,#b25706 63.5px,#cb6e0d 83.5px,#e08214 94.5px,#e3881d 97.5px,#ed9936 102.5px,#f3a649 105.5px,#fdbc6b 109.5px,#fecf92 112.5px,#fbead2 115.5px,#f8f4ee 116.5px,#ededf3 117.5px,#c8c6e0 121.5px,#b7b1d5 124.5px,#a39bc7 129.5px,#9085b8 136.5px,#8073ac 146.5px,#7b6aa8 149.5px,#6d529c 164.5px,#613d93 183.5px,#552889 211.5px,#4f2280 234px)"></i><i style="background:linear-gradient(90deg,#853e08 0px,#9a4a07 37.5px,#ae5506 59.5px,#c6690c 79.5px,#e08214 94.5px,#e9932d 100.5px,#f7ac52 106.5px,#fdbc6b 109.5px,#fdc885 111.5px,#fed8a6 113.5px,#fbead2 115.5px,#f8f4ee 116.5px,#eeeef3 117.5px,#d8daeb 119.5px,#c8c6e0 121.5px,#a79fca 128.5px,#968bbc 134.5px,#8275ad 144.5px,#7967a6 151.5px,#6b4f9b 167.5px,#5f3a91 187.5px,#532687 216.5px,#4f2280 234px)"></i><i style="background:linear-gradient(90deg,#853e08 0px,#9a4a07 37.5px,#b45906 64.5px,#c76b0c 80.5px,#e08214 94.5px,#eb9733 101.5px,#f7ac52 106.5px,#fdb965 108.5px,#fdc278 110.5px,#fdc885 111.5px,#fedaa9 113.5px,#f8f4ee 116.5px,#eeeef3 117.5px,#d1d1e6 120.5px,#bdb9d9 123.5px,#b4aed3 125.5px,#9b92c1 132.5px,#8477af 143.5px,#6d529c 165.5px,#634094 181.5px,#552889 212.5px,#502382 234px)"></i><i style="background:linear-gradient(90deg,#853e08 0px,#974907 34.5px,#b25706 62.5px,#c96d0d 81.5px,#de8013 93.5px,#e58a20 97.5px,#ee9b39 102.5px,#fdb965 108.5px,#fdca88 111.5px,#fedaa9 113.5px,#f8f4ee 116.5px,#eeeef3 117.5px,#c9c8e1 121.5px,#b1aad1 126.5px,#a59dc8 129.5px,#9085b8 137.5px,#8073ac 146.5px,#6b4f9b 168.5px,#613d93 185.5px,#552889 213.5px,#502382 234px)"></i><i style="background:linear-gradient(90deg,#853e08 0px,#954807 31.5px,#b05606 60.5px,#c4680b 77.5px,#e08214 93.5px,#e3881d 96.5px,#ea9530 100.5px,#f8ae55 106.5px,#fbb55e 107.5px,#fdc47b 110.5px,#fdca88 111.5px,#fde4c0 114.5px,#fbebd5 115.5px,#f8f4ee 116.5px,#eeeef3 117.5px,#cbc9e2 121.5px,#b6b0d4 125.5px,#988dbe 134.5px,#8477af 144.5px,#6f559e 164.5px,#5f3a91 189.5px,#552889 214.5px,#502382 234px)"></i><i style="background:linear-gradient(90deg,#853e08 0px,#934607 28.5px,#ae5506 58.5px,#c6690c 78.5px,#e08214 93.5px,#ed9936 101.5px,#fbb55e 107.5px,#fdbf72 109.5px,#fdcc8c 111.5px,#fedbac 113.5px,#f8f4ee 116.5px,#eeeef3 117.5px,#cbc9e2 121.5px,#b3acd2 126.5px,#a79fca 129.5px,#9489bb 136.5px,#8073ac 147.5px,#6d529c 167.5px,#684998 177.5px,#644395 180.5px,#572b8a 210.5px,#502382 234px)"></i><i style="background:linear-gradient(90deg,#853e08 0px,#9a4a07 36.5px,#b45906 63.5px,#c96d0d 80.5px,#e08214 93.5px,#e9932d 99.5px,#f9b158 106.5px,#fcb761 107.5px,#fdcc8c 111.5px,#fde5c3 114.5px,#f8f4ee 116.5px,#eff0f4 117.5px,#cccbe3 121.5px,#b7b1d5 125.5px,#9b92c1 133.5px,#8275ad 146.5px,#70589f 163.5px,#613d93 187.5px,#552889 216.5px,#502382 234px)"></i><i style="background:linear-gradient(90deg,#853e08 0px,#974907 33.5px,#b25706 61.5px,#cb6e0d 81.5px,#de8013 92.5px,#e58a20 96.5px,#eb9733 100.5px,#fcb761 107.5px,#fdc175 109.5px,#fecd8f 111.5px,#fde5c3 114.5px,#faecd7 115.5px,#f8f5f1 116.5px,#eff0f4 117.5px,#dcddec 119.5px,#c6c4df 122.5px,#b4aed3 126.5px,#a59dc8 130.5px,#988dbe 135.5px,#8073ac 148.5px,#6d529c 168.5px,#613d93 188.5px,#552889 217.5px,#502382 234px)"></i><i style="background:linear-gradient(90deg,#853e08 0px,#974907 33.5px,#ae5506 57.5px,#c6690c 77.5px,#e08214 92.5px,#e3881d 95.5px,#ea9530 99.5px,#f4a84c 104.5px,#fab35b 106.5px,#fdc782 110.5px,#fecd8f 111.5px,#fde5c3 114.5px,#faecd7 115.5px,#f8f5f1 116.5px,#eff0f4 117.5px,#dcddec 119.5px,#cecde4 121.5px,#b9b3d6 125.5px,#9d94c2 133.5px,#8275ad 147.5px,#7661a4 158.5px,#6b4f9b 171.5px,#5f3a91 192.5px,#532687 222.5px,#502382 234px)"></i><i style="background:linear-gradient(90deg,#853e08 0px,#954807 30.5px,#b45906 62.5px,#c76b0c 78.5px,#e08214 92.5px,#ed9936 100.5px,#fdb965 107.5px,#fdc278 109.5px,#fecf92 111.5px,#fce5c5 114.5px,#f8f5f1 116.5px,#eff0f4 117.5px,#cecde4 121.5px,#b6b0d4 126.5px,#9b92c1 134.5px,#8477af 146.5px,#6f559e 167.5px,#634094 186.5px,#552889 218.5px,#522584 234px)"></i><i style="background:linear-gradient(90deg,#874008 0px,#8d4307 17.5px,#9a4a07 35.5px,#b25706 60.5px,#cb6e0d 80.5px,#e08214 92.5px,#ef9e3c 101.5px,#fbb55e 106.5px,#fdc885 110.5px,#fecf92 111.5px,#fce5c5 114.5px,#f8f5f1 116.5px,#eff0f4 117.5px,#cfcfe5 121.5px,#c3c0dd 123.5px,#afa8d0 128.5px,#988dbe 136.5px,#8275ad 148.5px,#6d529c 170.5px,#634094 187.5px,#552889 219.5px,#522584 234px)"></i><i style="background:linear-gradient(90deg,#874008 0px,#894108 9.5px,#974907 32.5px,#b05606 58.5px,#cd700e 81.5px,#e08214 91.5px,#eb9733 99.5px,#fbb55e 106.5px,#fdc47b 109.5px,#fed095 111.5px,#faedda 115.5px,#f8f5f1 116.5px,#eff0f4 117.5px,#cfcfe5 121.5px,#b7b1d5 126.5px,#9d94c2 134.5px,#8477af 147.5px,#70589f 166.5px,#613d93 191.5px,#552889 220.5px,#522584 234px)"></i><i style="background:linear-gradient(90deg,#874008 0px,#894108 9.5px,#974907 32.5px,#ae5506 56.5px,#c76b0c 77.5px,#e08214 91.5px,#ee9b39 100.5px,#f9b158 105.5px,#fcb761 106.5px,#fdca88 110.5px,#fed095 111.5px,#fce6c8 114.5px,#f8f5f1 116.5px,#f0f1f4 117.5px,#dee0ed 119.5px,#c5c2de 123.5px,#ada6ce 129.5px,#9b92c1 135.5px,#8275ad 149.5px,#6f559e 169.5px,#6a4c9a 179.5px,#664697 182.5px,#572b8a 216.5px,#522584 234px)"></i><i style="background:linear-gradient(90deg,#874008 0px,#954807 29.5px,#b25706 59.5px,#c96d0d 78.5px,#e08214 91.5px,#ed9936 99.5px,#fcb761 106.5px,#fdc57f 109.5px,#fed299 111.5px,#fce6c8 114.5px,#f8f5f1 116.5px,#f0f1f4 117.5px,#cbc9e2 122.5px,#b9b3d6 126.5px,#a79fca 131.5px,#988dbe 137.5px,#8477af 148.5px,#725ba1 165.5px,#634094 189.5px,#572b8a 217.5px,#522584 234px)"></i><i style="background:linear-gradient(90deg,#874008 0px,#934607 26.5px,#b05606 57.5px,#c6690c 75.5px,#de8013 90.5px,#e9932d 97.5px,#fab35b 105.5px,#fdcc8c 110.5px,#fed299 111.5px,#fce7ca 114.5px,#f8f5f1 116.5px,#f0f1f4 117.5px,#d8daeb 120.5px,#c6c4df 123.5px,#b6b0d4 127.5px,#9f96c4 134.5px,#867ab0 147.5px,#70589f 168.5px,#634094 190.5px,#572b8a 218.5px,#522584 234px)"></i><i style="background:linear-gradient(90deg,#874008 0px,#974907 31.5px,#b45906 60.5px,#c76b0c 76.5px,#e08214 90.5px,#eb9733 98.5px,#f6aa4f 103.5px,#fdb965 106.5px,#fdc782 109.5px,#fed39c 111.5px,#fce7ca 114.5px,#f8f5f1 116.5px,#f0f1f4 117.5px,#dfe1ee 119.5px,#cccbe3 122.5px,#bab5d7 126.5px,#a9a1cb 131.5px,#9b92c1 136.5px,#8477af 149.5px,#6f559e 171.5px,#634094 191.5px,#582e8c 214.5px,#532687 234px)"></i><i style="background:linear-gradient(90deg,#874008 0px,#974907 31.5px,#b45906 60.5px,#c96d0d 77.5px,#e08214 90.5px,#ee9b39 99.5px,#fbb55e 105.5px,#fecd8f 110.5px,#fde2bb 113.5px,#f8f5f1 116.5px,#f0f1f4 117.5px,#d9dbeb 120.5px,#c8c6e0 123.5px,#b7b1d5 127.5px,#988dbe 138.5px,#867ab0 148.5px,#725ba1 167.5px,#664697 185.5px,#582e8c 215.5px,#532687 234px)"></i><i style="background:linear-gradient(90deg,#874008 0px,#954807 28.5px,#b25706 58.5px,#c4680b 73.5px,#e08214 90.5px,#e68d23 94.5px,#f2a446 101.5px,#fdba68 106.5px,#fdc885 109.5px,#fed59f 111.5px,#fce8cd 114.5px,#f8f5f1 116.5px,#f0f1f4 117.5px,#cecde4 122.5px,#bcb7d8 126.5px,#aba3cd 131.5px,#9f96c4 135.5px,#8477af 150.5px,#70589f 170.5px,#644395 189.5px,#582e8c 216.5px,#532687 234px)"></i><i style="background:linear-gradient(90deg,#874008 0px,#934607 25.5px,#b05606 56.5px,#c76b0c 75.5px,#e08214 89.5px,#e58a20 93.5px,#ef9e3c 99.5px,#fcb761 105.5px,#fecf92 110.5px,#fce8cd 114.5px,#f8f5f1 116.5px,#f0f1f4 117.5px,#c9c8e1 123.5px,#b9b3d6 127.5px,#9b92c1 137.5px,#867ab0 149.5px,#745ea2 166.5px,#644395 190.5px,#582e8c 217.5px,#532687 234px)"></i><i style="background:linear-gradient(90deg,#874008 0px,#974907 30.5px,#b45906 59.5px,#c96d0d 76.5px,#e08214 89.5px,#eb9733 97.5px,#fab35b 104.5px,#fdbc6b 106.5px,#fdca88 109.5px,#fed7a2 111.5px,#f8f5f1 116.5px,#f2f2f5 117.5px,#cfcfe5 122.5px,#bdb9d9 126.5px,#ada6ce 131.5px,#a198c5 135.5px,#8477af 151.5px,#725ba1 169.5px,#634094 194.5px,#532687 234px)"></i><i style="background:linear-gradient(90deg,#874008 0px,#974907 30.5px,#b25706 57.5px,#cb6e0d 77.5px,#e08214 89.5px,#ee9b39 98.5px,#fdb965 105.5px,#fed095 110.5px,#fde4c0 113.5px,#f8f5f1 116.5px,#f2f2f5 117.5px,#e2e3ef 119.5px,#cbc9e2 123.5px,#bab5d7 127.5px,#9d94c2 137.5px,#867ab0 150.5px,#70589f 172.5px,#634094 195.5px,#582e8c 219.5px,#552889 234px)"></i><i style="background:linear-gradient(90deg,#874008 0px,#954807 27.5px,#b05606 55.5px,#c6690c 73.5px,#de8013 88.5px,#ed9936 97.5px,#fbb55e 104.5px,#fdcc8c 109.5px,#fee0b6 112.5px,#fbe9cf 114.5px,#f8f5f1 116.5px,#f2f2f5 117.5px,#d1d1e6 122.5px,#bfbbda 126.5px,#a39bc7 135.5px,#988dbe 140.5px,#8477af 152.5px,#745ea2 168.5px,#664697 189.5px,#5c348e 211.5px,#552889 234px)"></i><i style="background:linear-gradient(90deg,#874008 0px,#934607 24.5px,#b45906 58.5px,#c96d0d 75.5px,#e08214 88.5px,#e3881d 91.5px,#ef9e3c 98.5px,#fdba68 105.5px,#fecd8f 109.5px,#fde5c3 113.5px,#f7f6f3 116.5px,#f2f2f5 117.5px,#cccbe3 123.5px,#b3acd2 130.5px,#a198c5 136.5px,#867ab0 151.5px,#8073ac 157.5px,#7d6da9 159.5px,#725ba1 171.5px,#664697 190.5px,#5c348e 212.5px,#552889 234px)"></i><i style="background:linear-gradient(90deg,#874008 0px,#974907 29.5px,#b25706 56.5px,#cb6e0d 76.5px,#e08214 88.5px,#e78f27 93.5px,#f1a242 99.5px,#fcb761 104.5px,#fecd8f 109.5px,#fbead2 114.5px,#f7f6f3 116.5px,#f2f2f5 117.5px,#d2d3e7 122.5px,#c0bddb 126.5px,#b1aad1 131.5px,#9b92c1 139.5px,#8477af 153.5px,#70589f 174.5px,#644395 194.5px,#552889 234px)"></i><i style="background:linear-gradient(90deg,#874008 0px,#974907 29.5px,#b05606 54.5px,#c6690c 72.5px,#de8013 87.5px,#e68d23 92.5px,#f0a03f 98.5px,#fdbc6b 105.5px,#fecf92 109.5px,#fbead2 114.5px,#f7f6f3 116.5px,#f2f2f5 117.5px,#cecde4 123.5px,#bdb9d9 127.5px,#a39bc7 136.5px,#8c80b5 148.5px,#7e70ab 160.5px,#7b6aa8 162.5px,#6d529c 180.5px,#613d93 202.5px,#552889 234px)"></i><i style="background:linear-gradient(90deg,#874008 0px,#954807 26.5px,#b45906 57.5px,#c96d0d 74.5px,#e08214 87.5px,#ed9936 96.5px,#fdb965 104.5px,#fecf92 109.5px,#fce5c5 113.5px,#f7f6f3 116.5px,#f2f2f5 117.5px,#dee0ed 120.5px,#c2bedc 126.5px,#9f96c4 138.5px,#8a7eb3 150.5px,#7e70ab 159.5px,#6f559e 178.5px,#644395 196.5px,#5a318d 219.5px,#572b8a 234px)"></i><i style="background:linear-gradient(90deg,#874008 0px,#9a4a07 31.5px,#b25706 55.5px,#cb6e0d 75.5px,#e08214 87.5px,#ef9e3c 97.5px,#fcb761 103.5px,#fdbd6e 105.5px,#fed095 109.5px,#fbebd5 114.5px,#f7f6f3 116.5px,#f2f2f5 117.5px,#cfcfe5 123.5px,#b6b0d4 130.5px,#a59dc8 136.5px,#887cb2 152.5px,#725ba1 174.5px,#644395 197.5px,#5a318d 220.5px,#572b8a 234px)"></i><i style="background:linear-gradient(90deg,#874008 0px,#914507 20.5px,#b05606 53.5px,#c6690c 71.5px,#e08214 87.5px,#ee9b39 96.5px,#fdba68 104.5px,#fdc278 106.5px,#fed7a2 110.5px,#fbebd5 114.5px,#f7f6f3 116.5px,#f2f2f5 117.5px,#dfe1ee 120.5px,#c3c0dd 126.5px,#a198c5 138.5px,#8a7eb3 151.5px,#7e70ab 162.5px,#7b6aa8 164.5px,#6a4c9a 188.5px,#5a318d 221.5px,#572b8a 234px)"></i><i style="background:linear-gradient(90deg,#874008 0px,#974907 28.5px,#b45906 56.5px,#c96d0d 73.5px,#e08214 86.5px,#e58a20 90.5px,#f0a03f 97.5px,#fdb965 103.5px,#fdbf72 105.5px,#fed299 109.5px,#f7f6f3 116.5px,#f3f3f5 117.5px,#d1d1e6 123.5px,#b7b1d5 130.5px,#9990bf 142.5px,#887cb2 153.5px,#7e70ab 161.5px,#6b4f9b 186.5px,#634094 202.5px,#572b8a 234px)"></i><i style="background:linear-gradient(90deg,#874008 0px,#954807 25.5px,#b25706 54.5px,#c4680b 69.5px,#e08214 86.5px,#ef9e3c 96.5px,#fdbc6b 104.5px,#fecd8f 108.5px,#fde3be 112.5px,#f7f6f3 116.5px,#f3f3f5 117.5px,#e1e2ee 120.5px,#c5c2de 126.5px,#b6b0d4 131.5px,#a39bc7 138.5px,#867ab0 155.5px,#6d529c 184.5px,#634094 203.5px,#572b8a 234px)"></i><i style="background:linear-gradient(90deg,#874008 0px,#9a4a07 30.5px,#b05606 52.5px,#c0640a 66.5px,#e08214 86.5px,#f1a242 97.5px,#fcb761 102.5px,#fdc175 105.5px,#fed39c 109.5px,#fee0b6 111.5px,#fce7ca 113.5px,#f7f6f3 116.5px,#f3f3f5 117.5px,#d2d3e7 123.5px,#bfbbda 128.5px,#9d94c2 141.5px,#8e82b6 150.5px,#7e70ab 164.5px,#7b6aa8 166.5px,#6d529c 185.5px,#5c348e 220.5px,#582e8c 234px)"></i><i style="background:linear-gradient(90deg,#874008 0px,#974907 27.5px,#b45906 55.5px,#c96d0d 72.5px,#e08214 85.5px,#e58a20 89.5px,#f3a649 98.5px,#fdba68 103.5px,#fecf92 108.5px,#fee0b6 111.5px,#f7f6f3 116.5px,#f3f3f5 117.5px,#d8daeb 122.5px,#c3c0dd 127.5px,#a79fca 137.5px,#8c80b5 152.5px,#7e70ab 163.5px,#6f559e 183.5px,#634094 205.5px,#582e8c 234px)"></i><i style="background:linear-gradient(90deg,#874008 0px,#974907 27.5px,#b25706 53.5px,#cd700e 74.5px,#e08214 85.5px,#e8912a 91.5px,#f2a446 97.5px,#fdb965 102.5px,#fdbf72 104.5px,#fed59f 109.5px,#fee1b9 111.5px,#fce8cd 113.5px,#f7f6f3 116.5px,#f3f3f5 117.5px,#d4d4e8 123.5px,#bdb9d9 129.5px,#a198c5 140.5px,#8a7eb3 154.5px,#8073ac 162.5px,#6f559e 184.5px,#634094 206.5px,#582e8c 234px)"></i><i style="background:linear-gradient(90deg,#874008 0px,#954807 24.5px,#b05606 51.5px,#c76b0c 70.5px,#de8013 84.5px,#ea9530 92.5px,#f4a84c 98.5px,#fdbc6b 103.5px,#fed095 108.5px,#fce8cd 113.5px,#f7f6f3 116.5px,#f3f3f5 117.5px,#cccbe3 125.5px,#b9b3d6 131.5px,#a9a1cb 137.5px,#8c80b5 153.5px,#70589f 182.5px,#634094 207.5px,#582e8c 234px)"></i><i style="background:linear-gradient(90deg,#874008 0px,#934607 21.5px,#b05606 51.5px,#c96d0d 71.5px,#e08214 84.5px,#ee9b39 94.5px,#fcb761 101.5px,#fdc175 104.5px,#fed7a2 109.5px,#f7f6f3 116.5px,#f3f3f5 117.5px,#d1d1e6 124.5px,#b7b1d5 132.5px,#a39bc7 140.5px,#9085b8 151.5px,#7e70ab 165.5px,#70589f 183.5px,#634094 208.5px,#5a318d 229.5px,#5a318d 234px)"></i><i style="background:linear-gradient(90deg,#874008 0px,#974907 26.5px,#b25706 52.5px,#cd700e 73.5px,#e08214 84.5px,#f0a03f 95.5px,#fcb761 101.5px,#fdbd6e 103.5px,#feddaf 110.5px,#f7f6f3 116.5px,#f3f3f5 117.5px,#cecde4 125.5px,#bab5d7 131.5px,#a9a1cb 138.5px,#8e82b6 153.5px,#8073ac 164.5px,#70589f 184.5px,#634094 209.5px,#5a318d 234px)"></i><i style="background:linear-gradient(90deg,#894108 0px,#954807 23.5px,#b05606 50.5px,#c76b0c 69.5px,#de8013 83.5px,#e68d23 88.5px,#ef9e3c 94.5px,#fdb965 101.5px,#fdc278 104.5px,#fed8a6 109.5px,#f7f6f3 116.5px,#f3f3f5 117.5px,#d2d3e7 124.5px,#b9b3d6 132.5px,#a59dc8 140.5px,#8c80b5 155.5px,#7764a5 175.5px,#6b4f9b 193.5px,#5d3790 222.5px,#5a318d 234px)"></i><i style="background:linear-gradient(90deg,#894108 0px,#954807 23.5px,#b05606 50.5px,#cb6e0d 71.5px,#e08214 83.5px,#e58a20 87.5px,#f1a242 95.5px,#fdb965 101.5px,#fdbf72 103.5px,#fedeb3 110.5px,#f7f6f3 116.5px,#f3f3f5 117.5px,#d8daeb 123.5px,#bfbbda 130.5px,#aba3cd 138.5px,#8e82b6 154.5px,#8073ac 166.5px,#6d529c 191.5px,#5a318d 234px)"></i><i style="background:linear-gradient(90deg,#894108 0px,#934607 20.5px,#b25706 51.5px,#c6690c 67.5px,#e08214 83.5px,#f0a03f 94.5px,#fcb761 100.5px,#fdc47b 104.5px,#fedaa9 109.5px,#f7f6f3 116.5px,#f3f3f5 117.5px,#d4d4e8 124.5px,#bab5d7 132.5px,#a79fca 140.5px,#9287b9 152.5px,#7e70ab 168.5px,#6d529c 192.5px,#5a318d 234px)"></i><i style="background:linear-gradient(90deg,#894108 0px,#974907 25.5px,#b05606 49.5px,#c96d0d 69.5px,#e08214 82.5px,#e68d23 87.5px,#ef9e3c 93.5px,#f8ae55 98.5px,#fdbd6e 102.5px,#fdc885 105.5px,#fee0b6 110.5px,#fbead2 113.5px,#f7f6f3 116.5px,#f4f4f6 117.5px,#d1d1e6 125.5px,#c0bddb 130.5px,#ada6ce 138.5px,#9085b8 154.5px,#8073ac 167.5px,#6f559e 190.5px,#634094 213.5px,#5c348e 234px)"></i><i style="background:linear-gradient(90deg,#894108 0px,#954807 22.5px,#b45906 52.5px,#cb6e0d 70.5px,#e08214 82.5px,#f1a242 94.5px,#fdb965 100.5px,#fdc57f 104.5px,#fed299 107.5px,#fee1b9 110.5px,#f7f6f3 116.5px,#f4f4f6 117.5px,#d5d6e9 124.5px,#bcb7d8 132.5px,#9b92c1 147.5px,#8e82b6 156.5px,#8073ac 168.5px,#6f559e 191.5px,#634094 214.5px,#5c348e 234px)"></i><i style="background:linear-gradient(90deg,#894108 0px,#954807 22.5px,#b25706 50.5px,#c76b0c 67.5px,#e08214 82.5px,#e8912a 88.5px,#f3a649 95.5px,#fdb965 100.5px,#fdbf72 102.5px,#fdca88 105.5px,#fee1b9 110.5px,#f7f6f3 116.5px,#f4f4f6 117.5px,#e5e7f0 120.5px,#c5c2de 129.5px,#afa8d0 138.5px,#9287b9 154.5px,#8073ac 169.5px,#6f559e 192.5px,#613d93 219.5px,#5c348e 234px)"></i><i style="background:linear-gradient(90deg,#894108 0px,#934607 19.5px,#b05606 48.5px,#c96d0d 68.5px,#e08214 81.5px,#e68d23 86.5px,#ef9e3c 92.5px,#fcb761 99.5px,#fdc47b 103.5px,#fed39c 107.5px,#fde2bb 110.5px,#fbebd5 113.5px,#f7f6f3 116.5px,#f4f4f6 117.5px,#cfcfe5 126.5px,#c0bddb 131.5px,#a9a1cb 141.5px,#9489bb 153.5px,#8073ac 170.5px,#6f559e 193.5px,#5c348e 234px)"></i><i style="background:linear-gradient(90deg,#894108 0px,#974907 24.5px,#b45906 51.5px,#cd700e 70.5px,#e08214 81.5px,#ee9b39 91.5px,#fcb761 99.5px,#fed095 106.5px,#fedeb3 109.5px,#f7f6f3 116.5px,#f4f4f6 117.5px,#d8daeb 124.5px,#bfbbda 132.5px,#9990bf 150.5px,#8e82b6 158.5px,#7d6da9 174.5px,#6b4f9b 200.5px,#5d3790 234px)"></i><i style="background:linear-gradient(90deg,#894108 0px,#9a4a07 26.5px,#b25706 49.5px,#c76b0c 66.5px,#de8013 80.5px,#e78f27 86.5px,#f0a03f 92.5px,#fbb55e 98.5px,#fdc57f 103.5px,#fed59f 107.5px,#fde3be 110.5px,#fce8cd 112.5px,#f7f6f3 116.5px,#f4f4f6 117.5px,#d1d1e6 126.5px,#c2bedc 131.5px,#aba3cd 141.5px,#968bbc 153.5px,#8073ac 171.5px,#70589f 192.5px,#664697 211.5px,#5d3790 234px)"></i><i style="background:linear-gradient(90deg,#894108 0px,#974907 23.5px,#b05606 47.5px,#cb6e0d 68.5px,#e08214 80.5px,#ef9e3c 91.5px,#fcb761 98.5px,#fdca88 104.5px,#fee0b6 109.5px,#f7f6f3 116.5px,#f4f4f6 117.5px,#d9dbeb 124.5px,#c0bddb 132.5px,#b1aad1 139.5px,#9489bb 155.5px,#8073ac 172.5px,#70589f 193.5px,#5d3790 234px)"></i><i style="background:linear-gradient(90deg,#894108 0px,#974907 23.5px,#b45906 50.5px,#c6690c 64.5px,#e08214 80.5px,#e9932d 87.5px,#f4a84c 94.5px,#fcb761 98.5px,#fdc782 103.5px,#fee0b6 109.5px,#f7f6f3 116.5px,#f0f1f4 118.5px,#c3c0dd 131.5px,#a198c5 147.5px,#887cb2 165.5px,#6d529c 200.5px,#5f3a91 229.5px,#5f3a91 234px)"></i><i style="background:linear-gradient(90deg,#894108 0px,#9a4a07 25.5px,#b25706 48.5px,#c96d0d 66.5px,#e08214 79.5px,#e78f27 85.5px,#f9b158 96.5px,#fdb965 98.5px,#fdcc8c 104.5px,#fee1b9 109.5px,#f7f6f3 116.5px,#f4f4f6 117.5px,#dadcec 124.5px,#c2bedc 132.5px,#9d94c2 150.5px,#8a7eb3 164.5px,#8073ac 175.5px,#7967a6 182.5px,#6d529c 201.5px,#6d529c 204.5px,#613d93 226.5px,#5f3a91 234px)"></i><i style="background:linear-gradient(90deg,#894108 0px,#9a4a07 25.5px,#b05606 46.5px,#c4680b 62.5px,#e08214 79.5px,#ea9530 87.5px,#fdb965 98.5px,#fed095 105.5px,#fee1b9 109.5px,#f7f6f3 116.5px,#f4f4f6 117.5px,#d8daeb 125.5px,#c0bddb 133.5px,#a59dc8 146.5px,#9085b8 160.5px,#8073ac 176.5px,#7967a6 183.5px,#725ba1 196.5px,#6f559e 199.5px,#5f3a91 234px)"></i><i style="background:linear-gradient(90deg,#894108 0px,#974907 22.5px,#b45906 49.5px,#c76b0c 64.5px,#e08214 79.5px,#f1a242 91.5px,#fab35b 96.5px,#fed59f 106.5px,#fde2bb 109.5px,#f7f6f3 116.5px,#f4f4f6 117.5px,#dcddec 124.5px,#c3c0dd 132.5px,#9f96c4 150.5px,#8c80b5 164.5px,#8073ac 177.5px,#7661a4 189.5px,#6a4c9a 210.5px,#5f3a91 234px)"></i><i style="background:linear-gradient(90deg,#894108 0px,#974907 22.5px,#b25706 47.5px,#cb6e0d 66.5px,#e08214 78.5px,#eb9733 87.5px,#f9b158 95.5px,#fdb965 97.5px,#fdbd6e 99.5px,#fed299 105.5px,#fedbac 107.5px,#fbead2 112.5px,#f7f7f6 116.5px,#d9dbeb 125.5px,#c2bedc 133.5px,#9b92c1 153.5px,#8e82b6 163.5px,#7e70ab 178.5px,#6a4c9a 211.5px,#613d93 234px)"></i><i style="background:linear-gradient(90deg,#894108 0px,#9a4a07 24.5px,#b05606 45.5px,#c6690c 62.5px,#e08214 78.5px,#ee9b39 88.5px,#fdb965 97.5px,#fdcc8c 103.5px,#fee0b6 108.5px,#f7f7f6 116.5px,#d7d8ea 126.5px,#c0bddb 134.5px,#a198c5 150.5px,#8e82b6 164.5px,#7e70ab 181.5px,#7661a4 191.5px,#664697 219.5px,#613d93 234px)"></i><i style="background:linear-gradient(90deg,#894108 0px,#9c4b07 26.5px,#b25706 46.5px,#c96d0d 64.5px,#e08214 77.5px,#ed9936 87.5px,#fab35b 95.5px,#fed095 104.5px,#feddaf 107.5px,#f7f7f6 116.5px,#cecde4 129.5px,#bdb9d9 136.5px,#9d94c2 153.5px,#9085b8 163.5px,#7e70ab 182.5px,#7661a4 192.5px,#613d93 234px)"></i><i style="background:linear-gradient(90deg,#894108 0px,#974907 21.5px,#b25706 46.5px,#cd700e 66.5px,#e08214 77.5px,#ef9e3c 88.5px,#fdba68 97.5px,#fecd8f 103.5px,#fee1b9 108.5px,#fce5c5 110.5px,#f7f7f6 116.5px,#dddfed 124.5px,#bcb7d8 137.5px,#a59dc8 149.5px,#9085b8 164.5px,#7e70ab 183.5px,#7661a4 193.5px,#684998 218.5px,#634094 234px)"></i><i style="background:linear-gradient(90deg,#8b4208 0px,#8d4307 7.5px,#9a4a07 23.5px,#b05606 44.5px,#c76b0c 62.5px,#e08214 77.5px,#ee9b39 87.5px,#fdb965 96.5px,#fed299 104.5px,#fedeb3 107.5px,#f7f7f6 116.5px,#cfcfe5 129.5px,#bfbbda 136.5px,#a198c5 152.5px,#9287b9 163.5px,#7e70ab 184.5px,#7967a6 189.5px,#684998 219.5px,#634094 234px)"></i><i style="background:linear-gradient(90deg,#8b4208 0px,#954807 18.5px,#b25706 45.5px,#cb6e0d 64.5px,#e08214 76.5px,#e68d23 81.5px,#f0a03f 88.5px,#fcb761 95.5px,#fdbf72 98.5px,#fdcc8c 102.5px,#fde2bb 108.5px,#f7f7f6 116.5px,#d9dbeb 126.5px,#c2bedc 135.5px,#a79fca 149.5px,#8e82b6 167.5px,#7e70ab 185.5px,#7967a6 190.5px,#6d529c 210.5px,#634094 234px)"></i><i style="background:linear-gradient(90deg,#8b4208 0px,#974907 20.5px,#b05606 43.5px,#c6690c 60.5px,#e08214 76.5px,#f2a446 89.5px,#fdba68 96.5px,#fed39c 104.5px,#fee0b6 107.5px,#fbe9cf 111.5px,#f7f7f6 116.5px,#d9dbeb 126.5px,#c0bddb 136.5px,#a39bc7 152.5px,#9489bb 163.5px,#7e70ab 186.5px,#7967a6 191.5px,#634094 234px)"></i><i style="background:linear-gradient(90deg,#8b4208 0px,#9a4a07 22.5px,#b45906 46.5px,#c96d0d 62.5px,#e08214 75.5px,#ed9936 85.5px,#fdb965 95.5px,#fdc57f 99.5px,#fdc782 100.5px,#fee0b6 107.5px,#f7f7f6 116.5px,#d8daeb 127.5px,#c3c0dd 135.5px,#a198c5 154.5px,#9085b8 167.5px,#7e70ab 187.5px,#7967a6 192.5px,#6b4f9b 216.5px,#644395 234px)"></i><i style="background:linear-gradient(90deg,#8b4208 0px,#954807 17.5px,#b25706 44.5px,#c4680b 58.5px,#e08214 75.5px,#f3a649 89.5px,#fbb55e 93.5px,#fdbf72 97.5px,#fed299 103.5px,#fee1b9 107.5px,#fce7ca 110.5px,#f7f7f6 116.5px,#d8daeb 127.5px,#c6c4df 134.5px,#a79fca 151.5px,#968bbc 163.5px,#7e70ab 186.5px,#6b4f9b 217.5px,#644395 234px)"></i><i style="background:linear-gradient(90deg,#8b4208 0px,#9e4c07 26.5px,#b45906 45.5px,#c76b0c 60.5px,#e08214 74.5px,#ee9b39 85.5px,#fdba68 95.5px,#fedaa9 105.5px,#fedeb3 106.5px,#f7f7f6 116.5px,#d9dbeb 127.5px,#c9c8e1 133.5px,#a39bc7 154.5px,#9287b9 167.5px,#7e70ab 189.5px,#7764a5 197.5px,#644395 234px)"></i><i style="background:linear-gradient(90deg,#8b4208 0px,#974907 19.5px,#b25706 43.5px,#cd700e 63.5px,#e08214 74.5px,#eb9733 83.5px,#fdb965 94.5px,#fed39c 103.5px,#fde2bb 107.5px,#fce5c5 109.5px,#f7f7f6 116.5px,#d9dbeb 127.5px,#c2bedc 137.5px,#a198c5 156.5px,#9287b9 168.5px,#7e70ab 190.5px,#7764a5 198.5px,#6a4c9a 223.5px,#664697 234px)"></i><i style="background:linear-gradient(90deg,#8b4208 0px,#9a4a07 21.5px,#b45906 44.5px,#c76b0c 59.5px,#e08214 74.5px,#e2861a 75.5px,#e9932d 81.5px,#fcb761 93.5px,#fdbf72 96.5px,#fedbac 105.5px,#fee0b6 106.5px,#fde4c0 108.5px,#f7f7f6 116.5px,#d8daeb 128.5px,#c5c2de 136.5px,#a79fca 153.5px,#988dbe 164.5px,#7e70ab 189.5px,#6f559e 214.5px,#664697 234px)"></i><i style="background:linear-gradient(90deg,#8b4208 0px,#9e4c07 25.5px,#b45906 44.5px,#cb6e0d 61.5px,#e08214 73.5px,#f1a242 86.5px,#fbb55e 92.5px,#fdc885 99.5px,#fee0b6 106.5px,#f7f7f6 116.5px,#d7d8ea 129.5px,#c2bedc 138.5px,#a59dc8 155.5px,#9489bb 168.5px,#7e70ab 190.5px,#70589f 212.5px,#664697 234px)"></i><i style="background:linear-gradient(90deg,#8b4208 0px,#974907 18.5px,#b25706 42.5px,#c6690c 57.5px,#e08214 73.5px,#ef9e3c 84.5px,#fab35b 91.5px,#fdc47b 97.5px,#fee1b9 106.5px,#fbebd5 111.5px,#f7f7f6 116.5px,#d9dbeb 128.5px,#c6c4df 136.5px,#aba3cd 152.5px,#9990bf 164.5px,#8073ac 189.5px,#6d529c 220.5px,#684998 234px)"></i><i style="background:linear-gradient(90deg,#8b4208 0px,#9a4a07 20.5px,#b45906 43.5px,#c96d0d 59.5px,#e08214 72.5px,#ed9936 82.5px,#f9b158 90.5px,#fdb965 92.5px,#fdbf72 95.5px,#fedeb3 105.5px,#f7f7f6 116.5px,#d8daeb 129.5px,#c3c0dd 138.5px,#a79fca 155.5px,#9990bf 165.5px,#8073ac 190.5px,#6f559e 218.5px,#684998 234px)"></i><i style="background:linear-gradient(90deg,#8b4208 0px,#9e4c07 24.5px,#b25706 41.5px,#c4680b 55.5px,#e08214 72.5px,#f0a03f 84.5px,#fcb761 91.5px,#fdbd6e 94.5px,#fdc885 98.5px,#fde2bb 106.5px,#f7f7f6 116.5px,#d8daeb 129.5px,#bfbbda 141.5px,#968bbc 169.5px,#8073ac 193.5px,#7d6da9 196.5px,#6b4f9b 226.5px,#6a4c9a 234px)"></i><i style="background:linear-gradient(90deg,#8b4208 0px,#974907 17.5px,#b25706 41.5px,#c76b0c 57.5px,#e08214 71.5px,#ee9b39 82.5px,#fdbc6b 93.5px,#fee0b6 105.5px,#f7f7f6 116.5px,#d7d8ea 130.5px,#cbc9e2 135.5px,#aba3cd 154.5px,#9b92c1 165.5px,#8a7eb3 181.5px,#8073ac 194.5px,#7d6da9 197.5px,#725ba1 214.5px,#6a4c9a 234px)"></i><i style="background:linear-gradient(90deg,#8b4208 0px,#9a4a07 19.5px,#b45906 42.5px,#cd700e 60.5px,#e08214 71.5px,#eb9733 80.5px,#fdba68 92.5px,#fecd8f 99.5px,#fee0b6 105.5px,#f7f7f6 116.5px,#d9dbeb 129.5px,#c8c6e0 137.5px,#a9a1cb 156.5px,#9b92c1 166.5px,#8275ad 191.5px,#6a4c9a 234px)"></i><i style="background:linear-gradient(90deg,#8d4307 0px,#954807 14.5px,#b25706 40.5px,#c76b0c 56.5px,#e08214 70.5px,#e8912a 77.5px,#fdb965 91.5px,#fdc885 97.5px,#fedeb3 104.5px,#f7f7f6 116.5px,#d8daeb 130.5px,#c5c2de 139.5px,#a79fca 158.5px,#988dbe 170.5px,#7e70ab 197.5px,#70589f 220.5px,#6b4f9b 234px)"></i><i style="background:linear-gradient(90deg,#8d4307 0px,#974907 16.5px,#b45906 41.5px,#cd700e 59.5px,#e08214 70.5px,#eb9733 79.5px,#fcb761 90.5px,#fed299 100.5px,#fee1b9 105.5px,#f7f7f6 116.5px,#d8daeb 130.5px,#c8c6e0 138.5px,#9d94c2 166.5px,#7e70ab 198.5px,#6b4f9b 234px)"></i><i style="background:linear-gradient(90deg,#8d4307 0px,#9a4a07 18.5px,#b25706 39.5px,#c6690c 54.5px,#e08214 69.5px,#e9932d 77.5px,#fdb965 90.5px,#fecd8f 98.5px,#fee0b6 104.5px,#f7f7f6 116.5px,#d9dbeb 130.5px,#c5c2de 140.5px,#9d94c2 167.5px,#8073ac 197.5px,#6b4f9b 234px)"></i><i style="background:linear-gradient(90deg,#8d4307 0px,#954807 13.5px,#b45906 40.5px,#cb6e0d 57.5px,#e08214 69.5px,#f1a242 82.5px,#fdba68 90.5px,#fdc885 96.5px,#fee0b6 104.5px,#f7f7f6 116.5px,#d8daeb 131.5px,#c9c8e1 138.5px,#a9a1cb 159.5px,#988dbe 173.5px,#8073ac 198.5px,#70589f 224.5px,#6d529c 234px)"></i><i style="background:linear-gradient(90deg,#8d4307 0px,#974907 15.5px,#b45906 40.5px,#de8013 68.5px,#e9932d 76.5px,#f8ae55 86.5px,#fdb965 89.5px,#fecf92 98.5px,#fee1b9 104.5px,#f7f7f6 116.5px,#dadcec 130.5px,#c5c2de 141.5px,#a9a1cb 160.5px,#988dbe 174.5px,#7e70ab 202.5px,#6d529c 234px)"></i><i style="background:linear-gradient(90deg,#8d4307 0px,#9a4a07 17.5px,#b25706 38.5px,#cb6e0d 56.5px,#e08214 68.5px,#ed9936 78.5px,#fdb965 89.5px,#fee1b9 104.5px,#f7f7f6 116.5px,#d9dbeb 131.5px,#cbc9e2 138.5px,#b4aed3 153.5px,#9990bf 173.5px,#7e70ab 203.5px,#70589f 227.5px,#6f559e 234px)"></i><i style="background:linear-gradient(90deg,#8d4307 0px,#954807 12.5px,#b45906 39.5px,#de8013 67.5px,#e9932d 75.5px,#f4a84c 83.5px,#fdb965 88.5px,#fdc47b 93.5px,#fed39c 99.5px,#fee0b6 103.5px,#f7f7f6 116.5px,#d8daeb 132.5px,#c5c2de 142.5px,#9990bf 174.5px,#8073ac 202.5px,#6f559e 234px)"></i><i style="background:linear-gradient(90deg,#8d4307 0px,#974907 14.5px,#b25706 37.5px,#c96d0d 54.5px,#e08214 67.5px,#ed9936 77.5px,#fdb965 88.5px,#fdc782 94.5px,#fee0b6 103.5px,#f7f7f6 116.5px,#dadcec 131.5px,#cbc9e2 139.5px,#b7b1d5 152.5px,#9990bf 175.5px,#8073ac 203.5px,#6f559e 234px)"></i><i style="background:linear-gradient(90deg,#8d4307 0px,#9a4a07 16.5px,#b45906 38.5px,#e08214 67.5px,#e2861a 68.5px,#f0a03f 79.5px,#fdba68 88.5px,#fdc57f 93.5px,#fee1b9 103.5px,#f7f7f6 116.5px,#d9dbeb 132.5px,#d1d1e6 136.5px,#b6b0d4 154.5px,#9990bf 176.5px,#7e70ab 207.5px,#70589f 234px)"></i><i style="background:linear-gradient(90deg,#8d4307 0px,#954807 11.5px,#b05606 35.5px,#c96d0d 53.5px,#e08214 66.5px,#ed9936 76.5px,#fdb965 87.5px,#fdcc8c 95.5px,#feddaf 101.5px,#f7f7f6 116.5px,#d8daeb 133.5px,#cccbe3 139.5px,#bcb7d8 150.5px,#9990bf 177.5px,#8275ad 203.5px,#8073ac 208.5px,#7d6da9 211.5px,#70589f 234px)"></i><i style="background:linear-gradient(90deg,#8d4307 0px,#974907 13.5px,#b25706 36.5px,#e08214 66.5px,#e2861a 67.5px,#f0a03f 78.5px,#fdba68 87.5px,#fdca88 94.5px,#fee0b6 102.5px,#f7f7f6 116.5px,#d2d3e7 136.5px,#b9b3d6 153.5px,#9f96c4 173.5px,#8073ac 207.5px,#725ba1 234px)"></i><i style="background:linear-gradient(90deg,#8f4407 0px,#9c4b07 17.5px,#b45906 37.5px,#e08214 65.5px,#ed9936 75.5px,#fdb965 86.5px,#fecd8f 95.5px,#fedeb3 101.5px,#f7f7f6 116.5px,#d9dbeb 133.5px,#cccbe3 140.5px,#bfbbda 149.5px,#9f96c4 174.5px,#8477af 203.5px,#725ba1 234px)"></i><i style="background:linear-gradient(90deg,#8f4407 0px,#954807 10.5px,#b25706 35.5px,#e08214 65.5px,#e2861a 66.5px,#ea9530 73.5px,#fdb965 86.5px,#fdcc8c 94.5px,#fee1b9 102.5px,#f7f7f6 116.5px,#d8daeb 134.5px,#bcb7d8 152.5px,#9f96c4 175.5px,#8275ad 207.5px,#8073ac 212.5px,#7661a4 227.5px,#745ea2 234px)"></i><i style="background:linear-gradient(90deg,#8f4407 0px,#974907 12.5px,#b45906 36.5px,#c76b0c 50.5px,#e08214 64.5px,#ed9936 74.5px,#fdb965 85.5px,#fdca88 93.5px,#fee1b9 102.5px,#f7f7f6 116.5px,#dadcec 133.5px,#c3c0dd 147.5px,#9f96c4 176.5px,#867ab0 203.5px,#745ea2 234px)"></i><i style="background:linear-gradient(90deg,#8f4407 0px,#934607 7.5px,#b25706 34.5px,#de8013 63.5px,#e9932d 71.5px,#fdb965 85.5px,#fee0b6 101.5px,#f7f7f6 116.5px,#d8daeb 135.5px,#bfbbda 151.5px,#9f96c4 177.5px,#8477af 207.5px,#8275ad 212.5px,#7661a4 230.5px,#7661a4 234px)"></i><i style="background:linear-gradient(90deg,#8f4407 0px,#a24e07 21.5px,#b45906 35.5px,#c76b0c 49.5px,#e08214 63.5px,#ed9936 73.5px,#f8ae55 81.5px,#fdb965 84.5px,#fdbc6b 86.5px,#fedeb3 100.5px,#f7f7f6 116.5px,#d8daeb 135.5px,#c8c6e0 145.5px,#9f96c4 178.5px,#8275ad 211.5px,#7661a4 234px)"></i><i style="background:linear-gradient(90deg,#8f4407 0px,#a04d07 19.5px,#b25706 33.5px,#c2660b 45.5px,#e08214 62.5px,#e9932d 70.5px,#fdb965 84.5px,#fee1b9 101.5px,#f7f7f6 116.5px,#dadcec 134.5px,#c2bedc 150.5px,#9f96c4 179.5px,#867ab0 207.5px,#8073ac 217.5px,#7661a4 234px)"></i><i style="background:linear-gradient(90deg,#8f4407 0px,#a44f07 22.5px,#b45906 34.5px,#c76b0c 48.5px,#e08214 62.5px,#ed9936 72.5px,#fdba68 84.5px,#fdc278 88.5px,#fee0b6 100.5px,#f7f7f6 116.5px,#d8daeb 136.5px,#cbc9e2 144.5px,#9f96c4 180.5px,#8477af 211.5px,#7764a5 234px)"></i><i style="background:linear-gradient(90deg,#8f4407 0px,#a24e07 20.5px,#b05606 31.5px,#c2660b 44.5px,#e08214 61.5px,#e9932d 69.5px,#fdb965 83.5px,#fdca88 91.5px,#fedeb3 99.5px,#f7f7f6 116.5px,#d8daeb 136.5px,#c5c2de 149.5px,#9d94c2 183.5px,#8275ad 215.5px,#7764a5 234px)"></i><i style="background:linear-gradient(90deg,#8f4407 0px,#9c4b07 14.5px,#b25706 32.5px,#c76b0c 47.5px,#e08214 61.5px,#ed9936 71.5px,#fdba68 83.5px,#fecd8f 92.5px,#fee1b9 100.5px,#f7f7f6 116.5px,#d8daeb 137.5px,#cecde4 143.5px,#a79fca 175.5px,#8a7eb3 206.5px,#7967a6 234px)"></i><i style="background:linear-gradient(90deg,#914507 0px,#934607 5.5px,#b05606 30.5px,#c2660b 43.5px,#e08214 60.5px,#e9932d 68.5px,#fdb965 82.5px,#fdc175 86.5px,#fed299 93.5px,#fed59f 95.5px,#fee0b6 99.5px,#f7f7f6 116.5px,#d8daeb 137.5px,#c8c6e0 148.5px,#a79fca 176.5px,#8c80b5 205.5px,#8073ac 223.5px,#7967a6 234px)"></i><i style="background:linear-gradient(90deg,#914507 0px,#a04d07 17.5px,#b25706 31.5px,#e08214 60.5px,#ed9936 70.5px,#fdba68 82.5px,#fdc885 89.5px,#fee0b6 99.5px,#f7f7f6 116.5px,#dcddec 135.5px,#c5c2de 151.5px,#a59dc8 179.5px,#867ab0 214.5px,#7b6aa8 234px)"></i><i style="background:linear-gradient(90deg,#914507 0px,#a44f07 20.5px,#b45906 32.5px,#e08214 59.5px,#e8912a 66.5px,#fdb965 81.5px,#fde2bb 100.5px,#f7f7f6 116.5px,#d8daeb 138.5px,#c9c8e1 148.5px,#a59dc8 180.5px,#9085b8 203.5px,#7b6aa8 234px)"></i><i style="background:linear-gradient(90deg,#914507 0px,#a04d07 16.5px,#b25706 30.5px,#e08214 59.5px,#f2a446 73.5px,#fdba68 81.5px,#fdc47b 86.5px,#fee1b9 99.5px,#f9f2e9 112.5px,#f6f6f7 117.5px,#d8daeb 138.5px,#c6c4df 151.5px,#a59dc8 181.5px,#8c80b5 209.5px,#7d6da9 234px)"></i><i style="background:linear-gradient(90deg,#914507 0px,#9c4b07 12.5px,#b45906 31.5px,#e08214 58.5px,#ef9e3c 70.5px,#fdb965 80.5px,#fecd8f 90.5px,#fee0b6 98.5px,#f9f2e9 112.5px,#f6f6f7 117.5px,#d8daeb 139.5px,#c5c2de 153.5px,#a39bc7 184.5px,#8a7eb3 213.5px,#7d6da9 234px)"></i><i style="background:linear-gradient(90deg,#914507 0px,#a24e07 17.5px,#b25706 29.5px,#e08214 58.5px,#e2861a 59.5px,#f2a446 72.5px,#fdba68 80.5px,#fed095 91.5px,#fde2bb 99.5px,#f7f6f3 115.5px,#f6f6f7 117.5px,#d1d1e6 144.5px,#ada6ce 176.5px,#9489bb 202.5px,#7e70ab 234px)"></i><i style="background:linear-gradient(90deg,#914507 0px,#9e4c07 13.5px,#b45906 30.5px,#e08214 57.5px,#ee9b39 68.5px,#fdb965 79.5px,#fee1b9 98.5px,#f8f5f1 114.5px,#f6f6f7 117.5px,#d8daeb 140.5px,#c6c4df 153.5px,#ada6ce 177.5px,#968bbc 201.5px,#7e70ab 234px)"></i><i style="background:linear-gradient(90deg,#914507 0px,#a24e07 16.5px,#b25706 28.5px,#de8013 56.5px,#ea9530 65.5px,#fdba68 79.5px,#fdc57f 85.5px,#fee0b6 97.5px,#f8f5f1 114.5px,#f6f6f7 117.5px,#d8daeb 140.5px,#cbc9e2 150.5px,#ada6ce 178.5px,#8e82b6 212.5px,#8073ac 234px)"></i><i style="background:linear-gradient(90deg,#934607 0px,#a04d07 14.5px,#b45906 29.5px,#e08214 56.5px,#ee9b39 67.5px,#fdb965 78.5px,#fde2bb 98.5px,#f8f5f1 114.5px,#f6f6f7 117.5px,#d8daeb 141.5px,#cecde4 148.5px,#aba3cd 181.5px,#9489bb 206.5px,#8073ac 234px)"></i><i style="background:linear-gradient(90deg,#934607 0px,#9c4b07 10.5px,#b25706 27.5px,#d0730f 47.5px,#e08214 55.5px,#f1a242 69.5px,#fdba68 78.5px,#fdbf72 81.5px,#fee1b9 97.5px,#f8f5f1 114.5px,#f6f6f7 117.5px,#d8daeb 141.5px,#cccbe3 150.5px,#aba3cd 182.5px,#968bbc 205.5px,#8275ad 234px)"></i><i style="background:linear-gradient(90deg,#934607 0px,#a04d07 13.5px,#b45906 28.5px,#e08214 55.5px,#ed9936 65.5px,#fdb965 77.5px,#fed095 89.5px,#fee0b6 96.5px,#f8f4ee 113.5px,#f6f6f7 117.5px,#d7d8ea 143.5px,#cfcfe5 148.5px,#a9a1cb 185.5px,#988dbe 204.5px,#8275ad 234px)"></i><i style="background:linear-gradient(90deg,#934607 0px,#9e4c07 11.5px,#b25706 26.5px,#e08214 54.5px,#f0a03f 67.5px,#fdba68 77.5px,#fecd8f 87.5px,#feddaf 94.5px,#f8f4ee 113.5px,#f6f6f7 117.5px,#d8daeb 142.5px,#bcb7d8 167.5px,#9990bf 203.5px,#8477af 234px)"></i><i style="background:linear-gradient(90deg,#934607 0px,#a24e07 14.5px,#b45906 27.5px,#e08214 54.5px,#e2861a 55.5px,#eb9733 63.5px,#fdb965 76.5px,#fee1b9 96.5px,#f8f4ee 113.5px,#f6f6f7 117.5px,#d7d8ea 144.5px,#b9b3d6 171.5px,#9b92c1 202.5px,#8477af 234px)"></i><i style="background:linear-gradient(90deg,#934607 0px,#b25706 25.5px,#e08214 53.5px,#ef9e3c 65.5px,#fdba68 76.5px,#fdc782 83.5px,#fee0b6 95.5px,#f8f3ec 112.5px,#f6f6f7 117.5px,#d8daeb 143.5px,#bdb9d9 167.5px,#9d94c2 201.5px,#867ab0 234px)"></i><i style="background:linear-gradient(90deg,#954807 0px,#9a4a07 6.5px,#b45906 26.5px,#c96d0d 40.5px,#e08214 52.5px,#ea9530 61.5px,#fdb965 75.5px,#fde3be 97.5px,#f8f3ec 112.5px,#f6f6f7 117.5px,#d7d8ea 145.5px,#cccbe3 153.5px,#a198c5 198.5px,#8e82b6 222.5px,#887cb2 234px)"></i><i style="background:linear-gradient(90deg,#954807 0px,#a04d07 11.5px,#b25706 24.5px,#e08214 52.5px,#f6aa4f 69.5px,#fdb965 74.5px,#fdbf72 78.5px,#fde2bb 96.5px,#f9f2e9 111.5px,#f6f6f7 117.5px,#d8daeb 144.5px,#c2bedc 164.5px,#9b92c1 206.5px,#887cb2 234px)"></i><i style="background:linear-gradient(90deg,#954807 0px,#9c4b07 7.5px,#b45906 25.5px,#e08214 51.5px,#e8912a 58.5px,#ea9530 59.5px,#f1a242 65.5px,#fdb965 74.5px,#fee0b6 94.5px,#f9f1e6 110.5px,#f6f6f7 117.5px,#d7d8ea 146.5px,#bfbbda 168.5px,#988dbe 212.5px,#8a7eb3 234px)"></i><i style="background:linear-gradient(90deg,#954807 0px,#a04d07 10.5px,#b25706 23.5px,#e08214 51.5px,#f4a84c 67.5px,#fdb965 73.5px,#fde4c0 97.5px,#f9f0e4 109.5px,#f6f6f7 117.5px,#d8daeb 145.5px,#c3c0dd 164.5px,#9f96c4 204.5px,#8a7eb3 234px)"></i><i style="background:linear-gradient(90deg,#954807 0px,#b45906 24.5px,#e08214 50.5px,#fdb965 73.5px,#fde2bb 95.5px,#f9efe1 108.5px,#f6f6f7 117.5px,#d7d8ea 147.5px,#c0bddb 168.5px,#9b92c1 210.5px,#8c80b5 234px)"></i><i style="background:linear-gradient(90deg,#974907 0px,#a04d07 9.5px,#b25706 22.5px,#c6690c 35.5px,#e08214 49.5px,#ea9530 58.5px,#fdb965 72.5px,#fee0b6 93.5px,#faeedc 106.5px,#f6f6f7 117.5px,#d9dbeb 145.5px,#c5c2de 164.5px,#a39bc7 202.5px,#8c80b5 234px)"></i><i style="background:linear-gradient(90deg,#974907 0px,#9e4c07 7.5px,#b65a07 24.5px,#e08214 49.5px,#fdb965 72.5px,#fed095 84.5px,#fde4c0 96.5px,#f6f6f7 117.5px,#d7d8ea 148.5px,#c2bedc 168.5px,#b3acd2 188.5px,#9990bf 215.5px,#8e82b6 234px)"></i><i style="background:linear-gradient(90deg,#974907 0px,#b25706 21.5px,#e08214 48.5px,#e8912a 55.5px,#ea9530 56.5px,#f1a242 62.5px,#fdb965 71.5px,#fde2bb 94.5px,#f6f6f7 117.5px,#d9dbeb 146.5px,#c6c4df 164.5px,#9f96c4 209.5px,#8e82b6 234px)"></i><i style="background:linear-gradient(90deg,#974907 0px,#b65a07 23.5px,#e08214 48.5px,#e2861a 49.5px,#fdb965 71.5px,#fdbc6b 72.5px,#fee0b6 92.5px,#f6f6f7 117.5px,#d7d8ea 149.5px,#c3c0dd 168.5px,#a198c5 208.5px,#9085b8 234px)"></i><i style="background:linear-gradient(90deg,#974907 0px,#b25706 20.5px,#e08214 47.5px,#fdb965 70.5px,#fed7a2 87.5px,#fedaa9 88.5px,#fde5c3 96.5px,#f6f6f7 117.5px,#d8daeb 148.5px,#c3c0dd 169.5px,#9d94c2 214.5px,#9085b8 234px)"></i><i style="background:linear-gradient(90deg,#9a4a07 0px,#9e4c07 5.5px,#b75c07 23.5px,#e08214 46.5px,#f3a649 62.5px,#f6aa4f 63.5px,#fcb761 69.5px,#fdba68 70.5px,#fde2bb 93.5px,#f6f6f7 117.5px,#dadcec 146.5px,#c5c2de 168.5px,#a39bc7 208.5px,#9287b9 234px)"></i><i style="background:linear-gradient(90deg,#9a4a07 0px,#b45906 20.5px,#e08214 46.5px,#fdb965 69.5px,#fee0b6 91.5px,#f9f0e4 108.5px,#f6f6f7 117.5px,#d8daeb 149.5px,#c0bddb 174.5px,#9287b9 234px)"></i><i style="background:linear-gradient(90deg,#9a4a07 0px,#b25706 18.5px,#e08214 45.5px,#fbb55e 67.5px,#fdb965 68.5px,#fee0b6 91.5px,#f8f3ec 111.5px,#f6f6f7 117.5px,#dadcec 147.5px,#c2bedc 173.5px,#a198c5 213.5px,#9489bb 234px)"></i><i style="background:linear-gradient(90deg,#9a4a07 0px,#b45906 19.5px,#e08214 44.5px,#eb9733 54.5px,#ee9b39 55.5px,#fdb965 68.5px,#fee1b9 91.5px,#f8f4ee 112.5px,#f6f6f7 117.5px,#d7d8ea 152.5px,#c3c0dd 172.5px,#9489bb 234px)"></i><i style="background:linear-gradient(90deg,#9c4b07 0px,#b25706 17.5px,#e08214 44.5px,#fdb965 67.5px,#fee0b6 90.5px,#f8f5f1 113.5px,#f6f6f7 117.5px,#d8daeb 151.5px,#c5c2de 171.5px,#9b92c1 223.5px,#968bbc 234px)"></i><i style="background:linear-gradient(90deg,#9c4b07 0px,#b65a07 19.5px,#e08214 43.5px,#fdb965 67.5px,#fdbd6e 69.5px,#fdcc8c 78.5px,#fecf92 79.5px,#fee0b6 90.5px,#f8f5f1 113.5px,#f6f6f7 117.5px,#d7d8ea 153.5px,#c6c4df 170.5px,#968bbc 234px)"></i><i style="background:linear-gradient(90deg,#9c4b07 0px,#b25706 16.5px,#e08214 42.5px,#ed9936 53.5px,#ef9e3c 54.5px,#fdb965 66.5px,#feddaf 88.5px,#fee0b6 89.5px,#f8f5f1 113.5px,#f6f6f7 117.5px,#d8daeb 152.5px,#c8c6e0 169.5px,#b1aad1 201.5px,#9990bf 228.5px,#988dbe 234px)"></i><i style="background:linear-gradient(90deg,#9c4b07 0px,#b75c07 19.5px,#e08214 42.5px,#fdb965 66.5px,#fdbc6b 67.5px,#fee0b6 89.5px,#f7f6f3 114.5px,#f6f6f7 117.5px,#d8daeb 152.5px,#bfbbda 181.5px,#988dbe 234px)"></i><i style="background:linear-gradient(90deg,#9e4c07 0px,#b45906 16.5px,#e08214 41.5px,#fdb965 65.5px,#fee0b6 89.5px,#faeedf 105.5px,#f6f6f7 117.5px,#d8daeb 153.5px,#c3c0dd 176.5px,#9990bf 234px)"></i><i style="background:linear-gradient(90deg,#9e4c07 0px,#b25706 14.5px,#de8013 40.5px,#fbb55e 63.5px,#fdb965 64.5px,#fee0b6 88.5px,#f9efe1 106.5px,#f6f6f7 117.5px,#d8daeb 153.5px,#c6c4df 173.5px,#9990bf 234px)"></i><i style="background:linear-gradient(90deg,#9e4c07 0px,#b65a07 16.5px,#e08214 40.5px,#fdb965 64.5px,#fee0b6 88.5px,#f9f0e4 107.5px,#f6f6f7 117.5px,#d8daeb 154.5px,#c9c8e1 170.5px,#b1aad1 205.5px,#9990bf 234px)"></i><i style="background:linear-gradient(90deg,#a04d07 0px,#b25706 13.5px,#e08214 39.5px,#fdb965 63.5px,#fee0b6 88.5px,#f9f1e6 108.5px,#f6f6f7 117.5px,#d8daeb 154.5px,#b9b3d6 193.5px,#9b92c1 234px)"></i><i style="background:linear-gradient(90deg,#a04d07 0px,#bb5f08 18.5px,#e08214 38.5px,#fdb965 63.5px,#fdbf72 67.5px,#fdc278 68.5px,#fee0b6 87.5px,#f9f1e6 108.5px,#f6f6f7 117.5px,#d8daeb 155.5px,#b7b1d5 196.5px,#9b92c1 234px)"></i><i style="background:linear-gradient(90deg,#a04d07 0px,#b65a07 14.5px,#e08214 38.5px,#fdb965 62.5px,#fee0b6 87.5px,#f9f2e9 109.5px,#f6f6f7 117.5px,#d8daeb 155.5px,#c0bddb 184.5px,#9d94c2 234px)"></i><i style="background:linear-gradient(90deg,#a24e07 0px,#b25706 11.5px,#e08214 37.5px,#fcb761 61.5px,#fdbd6e 64.5px,#fedaa9 82.5px,#faeedc 103.5px,#f6f6f7 117.5px,#d8daeb 156.5px,#bdb9d9 189.5px,#9d94c2 234px)"></i><i style="background:linear-gradient(90deg,#a24e07 0px,#b95e08 15.5px,#e08214 36.5px,#fcb761 60.5px,#fee0b6 86.5px,#f8f3ec 110.5px,#f6f6f7 117.5px,#d8daeb 156.5px,#bcb7d8 192.5px,#b1aad1 210.5px,#9d94c2 234px)"></i><i style="background:linear-gradient(90deg,#a44f07 0px,#b45906 11.5px,#e08214 36.5px,#e68d23 40.5px,#fab35b 58.5px,#fcb761 59.5px,#fed39c 77.5px,#fed39c 78.5px,#fde4c0 90.5px,#f8f3ec 110.5px,#f6f6f7 117.5px,#d8daeb 157.5px,#c8c6e0 176.5px,#9f96c4 234px)"></i><i style="background:linear-gradient(90deg,#a44f07 0px,#b45906 10.5px,#e08214 35.5px,#fdb965 60.5px,#feddaf 83.5px,#f7f7f6 115.5px,#d8daeb 157.5px,#c2bedc 185.5px,#b1aad1 212.5px,#9f96c4 234px)"></i><i style="background:linear-gradient(90deg,#a44f07 0px,#b95e08 13.5px,#e08214 34.5px,#fdb965 59.5px,#fee0b6 85.5px,#f7f7f6 115.5px,#d8daeb 158.5px,#bfbbda 190.5px,#a198c5 234px)"></i><i style="background:linear-gradient(90deg,#a65107 0px,#b45906 9.5px,#e08214 34.5px,#e3881d 36.5px,#fdb965 59.5px,#fed8a6 79.5px,#fed8a6 80.5px,#fee0b6 85.5px,#f7f7f6 115.5px,#d8daeb 158.5px,#c8c6e0 178.5px,#a198c5 234px)"></i><i style="background:linear-gradient(90deg,#a65107 0px,#b45906 8.5px,#e08214 33.5px,#fdb965 58.5px,#fedeb3 83.5px,#f7f7f6 115.5px,#d9dbeb 157.5px,#a198c5 234px)"></i><i style="background:linear-gradient(90deg,#a85206 0px,#bd6109 13.5px,#e08214 32.5px,#fdb965 58.5px,#fed59f 76.5px,#fed59f 77.5px,#fee1b9 85.5px,#f7f7f6 115.5px,#d8daeb 159.5px,#c0bddb 190.5px,#b1aad1 215.5px,#a198c5 234px)"></i><i style="background:linear-gradient(90deg,#a85206 0px,#b45906 7.5px,#e08214 31.5px,#fdb965 57.5px,#fdcc8c 69.5px,#fdcc8c 70.5px,#fedaa9 79.5px,#fedaa9 80.5px,#fde3be 87.5px,#f7f7f6 115.5px,#d8daeb 159.5px,#c6c4df 182.5px,#a39bc7 234px)"></i><i style="background:linear-gradient(90deg,#aa5306 0px,#b45906 6.5px,#e08214 31.5px,#fdb965 56.5px,#fedeb3 82.5px,#f7f7f6 115.5px,#d8daeb 160.5px,#c2bedc 189.5px,#a39bc7 234px)"></i><i style="background:linear-gradient(90deg,#ac5406 0px,#b45906 5.5px,#e08214 30.5px,#fdb965 56.5px,#fdca88 67.5px,#fdca88 68.5px,#fee1b9 84.5px,#f7f7f6 115.5px,#d8daeb 160.5px,#c8c6e0 181.5px,#b3acd2 215.5px,#a39bc7 234px)"></i><i style="background:linear-gradient(90deg,#ac5406 0px,#b75c07 7.5px,#e08214 29.5px,#fdb965 55.5px,#fed095 71.5px,#fed095 72.5px,#fedbac 79.5px,#fde2bb 85.5px,#f7f7f6 115.5px,#d8daeb 161.5px,#c3c0dd 188.5px,#a59dc8 234px)"></i><i style="background:linear-gradient(90deg,#ae5506 0px,#b45906 4.5px,#e08214 29.5px,#e3881d 31.5px,#fdb965 55.5px,#fdca88 66.5px,#fdca88 67.5px,#fedeb3 81.5px,#f7f7f6 115.5px,#d8daeb 161.5px,#a59dc8 234px)"></i><i style="background:linear-gradient(90deg,#ae5506 0px,#e08214 28.5px,#fdb965 54.5px,#fee0b6 82.5px,#f7f7f6 115.5px,#d9dbeb 160.5px,#a59dc8 234px)"></i><i style="background:linear-gradient(90deg,#b05606 0px,#e08214 27.5px,#fcb761 52.5px,#fde2bb 84.5px,#f7f7f6 115.5px,#d8daeb 162.5px,#a59dc8 234px)"></i><i style="background:linear-gradient(90deg,#b25706 0px,#b75c07 4.5px,#e08214 26.5px,#fcb761 52.5px,#fedeb3 80.5px,#f7f7f6 115.5px,#d8daeb 162.5px,#a59dc8 234px)"></i><i style="background:linear-gradient(90deg,#b25706 0px,#e08214 26.5px,#fcb761 51.5px,#fee0b6 81.5px,#f7f7f6 115.5px,#d8daeb 163.5px,#c8c6e0 184.5px,#b3acd2 218.5px,#a59dc8 234px)"></i><i style="background:linear-gradient(90deg,#b45906 0px,#e08214 25.5px,#fab35b 48.5px,#fdb965 52.5px,#fecd8f 66.5px,#fecd8f 67.5px,#fee1b9 82.5px,#f7f7f6 115.5px,#d8daeb 163.5px,#a79fca 234px)"></i><i style="background:linear-gradient(90deg,#b65a07 0px,#e08214 24.5px,#fdb965 51.5px,#fedeb3 79.5px,#f7f7f6 115.5px,#d8daeb 163.5px,#a79fca 234px)"></i><i style="background:linear-gradient(90deg,#b75c07 0px,#e08214 23.5px,#fcb761 49.5px,#fcb761 50.5px,#fdc47b 58.5px,#fdc47b 59.5px,#fee0b6 80.5px,#f7f7f6 115.5px,#d8daeb 164.5px,#a79fca 234px)"></i><i style="background:linear-gradient(90deg,#b75c07 0px,#e18417 24.5px,#fdb965 50.5px,#fee1b9 81.5px,#f7f7f6 115.5px,#d8daeb 164.5px,#a79fca 234px)"></i><i style="background:linear-gradient(90deg,#b95e08 0px,#e08214 22.5px,#fdb965 49.5px,#fdb965 50.5px,#fdc47b 57.5px,#fdc47b 58.5px,#fedeb3 78.5px,#f7f7f6 115.5px,#d8daeb 164.5px,#a79fca 234px)"></i><i style="background:linear-gradient(90deg,#bb5f08 0px,#e08214 21.5px,#ef9e3c 34.5px,#ef9e3c 35.5px,#fdb965 49.5px,#fee0b6 79.5px,#f7f7f6 115.5px,#d7d8ea 167.5px,#a79fca 234px)"></i><i style="background:linear-gradient(90deg,#bd6109 0px,#e08214 20.5px,#fdb965 48.5px,#fee0b6 79.5px,#f7f7f6 115.5px,#d8daeb 165.5px,#a79fca 234px)"></i><i style="background:linear-gradient(90deg,#be630a 0px,#e08214 19.5px,#f3a649 37.5px,#f3a649 38.5px,#fdb965 48.5px,#fdc782 58.5px,#fee1b9 80.5px,#f7f7f6 115.5px,#d8daeb 165.5px,#a79fca 234px)"></i><i style="background:linear-gradient(90deg,#c0640a 0px,#e08214 19.5px,#f0a03f 33.5px,#f0a03f 34.5px,#fdb965 47.5px,#fedeb3 77.5px,#f7f7f6 115.5px,#d8daeb 165.5px,#a79fca 234px)"></i><i style="background:linear-gradient(90deg,#c2660b 0px,#e08214 18.5px,#ed9936 29.5px,#ed9936 30.5px,#fcb761 45.5px,#fcb761 46.5px,#fdc782 57.5px,#fee0b6 78.5px,#f7f7f6 115.5px,#d7d8ea 168.5px,#a79fca 234px)"></i><i style="background:linear-gradient(90deg,#c2660b 0px,#e08214 17.5px,#f3a649 35.5px,#f3a649 36.5px,#fdb965 46.5px,#fee1b9 79.5px,#f7f7f6 115.5px,#d8daeb 166.5px,#b1aad1 222.5px,#a59dc8 234px)"></i><i style="background:linear-gradient(90deg,#c4680b 0px,#e08214 16.5px,#fdb965 45.5px,#fdb965 46.5px,#fdc57f 55.5px,#fedeb3 76.5px,#f7f7f6 115.5px,#d8daeb 166.5px,#b3acd2 219.5px,#a59dc8 234px)"></i><i style="background:linear-gradient(90deg,#c6690c 0px,#e08214 15.5px,#fdb965 45.5px,#fee0b6 77.5px,#f7f7f6 115.5px,#d8daeb 166.5px,#b3acd2 219.5px,#a59dc8 234px)"></i><i style="background:linear-gradient(90deg,#c76b0c 0px,#e18417 16.5px,#eb9733 25.5px,#eb9733 26.5px,#fdb965 44.5px,#fee0b6 77.5px,#f7f7f6 115.5px,#d8daeb 166.5px,#b3acd2 219.5px,#a59dc8 234px)"></i><i style="background:linear-gradient(90deg,#c96d0d 0px,#e08214 14.5px,#e9932d 22.5px,#e9932d 23.5px,#fcb761 42.5px,#fee1b9 78.5px,#f7f7f6 115.5px,#d8daeb 166.5px,#a59dc8 234px)"></i><i style="background:linear-gradient(90deg,#cb6e0d 0px,#e08214 13.5px,#e8912a 20.5px,#e8912a 21.5px,#ef9e3c 27.5px,#ef9e3c 28.5px,#fdb965 43.5px,#fedeb3 75.5px,#f7f7f6 115.5px,#d8daeb 167.5px,#b3acd2 218.5px,#a39bc7 234px)"></i><i style="background:linear-gradient(90deg,#cd700e 0px,#e08214 12.5px,#fcb761 41.5px,#fed59f 66.5px,#fedbac 73.5px,#fee0b6 76.5px,#f7f7f6 115.5px,#d8daeb 167.5px,#b3acd2 218.5px,#a39bc7 234px)"></i><i style="background:linear-gradient(90deg,#ce720f 0px,#e08214 11.5px,#fdb965 42.5px,#fee0b6 76.5px,#f7f7f6 115.5px,#d8daeb 167.5px,#b3acd2 217.5px,#a198c5 234px)"></i><i style="background:linear-gradient(90deg,#d0730f 0px,#e08214 10.5px,#fdb965 41.5px,#fdcc8c 57.5px,#fecf92 61.5px,#fed39c 64.5px,#fedaa9 71.5px,#fedeb3 74.5px,#f7f7f6 115.5px,#d8daeb 167.5px,#b3acd2 217.5px,#a198c5 234px)"></i><i style="background:linear-gradient(90deg,#d27510 0px,#e18417 11.5px,#ef9e3c 24.5px,#fdb965 41.5px,#fedeb3 74.5px,#f7f7f6 115.5px,#d8daeb 167.5px,#b6b0d4 213.5px,#9f96c4 234px)"></i><i style="background:linear-gradient(90deg,#d47610 0px,#e08214 9.5px,#e78f27 15.5px,#fdb965 40.5px,#fee0b6 75.5px,#f7f7f6 115.5px,#d8daeb 167.5px,#b3acd2 216.5px,#9f96c4 234px)"></i><i style="background:linear-gradient(90deg,#d47610 0px,#e08214 8.5px,#eb9733 19.5px,#fcb761 38.5px,#fee0b6 75.5px,#f7f7f6 115.5px,#d8daeb 167.5px,#b6b0d4 212.5px,#9d94c2 234px)"></i></div>
<div class="cb" style="left:644.4px;top:310.9px;width:14.9px;height:209.5px;background:linear-gradient(180deg,#7f3b08 0px,#813c08 1.5px,#954807 9px,#aa5306 18px,#b25706 20.5px,#b45906 22px,#c6690c 29.4px,#e08214 42.4px,#e2861a 43.4px,#e3881d 44.9px,#e68d23 45.9px,#e78f27 47.4px,#e9932d 48.4px,#ea9530 49.9px,#ef9e3c 52.4px,#f0a03f 53.9px,#f2a446 54.9px,#f3a649 56.4px,#f6aa4f 57.4px,#f7ac52 58.9px,#f9b158 59.9px,#f9b158 60.4px,#fbb55e 61.4px,#fcb761 62.9px,#fdb965 63.4px,#fdba68 63.9px,#fdbc6b 65.4px,#fdbf72 66.4px,#fdc175 67.9px,#fdc47b 68.9px,#fdc57f 70.3px,#fdc885 71.3px,#fdc885 71.8px,#fdcc8c 72.8px,#fecd8f 74.3px,#fed095 75.3px,#fed299 76.8px,#fed59f 77.8px,#fed7a2 79.3px,#fedaa9 80.3px,#fedbac 81.8px,#fedeb3 82.8px,#fedeb3 83.3px,#fee1b9 84.3px,#fde2bb 85.8px,#fce6c8 89.3px,#fce7ca 90.8px,#fbebd5 93.3px,#faecd7 94.8px,#faeedc 95.8px,#f9f1e6 99.8px,#f8f3ec 100.8px,#f8f4ee 102.3px,#f7f6f3 103.3px,#f6f6f7 105.3px,#d8daeb 125.7px,#b1aad1 147.2px,#ada6ce 148.2px,#9f96c4 154.7px,#988dbe 157.2px,#968bbc 158.7px,#9287b9 159.7px,#9085b8 161.2px,#8c80b5 162.2px,#8073ac 167.6px,#7d6da9 168.6px,#7b6aa8 170.1px,#7764a5 171.1px,#7661a4 172.6px,#725ba1 173.6px,#6b4f9b 177.6px,#644395 180.1px,#5d3790 184.1px,#5a318d 185.1px,#582e8c 186.6px,#552889 187.6px,#502382 190.6px,#4d207d 191.6px,#4c1f7b 193.1px,#44176f 196.6px,#42156c 198.1px,#3c0f63 200.6px,#320552 207.1px,#2f024d 208.1px,#2d004b 209.5px)"></div>
<svg width="700" height="573" viewBox="0 0 700 573">
<path d="M203.6 5.8L205.5 6.7L207.5 7.5L209.5 8.0L211.5 8.4L213.5 8.8L215.5 9.2L217.1 9.5L218.5 9.8L218.8 9.8M246.3 13.5L248.5 13.7L250.5 13.9L252.5 14.1L254.5 14.3L256.5 14.5L258.5 14.7L260.5 14.8L262.5 15.0L264.5 15.2L266.5 15.3L267.6 15.4M154.9 5.8L155.0 7.5L155.1 9.5L155.3 11.5L155.5 13.5L155.7 15.5L156.0 17.5L156.2 19.5L156.5 21.5L156.8 23.5L157.1 25.5L157.4 27.5L157.8 29.5L158.2 31.5L158.5 32.8L158.9 34.5L159.4 36.5L160.0 38.5L160.5 40.4L161.2 42.5L161.9 44.5L162.5 46.1L163.1 47.5L163.9 49.5L164.5 50.7L165.4 52.5L166.5 54.5L167.1 55.5L168.4 57.5L169.1 58.5L169.8 59.5L170.6 60.5L171.4 61.5L172.3 62.5L173.2 63.5L174.1 64.5L175.1 65.5L176.2 66.5L177.3 67.5L178.5 68.5L179.5 69.3L180.5 70.0L181.5 70.7L182.5 71.4L184.2 72.5L185.5 73.3L187.5 74.4L189.5 75.5L191.5 76.5L193.5 77.4L195.5 78.3L197.5 79.1L199.5 79.8L201.3 80.5L202.5 80.9L204.3 81.5L205.5 81.9L207.5 82.5L209.5 83.1L209.8 83.2M236.9 88.9L238.5 89.2L240.5 89.5L242.5 89.8L244.5 90.1L246.5 90.4L248.5 90.7L250.5 90.9L252.5 91.2L254.5 91.4L256.5 91.7L258.5 91.9L260.5 92.1L262.5 92.4L263.7 92.5L265.5 92.7L267.6 92.9M150.1 5.8L150.1 7.5L149.9 9.5L149.7 11.5L149.6 13.5L149.4 15.5L149.2 17.5L148.9 19.5L148.7 21.5L148.5 23.2L148.3 24.5L148.0 26.5L147.7 28.5L147.5 30.0L147.2 31.5L146.9 33.5L146.5 35.5L146.1 37.5L145.6 39.5L145.1 41.5L144.6 43.5L144.1 45.5L143.5 47.5L142.9 49.5L142.5 50.7L141.9 52.5L141.1 54.5L140.5 56.1L139.9 57.5L139.0 59.5L138.5 60.7L137.6 62.5L136.6 64.5L135.5 66.4L134.8 67.5L133.6 69.5L132.9 70.5L132.2 71.5L131.5 72.5L130.8 73.5L130.0 74.5L129.2 75.5L128.4 76.5L127.5 77.5L126.7 78.5L125.7 79.5L124.8 80.5L123.8 81.5L122.8 82.5L121.7 83.5L120.6 84.5L119.5 85.5L118.5 86.3L117.5 87.1L116.5 87.9L115.5 88.7L114.5 89.5L113.5 90.2L112.5 90.9L111.5 91.6L110.5 92.3L108.6 93.5L107.5 94.2L105.5 95.4L103.5 96.5L101.7 97.5L100.5 98.2L98.5 99.2L96.5 100.2L94.5 101.1L92.5 102.1L90.5 102.9L89.2 103.5L87.5 104.2L85.5 105.0L84.3 105.5L82.5 106.2L80.5 106.9L79.0 107.5L77.5 108.0L77.2 108.1M57.4 114.2L55.5 114.7L53.5 115.3L51.5 115.8L49.5 116.3L47.5 116.8L45.5 117.2L43.5 117.7L41.5 118.2L40.0 118.5L38.5 118.8L37.2 119.1M128.7 5.8L127.8 7.5L126.9 8.5L126.0 9.5L125.1 10.5L124.1 11.5L123.1 12.5L122.1 13.5L121.0 14.5L119.9 15.5L118.7 16.5L117.5 17.5L116.5 18.3L115.5 19.1L114.5 19.8L113.5 20.6L112.5 21.3L111.5 22.0L110.5 22.6L109.2 23.5L107.6 24.5L106.5 25.2L104.5 26.4L102.5 27.5L100.6 28.5L99.5 29.1L97.5 30.1L95.5 31.1L93.5 32.0L91.5 32.9L90.2 33.5L88.5 34.2L86.5 35.1L84.5 35.9L82.9 36.5L81.5 37.0L80.2 37.5L78.5 38.1L76.5 38.8L74.6 39.5L74.4 39.6M54.5 45.5L52.5 46.0L50.6 46.5L48.5 47.0L46.5 47.5L44.5 48.0L42.5 48.4L40.5 48.9L38.5 49.4L37.2 49.6M152.4 5.8V195.3M152.4 209.5V215.2" fill="none" stroke="#1a1a1a" stroke-width="1.0"/>
<text transform="translate(232.6 11.9) rotate(7.7)" x="-12.1" y="3.9" font-size="12.5" class="m">10<tspan dy="-5.2" font-size="9.2"><tspan dx="0.1em" letter-spacing="0.1em">−</tspan>2</tspan></text>
<text transform="translate(223.3 86.4) rotate(12.0)" x="-12.1" y="3.9" font-size="12.5" class="m">10<tspan dy="-5.2" font-size="9.2"><tspan dx="0.1em" letter-spacing="0.1em">−</tspan>1</tspan></text>
<text transform="translate(67.3 111.4) rotate(-17.1)" x="-8.6" y="3.9" font-size="12.5" class="m">10<tspan dy="-5.2" font-size="9.2">1</tspan></text>
<text transform="translate(64.5 42.7) rotate(-16.6)" x="-8.6" y="3.9" font-size="12.5" class="m">10<tspan dy="-5.2" font-size="9.2">2</tspan></text>
<text transform="translate(152.4 202.4) rotate(90.0)" x="-3.1" y="3.9" font-size="12.5" class="m">1</text>
<rect x="37.25" y="5.85" width="230.4" height="209.4" fill="none" stroke="#444" stroke-width="0.9"/>
<path d="M37.2 215.25v-2.6M37.2 5.85v2.6M75.6 215.25v-2.6M75.6 5.85v2.6M114.0 215.25v-2.6M114.0 5.85v2.6M152.4 215.25v-2.6M152.4 5.85v2.6M190.8 215.25v-2.6M190.8 5.85v2.6M229.2 215.25v-2.6M229.2 5.85v2.6M267.6 215.25v-2.6M267.6 5.85v2.6M37.25 181.5h2.6M267.65 181.5h-2.6M37.25 146.4h2.6M267.65 146.4h-2.6M37.25 111.3h2.6M267.65 111.3h-2.6M37.25 76.1h2.6M267.65 76.1h-2.6M37.25 41.0h2.6M267.65 41.0h-2.6M37.25 5.8h2.6M267.65 5.8h-2.6" stroke="#222" stroke-width="0.6" fill="none"/>
<text x="37.2" y="224.9" text-anchor="middle" font-size="8.7" class="s">0.5</text>
<text x="75.6" y="224.9" text-anchor="middle" font-size="8.7" class="s">1.0</text>
<text x="114.0" y="224.9" text-anchor="middle" font-size="8.7" class="s">1.5</text>
<text x="152.4" y="224.9" text-anchor="middle" font-size="8.7" class="s">2.0</text>
<text x="190.8" y="224.9" text-anchor="middle" font-size="8.7" class="s">2.5</text>
<text x="229.2" y="224.9" text-anchor="middle" font-size="8.7" class="s">3.0</text>
<text x="267.6" y="224.9" text-anchor="middle" font-size="8.7" class="s">3.5</text>
<text x="34.0" y="184.3" text-anchor="end" font-size="8.7" class="s">0.5</text>
<text x="34.0" y="149.2" text-anchor="end" font-size="8.7" class="s">1.0</text>
<text x="34.0" y="114.1" text-anchor="end" font-size="8.7" class="s">1.5</text>
<text x="34.0" y="78.9" text-anchor="end" font-size="8.7" class="s">2.0</text>
<text x="34.0" y="43.8" text-anchor="end" font-size="8.7" class="s">2.5</text>
<text x="34.0" y="8.6" text-anchor="end" font-size="8.7" class="s">3.0</text>
<text x="152.4" y="243.2" text-anchor="middle" font-size="15.3" class="mi" style="letter-spacing:.6px">ρ<tspan dy="3.1" font-size="10.7" font-style="normal">1</tspan><tspan dy="-1.3" font-style="normal" font-size="19.9">/</tspan><tspan dy="-1.8" font-size="1"> </tspan>ρ<tspan dy="3.1" font-size="10.7" font-style="normal">0</tspan></text>
<text transform="translate(11.9 110.5) rotate(-90)" text-anchor="middle" font-size="15.3" class="mi">kx<tspan dy="3.1" font-size="10.7" font-style="normal">0</tspan></text>
<rect x="277.85" y="5.85" width="15.0" height="209.4" fill="none" stroke="#444" stroke-width="0.9"/>
<text x="295.9" y="38.0" font-size="12" class="m">10<tspan dy="-5.0" font-size="8.9">2</tspan></text>
<text x="295.9" y="82.0" font-size="12" class="m">10<tspan dy="-5.0" font-size="8.9">1</tspan></text>
<text x="295.9" y="126.1" font-size="12" class="m">1</text>
<text x="295.9" y="170.1" font-size="12" class="m">10<tspan dy="-5.0" font-size="8.9"><tspan dx="0.1em" letter-spacing="0.1em">−</tspan>1</tspan></text>
<text x="295.9" y="214.1" font-size="12" class="m">10<tspan dy="-5.0" font-size="8.9"><tspan dx="0.1em" letter-spacing="0.1em">−</tspan>2</tspan></text>
<path d="M292.85 34.3h-2.4M292.85 78.3h-2.4M292.85 122.3h-2.4M292.85 166.4h-2.4M292.85 210.4h-2.4" stroke="#222" stroke-width="0.6" fill="none"/>
<text transform="translate(334.0 110.5) rotate(-90)" text-anchor="middle" font-size="15.3" class="mi">R<tspan dy="3.1" font-size="10.7" font-style="normal">A</tspan></text>
<path d="M399.8 73.6L400.2 72.5L401.1 70.5L401.7 68.5L402.2 66.5L402.5 65.3L402.9 63.5L403.4 61.5L403.9 59.5L404.4 57.5L404.8 55.5L405.1 54.3M413.9 18.1L414.2 16.5L414.7 14.5L415.2 12.5L415.5 11.3L415.9 9.5L416.4 7.5L416.7 5.8M399.8 98.8L400.4 97.5L401.4 95.5L402.0 93.5L402.5 91.8L402.9 90.5L403.4 88.5L404.0 86.5L404.5 84.8L404.9 83.5L405.4 81.5L406.0 79.5L406.5 77.7L406.9 76.5L407.4 74.5L408.0 72.5L408.5 70.7L408.6 70.4M418.8 34.5L419.4 32.5L420.0 30.5L420.5 28.8L420.9 27.5L421.5 25.5L422.1 23.5L422.5 22.0L422.9 20.5L423.5 18.5L424.1 16.5L424.5 15.1L425.0 13.5L425.5 11.7L425.9 10.5L426.5 8.5L427.1 5.8M399.8 124.0L400.7 122.5L401.5 121.2L402.1 119.5L402.5 118.3L403.1 116.5L403.8 114.5L404.5 112.6L405.2 110.5L405.9 108.5L406.5 106.9L407.0 105.5L407.5 104.0L408.0 102.5L408.5 101.1L409.1 99.5L409.5 98.3L410.1 96.5L410.8 94.5L411.5 92.5L412.0 91.2M424.3 56.1L424.8 54.5L425.5 52.6L426.2 50.5L427.0 48.5L427.5 47.0L428.0 45.5L428.5 44.2L429.1 42.5L429.8 40.5L430.5 38.6L430.9 37.5L431.5 35.9L432.0 34.5L432.5 33.1L433.1 31.5L433.8 29.5L434.5 27.7L434.9 26.5L435.5 25.0L436.0 23.5L436.5 22.2L437.2 20.5L437.9 18.5L438.5 16.9L439.0 15.5L439.5 14.2L440.1 12.5L440.9 10.5L441.5 8.9L442.0 7.5L442.4 5.8M399.8 149.2L401.1 147.5L402.2 145.5L403.1 143.5L404.0 141.5L404.9 139.5L405.5 138.3L406.3 136.5L407.2 134.5L408.1 132.5L409.0 130.5L409.5 129.4L410.3 127.5L411.2 125.5L412.1 123.5L413.0 121.5L413.5 120.4L414.3 118.5L414.6 117.9M429.8 83.9L430.4 82.5L431.3 80.5L432.2 78.5L433.1 76.5L434.0 74.5L434.9 72.5L435.5 71.3L436.3 69.5L437.2 67.5L438.1 65.5L439.1 63.5L440.0 61.5L440.5 60.4L441.4 58.5L442.3 56.5L443.2 54.5L444.2 52.5L445.1 50.5L446.0 48.5L447.0 46.5L447.5 45.4L448.4 43.5L449.3 41.5L450.3 39.5L451.2 37.5L452.2 35.5L453.2 33.5L454.1 31.5L455.1 29.5L456.1 27.5L457.0 25.5L458.0 23.5L459.0 21.5L459.5 20.4L460.4 18.5L461.4 16.5L462.4 14.5L463.4 12.5L464.3 10.5L465.3 8.5L466.3 5.8M399.8 174.5L400.9 173.5L401.8 172.5L402.5 171.4L403.5 169.9L404.4 168.5L405.5 166.8L406.3 165.5L407.5 163.7L408.2 162.5L409.5 160.5L410.5 158.9L411.4 157.5L412.5 155.7L413.2 154.5L414.5 152.5L415.5 150.8L416.3 149.5L417.5 147.5L418.1 146.5L419.4 144.5L420.5 142.6L421.2 141.5L422.4 139.5L423.5 137.6L424.2 136.5L425.4 134.5L426.5 132.6L427.2 131.5L428.4 129.5L429.5 127.6L430.2 126.5L431.4 124.5L432.5 122.6L433.2 121.5L434.4 119.5L435.5 117.6L436.1 116.5L437.3 114.5L438.5 112.5L439.1 111.5L440.3 109.5L441.5 107.5L442.5 105.8L443.3 104.5L444.5 102.5L445.5 100.8L446.3 99.5L447.5 97.5L448.5 95.8L449.3 94.5L450.5 92.5L451.5 90.8L452.3 89.5L453.5 87.5L454.5 85.8L455.3 84.5L456.4 82.5L457.5 80.7L458.2 79.5L459.4 77.5L460.5 75.7L461.2 74.5L462.4 72.5L463.5 70.6L464.1 69.5L465.3 67.5L466.5 65.5M484.3 32.8L484.9 31.5L485.5 30.3L486.3 28.5L487.3 26.5L488.2 24.5L489.1 22.5L489.9 20.5L490.5 19.2L491.2 17.5L492.0 15.5L492.5 14.3L493.2 12.5L493.9 10.5L494.5 9.0L495.0 7.5L495.4 5.8M399.8 203.0L401.5 202.1L402.5 201.1L403.5 200.2L404.5 199.2L405.5 198.3L406.5 197.3L407.5 196.3L408.5 195.3L409.5 194.3L410.5 193.3L411.5 192.3L412.5 191.3L413.5 190.2L414.5 189.2L415.5 188.1L416.5 187.1L417.5 186.0L418.5 184.9L419.5 183.8L420.5 182.7L421.5 181.6L422.5 180.5L423.2 179.7M447.2 151.1L448.5 149.5L449.3 148.5L450.1 147.5L450.8 146.5L451.6 145.5L452.4 144.5L453.2 143.5L454.0 142.5L454.7 141.5L455.5 140.5L456.3 139.5L457.0 138.5L457.8 137.5L458.5 136.5L459.3 135.5L460.0 134.5L460.8 133.5L461.5 132.5L462.3 131.5L463.0 130.5L463.7 129.5L464.4 128.5L465.2 127.5L465.9 126.5L466.6 125.5L467.3 124.5L468.0 123.5L468.7 122.5L469.4 121.5L470.1 120.5L470.8 119.5L471.5 118.5L472.1 117.5L472.8 116.5L473.5 115.5L474.5 114.0L475.4 112.5L476.5 110.9L477.4 109.5L478.5 107.7L479.2 106.5L480.4 104.5L481.5 102.7L482.2 101.5L483.3 99.5L484.4 97.5L485.5 95.5L486.5 93.6L487.1 92.5L488.1 90.5L489.1 88.5L490.0 86.5L491.0 84.5L491.5 83.3L492.3 81.5L493.1 79.5L494.0 77.5L494.5 76.1L495.1 74.5L495.9 72.5L496.5 70.8L496.9 69.5L497.5 67.9L497.9 66.5L498.5 64.8L498.9 63.5L499.5 61.5L500.0 59.5L500.5 57.8L500.8 56.5L501.3 54.5L501.8 52.5L502.3 50.5L502.7 48.5L503.1 46.5L503.5 44.7L503.9 42.5L504.2 40.5L504.5 39.1L504.7 37.5L505.0 35.5L505.4 33.5L505.6 31.5L505.9 29.5L506.1 27.5L506.4 25.5L506.6 23.5L506.8 21.5L507.0 19.5L507.2 17.5L507.4 15.5L507.5 14.0L507.6 12.5L507.7 10.5L507.9 8.5L508.0 5.8M620.5 135.4L618.5 134.9L616.5 134.1L615.0 133.5L613.5 132.9L611.5 132.0L610.2 131.5L608.5 130.8L606.5 129.9L604.5 129.0L603.3 128.5L601.5 127.7L599.5 126.8L597.5 125.9L595.5 125.0L595.1 124.8M568.4 110.7L566.5 109.6L564.8 108.5L563.5 107.6L561.8 106.5L560.5 105.6L559.5 104.9L558.5 104.2L557.5 103.5L556.5 102.8L555.5 102.0L554.5 101.3L553.5 100.5L552.5 99.7L551.5 98.9L550.5 98.1L549.5 97.2L548.5 96.4L547.5 95.5L546.5 94.6L545.5 93.7L544.5 92.7L543.5 91.8L542.5 90.8L541.5 89.7L540.5 88.7L539.5 87.6L538.5 86.5L537.7 85.5L536.8 84.5L536.0 83.5L535.2 82.5L534.4 81.5L533.7 80.5L533.0 79.5L532.3 78.5L531.6 77.5L530.5 75.9L529.6 74.5L528.5 72.6L527.9 71.5L526.8 69.5L525.8 67.5L524.8 65.5L523.9 63.5L523.0 61.5L522.5 60.2L521.8 58.5L521.1 56.5L520.5 54.8L520.1 53.5L519.5 51.7L518.9 49.5L518.5 48.2L518.1 46.5L517.6 44.5L517.1 42.5L516.7 40.5L516.2 38.5L515.9 36.5L515.5 34.6L515.2 32.5L514.8 30.5L514.5 28.5L514.3 26.5L514.0 24.5L513.8 22.5L513.5 20.5L513.3 18.5L513.1 16.5L512.9 14.5L512.7 12.5L512.6 10.5L512.4 8.5L512.3 5.8M620.5 64.3L618.5 63.9L616.5 63.1L614.9 62.5L613.5 61.9L611.5 61.1L609.9 60.5L608.5 59.9L606.5 59.1L605.1 58.5L603.5 57.8L601.5 57.0L600.4 56.5L598.5 55.7L596.5 54.8L595.1 54.2M568.2 40.4L566.8 39.5L565.5 38.7L563.6 37.5L562.5 36.8L560.6 35.5L559.5 34.7L558.5 34.1L557.5 33.3L556.5 32.6L555.5 31.9L554.5 31.1L553.5 30.4L552.5 29.6L551.5 28.8L550.5 28.0L549.5 27.2L548.5 26.3L547.6 25.5L546.5 24.5L545.5 23.6L544.5 22.7L543.5 21.7L542.5 20.7L541.5 19.7L540.5 18.7L539.5 17.6L538.5 16.5L537.7 15.5L536.8 14.5L536.0 13.5L535.2 12.5L534.4 11.5L533.7 10.5L532.9 9.5L532.2 8.5L531.5 7.5L530.9 5.8M510.1 5.8V172.1M510.1 195.9V215.2" fill="none" stroke="#1a1a1a" stroke-width="1.0"/>
<text transform="translate(409.5 36.2) rotate(-76.5)" x="-16.8" y="3.9" font-size="12.5" class="m"><tspan dx="0.1em" letter-spacing="0.1em">−</tspan>10<tspan dy="-5.2" font-size="9.2"><tspan dx="0.1em" letter-spacing="0.1em">−</tspan>6</tspan></text>
<text transform="translate(413.7 52.5) rotate(-74.0)" x="-16.8" y="3.9" font-size="12.5" class="m"><tspan dx="0.1em" letter-spacing="0.1em">−</tspan>10<tspan dy="-5.2" font-size="9.2"><tspan dx="0.1em" letter-spacing="0.1em">−</tspan>5</tspan></text>
<text transform="translate(418.1 73.6) rotate(-70.7)" x="-16.8" y="3.9" font-size="12.5" class="m"><tspan dx="0.1em" letter-spacing="0.1em">−</tspan>10<tspan dy="-5.2" font-size="9.2"><tspan dx="0.1em" letter-spacing="0.1em">−</tspan>4</tspan></text>
<text transform="translate(422.2 100.9) rotate(-66.0)" x="-16.8" y="3.9" font-size="12.5" class="m"><tspan dx="0.1em" letter-spacing="0.1em">−</tspan>10<tspan dy="-5.2" font-size="9.2"><tspan dx="0.1em" letter-spacing="0.1em">−</tspan>3</tspan></text>
<text transform="translate(475.7 49.3) rotate(-61.4)" x="-16.8" y="3.9" font-size="12.5" class="m"><tspan dx="0.1em" letter-spacing="0.1em">−</tspan>10<tspan dy="-5.2" font-size="9.2"><tspan dx="0.1em" letter-spacing="0.1em">−</tspan>2</tspan></text>
<text transform="translate(435.4 165.6) rotate(-50.0)" x="-16.8" y="3.9" font-size="12.5" class="m"><tspan dx="0.1em" letter-spacing="0.1em">−</tspan>10<tspan dy="-5.2" font-size="9.2"><tspan dx="0.1em" letter-spacing="0.1em">−</tspan>1</tspan></text>
<text transform="translate(581.6 118.2) rotate(27.8)" x="-13.3" y="3.9" font-size="12.5" class="m"><tspan dx="0.1em" letter-spacing="0.1em">−</tspan>10<tspan dy="-5.2" font-size="9.2">1</tspan></text>
<text transform="translate(581.5 47.7) rotate(27.2)" x="-13.3" y="3.9" font-size="12.5" class="m"><tspan dx="0.1em" letter-spacing="0.1em">−</tspan>10<tspan dy="-5.2" font-size="9.2">2</tspan></text>
<text transform="translate(510.1 184.0) rotate(90.0)" x="-7.9" y="3.9" font-size="12.5" class="m"><tspan dx="0.1em" letter-spacing="0.1em">−</tspan>1</text>
<rect x="399.75" y="5.85" width="220.7" height="209.4" fill="none" stroke="#444" stroke-width="0.9"/>
<path d="M399.8 215.25v-2.6M399.8 5.85v2.6M436.5 215.25v-2.6M436.5 5.85v2.6M473.3 215.25v-2.6M473.3 5.85v2.6M510.1 215.25v-2.6M510.1 5.85v2.6M546.9 215.25v-2.6M546.9 5.85v2.6M583.7 215.25v-2.6M583.7 5.85v2.6M620.5 215.25v-2.6M620.5 5.85v2.6M399.75 181.5h2.6M620.45 181.5h-2.6M399.75 146.4h2.6M620.45 146.4h-2.6M399.75 111.3h2.6M620.45 111.3h-2.6M399.75 76.1h2.6M620.45 76.1h-2.6M399.75 41.0h2.6M620.45 41.0h-2.6M399.75 5.8h2.6M620.45 5.8h-2.6" stroke="#222" stroke-width="0.6" fill="none"/>
<text x="399.8" y="224.9" text-anchor="middle" font-size="8.7" class="s">0.5</text>
<text x="436.5" y="224.9" text-anchor="middle" font-size="8.7" class="s">1.0</text>
<text x="473.3" y="224.9" text-anchor="middle" font-size="8.7" class="s">1.5</text>
<text x="510.1" y="224.9" text-anchor="middle" font-size="8.7" class="s">2.0</text>
<text x="546.9" y="224.9" text-anchor="middle" font-size="8.7" class="s">2.5</text>
<text x="583.7" y="224.9" text-anchor="middle" font-size="8.7" class="s">3.0</text>
<text x="620.5" y="224.9" text-anchor="middle" font-size="8.7" class="s">3.5</text>
<text x="396.6" y="184.3" text-anchor="end" font-size="8.7" class="s">0.5</text>
<text x="396.6" y="149.2" text-anchor="end" font-size="8.7" class="s">1.0</text>
<text x="396.6" y="114.1" text-anchor="end" font-size="8.7" class="s">1.5</text>
<text x="396.6" y="78.9" text-anchor="end" font-size="8.7" class="s">2.0</text>
<text x="396.6" y="43.8" text-anchor="end" font-size="8.7" class="s">2.5</text>
<text x="396.6" y="8.6" text-anchor="end" font-size="8.7" class="s">3.0</text>
<text x="510.1" y="243.2" text-anchor="middle" font-size="15.3" class="mi" style="letter-spacing:.6px">ρ<tspan dy="3.1" font-size="10.7" font-style="normal">1</tspan><tspan dy="-1.3" font-style="normal" font-size="19.9">/</tspan><tspan dy="-1.8" font-size="1"> </tspan>ρ<tspan dy="3.1" font-size="10.7" font-style="normal">0</tspan></text>
<text transform="translate(374.4 110.5) rotate(-90)" text-anchor="middle" font-size="15.3" class="mi">kx<tspan dy="3.1" font-size="10.7" font-style="normal">0</tspan></text>
<rect x="630.45" y="5.85" width="15.5" height="209.4" fill="none" stroke="#444" stroke-width="0.9"/>
<text x="649.0" y="29.1" font-size="12" class="m"><tspan dx="0.1em" letter-spacing="0.1em">−</tspan>10<tspan dy="-5.0" font-size="8.9">2</tspan></text>
<text x="649.0" y="52.9" font-size="12" class="m"><tspan dx="0.1em" letter-spacing="0.1em">−</tspan>10<tspan dy="-5.0" font-size="8.9">1</tspan></text>
<text x="649.0" y="76.7" font-size="12" class="m"><tspan dx="0.1em" letter-spacing="0.1em">−</tspan>1</text>
<text x="649.0" y="100.5" font-size="12" class="m"><tspan dx="0.1em" letter-spacing="0.1em">−</tspan>10<tspan dy="-5.0" font-size="8.9"><tspan dx="0.1em" letter-spacing="0.1em">−</tspan>1</tspan></text>
<text x="649.0" y="124.4" font-size="12" class="m"><tspan dx="0.1em" letter-spacing="0.1em">−</tspan>10<tspan dy="-5.0" font-size="8.9"><tspan dx="0.1em" letter-spacing="0.1em">−</tspan>2</tspan></text>
<text x="649.0" y="148.2" font-size="12" class="m"><tspan dx="0.1em" letter-spacing="0.1em">−</tspan>10<tspan dy="-5.0" font-size="8.9"><tspan dx="0.1em" letter-spacing="0.1em">−</tspan>3</tspan></text>
<text x="649.0" y="172.0" font-size="12" class="m"><tspan dx="0.1em" letter-spacing="0.1em">−</tspan>10<tspan dy="-5.0" font-size="8.9"><tspan dx="0.1em" letter-spacing="0.1em">−</tspan>4</tspan></text>
<text x="649.0" y="195.9" font-size="12" class="m"><tspan dx="0.1em" letter-spacing="0.1em">−</tspan>10<tspan dy="-5.0" font-size="8.9"><tspan dx="0.1em" letter-spacing="0.1em">−</tspan>5</tspan></text>
<text x="649.0" y="219.7" font-size="12" class="m"><tspan dx="0.1em" letter-spacing="0.1em">−</tspan>10<tspan dy="-5.0" font-size="8.9"><tspan dx="0.1em" letter-spacing="0.1em">−</tspan>6</tspan></text>
<path d="M645.95 25.3h-2.4M645.95 49.2h-2.4M645.95 73.0h-2.4M645.95 96.8h-2.4M645.95 120.7h-2.4M645.95 144.5h-2.4M645.95 168.3h-2.4M645.95 192.1h-2.4M645.95 216.0h-2.4" stroke="#222" stroke-width="0.6" fill="none"/>
<text transform="translate(696.8 110.5) rotate(-90)" text-anchor="middle" font-size="15.3" class="mi">R<tspan dy="3.1" font-size="10.7" font-style="normal">A</tspan></text>
<path d="M37.2 459.2L38.3 457.5L39.4 455.5L40.4 453.5L41.4 451.5L42.4 449.5L43.5 447.5L44.5 445.5L45.5 443.5L46.5 441.6L47.5 439.6L48.1 438.5L49.1 436.5L50.1 434.5L51.1 432.5L52.1 430.5L53.1 428.5L54.1 426.5L55.1 424.5L56.1 422.5L57.1 420.5L58.0 418.5L59.0 416.5L59.7 415.0M68.7 395.9L69.3 394.5L70.2 392.5L71.1 390.5L72.0 388.5L72.5 387.3L73.3 385.5L74.2 383.5L75.0 381.5L75.5 380.4L76.3 378.5L77.1 376.5L78.0 374.5L78.5 373.2L79.2 371.5L80.0 369.5L80.5 368.4L81.3 366.5L82.1 364.5L82.9 362.5L83.5 360.9L84.0 359.5L84.5 358.3L85.2 356.5L86.0 354.5L86.5 353.1L87.1 351.5L87.9 349.5L88.5 347.8L89.0 346.5L89.5 345.1L90.1 343.5L90.5 342.3L91.2 340.5L91.9 338.5L92.5 336.7L92.9 335.5L93.5 333.9L94.0 332.5L94.5 331.0L95.0 329.5L95.5 328.0L96.0 326.5L96.5 325.0L97.0 323.5L97.5 322.0L98.0 320.5L98.5 318.9L99.0 317.5L99.5 315.8L99.9 314.5L100.5 312.7L100.9 310.9M65.8 520.4L66.1 518.5L66.5 517.1L67.0 515.5L67.5 514.1L68.1 512.5L68.5 511.4L69.2 509.5L70.0 507.5L70.9 505.5L71.5 504.2L72.3 502.5L73.3 500.5L74.3 498.5L75.4 496.5L76.5 494.5L77.5 492.8L78.3 491.5L79.5 489.5L80.2 488.5L81.4 486.5L82.5 484.9L83.5 483.5L84.2 482.5L84.8 481.5L85.5 480.5L86.3 479.5L86.7 478.9M99.2 461.9L100.3 460.5L101.0 459.5L101.8 458.5L102.5 457.5L103.2 456.5L104.0 455.5L104.7 454.5L105.4 453.5L106.1 452.5L106.8 451.5L107.5 450.5L108.2 449.5L108.9 448.5L109.6 447.5L110.3 446.5L110.9 445.5L111.6 444.5L112.5 443.1L113.5 441.6L114.2 440.5L115.5 438.5L116.5 436.8L117.3 435.5L118.5 433.5L119.5 431.8L120.2 430.5L121.3 428.5L122.4 426.5L123.5 424.5L124.5 422.6L125.0 421.5L126.0 419.5L127.0 417.5L127.9 415.5L128.5 414.3L129.3 412.5L130.2 410.5L131.0 408.5L131.5 407.3L132.2 405.5L133.0 403.5L133.5 402.3L134.2 400.5L134.9 398.5L135.5 396.7L135.9 395.5L136.5 393.8L136.9 392.5L137.5 390.6L138.2 388.5L138.5 387.3L139.0 385.5L139.5 383.9L139.9 382.5L140.4 380.5L140.9 378.5L141.4 376.5L141.9 374.5L142.4 372.5L142.8 370.5L143.2 368.5L143.5 367.3L143.9 365.5L144.2 363.5L144.5 362.2L144.8 360.5L145.2 358.5L145.5 356.7L145.9 354.5L146.2 352.5L146.5 350.5L146.8 348.5L147.1 346.5L147.4 344.5L147.6 342.5L147.9 340.5L148.1 338.5L148.4 336.5L148.6 334.5L148.8 332.5L149.0 330.5L149.2 328.5L149.4 326.5L149.6 324.5L149.8 322.5L150.0 320.5L150.1 318.5L150.3 316.5L150.5 314.5L150.6 312.5L150.7 310.9M271.6 476.4L269.6 475.5L268.5 474.9L266.5 473.9L264.5 472.9L262.5 471.8L260.5 470.8L258.5 469.7L256.5 468.7L254.5 467.6L252.6 466.5L251.5 465.9L249.5 464.8L249.4 464.7M234.1 455.4L232.6 454.5L231.5 453.7L230.5 453.1L229.5 452.4L228.5 451.7L227.5 451.0L226.5 450.3L225.5 449.6L224.5 448.9L223.5 448.2L222.5 447.4L221.5 446.7L220.5 446.0L219.5 445.2L218.5 444.4L217.5 443.6L216.5 442.9L215.5 442.1L214.5 441.2L213.5 440.4L212.5 439.6L211.5 438.7L210.5 437.9L209.5 437.0L208.5 436.1L207.5 435.2L206.5 434.3L205.5 433.3L204.6 432.5L203.6 431.5L202.6 430.5L201.6 429.5L200.6 428.5L199.7 427.5L198.7 426.5L197.8 425.5L196.9 424.5L196.0 423.5L195.1 422.5L194.3 421.5L193.5 420.5L192.6 419.5L191.9 418.5L191.1 417.5L190.3 416.5L189.5 415.5L188.8 414.5L188.1 413.5L187.4 412.5L186.7 411.5L186.0 410.5L185.3 409.5L184.5 408.2L183.5 406.6L182.8 405.5L181.6 403.5L180.5 401.5L179.5 399.7L178.9 398.5L177.9 396.5L176.9 394.5L175.9 392.5L175.0 390.5L174.5 389.3L173.8 387.5L173.0 385.5L172.5 384.3L171.8 382.5L171.1 380.5L170.5 378.8L170.1 377.5L169.5 375.8L169.1 374.5L168.5 372.6L167.9 370.5L167.5 369.1L167.1 367.5L166.5 365.5L166.1 363.5L165.6 361.5L165.1 359.5L164.7 357.5L164.3 355.5L163.9 353.5L163.5 351.7L163.3 350.5L162.9 348.5L162.6 346.5L162.2 344.5L161.9 342.5L161.6 340.5L161.3 338.5L161.0 336.5L160.8 334.5L160.5 332.5L160.3 330.5L160.0 328.5L159.8 326.5L159.6 324.5L159.4 322.5L159.2 320.5L159.0 318.5L158.8 316.5L158.6 314.5L158.5 313.2L158.4 310.9M271.6 333.9L270.5 332.9L269.5 332.0L268.5 331.0L267.5 330.1L266.5 329.1L266.3 328.9M254.0 315.8L252.8 314.5L252.0 313.5L251.1 312.5L250.5 311.3L250.3 310.9M154.4 310.9V397.0M154.4 417.4V520.4" fill="none" stroke="#1a1a1a" stroke-width="1.0"/>
<text transform="translate(64.3 405.5) rotate(-64.9)" y="3.3" text-anchor="middle" font-size="9.0" class="s">-0.8</text>
<text transform="translate(92.9 470.4) rotate(-53.5)" y="3.3" text-anchor="middle" font-size="9.0" class="s">-0.4</text>
<text transform="translate(241.6 460.2) rotate(31.2)" y="3.3" text-anchor="middle" font-size="9.0" class="s">0.4</text>
<text transform="translate(260.0 322.5) rotate(46.7)" y="3.3" text-anchor="middle" font-size="9.0" class="s">0.8</text>
<text transform="translate(154.4 407.2) rotate(-90.0)" y="3.3" text-anchor="middle" font-size="9.0" class="s">0.0</text>
<rect x="37.25" y="310.85" width="234.3" height="209.5" fill="none" stroke="#444" stroke-width="0.9"/>
<path d="M37.2 520.4v-2.6M37.2 310.85v2.6M76.3 520.4v-2.6M76.3 310.85v2.6M115.3 520.4v-2.6M115.3 310.85v2.6M154.4 520.4v-2.6M154.4 310.85v2.6M193.4 520.4v-2.6M193.4 310.85v2.6M232.5 520.4v-2.6M232.5 310.85v2.6M271.6 520.4v-2.6M271.6 310.85v2.6M37.25 486.6h2.6M271.55 486.6h-2.6M37.25 451.5h2.6M271.55 451.5h-2.6M37.25 416.3h2.6M271.55 416.3h-2.6M37.25 381.2h2.6M271.55 381.2h-2.6M37.25 346.0h2.6M271.55 346.0h-2.6M37.25 310.9h2.6M271.55 310.9h-2.6" stroke="#222" stroke-width="0.6" fill="none"/>
<text x="37.2" y="530.1" text-anchor="middle" font-size="8.7" class="s">0.5</text>
<text x="76.3" y="530.1" text-anchor="middle" font-size="8.7" class="s">1.0</text>
<text x="115.3" y="530.1" text-anchor="middle" font-size="8.7" class="s">1.5</text>
<text x="154.4" y="530.1" text-anchor="middle" font-size="8.7" class="s">2.0</text>
<text x="193.4" y="530.1" text-anchor="middle" font-size="8.7" class="s">2.5</text>
<text x="232.5" y="530.1" text-anchor="middle" font-size="8.7" class="s">3.0</text>
<text x="271.6" y="530.1" text-anchor="middle" font-size="8.7" class="s">3.5</text>
<text x="34.0" y="489.4" text-anchor="end" font-size="8.7" class="s">0.5</text>
<text x="34.0" y="454.3" text-anchor="end" font-size="8.7" class="s">1.0</text>
<text x="34.0" y="419.1" text-anchor="end" font-size="8.7" class="s">1.5</text>
<text x="34.0" y="384.0" text-anchor="end" font-size="8.7" class="s">2.0</text>
<text x="34.0" y="348.8" text-anchor="end" font-size="8.7" class="s">2.5</text>
<text x="34.0" y="313.7" text-anchor="end" font-size="8.7" class="s">3.0</text>
<text x="154.4" y="548.4" text-anchor="middle" font-size="15.3" class="mi" style="letter-spacing:.6px">ρ<tspan dy="3.1" font-size="10.7" font-style="normal">1</tspan><tspan dy="-1.3" font-style="normal" font-size="19.9">/</tspan><tspan dy="-1.8" font-size="1"> </tspan>ρ<tspan dy="3.1" font-size="10.7" font-style="normal">0</tspan></text>
<text transform="translate(11.9 415.6) rotate(-90)" text-anchor="middle" font-size="15.3" class="mi">kx<tspan dy="3.1" font-size="10.7" font-style="normal">0</tspan></text>
<rect x="281.75" y="310.85" width="15.4" height="209.5" fill="none" stroke="#444" stroke-width="0.9"/>
<text x="299.5" y="314.0" font-size="8.7" class="s">1.0</text>
<text x="299.5" y="335.0" font-size="8.7" class="s">0.8</text>
<text x="299.5" y="355.9" font-size="8.7" class="s">0.6</text>
<text x="299.5" y="376.9" font-size="8.7" class="s">0.4</text>
<text x="299.5" y="397.8" font-size="8.7" class="s">0.2</text>
<text x="299.5" y="418.8" font-size="8.7" class="s">0.0</text>
<text x="299.5" y="439.8" font-size="8.7" class="s">-0.2</text>
<text x="299.5" y="460.7" font-size="8.7" class="s">-0.4</text>
<text x="299.5" y="481.7" font-size="8.7" class="s">-0.6</text>
<text x="299.5" y="502.6" font-size="8.7" class="s">-0.8</text>
<text x="299.5" y="523.6" font-size="8.7" class="s">-1.0</text>
<path d="M297.15 310.8h-2.4M297.15 331.8h-2.4M297.15 352.7h-2.4M297.15 373.7h-2.4M297.15 394.6h-2.4M297.15 415.6h-2.4M297.15 436.6h-2.4M297.15 457.5h-2.4M297.15 478.5h-2.4M297.15 499.4h-2.4M297.15 520.4h-2.4" stroke="#222" stroke-width="0.6" fill="none"/>
<text transform="translate(333.0 415.6) rotate(-90)" text-anchor="middle" font-size="15.3" class="mi"><tspan font-style="normal">Δ</tspan><tspan dy="3.1" font-size="10.7" font-style="normal">min</tspan><tspan dy="-1.3" font-style="normal" font-size="19.9">/</tspan><tspan dy="-1.8" font-size="1"> </tspan>x<tspan dy="3.1" font-size="10.7" font-style="normal">0</tspan></text>
<path d="M587.5 310.9L588.1 312.5L589.2 314.5L590.4 316.5L591.5 318.4L592.1 319.5L593.3 321.5L594.5 323.4L595.2 324.5L596.4 326.5L597.5 328.1L598.4 329.5L599.5 331.2L600.4 332.5L601.0 333.5L601.7 334.5L602.4 335.5L603.1 336.5L603.8 337.5L604.5 338.5L605.2 339.5L605.9 340.5L606.0 340.6M619.1 357.3L620.2 358.5L621.0 359.5L621.9 360.5L622.8 361.5L623.7 362.5L624.5 363.4L625.5 364.5L626.4 365.5L627.3 366.5L628.2 367.5L629.2 368.5L630.1 369.5L631.1 370.5L632.0 371.5L633.2 372.5L633.9 373.0M520.6 310.9L520.7 312.5L520.9 314.5L521.0 316.5L521.2 318.5L521.4 320.5L521.5 322.1L521.6 323.5L521.9 325.5L522.1 327.5L522.3 329.5L522.5 331.5L522.7 333.5L523.0 335.5L523.2 337.5L523.5 339.5L523.8 341.5L524.0 343.5L524.3 345.5L524.6 347.5L525.0 349.5L525.3 351.5L525.7 353.5L526.0 355.5L526.4 357.5L526.8 359.5L527.2 361.5L527.5 363.0L527.8 364.5L528.3 366.5L528.8 368.5L529.3 370.5L529.8 372.5L530.3 374.5L530.9 376.5L531.4 378.5L532.0 380.5L532.5 382.0L533.0 383.5L533.5 385.1L534.0 386.5L534.5 388.0L535.1 389.5L535.5 390.7L536.2 392.5L537.0 394.5L537.5 395.8L538.2 397.5L539.1 399.5L540.0 401.5L540.5 402.6L541.4 404.5L542.4 406.5L543.4 408.5L544.5 410.5L545.5 412.3L546.2 413.5L547.4 415.5L548.5 417.4L549.2 418.5L550.5 420.5L551.5 422.0L552.5 423.5L553.2 424.5L553.9 425.5L554.6 426.5L555.3 427.5L556.1 428.5L556.8 429.5L557.6 430.5L558.4 431.5L559.2 432.5L560.0 433.5L560.8 434.5L561.5 435.3M575.8 450.9L577.4 452.5L578.4 453.5L579.4 454.5L580.5 455.5L581.5 456.5L582.5 457.4L583.5 458.4L584.5 459.3L585.5 460.2L586.5 461.2L587.5 462.1L588.5 463.0L589.5 464.0L590.5 464.9L591.5 465.8L592.5 466.7L593.5 467.6L594.4 468.5L595.5 469.5L596.5 470.4L597.5 471.3L598.5 472.3L599.5 473.2L600.5 474.2L601.5 475.1L602.5 476.1L603.5 477.1L604.5 478.0L605.5 479.0L606.5 480.1L607.5 481.1L608.5 482.2L609.5 483.3L610.5 484.4L611.5 485.5L612.3 486.5L613.1 487.5L613.9 488.5L614.6 489.5L615.3 490.5L616.0 491.5L617.2 493.5L618.3 495.5L619.2 497.5L620.0 499.5L620.5 501.5L620.8 503.5L621.0 505.5L620.9 507.5L620.6 509.5L620.2 511.5L619.5 513.5L618.6 515.5L617.6 517.5L616.5 520.2L616.4 520.4M513.2 310.9L513.1 312.5L513.0 314.5L512.8 316.5L512.7 318.5L512.5 320.5L512.4 322.5L512.2 324.5L512.0 326.5L511.8 328.5L511.7 330.5L511.5 332.2L511.4 333.5L511.1 335.5L510.9 337.5L510.7 339.5L510.5 341.4L510.2 343.5L510.0 345.5L509.7 347.5L509.5 349.4L509.2 351.5L508.9 353.5L508.6 355.5L508.3 357.5L508.0 359.5L507.7 361.5L507.3 363.5L507.0 365.5L506.6 367.5L506.3 369.5L505.9 371.5L505.5 373.5L505.1 375.5L504.7 377.5L504.2 379.5L503.8 381.5L503.5 382.8L503.1 384.5L502.6 386.5L502.1 388.5L501.6 390.5L501.1 392.5L500.5 394.5L500.0 396.5L499.5 398.2L499.1 399.5L498.5 401.5L497.9 403.5L497.5 404.7L496.9 406.5L496.5 407.8L495.9 409.5L495.5 410.8L494.9 412.5L494.5 413.7L493.8 415.5L493.1 417.5L492.5 419.1L492.0 420.5L491.5 421.7L490.8 423.5L490.0 425.5L489.5 426.7L488.7 428.5L487.9 430.5L487.0 432.5L486.5 433.7L485.7 435.5L484.8 437.5L483.9 439.5L482.9 441.5L482.0 443.5L481.0 445.5L480.0 447.5L479.0 449.5L478.0 451.5L477.0 453.5L475.9 455.5L474.8 457.5L473.8 459.5L472.7 461.5L471.6 463.5L470.5 465.5L469.5 467.3L468.8 468.5L467.7 470.5L466.6 472.5L465.5 474.4L464.9 475.5L463.7 477.5L462.6 479.5L461.5 481.3L460.8 482.5L459.7 484.5L458.5 486.5L457.5 488.2L456.8 489.5L455.6 491.5L454.9 492.7M445.9 508.2L445.2 509.5L444.5 510.6L443.5 512.4L442.9 513.5L441.7 515.5L440.6 517.5L439.5 520.3L439.5 520.4M473.9 310.9L473.6 312.5L473.2 314.5L472.7 316.5L472.3 318.5L471.8 320.5L471.5 321.7L471.1 323.5L470.6 325.5L470.1 327.5L469.6 329.5L469.1 331.5L469.0 331.9M464.5 349.2L464.2 350.5L463.7 352.5L463.1 354.5L462.5 356.5L462.0 358.5L461.5 360.2L461.1 361.5L460.6 363.5L460.0 365.5L459.5 367.1L459.1 368.5L458.5 370.5L457.9 372.5L457.5 373.8L457.0 375.5L456.5 377.0L456.0 378.5L455.5 380.2L455.1 381.5L454.5 383.4L453.8 385.5L453.2 387.5L452.5 389.5L451.8 391.5L451.2 393.5L450.5 395.5L449.8 397.5L449.1 399.5L448.5 401.2L448.0 402.5L447.5 404.0L447.0 405.5L446.5 406.8L445.9 408.5L445.1 410.5L444.5 412.2L444.0 413.5L443.5 414.9L442.9 416.5L442.1 418.5L441.5 420.0L440.9 421.5L440.1 423.5L439.5 425.0L438.9 426.5L438.1 428.5L437.5 429.9L436.8 431.5L436.0 433.5L435.1 435.5L434.5 436.9L433.8 438.5L432.9 440.5L432.0 442.5L431.1 444.5L430.5 445.7L429.7 447.5L428.7 449.5L427.8 451.5L426.8 453.5L425.8 455.5L424.8 457.5L423.8 459.5L422.7 461.5L421.7 463.5L420.6 465.5L419.5 467.5L418.5 469.3L417.8 470.5L416.7 472.5L415.5 474.5L414.5 476.2L413.7 477.5L412.5 479.5L411.9 480.5L410.6 482.5L409.5 484.2L408.7 485.5L407.5 487.2L406.7 488.5L406.0 489.5L405.3 490.5L404.6 491.5L403.9 492.5L403.1 493.5L402.4 494.5L401.7 495.5L400.5 496.5L399.8 497.1M516.8 310.9V415.8M516.8 436.2V520.4" fill="none" stroke="#1a1a1a" stroke-width="1.0"/>
<text transform="translate(612.4 349.1) rotate(51.9)" y="3.3" text-anchor="middle" font-size="9.0" class="s">-0.8</text>
<text transform="translate(568.4 443.3) rotate(47.4)" y="3.3" text-anchor="middle" font-size="9.0" class="s">-0.4</text>
<text transform="translate(450.4 500.4) rotate(-59.9)" y="3.3" text-anchor="middle" font-size="9.0" class="s">0.4</text>
<text transform="translate(466.8 340.6) rotate(-75.5)" y="3.3" text-anchor="middle" font-size="9.0" class="s">0.8</text>
<text transform="translate(516.8 426.0) rotate(-90.0)" y="3.3" text-anchor="middle" font-size="9.0" class="s">0.0</text>
<rect x="399.75" y="310.85" width="234.1" height="209.5" fill="none" stroke="#444" stroke-width="0.9"/>
<path d="M399.8 520.4v-2.6M399.8 310.85v2.6M438.8 520.4v-2.6M438.8 310.85v2.6M477.8 520.4v-2.6M477.8 310.85v2.6M516.8 520.4v-2.6M516.8 310.85v2.6M555.8 520.4v-2.6M555.8 310.85v2.6M594.8 520.4v-2.6M594.8 310.85v2.6M633.9 520.4v-2.6M633.9 310.85v2.6M399.75 486.6h2.6M633.85 486.6h-2.6M399.75 451.5h2.6M633.85 451.5h-2.6M399.75 416.3h2.6M633.85 416.3h-2.6M399.75 381.2h2.6M633.85 381.2h-2.6M399.75 346.0h2.6M633.85 346.0h-2.6M399.75 310.9h2.6M633.85 310.9h-2.6" stroke="#222" stroke-width="0.6" fill="none"/>
<text x="399.8" y="530.1" text-anchor="middle" font-size="8.7" class="s">0.5</text>
<text x="438.8" y="530.1" text-anchor="middle" font-size="8.7" class="s">1.0</text>
<text x="477.8" y="530.1" text-anchor="middle" font-size="8.7" class="s">1.5</text>
<text x="516.8" y="530.1" text-anchor="middle" font-size="8.7" class="s">2.0</text>
<text x="555.8" y="530.1" text-anchor="middle" font-size="8.7" class="s">2.5</text>
<text x="594.8" y="530.1" text-anchor="middle" font-size="8.7" class="s">3.0</text>
<text x="633.9" y="530.1" text-anchor="middle" font-size="8.7" class="s">3.5</text>
<text x="396.6" y="489.4" text-anchor="end" font-size="8.7" class="s">0.5</text>
<text x="396.6" y="454.3" text-anchor="end" font-size="8.7" class="s">1.0</text>
<text x="396.6" y="419.1" text-anchor="end" font-size="8.7" class="s">1.5</text>
<text x="396.6" y="384.0" text-anchor="end" font-size="8.7" class="s">2.0</text>
<text x="396.6" y="348.8" text-anchor="end" font-size="8.7" class="s">2.5</text>
<text x="396.6" y="313.7" text-anchor="end" font-size="8.7" class="s">3.0</text>
<text x="516.8" y="548.4" text-anchor="middle" font-size="15.3" class="mi" style="letter-spacing:.6px">ρ<tspan dy="3.1" font-size="10.7" font-style="normal">1</tspan><tspan dy="-1.3" font-style="normal" font-size="19.9">/</tspan><tspan dy="-1.8" font-size="1"> </tspan>ρ<tspan dy="3.1" font-size="10.7" font-style="normal">0</tspan></text>
<text transform="translate(374.4 415.6) rotate(-90)" text-anchor="middle" font-size="15.3" class="mi">kx<tspan dy="3.1" font-size="10.7" font-style="normal">0</tspan></text>
<rect x="644.35" y="310.85" width="14.9" height="209.5" fill="none" stroke="#444" stroke-width="0.9"/>
<text x="661.6" y="314.0" font-size="8.7" class="s">1.0</text>
<text x="661.6" y="335.0" font-size="8.7" class="s">0.8</text>
<text x="661.6" y="355.9" font-size="8.7" class="s">0.6</text>
<text x="661.6" y="376.9" font-size="8.7" class="s">0.4</text>
<text x="661.6" y="397.8" font-size="8.7" class="s">0.2</text>
<text x="661.6" y="418.8" font-size="8.7" class="s">0.0</text>
<text x="661.6" y="439.8" font-size="8.7" class="s">-0.2</text>
<text x="661.6" y="460.7" font-size="8.7" class="s">-0.4</text>
<text x="661.6" y="481.7" font-size="8.7" class="s">-0.6</text>
<text x="661.6" y="502.6" font-size="8.7" class="s">-0.8</text>
<text x="661.6" y="523.6" font-size="8.7" class="s">-1.0</text>
<path d="M659.25 310.8h-2.4M659.25 331.8h-2.4M659.25 352.7h-2.4M659.25 373.7h-2.4M659.25 394.6h-2.4M659.25 415.6h-2.4M659.25 436.6h-2.4M659.25 457.5h-2.4M659.25 478.5h-2.4M659.25 499.4h-2.4M659.25 520.4h-2.4" stroke="#222" stroke-width="0.6" fill="none"/>
<text transform="translate(695.0 415.6) rotate(-90)" text-anchor="middle" font-size="15.3" class="mi"><tspan font-style="normal">Δ</tspan><tspan dy="3.1" font-size="10.7" font-style="normal">min</tspan><tspan dy="-1.3" font-style="normal" font-size="19.9">/</tspan><tspan dy="-1.8" font-size="1"> </tspan>x<tspan dy="3.1" font-size="10.7" font-style="normal">0</tspan></text>
<text x="169" y="273.3" text-anchor="middle" font-size="12.8" class="c" letter-spacing="0.58">(a) Quasi-kink</text>
<text x="521.5" y="273.3" text-anchor="middle" font-size="12.8" class="c" letter-spacing="0.58">(b) Quasi-sausage</text>
<text x="169" y="570.0" text-anchor="middle" font-size="12.8" class="c" letter-spacing="0.58">(c) Quasi-kink</text>
<text x="521.5" y="570.0" text-anchor="middle" font-size="12.8" class="c" letter-spacing="0.58">(d) Quasi-sausage</text>
</svg>
</body></html>
